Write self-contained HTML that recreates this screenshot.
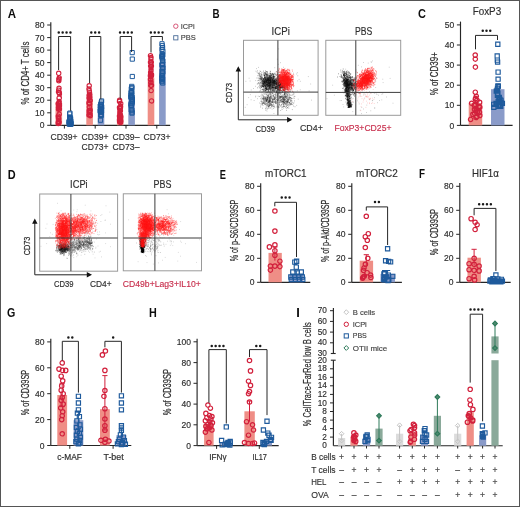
<!DOCTYPE html><html><head><meta charset="utf-8"><style>html,body{margin:0;padding:0;background:#fff}div{will-change:transform}svg{display:block}</style></head><body><div><svg width="520" height="507" viewBox="0 0 520 507" font-family="Liberation Sans, sans-serif"><rect x="0.5" y="0.5" width="519" height="506" fill="#fff" stroke="#555" stroke-width="1"/><text x="7.7" y="17.6" font-size="12.8" fill="#0d0d0d" font-weight="bold" textLength="8.3" lengthAdjust="spacingAndGlyphs">A</text><path d="M50.8 22.3L50.8 125.3" stroke="#262626" stroke-width="1.15"/><path d="M47.2 125.3L50.8 125.3" stroke="#262626" stroke-width="1"/><text x="44.6" y="128.4" font-size="9.0" fill="#2e2e2e" text-anchor="end" stroke="#2e2e2e" stroke-width="0.16" textLength="4.75" lengthAdjust="spacingAndGlyphs">0</text><path d="M47.2 112.8L50.8 112.8" stroke="#262626" stroke-width="1"/><text x="44.6" y="115.9" font-size="9.0" fill="#2e2e2e" text-anchor="end" stroke="#2e2e2e" stroke-width="0.16" textLength="9.5" lengthAdjust="spacingAndGlyphs">10</text><path d="M47.2 100.2L50.8 100.2" stroke="#262626" stroke-width="1"/><text x="44.6" y="103.3" font-size="9.0" fill="#2e2e2e" text-anchor="end" stroke="#2e2e2e" stroke-width="0.16" textLength="9.5" lengthAdjust="spacingAndGlyphs">20</text><path d="M47.2 87.7L50.8 87.7" stroke="#262626" stroke-width="1"/><text x="44.6" y="90.8" font-size="9.0" fill="#2e2e2e" text-anchor="end" stroke="#2e2e2e" stroke-width="0.16" textLength="9.5" lengthAdjust="spacingAndGlyphs">30</text><path d="M47.2 75.2L50.8 75.2" stroke="#262626" stroke-width="1"/><text x="44.6" y="78.3" font-size="9.0" fill="#2e2e2e" text-anchor="end" stroke="#2e2e2e" stroke-width="0.16" textLength="9.5" lengthAdjust="spacingAndGlyphs">40</text><path d="M47.2 62.6L50.8 62.6" stroke="#262626" stroke-width="1"/><text x="44.6" y="65.7" font-size="9.0" fill="#2e2e2e" text-anchor="end" stroke="#2e2e2e" stroke-width="0.16" textLength="9.5" lengthAdjust="spacingAndGlyphs">50</text><path d="M47.2 50.1L50.8 50.1" stroke="#262626" stroke-width="1"/><text x="44.6" y="53.2" font-size="9.0" fill="#2e2e2e" text-anchor="end" stroke="#2e2e2e" stroke-width="0.16" textLength="9.5" lengthAdjust="spacingAndGlyphs">60</text><path d="M47.2 37.6L50.8 37.6" stroke="#262626" stroke-width="1"/><text x="44.6" y="40.7" font-size="9.0" fill="#2e2e2e" text-anchor="end" stroke="#2e2e2e" stroke-width="0.16" textLength="9.5" lengthAdjust="spacingAndGlyphs">70</text><path d="M47.2 25.0L50.8 25.0" stroke="#262626" stroke-width="1"/><text x="44.6" y="28.1" font-size="9.0" fill="#2e2e2e" text-anchor="end" stroke="#2e2e2e" stroke-width="0.16" textLength="9.5" lengthAdjust="spacingAndGlyphs">80</text><path d="M50.8 125.3L170.2 125.3" stroke="#262626" stroke-width="1.15"/><path d="M64.4 125.3L64.4 128.6" stroke="#262626" stroke-width="1"/><path d="M95.2 125.3L95.2 128.6" stroke="#262626" stroke-width="1"/><path d="M126.0 125.3L126.0 128.6" stroke="#262626" stroke-width="1"/><path d="M156.8 125.3L156.8 128.6" stroke="#262626" stroke-width="1"/><text x="28.7" y="73.0" font-size="10" fill="#2e2e2e" text-anchor="middle" stroke="#2e2e2e" stroke-width="0.22" textLength="63" lengthAdjust="spacingAndGlyphs" transform="rotate(-90 28.7 73.0)">% of CD4+ T cells</text><rect x="55.5" y="102.7" width="6.6" height="22.6" fill="#ef8e86"/><rect x="66.7" y="119.7" width="6.6" height="5.6" fill="#8a9bc9"/><rect x="86.3" y="100.2" width="6.6" height="25.1" fill="#ef8e86"/><rect x="97.7" y="111.5" width="6.6" height="13.8" fill="#8a9bc9"/><rect x="116.9" y="115.3" width="6.6" height="10.0" fill="#ef8e86"/><rect x="128.3" y="100.2" width="6.6" height="25.1" fill="#8a9bc9"/><rect x="147.7" y="77.7" width="6.6" height="47.6" fill="#ef8e86"/><rect x="159.1" y="62.6" width="6.6" height="62.7" fill="#8a9bc9"/><path d="M56.5 73.3a2.2 2.2 0 1 0 4.4 0a2.2 2.2 0 1 0 -4.4 0M57.0 77.7a2.2 2.2 0 1 0 4.4 0a2.2 2.2 0 1 0 -4.4 0M56.6 78.9a2.2 2.2 0 1 0 4.4 0a2.2 2.2 0 1 0 -4.4 0M56.8 79.5a2.2 2.2 0 1 0 4.4 0a2.2 2.2 0 1 0 -4.4 0M56.6 80.8a2.2 2.2 0 1 0 4.4 0a2.2 2.2 0 1 0 -4.4 0M56.8 88.3a2.2 2.2 0 1 0 4.4 0a2.2 2.2 0 1 0 -4.4 0M56.5 90.2a2.2 2.2 0 1 0 4.4 0a2.2 2.2 0 1 0 -4.4 0M56.3 109.3a2.2 2.2 0 1 0 4.4 0a2.2 2.2 0 1 0 -4.4 0M57.2 105.8a2.2 2.2 0 1 0 4.4 0a2.2 2.2 0 1 0 -4.4 0M57.2 93.9a2.2 2.2 0 1 0 4.4 0a2.2 2.2 0 1 0 -4.4 0M57.0 108.9a2.2 2.2 0 1 0 4.4 0a2.2 2.2 0 1 0 -4.4 0M56.8 107.5a2.2 2.2 0 1 0 4.4 0a2.2 2.2 0 1 0 -4.4 0M56.4 104.9a2.2 2.2 0 1 0 4.4 0a2.2 2.2 0 1 0 -4.4 0M56.3 118.0a2.2 2.2 0 1 0 4.4 0a2.2 2.2 0 1 0 -4.4 0M56.3 107.4a2.2 2.2 0 1 0 4.4 0a2.2 2.2 0 1 0 -4.4 0M56.1 103.5a2.2 2.2 0 1 0 4.4 0a2.2 2.2 0 1 0 -4.4 0M56.9 98.2a2.2 2.2 0 1 0 4.4 0a2.2 2.2 0 1 0 -4.4 0M56.5 121.0a2.2 2.2 0 1 0 4.4 0a2.2 2.2 0 1 0 -4.4 0M57.0 114.2a2.2 2.2 0 1 0 4.4 0a2.2 2.2 0 1 0 -4.4 0M56.5 121.1a2.2 2.2 0 1 0 4.4 0a2.2 2.2 0 1 0 -4.4 0M57.1 97.7a2.2 2.2 0 1 0 4.4 0a2.2 2.2 0 1 0 -4.4 0M57.0 101.4a2.2 2.2 0 1 0 4.4 0a2.2 2.2 0 1 0 -4.4 0M56.0 122.7a2.2 2.2 0 1 0 4.4 0a2.2 2.2 0 1 0 -4.4 0M56.3 92.0a2.2 2.2 0 1 0 4.4 0a2.2 2.2 0 1 0 -4.4 0M57.1 92.6a2.2 2.2 0 1 0 4.4 0a2.2 2.2 0 1 0 -4.4 0M56.6 102.7a2.2 2.2 0 1 0 4.4 0a2.2 2.2 0 1 0 -4.4 0M57.2 104.0a2.2 2.2 0 1 0 4.4 0a2.2 2.2 0 1 0 -4.4 0M56.5 118.9a2.2 2.2 0 1 0 4.4 0a2.2 2.2 0 1 0 -4.4 0M56.1 123.6a2.2 2.2 0 1 0 4.4 0a2.2 2.2 0 1 0 -4.4 0M56.8 106.8a2.2 2.2 0 1 0 4.4 0a2.2 2.2 0 1 0 -4.4 0M56.9 122.1a2.2 2.2 0 1 0 4.4 0a2.2 2.2 0 1 0 -4.4 0M56.3 117.8a2.2 2.2 0 1 0 4.4 0a2.2 2.2 0 1 0 -4.4 0M56.1 116.2a2.2 2.2 0 1 0 4.4 0a2.2 2.2 0 1 0 -4.4 0M56.4 123.1a2.2 2.2 0 1 0 4.4 0a2.2 2.2 0 1 0 -4.4 0M57.2 108.9a2.2 2.2 0 1 0 4.4 0a2.2 2.2 0 1 0 -4.4 0" fill="none" stroke="#d2203c" stroke-width="1.05"/><path d="M67.8 111.0h4.2v4.2h-4.2zM67.6 111.9h4.2v4.2h-4.2zM67.7 115.4h4.2v4.2h-4.2zM68.4 121.5h4.2v4.2h-4.2zM68.2 120.3h4.2v4.2h-4.2zM67.7 121.6h4.2v4.2h-4.2zM68.3 122.0h4.2v4.2h-4.2zM67.6 115.1h4.2v4.2h-4.2zM67.8 120.9h4.2v4.2h-4.2zM68.3 117.3h4.2v4.2h-4.2zM68.0 118.4h4.2v4.2h-4.2zM67.5 120.8h4.2v4.2h-4.2zM68.4 115.7h4.2v4.2h-4.2zM67.6 121.3h4.2v4.2h-4.2zM67.7 116.5h4.2v4.2h-4.2zM68.2 121.5h4.2v4.2h-4.2z" fill="none" stroke="#1e5a9c" stroke-width="1.0"/><path d="M67.9 120.7h4.2v4.2h-4.2zM68.1 120.9h4.2v4.2h-4.2zM68.9 122.2h4.2v4.2h-4.2zM67.1 122.1h4.2v4.2h-4.2zM67.0 119.3h4.2v4.2h-4.2zM69.0 121.2h4.2v4.2h-4.2zM68.7 119.2h4.2v4.2h-4.2zM67.2 120.5h4.2v4.2h-4.2zM67.1 120.0h4.2v4.2h-4.2zM68.5 117.2h4.2v4.2h-4.2z" fill="none" stroke="#1e5a9c" stroke-width="1.0"/><path d="M87.0 85.8a2.2 2.2 0 1 0 4.4 0a2.2 2.2 0 1 0 -4.4 0M86.8 88.9a2.2 2.2 0 1 0 4.4 0a2.2 2.2 0 1 0 -4.4 0M87.1 90.8a2.2 2.2 0 1 0 4.4 0a2.2 2.2 0 1 0 -4.4 0M87.3 92.7a2.2 2.2 0 1 0 4.4 0a2.2 2.2 0 1 0 -4.4 0M86.9 95.3a2.2 2.2 0 1 0 4.4 0a2.2 2.2 0 1 0 -4.4 0M87.0 112.1a2.2 2.2 0 1 0 4.4 0a2.2 2.2 0 1 0 -4.4 0M87.2 95.1a2.2 2.2 0 1 0 4.4 0a2.2 2.2 0 1 0 -4.4 0M87.5 96.6a2.2 2.2 0 1 0 4.4 0a2.2 2.2 0 1 0 -4.4 0M87.0 102.9a2.2 2.2 0 1 0 4.4 0a2.2 2.2 0 1 0 -4.4 0M87.2 107.0a2.2 2.2 0 1 0 4.4 0a2.2 2.2 0 1 0 -4.4 0M87.9 114.2a2.2 2.2 0 1 0 4.4 0a2.2 2.2 0 1 0 -4.4 0M88.0 115.7a2.2 2.2 0 1 0 4.4 0a2.2 2.2 0 1 0 -4.4 0M87.6 94.8a2.2 2.2 0 1 0 4.4 0a2.2 2.2 0 1 0 -4.4 0M87.6 111.1a2.2 2.2 0 1 0 4.4 0a2.2 2.2 0 1 0 -4.4 0M87.5 100.6a2.2 2.2 0 1 0 4.4 0a2.2 2.2 0 1 0 -4.4 0M87.0 110.7a2.2 2.2 0 1 0 4.4 0a2.2 2.2 0 1 0 -4.4 0M86.8 97.9a2.2 2.2 0 1 0 4.4 0a2.2 2.2 0 1 0 -4.4 0M86.8 103.1a2.2 2.2 0 1 0 4.4 0a2.2 2.2 0 1 0 -4.4 0M87.9 109.9a2.2 2.2 0 1 0 4.4 0a2.2 2.2 0 1 0 -4.4 0M87.6 112.6a2.2 2.2 0 1 0 4.4 0a2.2 2.2 0 1 0 -4.4 0M88.0 100.3a2.2 2.2 0 1 0 4.4 0a2.2 2.2 0 1 0 -4.4 0M86.8 115.0a2.2 2.2 0 1 0 4.4 0a2.2 2.2 0 1 0 -4.4 0M87.6 111.4a2.2 2.2 0 1 0 4.4 0a2.2 2.2 0 1 0 -4.4 0M87.4 103.9a2.2 2.2 0 1 0 4.4 0a2.2 2.2 0 1 0 -4.4 0M87.7 97.3a2.2 2.2 0 1 0 4.4 0a2.2 2.2 0 1 0 -4.4 0M87.2 102.7a2.2 2.2 0 1 0 4.4 0a2.2 2.2 0 1 0 -4.4 0M88.0 110.2a2.2 2.2 0 1 0 4.4 0a2.2 2.2 0 1 0 -4.4 0M86.9 95.8a2.2 2.2 0 1 0 4.4 0a2.2 2.2 0 1 0 -4.4 0" fill="none" stroke="#d2203c" stroke-width="1.05"/><path d="M99.5 98.9h4.2v4.2h-4.2zM99.3 100.0h4.2v4.2h-4.2zM98.7 101.9h4.2v4.2h-4.2zM99.3 110.2h4.2v4.2h-4.2zM99.0 107.0h4.2v4.2h-4.2zM98.8 104.2h4.2v4.2h-4.2zM99.4 107.0h4.2v4.2h-4.2zM98.2 107.5h4.2v4.2h-4.2zM99.3 106.0h4.2v4.2h-4.2zM98.1 104.0h4.2v4.2h-4.2zM99.1 113.5h4.2v4.2h-4.2zM98.9 107.8h4.2v4.2h-4.2zM98.5 104.2h4.2v4.2h-4.2zM99.2 104.7h4.2v4.2h-4.2zM98.9 112.4h4.2v4.2h-4.2zM99.1 106.1h4.2v4.2h-4.2zM99.6 104.8h4.2v4.2h-4.2zM98.5 109.7h4.2v4.2h-4.2zM98.1 108.9h4.2v4.2h-4.2zM98.6 113.0h4.2v4.2h-4.2zM99.2 109.6h4.2v4.2h-4.2zM98.4 109.1h4.2v4.2h-4.2zM98.4 118.1h4.2v4.2h-4.2zM99.5 108.6h4.2v4.2h-4.2zM99.2 102.6h4.2v4.2h-4.2z" fill="none" stroke="#1e5a9c" stroke-width="1.0"/><path d="M117.4 100.2a2.2 2.2 0 1 0 4.4 0a2.2 2.2 0 1 0 -4.4 0M117.3 101.5a2.2 2.2 0 1 0 4.4 0a2.2 2.2 0 1 0 -4.4 0M118.5 103.4a2.2 2.2 0 1 0 4.4 0a2.2 2.2 0 1 0 -4.4 0M117.4 115.7a2.2 2.2 0 1 0 4.4 0a2.2 2.2 0 1 0 -4.4 0M118.3 107.3a2.2 2.2 0 1 0 4.4 0a2.2 2.2 0 1 0 -4.4 0M118.1 117.9a2.2 2.2 0 1 0 4.4 0a2.2 2.2 0 1 0 -4.4 0M117.7 111.5a2.2 2.2 0 1 0 4.4 0a2.2 2.2 0 1 0 -4.4 0M118.4 120.3a2.2 2.2 0 1 0 4.4 0a2.2 2.2 0 1 0 -4.4 0M117.3 115.9a2.2 2.2 0 1 0 4.4 0a2.2 2.2 0 1 0 -4.4 0M117.5 108.9a2.2 2.2 0 1 0 4.4 0a2.2 2.2 0 1 0 -4.4 0M117.9 106.9a2.2 2.2 0 1 0 4.4 0a2.2 2.2 0 1 0 -4.4 0M117.3 107.5a2.2 2.2 0 1 0 4.4 0a2.2 2.2 0 1 0 -4.4 0M118.5 116.8a2.2 2.2 0 1 0 4.4 0a2.2 2.2 0 1 0 -4.4 0M117.6 113.1a2.2 2.2 0 1 0 4.4 0a2.2 2.2 0 1 0 -4.4 0M117.5 118.1a2.2 2.2 0 1 0 4.4 0a2.2 2.2 0 1 0 -4.4 0M117.4 121.5a2.2 2.2 0 1 0 4.4 0a2.2 2.2 0 1 0 -4.4 0M118.2 114.7a2.2 2.2 0 1 0 4.4 0a2.2 2.2 0 1 0 -4.4 0M117.9 108.3a2.2 2.2 0 1 0 4.4 0a2.2 2.2 0 1 0 -4.4 0M118.2 108.1a2.2 2.2 0 1 0 4.4 0a2.2 2.2 0 1 0 -4.4 0M118.2 110.7a2.2 2.2 0 1 0 4.4 0a2.2 2.2 0 1 0 -4.4 0M118.4 106.2a2.2 2.2 0 1 0 4.4 0a2.2 2.2 0 1 0 -4.4 0M118.6 121.3a2.2 2.2 0 1 0 4.4 0a2.2 2.2 0 1 0 -4.4 0M118.3 122.4a2.2 2.2 0 1 0 4.4 0a2.2 2.2 0 1 0 -4.4 0M117.6 119.5a2.2 2.2 0 1 0 4.4 0a2.2 2.2 0 1 0 -4.4 0M118.0 121.3a2.2 2.2 0 1 0 4.4 0a2.2 2.2 0 1 0 -4.4 0M117.6 121.9a2.2 2.2 0 1 0 4.4 0a2.2 2.2 0 1 0 -4.4 0M117.3 119.9a2.2 2.2 0 1 0 4.4 0a2.2 2.2 0 1 0 -4.4 0M118.0 117.8a2.2 2.2 0 1 0 4.4 0a2.2 2.2 0 1 0 -4.4 0M118.3 119.1a2.2 2.2 0 1 0 4.4 0a2.2 2.2 0 1 0 -4.4 0M117.6 120.9a2.2 2.2 0 1 0 4.4 0a2.2 2.2 0 1 0 -4.4 0M117.7 115.6a2.2 2.2 0 1 0 4.4 0a2.2 2.2 0 1 0 -4.4 0M117.8 114.2a2.2 2.2 0 1 0 4.4 0a2.2 2.2 0 1 0 -4.4 0M118.3 119.5a2.2 2.2 0 1 0 4.4 0a2.2 2.2 0 1 0 -4.4 0" fill="none" stroke="#d2203c" stroke-width="1.05"/><path d="M130.1 50.5h4.2v4.2h-4.2zM130.2 57.0h4.2v4.2h-4.2zM130.2 74.4h4.2v4.2h-4.2zM129.6 84.3h4.2v4.2h-4.2zM129.9 85.6h4.2v4.2h-4.2zM129.2 86.8h4.2v4.2h-4.2zM130.1 100.1h4.2v4.2h-4.2zM130.0 97.8h4.2v4.2h-4.2zM129.3 94.2h4.2v4.2h-4.2zM128.9 103.3h4.2v4.2h-4.2zM129.4 93.3h4.2v4.2h-4.2zM129.6 90.5h4.2v4.2h-4.2zM129.9 111.0h4.2v4.2h-4.2zM129.5 89.8h4.2v4.2h-4.2zM128.8 95.1h4.2v4.2h-4.2zM129.9 109.9h4.2v4.2h-4.2zM128.9 101.8h4.2v4.2h-4.2zM129.9 97.5h4.2v4.2h-4.2zM129.0 90.4h4.2v4.2h-4.2zM129.3 103.7h4.2v4.2h-4.2zM129.9 98.9h4.2v4.2h-4.2zM129.0 91.1h4.2v4.2h-4.2zM129.0 93.2h4.2v4.2h-4.2zM129.5 89.5h4.2v4.2h-4.2zM129.8 101.5h4.2v4.2h-4.2zM130.0 96.8h4.2v4.2h-4.2zM129.8 108.0h4.2v4.2h-4.2zM130.1 95.1h4.2v4.2h-4.2zM129.5 92.7h4.2v4.2h-4.2zM130.1 97.1h4.2v4.2h-4.2zM128.9 95.2h4.2v4.2h-4.2zM129.1 107.8h4.2v4.2h-4.2z" fill="none" stroke="#1e5a9c" stroke-width="1.0"/><path d="M148.3 55.7a2.2 2.2 0 1 0 4.4 0a2.2 2.2 0 1 0 -4.4 0M148.8 57.6a2.2 2.2 0 1 0 4.4 0a2.2 2.2 0 1 0 -4.4 0M148.7 58.9a2.2 2.2 0 1 0 4.4 0a2.2 2.2 0 1 0 -4.4 0M149.3 100.9a2.2 2.2 0 1 0 4.4 0a2.2 2.2 0 1 0 -4.4 0M149.3 75.6a2.2 2.2 0 1 0 4.4 0a2.2 2.2 0 1 0 -4.4 0M148.5 82.7a2.2 2.2 0 1 0 4.4 0a2.2 2.2 0 1 0 -4.4 0M148.8 69.5a2.2 2.2 0 1 0 4.4 0a2.2 2.2 0 1 0 -4.4 0M148.4 72.2a2.2 2.2 0 1 0 4.4 0a2.2 2.2 0 1 0 -4.4 0M148.7 75.7a2.2 2.2 0 1 0 4.4 0a2.2 2.2 0 1 0 -4.4 0M149.2 66.1a2.2 2.2 0 1 0 4.4 0a2.2 2.2 0 1 0 -4.4 0M149.3 74.6a2.2 2.2 0 1 0 4.4 0a2.2 2.2 0 1 0 -4.4 0M148.8 82.1a2.2 2.2 0 1 0 4.4 0a2.2 2.2 0 1 0 -4.4 0M148.6 80.0a2.2 2.2 0 1 0 4.4 0a2.2 2.2 0 1 0 -4.4 0M148.4 66.0a2.2 2.2 0 1 0 4.4 0a2.2 2.2 0 1 0 -4.4 0M148.9 64.4a2.2 2.2 0 1 0 4.4 0a2.2 2.2 0 1 0 -4.4 0M149.3 85.2a2.2 2.2 0 1 0 4.4 0a2.2 2.2 0 1 0 -4.4 0M148.4 65.9a2.2 2.2 0 1 0 4.4 0a2.2 2.2 0 1 0 -4.4 0M149.1 62.3a2.2 2.2 0 1 0 4.4 0a2.2 2.2 0 1 0 -4.4 0M148.2 75.7a2.2 2.2 0 1 0 4.4 0a2.2 2.2 0 1 0 -4.4 0M148.4 74.2a2.2 2.2 0 1 0 4.4 0a2.2 2.2 0 1 0 -4.4 0M148.5 85.4a2.2 2.2 0 1 0 4.4 0a2.2 2.2 0 1 0 -4.4 0M149.0 75.3a2.2 2.2 0 1 0 4.4 0a2.2 2.2 0 1 0 -4.4 0M148.6 76.3a2.2 2.2 0 1 0 4.4 0a2.2 2.2 0 1 0 -4.4 0M148.6 73.2a2.2 2.2 0 1 0 4.4 0a2.2 2.2 0 1 0 -4.4 0M148.9 90.6a2.2 2.2 0 1 0 4.4 0a2.2 2.2 0 1 0 -4.4 0M148.3 62.3a2.2 2.2 0 1 0 4.4 0a2.2 2.2 0 1 0 -4.4 0M149.1 75.9a2.2 2.2 0 1 0 4.4 0a2.2 2.2 0 1 0 -4.4 0M148.3 79.4a2.2 2.2 0 1 0 4.4 0a2.2 2.2 0 1 0 -4.4 0M148.8 67.4a2.2 2.2 0 1 0 4.4 0a2.2 2.2 0 1 0 -4.4 0M148.5 74.5a2.2 2.2 0 1 0 4.4 0a2.2 2.2 0 1 0 -4.4 0M148.4 76.7a2.2 2.2 0 1 0 4.4 0a2.2 2.2 0 1 0 -4.4 0M148.8 70.7a2.2 2.2 0 1 0 4.4 0a2.2 2.2 0 1 0 -4.4 0" fill="none" stroke="#d2203c" stroke-width="1.05"/><path d="M159.9 41.7h4.2v4.2h-4.2zM160.2 43.6h4.2v4.2h-4.2zM160.5 45.5h4.2v4.2h-4.2zM159.8 47.4h4.2v4.2h-4.2zM160.0 69.0h4.2v4.2h-4.2zM160.5 71.2h4.2v4.2h-4.2zM160.7 69.8h4.2v4.2h-4.2zM160.8 65.8h4.2v4.2h-4.2zM159.9 78.7h4.2v4.2h-4.2zM160.3 77.2h4.2v4.2h-4.2zM160.6 62.2h4.2v4.2h-4.2zM160.3 61.9h4.2v4.2h-4.2zM160.5 65.8h4.2v4.2h-4.2zM160.0 54.5h4.2v4.2h-4.2zM159.9 62.9h4.2v4.2h-4.2zM159.9 54.3h4.2v4.2h-4.2zM159.8 76.2h4.2v4.2h-4.2zM160.4 58.3h4.2v4.2h-4.2zM160.3 55.9h4.2v4.2h-4.2zM160.4 52.7h4.2v4.2h-4.2zM159.9 73.3h4.2v4.2h-4.2zM160.0 73.3h4.2v4.2h-4.2zM160.0 52.0h4.2v4.2h-4.2zM160.6 76.7h4.2v4.2h-4.2zM160.8 49.3h4.2v4.2h-4.2zM160.7 53.2h4.2v4.2h-4.2zM159.9 79.6h4.2v4.2h-4.2zM159.9 75.9h4.2v4.2h-4.2zM160.8 58.8h4.2v4.2h-4.2zM160.3 75.2h4.2v4.2h-4.2zM160.6 80.9h4.2v4.2h-4.2zM160.1 55.1h4.2v4.2h-4.2zM160.3 69.5h4.2v4.2h-4.2zM160.3 56.6h4.2v4.2h-4.2z" fill="none" stroke="#1e5a9c" stroke-width="1.0"/><path d="M58.6 70.0V36.5H70.6V110.8" fill="none" stroke="#262626" stroke-width="1.0"/><path d="M57.50 32.4a1.25 1.25 0 1 0 2.5 0a1.25 1.25 0 1 0 -2.5 0M61.40 32.4a1.25 1.25 0 1 0 2.5 0a1.25 1.25 0 1 0 -2.5 0M65.30 32.4a1.25 1.25 0 1 0 2.5 0a1.25 1.25 0 1 0 -2.5 0M69.20 32.4a1.25 1.25 0 1 0 2.5 0a1.25 1.25 0 1 0 -2.5 0" fill="#1a1a1a"/><path d="M89.6 83.0V36.5H100.8V99.2" fill="none" stroke="#262626" stroke-width="1.0"/><path d="M90.05 32.4a1.25 1.25 0 1 0 2.5 0a1.25 1.25 0 1 0 -2.5 0M93.95 32.4a1.25 1.25 0 1 0 2.5 0a1.25 1.25 0 1 0 -2.5 0M97.85 32.4a1.25 1.25 0 1 0 2.5 0a1.25 1.25 0 1 0 -2.5 0" fill="#1a1a1a"/><path d="M120.2 99.0V36.5H131.6V52.0" fill="none" stroke="#262626" stroke-width="1.0"/><path d="M118.80 32.4a1.25 1.25 0 1 0 2.5 0a1.25 1.25 0 1 0 -2.5 0M122.70 32.4a1.25 1.25 0 1 0 2.5 0a1.25 1.25 0 1 0 -2.5 0M126.60 32.4a1.25 1.25 0 1 0 2.5 0a1.25 1.25 0 1 0 -2.5 0M130.50 32.4a1.25 1.25 0 1 0 2.5 0a1.25 1.25 0 1 0 -2.5 0" fill="#1a1a1a"/><path d="M151.0 52.5V36.5H162.4V40.7" fill="none" stroke="#262626" stroke-width="1.0"/><path d="M149.60 32.4a1.25 1.25 0 1 0 2.5 0a1.25 1.25 0 1 0 -2.5 0M153.50 32.4a1.25 1.25 0 1 0 2.5 0a1.25 1.25 0 1 0 -2.5 0M157.40 32.4a1.25 1.25 0 1 0 2.5 0a1.25 1.25 0 1 0 -2.5 0M161.30 32.4a1.25 1.25 0 1 0 2.5 0a1.25 1.25 0 1 0 -2.5 0" fill="#1a1a1a"/><circle cx="175.8" cy="26.2" r="2.2" fill="none" stroke="#d2456a" stroke-width="0.9"/><text x="180.8" y="28.7" font-size="7.6" fill="#444" stroke="#444" stroke-width="0.16" textLength="13.8" lengthAdjust="spacingAndGlyphs">ICPi</text><rect x="173.7" y="35.7" width="4.2" height="4.2" fill="none" stroke="#4a6c98" stroke-width="0.9"/><text x="180.8" y="40.4" font-size="7.6" fill="#444" stroke="#444" stroke-width="0.16" textLength="15" lengthAdjust="spacingAndGlyphs">PBS</text><text x="64.0" y="139.5" font-size="9.6" fill="#2e2e2e" text-anchor="middle" stroke="#2e2e2e" stroke-width="0.16" textLength="27" lengthAdjust="spacingAndGlyphs">CD39+</text><text x="95.0" y="139.5" font-size="9.6" fill="#2e2e2e" text-anchor="middle" stroke="#2e2e2e" stroke-width="0.16" textLength="27" lengthAdjust="spacingAndGlyphs">CD39+</text><text x="95.0" y="149.7" font-size="9.6" fill="#2e2e2e" text-anchor="middle" stroke="#2e2e2e" stroke-width="0.16" textLength="27" lengthAdjust="spacingAndGlyphs">CD73+</text><text x="126.0" y="139.5" font-size="9.6" fill="#2e2e2e" text-anchor="middle" stroke="#2e2e2e" stroke-width="0.16" textLength="27" lengthAdjust="spacingAndGlyphs">CD39–</text><text x="126.0" y="149.7" font-size="9.6" fill="#2e2e2e" text-anchor="middle" stroke="#2e2e2e" stroke-width="0.16" textLength="27" lengthAdjust="spacingAndGlyphs">CD73–</text><text x="157.0" y="139.5" font-size="9.6" fill="#2e2e2e" text-anchor="middle" stroke="#2e2e2e" stroke-width="0.16" textLength="27" lengthAdjust="spacingAndGlyphs">CD73+</text><text x="212.6" y="17.6" font-size="12.8" fill="#0d0d0d" font-weight="bold" textLength="7.1" lengthAdjust="spacingAndGlyphs">B</text><text x="280.7" y="34.8" font-size="10.3" fill="#2e2e2e" text-anchor="middle" stroke="#2e2e2e" stroke-width="0.16" textLength="18.2" lengthAdjust="spacingAndGlyphs">ICPi</text><text x="363.6" y="34.8" font-size="10.3" fill="#2e2e2e" text-anchor="middle" stroke="#2e2e2e" stroke-width="0.16" textLength="17.3" lengthAdjust="spacingAndGlyphs">PBS</text><rect x="243.5" y="40.3" width="74.6" height="75.0" fill="none" stroke="#9a9a9a" stroke-width="1"/><rect x="325.8" y="40.3" width="74.9" height="75.0" fill="none" stroke="#9a9a9a" stroke-width="1"/><path d="M255.4 96.1h0.8M299.8 89.8h0.8M280.6 80.7h0.8M249.9 94.6h0.8M266.3 93.2h0.8M284.8 102.5h0.8M308.7 90.9h0.8M283.0 67.3h0.8M289.4 72.9h0.8M257.1 98.7h0.8M279.2 77.8h0.8M297.4 75.8h0.8M280.1 62.7h0.8M246.7 104.7h0.8M293.0 73.2h0.8M277.9 64.3h0.8M253.7 100.5h0.8M288.2 93.5h0.8M272.7 88.4h0.8M260.9 103.7h0.8M266.7 80.8h0.8M297.3 80.9h0.8M262.7 105.5h0.8M257.1 80.7h0.8M259.4 71.0h0.8M278.3 48.9h0.8M296.9 90.8h0.8M274.1 77.2h0.8M270.8 90.6h0.8M280.2 100.8h0.8M284.9 94.2h0.8M291.8 78.1h0.8M256.1 68.6h0.8M294.2 96.7h0.8M275.3 83.8h0.8M283.6 84.5h0.8M265.4 89.5h0.8M253.0 88.5h0.8M311.0 100.1h0.8M257.8 96.2h0.8M262.5 80.3h0.8M269.8 107.9h0.8M262.9 83.7h0.8M272.2 76.5h0.8M286.9 88.9h0.8M284.0 90.2h0.8M275.5 74.1h0.8M296.3 74.0h0.8M280.9 86.1h0.8M289.1 79.7h0.8M275.8 105.0h0.8M298.7 79.4h0.8M283.9 70.6h0.8M291.8 101.0h0.8M264.6 90.6h0.8M293.6 93.5h0.8M287.3 98.7h0.8M266.3 74.6h0.8M273.4 106.4h0.8M250.7 99.8h0.8M299.9 81.3h0.8M275.6 94.9h0.8M296.9 72.7h0.8M264.3 78.7h0.8M271.7 109.1h0.8M255.3 80.6h0.8M257.1 70.6h0.8M279.5 97.8h0.8M310.3 84.0h0.8M278.3 85.3h0.8M286.8 92.1h0.8M255.1 96.9h0.8M291.0 98.5h0.8M281.1 90.6h0.8M266.0 72.2h0.8M264.5 78.1h0.8M264.1 89.3h0.8M260.3 107.2h0.8M278.3 83.3h0.8M296.3 105.4h0.8M255.5 71.2h0.8M278.9 102.3h0.8M273.5 113.5h0.8M259.2 103.0h0.8M289.2 87.2h0.8M249.7 81.0h0.8M289.9 80.9h0.8M270.1 92.6h0.8M279.6 84.0h0.8M292.9 97.0h0.8M250.8 90.0h0.8M266.6 111.1h0.8M284.8 92.5h0.8M271.5 83.1h0.8M266.5 109.2h0.8M270.5 77.3h0.8M284.4 98.3h0.8M272.7 74.8h0.8M293.6 102.8h0.8M307.9 76.6h0.8M248.3 97.6h0.8M270.3 99.5h0.8M244.8 107.3h0.8M284.5 81.5h0.8M265.1 98.2h0.8M264.5 98.6h0.8M267.0 94.0h0.8M248.7 78.2h0.8M245.5 81.3h0.8M265.8 84.6h0.8M276.9 59.2h0.8M274.3 90.9h0.8M255.0 86.3h0.8M258.2 67.4h0.8M293.5 94.9h0.8M276.6 82.3h0.8M297.8 99.2h0.8M280.4 84.5h0.8M269.1 82.2h0.8M274.4 67.7h0.8" stroke="#000" stroke-width="0.8" stroke-opacity="0.3" fill="none"/><path d="M269.1 85.4h0.8M269.6 76.3h0.8M269.5 77.3h0.8M261.6 92.0h0.8M266.0 76.8h0.8M260.6 79.5h0.8M265.9 71.5h0.8M260.4 86.0h0.8M263.7 73.4h0.8M272.5 73.8h0.8M279.4 75.2h0.8M264.8 77.1h0.8M266.6 73.5h0.8M264.0 83.9h0.8M274.4 88.7h0.8M274.2 82.2h0.8M270.8 85.0h0.8M265.0 83.4h0.8M270.9 81.8h0.8M268.0 84.1h0.8M263.4 74.9h0.8M269.8 83.6h0.8M262.1 83.0h0.8M270.2 81.4h0.8M271.7 84.2h0.8M269.8 85.5h0.8M267.5 75.6h0.8M269.6 85.1h0.8M268.4 84.8h0.8M269.2 77.9h0.8M259.5 78.5h0.8M264.8 82.1h0.8M278.1 75.9h0.8M265.3 86.7h0.8M275.0 81.1h0.8M269.3 83.5h0.8M278.2 80.0h0.8M264.0 85.4h0.8M264.7 81.2h0.8M276.9 82.3h0.8M269.1 82.7h0.8M263.9 82.3h0.8M271.5 75.0h0.8M266.5 80.1h0.8M271.6 85.7h0.8M268.4 91.6h0.8M261.4 80.6h0.8M273.2 82.2h0.8M266.0 81.1h0.8M269.0 81.8h0.8M273.5 74.1h0.8M270.0 80.3h0.8M267.9 89.4h0.8M274.1 85.6h0.8M259.9 76.3h0.8M265.9 89.7h0.8M258.6 86.4h0.8M277.5 87.6h0.8M270.7 87.9h0.8M265.9 81.3h0.8M271.3 78.6h0.8M268.2 83.7h0.8M266.9 86.8h0.8M267.9 77.5h0.8M268.0 79.8h0.8M264.3 84.9h0.8M278.9 81.0h0.8M268.5 81.3h0.8M262.9 86.7h0.8M269.5 88.2h0.8M268.2 82.1h0.8M278.7 82.4h0.8M271.0 88.5h0.8M267.7 86.4h0.8M264.6 80.6h0.8M266.2 85.8h0.8M266.9 78.6h0.8M271.7 89.6h0.8M262.8 91.5h0.8M261.0 78.3h0.8M264.0 89.4h0.8M271.5 83.7h0.8M275.7 86.6h0.8M268.1 79.0h0.8M260.6 86.5h0.8M267.0 80.7h0.8M269.5 84.8h0.8M272.9 85.8h0.8M279.9 87.7h0.8M263.2 84.0h0.8M263.5 75.0h0.8M271.3 78.0h0.8M266.3 86.1h0.8M274.4 83.0h0.8M271.0 75.4h0.8M268.2 81.3h0.8M266.6 85.6h0.8M267.5 80.0h0.8M264.4 85.6h0.8M271.4 73.6h0.8M266.6 80.0h0.8M270.2 71.8h0.8M264.2 80.2h0.8M266.0 81.7h0.8M260.5 80.5h0.8M270.8 79.4h0.8M276.1 80.4h0.8M269.7 83.9h0.8M269.2 88.3h0.8M267.4 77.8h0.8M273.6 80.5h0.8M266.3 82.3h0.8M271.9 81.8h0.8M274.6 79.1h0.8M262.6 79.1h0.8M267.9 92.3h0.8M278.9 82.4h0.8M266.8 80.3h0.8M271.0 78.7h0.8M272.2 80.1h0.8M259.9 77.2h0.8M271.7 87.8h0.8M270.2 82.7h0.8M276.3 80.1h0.8M266.1 88.4h0.8M268.6 77.3h0.8M260.8 76.6h0.8M272.6 82.6h0.8M266.1 82.3h0.8M263.7 85.6h0.8M272.0 87.4h0.8M268.4 88.1h0.8M265.2 87.6h0.8M276.8 84.4h0.8M277.4 92.3h0.8M264.1 78.4h0.8M262.6 85.0h0.8M265.6 74.2h0.8M269.1 76.5h0.8M279.3 82.6h0.8M272.4 78.4h0.8M262.6 83.9h0.8M274.5 79.2h0.8M263.3 80.7h0.8M272.9 80.0h0.8M277.2 85.3h0.8M276.1 78.1h0.8M261.6 76.8h0.8M266.6 87.8h0.8M271.5 83.3h0.8M263.0 83.3h0.8M267.6 82.8h0.8M266.8 76.3h0.8M269.3 86.1h0.8M265.9 83.9h0.8M279.8 87.3h0.8M276.8 81.2h0.8M272.8 78.6h0.8M270.3 78.9h0.8M268.9 75.8h0.8M271.0 80.9h0.8M269.7 79.7h0.8M273.0 82.4h0.8M267.5 85.9h0.8M279.6 86.8h0.8M271.2 77.8h0.8M264.6 86.6h0.8M270.3 82.5h0.8M272.7 79.9h0.8M275.0 81.8h0.8M270.2 86.0h0.8M279.2 78.2h0.8M272.5 90.9h0.8M265.3 86.0h0.8M274.2 91.1h0.8M272.6 82.2h0.8M266.6 79.5h0.8M270.3 81.1h0.8M275.8 87.4h0.8M264.5 91.1h0.8M274.8 77.0h0.8M274.5 88.0h0.8M274.4 80.5h0.8M272.4 83.9h0.8M266.0 88.8h0.8M270.1 84.9h0.8M269.7 89.1h0.8M270.3 77.7h0.8M263.1 73.0h0.8M265.7 79.9h0.8M265.1 92.0h0.8M266.8 78.5h0.8M267.5 80.3h0.8M274.8 82.0h0.8M262.5 80.4h0.8M276.0 84.4h0.8M268.1 85.5h0.8M269.8 80.1h0.8M267.0 89.6h0.8M269.1 85.9h0.8M265.7 80.8h0.8M274.9 83.6h0.8M269.0 77.3h0.8M274.7 80.1h0.8M271.9 87.8h0.8M265.9 78.2h0.8M263.9 74.5h0.8M262.6 80.8h0.8M273.6 76.4h0.8M273.3 89.8h0.8M272.8 88.0h0.8M269.5 87.2h0.8M270.4 73.8h0.8M270.0 78.7h0.8M265.2 81.9h0.8M263.4 78.8h0.8M276.1 84.0h0.8M267.5 75.8h0.8M271.4 80.1h0.8M269.6 82.8h0.8M263.2 81.6h0.8M265.1 83.0h0.8M269.6 80.3h0.8M274.9 79.1h0.8M259.8 78.9h0.8M269.2 84.7h0.8M268.4 83.2h0.8M266.0 87.9h0.8M264.8 81.0h0.8M267.0 80.7h0.8M270.4 79.5h0.8M268.9 84.8h0.8M265.3 73.3h0.8M269.4 80.4h0.8M264.6 84.0h0.8M275.0 84.0h0.8M272.7 86.5h0.8M269.0 80.6h0.8M269.7 92.1h0.8M272.4 86.0h0.8M267.3 86.6h0.8M270.3 82.7h0.8M278.2 82.6h0.8M268.6 78.5h0.8M268.9 88.0h0.8M269.3 87.3h0.8M273.7 80.5h0.8M267.8 81.0h0.8M262.6 85.4h0.8M273.6 84.0h0.8M265.3 72.7h0.8M259.5 75.8h0.8M263.8 82.6h0.8M271.9 78.4h0.8M269.7 78.8h0.8M267.0 84.3h0.8M265.9 80.9h0.8M270.1 85.3h0.8M264.5 82.4h0.8M264.4 73.0h0.8M270.5 86.6h0.8M276.4 85.9h0.8M266.2 84.7h0.8M272.4 82.7h0.8M268.6 86.7h0.8M276.6 79.2h0.8M268.4 86.4h0.8M276.2 91.9h0.8M263.1 87.8h0.8M267.0 71.6h0.8M273.7 83.0h0.8M267.3 83.2h0.8M272.5 79.5h0.8M269.8 76.3h0.8M274.1 84.1h0.8M269.1 83.4h0.8M273.2 87.6h0.8M273.6 83.2h0.8M263.0 84.2h0.8M274.6 88.1h0.8M268.4 89.6h0.8M267.5 79.5h0.8M270.2 85.8h0.8M267.7 77.2h0.8M260.8 87.5h0.8M269.7 86.0h0.8M266.9 84.6h0.8M270.2 82.4h0.8M264.2 77.1h0.8M266.6 88.6h0.8M272.3 80.7h0.8M266.0 75.2h0.8M279.4 80.3h0.8M269.7 88.8h0.8M273.8 85.1h0.8M267.5 82.9h0.8M265.4 84.5h0.8M264.6 81.7h0.8M272.0 86.3h0.8M265.8 82.2h0.8M267.0 78.8h0.8M273.1 84.8h0.8M266.3 83.0h0.8M261.7 77.7h0.8M261.1 78.9h0.8M274.3 83.2h0.8M267.7 83.2h0.8M267.5 82.8h0.8M261.8 81.5h0.8M264.3 82.4h0.8M269.0 83.0h0.8M262.5 89.7h0.8M265.1 80.2h0.8M267.3 79.2h0.8M261.7 82.6h0.8M273.9 81.2h0.8M257.5 75.7h0.8M270.0 75.4h0.8M265.0 78.3h0.8M265.3 83.6h0.8M274.3 73.8h0.8M260.3 88.3h0.8M271.8 82.9h0.8M264.4 81.4h0.8M259.5 91.2h0.8M271.1 84.7h0.8M270.1 89.2h0.8M269.0 82.2h0.8M263.8 80.2h0.8M269.4 87.6h0.8M265.0 76.8h0.8M264.1 77.2h0.8M275.9 71.6h0.8M266.5 85.6h0.8M272.5 79.6h0.8M267.2 74.6h0.8M270.4 79.6h0.8M264.5 77.8h0.8M264.2 79.8h0.8M267.0 89.6h0.8M265.1 80.9h0.8M269.0 86.2h0.8M271.8 87.4h0.8M270.4 83.4h0.8M271.3 83.1h0.8M268.3 79.7h0.8M260.1 83.7h0.8M265.8 82.1h0.8M276.3 75.5h0.8M272.9 83.6h0.8M259.4 80.7h0.8M262.3 86.2h0.8M268.9 89.6h0.8M266.7 85.6h0.8M269.6 72.9h0.8M272.3 76.8h0.8M261.6 84.9h0.8M261.7 75.1h0.8M269.9 79.7h0.8M263.2 86.5h0.8M269.4 85.1h0.8M276.1 83.2h0.8M274.5 87.9h0.8M262.3 84.7h0.8M259.0 87.8h0.8M270.7 82.0h0.8M268.4 79.6h0.8M273.3 83.4h0.8M272.5 85.2h0.8M275.7 83.6h0.8M263.8 82.0h0.8M265.5 89.7h0.8M271.3 78.9h0.8M263.2 85.7h0.8M262.6 86.1h0.8M259.7 78.7h0.8M271.0 84.5h0.8M278.8 89.8h0.8M268.9 87.5h0.8M272.5 85.2h0.8M275.9 83.4h0.8M273.7 87.7h0.8M268.4 85.3h0.8M263.9 82.1h0.8M268.9 83.5h0.8M279.5 86.9h0.8M268.2 83.7h0.8M271.6 87.2h0.8M272.6 82.3h0.8M273.2 78.3h0.8M260.6 85.7h0.8M267.5 82.9h0.8M261.5 79.2h0.8M265.9 79.0h0.8M279.0 79.3h0.8M274.8 82.3h0.8M273.4 75.8h0.8M269.6 83.0h0.8M270.3 84.2h0.8M273.5 84.4h0.8M269.1 77.9h0.8M268.2 81.9h0.8M275.6 83.0h0.8M272.5 74.4h0.8M268.5 77.2h0.8M272.3 73.8h0.8M279.7 89.9h0.8M262.1 85.7h0.8M269.0 92.5h0.8M276.0 83.5h0.8M269.8 86.8h0.8M263.6 86.6h0.8M270.9 77.9h0.8M265.7 78.3h0.8M266.9 92.0h0.8M268.0 83.8h0.8M264.5 88.4h0.8M271.1 89.8h0.8M261.2 79.2h0.8M270.1 84.1h0.8M272.1 85.7h0.8M268.3 82.2h0.8M263.5 81.4h0.8M266.1 87.1h0.8M272.5 81.4h0.8M272.5 79.4h0.8M269.1 79.7h0.8M274.7 82.1h0.8M272.7 81.5h0.8M261.9 85.4h0.8M270.9 85.6h0.8M263.2 71.1h0.8M267.5 84.6h0.8M273.6 87.8h0.8M263.4 86.3h0.8M270.8 88.6h0.8M277.1 76.6h0.8M264.6 77.5h0.8M266.6 80.8h0.8M273.3 76.2h0.8M261.4 83.4h0.8M264.3 83.9h0.8M269.9 88.5h0.8M263.2 78.9h0.8M276.4 84.0h0.8M262.2 83.5h0.8M258.6 74.9h0.8M272.5 86.7h0.8M277.8 82.4h0.8M265.6 88.9h0.8M274.5 82.2h0.8M270.9 80.3h0.8M275.3 82.2h0.8M270.0 91.2h0.8M261.5 72.3h0.8M273.6 74.9h0.8M279.0 86.7h0.8M268.0 78.4h0.8M271.1 77.3h0.8M258.5 78.9h0.8M270.5 85.8h0.8M267.7 80.4h0.8M260.1 78.4h0.8M265.0 81.8h0.8M272.3 73.4h0.8M269.9 76.1h0.8M277.0 77.9h0.8M272.0 86.0h0.8M270.2 82.9h0.8M262.9 89.3h0.8M270.4 80.1h0.8M271.2 86.5h0.8M273.4 77.0h0.8M270.7 81.1h0.8M272.7 82.1h0.8M261.4 74.2h0.8M268.5 78.8h0.8M266.2 77.3h0.8M273.9 82.9h0.8M266.0 87.9h0.8M267.7 88.3h0.8M267.8 79.1h0.8M274.8 87.8h0.8M266.2 82.3h0.8M278.6 90.4h0.8M265.1 78.8h0.8M265.8 74.4h0.8M266.0 84.9h0.8M266.5 83.2h0.8M265.1 78.0h0.8M271.4 77.8h0.8M262.8 83.0h0.8M273.6 80.8h0.8M267.9 78.6h0.8M265.1 79.8h0.8M272.1 79.5h0.8M274.0 76.8h0.8M256.9 84.0h0.8M262.2 86.5h0.8M264.3 78.5h0.8M274.2 84.4h0.8M267.9 86.9h0.8M273.3 81.3h0.8M266.3 75.0h0.8M269.2 86.9h0.8M276.7 90.2h0.8M268.9 87.0h0.8M263.6 88.9h0.8M273.3 77.2h0.8M266.6 81.2h0.8M270.8 80.9h0.8M265.6 85.2h0.8M267.6 74.9h0.8M262.6 89.9h0.8M270.1 81.8h0.8M264.9 77.7h0.8M265.1 85.7h0.8M265.8 88.2h0.8M257.7 73.2h0.8M261.0 86.8h0.8M264.1 75.6h0.8M271.0 82.2h0.8M263.7 82.7h0.8M266.9 79.0h0.8M272.7 82.1h0.8M266.9 83.8h0.8M262.0 86.2h0.8M271.8 83.7h0.8M264.5 76.2h0.8M268.8 78.3h0.8M272.3 75.1h0.8M269.4 79.7h0.8M268.1 82.1h0.8M277.3 73.9h0.8M269.9 81.4h0.8M265.0 86.4h0.8M266.4 81.3h0.8M270.1 78.2h0.8M266.2 81.6h0.8M266.4 80.7h0.8M274.5 85.5h0.8M266.4 89.7h0.8M269.1 86.9h0.8M272.6 83.4h0.8M262.4 83.2h0.8M258.8 83.4h0.8M277.3 88.4h0.8M277.1 93.2h0.8M263.6 80.8h0.8M260.8 75.1h0.8M274.4 81.4h0.8M272.1 82.5h0.8M272.7 75.3h0.8M268.3 79.2h0.8M267.7 81.7h0.8M272.5 84.9h0.8M276.6 81.2h0.8M270.0 80.9h0.8M267.1 82.8h0.8M268.8 84.3h0.8M273.2 80.3h0.8M261.2 81.8h0.8M278.9 75.3h0.8M263.2 79.2h0.8M273.5 79.7h0.8M266.3 89.2h0.8M268.7 86.5h0.8M263.5 83.8h0.8M265.4 85.6h0.8M267.4 82.3h0.8M270.0 80.6h0.8M262.3 80.4h0.8M265.9 83.7h0.8M273.2 85.1h0.8M266.6 86.8h0.8M270.1 90.0h0.8M268.3 82.0h0.8M257.3 87.8h0.8M276.2 82.9h0.8M274.0 81.3h0.8M264.8 79.0h0.8M266.7 88.0h0.8M265.0 79.4h0.8M262.5 81.5h0.8M269.0 80.4h0.8M272.4 84.3h0.8M267.8 90.3h0.8M259.4 85.4h0.8M265.4 83.9h0.8M268.0 80.1h0.8M279.1 82.0h0.8M266.8 85.5h0.8M273.0 74.7h0.8M267.8 80.6h0.8M269.1 80.5h0.8M264.2 77.3h0.8M275.9 79.6h0.8M269.1 75.7h0.8M277.8 83.1h0.8M261.9 84.9h0.8M281.0 82.0h0.8M277.4 86.5h0.8M260.6 84.2h0.8M264.8 85.2h0.8M266.5 82.7h0.8M265.3 88.7h0.8M271.4 83.2h0.8M273.0 76.2h0.8M266.5 81.1h0.8M272.4 85.1h0.8M275.6 80.8h0.8M272.3 80.7h0.8M263.2 84.5h0.8M270.5 80.1h0.8M273.3 78.5h0.8M274.6 83.5h0.8M263.2 86.5h0.8M274.7 80.1h0.8M267.0 77.4h0.8M269.5 79.8h0.8M268.8 79.1h0.8M265.9 80.1h0.8M267.2 84.2h0.8M264.8 86.8h0.8M263.7 80.9h0.8M259.7 77.0h0.8M264.5 86.5h0.8M265.1 88.2h0.8M269.4 85.7h0.8M268.1 75.7h0.8M268.9 83.7h0.8M271.4 78.1h0.8M267.8 76.9h0.8M263.9 77.4h0.8M280.7 81.5h0.8M263.0 83.0h0.8M270.1 90.0h0.8M272.7 84.8h0.8M269.8 81.0h0.8M266.8 75.9h0.8M264.4 80.2h0.8M276.7 92.2h0.8M269.9 73.5h0.8M276.7 87.5h0.8M269.7 85.2h0.8M261.8 79.9h0.8M275.7 88.2h0.8M258.9 76.0h0.8M276.3 79.3h0.8M260.3 90.1h0.8M268.1 78.0h0.8M274.4 76.5h0.8M268.6 85.6h0.8M275.6 83.3h0.8M268.9 86.0h0.8M268.9 84.5h0.8M264.7 82.0h0.8M268.0 85.7h0.8M258.0 80.5h0.8M274.7 90.5h0.8M273.5 77.2h0.8M260.5 79.1h0.8M261.3 79.8h0.8M277.2 78.7h0.8M268.9 83.6h0.8M273.7 80.7h0.8M269.9 78.7h0.8M264.0 82.9h0.8M262.0 81.2h0.8M266.7 84.6h0.8M271.5 81.5h0.8M276.4 80.1h0.8M279.5 87.4h0.8M274.6 86.2h0.8M280.8 92.8h0.8M265.0 90.7h0.8M276.4 85.3h0.8M270.2 82.6h0.8M264.8 73.0h0.8M270.4 76.5h0.8M274.8 85.2h0.8M271.6 87.6h0.8M265.1 86.1h0.8M271.7 89.3h0.8M263.6 84.3h0.8M274.5 85.1h0.8M266.3 80.8h0.8M267.5 86.0h0.8M265.2 70.9h0.8M278.5 78.6h0.8M270.0 81.7h0.8M261.8 81.8h0.8M266.1 75.7h0.8M259.5 73.9h0.8M274.6 85.5h0.8M270.3 81.8h0.8M277.3 89.0h0.8M270.1 81.8h0.8M279.0 84.7h0.8M266.5 76.4h0.8M261.0 77.4h0.8M269.1 81.8h0.8M277.7 86.3h0.8M279.1 81.5h0.8M264.9 84.0h0.8M268.5 82.6h0.8M269.5 78.4h0.8M263.3 78.5h0.8M264.9 87.8h0.8M265.2 82.6h0.8M271.5 80.2h0.8M271.4 85.2h0.8M259.6 82.3h0.8M267.0 84.9h0.8M266.6 78.7h0.8M264.9 81.1h0.8M271.5 80.1h0.8M269.5 86.1h0.8M264.8 88.4h0.8M264.6 74.1h0.8M266.9 81.3h0.8M269.3 78.5h0.8M270.1 86.9h0.8M274.2 82.2h0.8M261.6 89.6h0.8M274.3 82.2h0.8M275.3 88.9h0.8M270.0 77.8h0.8M270.3 77.6h0.8M267.3 88.1h0.8M268.7 76.6h0.8M269.4 81.3h0.8M263.7 81.6h0.8M280.0 87.2h0.8M271.3 84.7h0.8M278.9 74.5h0.8M273.5 80.6h0.8M271.7 81.1h0.8M270.0 84.5h0.8M264.1 72.7h0.8M264.0 82.9h0.8M272.1 84.9h0.8M270.9 81.5h0.8M271.0 86.2h0.8M273.4 83.6h0.8M270.1 84.3h0.8M262.4 80.4h0.8M260.7 77.9h0.8M272.3 84.0h0.8M273.1 84.3h0.8M269.8 71.2h0.8M265.8 81.6h0.8M265.6 87.1h0.8M266.4 89.9h0.8M274.9 81.6h0.8M260.7 75.7h0.8M265.6 82.4h0.8M278.1 84.0h0.8M267.6 82.8h0.8M270.7 84.7h0.8M268.7 78.7h0.8M272.8 82.7h0.8M270.9 76.8h0.8M265.5 77.3h0.8M269.4 82.8h0.8M268.5 83.3h0.8M268.5 88.6h0.8M264.8 85.6h0.8M265.6 78.8h0.8M262.0 89.2h0.8M264.1 79.1h0.8M263.2 80.2h0.8M263.1 90.7h0.8M275.7 74.7h0.8M272.4 87.2h0.8M273.4 82.0h0.8M273.1 89.1h0.8M269.7 88.4h0.8M276.2 92.3h0.8M268.5 84.1h0.8M267.1 77.8h0.8M263.1 79.4h0.8M274.7 79.8h0.8M268.8 82.2h0.8M264.7 81.7h0.8M262.2 78.4h0.8M266.7 82.3h0.8M262.8 81.5h0.8M260.0 71.4h0.8M267.9 87.0h0.8M277.3 87.1h0.8M270.0 91.0h0.8M270.2 78.6h0.8M274.2 79.2h0.8M262.9 84.2h0.8M274.9 80.7h0.8M264.6 82.0h0.8M272.5 77.6h0.8M267.0 84.5h0.8M271.2 91.0h0.8M276.1 79.0h0.8M271.5 75.0h0.8M272.6 74.3h0.8M273.4 90.2h0.8M267.7 85.3h0.8M270.0 81.6h0.8M264.1 81.2h0.8M270.9 75.8h0.8M279.6 77.1h0.8M267.8 80.5h0.8M267.7 79.9h0.8M279.9 81.9h0.8M267.7 84.7h0.8M265.9 74.2h0.8M276.5 82.0h0.8M275.1 88.0h0.8M279.1 86.4h0.8M270.1 73.8h0.8M273.9 78.0h0.8M276.2 80.3h0.8M263.7 81.8h0.8M268.3 82.8h0.8M274.1 89.7h0.8M270.0 89.0h0.8M270.3 74.9h0.8M264.3 81.2h0.8M268.5 85.0h0.8M264.1 75.7h0.8M273.5 80.9h0.8M279.7 78.3h0.8M258.9 72.8h0.8M269.7 77.8h0.8M267.8 87.6h0.8M267.6 82.0h0.8M273.3 77.9h0.8M260.2 82.5h0.8M269.0 85.2h0.8M265.5 80.0h0.8M268.0 83.5h0.8M273.8 83.9h0.8M265.4 77.9h0.8M265.7 83.6h0.8M273.1 85.9h0.8M265.4 74.2h0.8M261.7 79.0h0.8M279.8 79.1h0.8M269.0 88.0h0.8M275.6 82.5h0.8M272.4 89.9h0.8M271.9 83.2h0.8M264.9 80.4h0.8M267.4 74.3h0.8M265.1 89.0h0.8M263.9 75.6h0.8M263.5 82.9h0.8M273.8 85.8h0.8M279.9 80.2h0.8M270.9 82.8h0.8M268.0 89.2h0.8M266.4 82.7h0.8M262.7 84.2h0.8M268.8 77.1h0.8M264.2 75.7h0.8M267.8 80.9h0.8M268.3 79.5h0.8M274.8 84.3h0.8M271.1 82.4h0.8M264.3 85.0h0.8M279.5 90.2h0.8M272.7 77.9h0.8M265.0 79.5h0.8M271.7 82.0h0.8M267.7 85.1h0.8M273.3 78.1h0.8M264.4 84.2h0.8M272.2 79.9h0.8M271.2 74.9h0.8M264.1 83.0h0.8M263.5 83.5h0.8M266.0 87.9h0.8M265.1 83.8h0.8M269.8 76.9h0.8M258.0 82.7h0.8M264.0 82.9h0.8M280.8 75.2h0.8M270.2 77.4h0.8M264.8 74.7h0.8M266.5 89.1h0.8M276.5 80.5h0.8M266.2 77.3h0.8M266.8 79.0h0.8M269.9 76.2h0.8M273.9 81.9h0.8M268.8 81.1h0.8M261.0 85.4h0.8M268.6 88.5h0.8M270.0 86.8h0.8M272.6 82.2h0.8M270.6 81.3h0.8M260.3 76.8h0.8M271.8 78.2h0.8M261.8 77.3h0.8M269.7 74.2h0.8M265.4 79.9h0.8M267.1 75.9h0.8M275.2 88.8h0.8M265.1 88.5h0.8M273.1 81.2h0.8M263.0 79.1h0.8M265.7 81.8h0.8M260.9 74.1h0.8M266.7 78.4h0.8M270.9 77.5h0.8M273.5 87.6h0.8M262.6 82.9h0.8M276.0 82.3h0.8M273.8 81.1h0.8M269.1 80.1h0.8M266.4 88.7h0.8M265.3 73.3h0.8M265.8 84.3h0.8M264.8 86.2h0.8M274.2 83.2h0.8M267.3 79.6h0.8M264.9 90.6h0.8M272.7 80.9h0.8M270.2 84.3h0.8M277.2 87.1h0.8M268.7 78.2h0.8M260.7 81.8h0.8M278.8 84.4h0.8M271.4 79.7h0.8M266.6 74.7h0.8M263.2 89.9h0.8M270.2 87.4h0.8M266.7 86.5h0.8M271.7 76.5h0.8M256.7 72.0h0.8M269.6 85.4h0.8M266.7 79.9h0.8M273.8 81.5h0.8M263.7 83.4h0.8M274.6 73.1h0.8M267.5 79.2h0.8M263.8 87.4h0.8M271.4 91.9h0.8M271.7 79.8h0.8M266.4 84.4h0.8M268.7 80.5h0.8M268.4 80.3h0.8M272.7 77.3h0.8M266.9 80.7h0.8M273.8 83.7h0.8M276.3 82.0h0.8M270.3 80.8h0.8M269.9 82.7h0.8M267.9 79.1h0.8M267.9 88.9h0.8M267.4 77.9h0.8M264.6 82.4h0.8M264.3 79.9h0.8M266.4 84.6h0.8M267.9 85.5h0.8M273.6 82.8h0.8M265.4 79.6h0.8M276.9 88.7h0.8M262.7 82.5h0.8M264.7 90.9h0.8M269.2 75.4h0.8M264.5 75.4h0.8M263.4 81.5h0.8M264.1 85.2h0.8M262.5 82.6h0.8M259.7 79.4h0.8M272.0 80.1h0.8M273.5 83.0h0.8M278.4 84.5h0.8M265.8 79.0h0.8M272.9 91.3h0.8M273.2 76.2h0.8M265.8 74.3h0.8M263.8 82.9h0.8M258.5 77.9h0.8M281.0 82.5h0.8M270.1 80.5h0.8M262.7 79.9h0.8M265.1 90.5h0.8M272.0 82.5h0.8M263.1 85.8h0.8M274.3 86.4h0.8M274.4 80.6h0.8M269.6 75.7h0.8M266.1 80.3h0.8M257.7 83.3h0.8M267.3 78.9h0.8M262.6 83.4h0.8M265.3 87.0h0.8M268.3 81.3h0.8M270.5 89.0h0.8M269.5 83.9h0.8M269.4 77.7h0.8M275.7 81.0h0.8M275.2 86.6h0.8M268.2 90.7h0.8M267.5 73.9h0.8M270.3 82.6h0.8M269.9 79.6h0.8M269.4 83.2h0.8M272.2 86.9h0.8M273.6 81.3h0.8M268.4 90.9h0.8M272.1 88.5h0.8M259.5 73.8h0.8M275.7 84.3h0.8M261.5 87.3h0.8M268.9 89.6h0.8M271.5 87.4h0.8M272.9 81.6h0.8M266.8 92.3h0.8M268.1 80.4h0.8M270.5 85.4h0.8M266.4 90.7h0.8M265.3 75.8h0.8M262.6 86.5h0.8M267.1 81.9h0.8M263.7 81.8h0.8M267.3 81.6h0.8M265.7 84.8h0.8M273.3 87.5h0.8M271.9 80.7h0.8M262.6 81.4h0.8M269.7 75.9h0.8M269.2 85.1h0.8M268.7 80.1h0.8M269.9 81.1h0.8M271.3 87.2h0.8M273.2 76.9h0.8M268.8 73.9h0.8M268.7 80.4h0.8M270.4 79.7h0.8M269.8 83.2h0.8M279.9 84.7h0.8M267.3 83.2h0.8M279.0 85.6h0.8M259.3 74.8h0.8M271.6 82.8h0.8M268.2 85.0h0.8M271.8 84.3h0.8M266.9 79.6h0.8M272.3 87.4h0.8M266.8 83.7h0.8M263.1 79.1h0.8M264.3 85.1h0.8M276.2 84.3h0.8M270.7 86.2h0.8M280.3 83.6h0.8M264.4 79.1h0.8M256.6 78.0h0.8M272.6 85.8h0.8M267.6 77.4h0.8M265.8 71.7h0.8M273.3 83.4h0.8M266.6 89.5h0.8M270.8 74.9h0.8M272.1 80.9h0.8M260.7 87.1h0.8M269.3 79.7h0.8M277.8 81.8h0.8M272.4 78.9h0.8M258.3 73.6h0.8M274.7 78.8h0.8M273.2 76.5h0.8M271.9 81.6h0.8M263.3 85.0h0.8M275.4 88.7h0.8M276.0 85.2h0.8M268.1 86.1h0.8M266.2 79.8h0.8M258.9 84.2h0.8M273.2 82.1h0.8M263.5 87.0h0.8M272.9 91.0h0.8M271.2 88.0h0.8M268.9 82.2h0.8M269.3 82.0h0.8M267.0 85.2h0.8M276.7 82.3h0.8M276.9 85.7h0.8M269.7 87.5h0.8M267.2 72.6h0.8M274.2 80.5h0.8M266.8 86.2h0.8M265.6 89.0h0.8M261.0 83.0h0.8M274.5 89.3h0.8M272.6 81.6h0.8M266.6 79.9h0.8M274.4 83.6h0.8M272.6 89.4h0.8M261.7 78.2h0.8M280.7 85.7h0.8M280.3 86.6h0.8M273.2 87.9h0.8M277.7 81.4h0.8M281.6 83.0h0.8M283.3 89.7h0.8M282.0 86.5h0.8M281.5 86.4h0.8M283.5 87.9h0.8M282.8 89.9h0.8M280.9 82.7h0.8M283.3 90.1h0.8M278.5 77.8h0.8M275.1 84.2h0.8M282.9 81.4h0.8M282.3 85.5h0.8M280.3 80.4h0.8M279.0 86.1h0.8M276.8 86.5h0.8M276.1 83.2h0.8M278.3 85.9h0.8M282.7 90.0h0.8M275.1 74.9h0.8M280.3 82.8h0.8M275.5 87.3h0.8M280.7 82.2h0.8M283.0 83.8h0.8M276.3 88.7h0.8M282.9 87.2h0.8M284.1 88.9h0.8M280.7 87.8h0.8M275.3 88.5h0.8M279.8 81.7h0.8M278.6 89.7h0.8M281.4 84.2h0.8M286.8 86.6h0.8M277.6 86.2h0.8M284.3 92.3h0.8M279.5 84.5h0.8M278.4 83.5h0.8M275.0 87.8h0.8M287.3 88.9h0.8M278.5 87.9h0.8M279.8 84.1h0.8M284.4 87.3h0.8M272.1 87.6h0.8M280.1 83.4h0.8M284.1 87.5h0.8M276.6 86.6h0.8M281.6 84.6h0.8M278.6 84.8h0.8M287.1 81.5h0.8M277.2 83.6h0.8M278.3 77.5h0.8M279.8 84.9h0.8M277.6 85.9h0.8M271.3 83.2h0.8M281.2 83.7h0.8M276.6 84.9h0.8M282.3 91.8h0.8M279.7 82.4h0.8M274.8 89.0h0.8M279.0 81.6h0.8M280.7 87.2h0.8M282.7 92.5h0.8M274.5 86.1h0.8M277.3 88.9h0.8M283.8 95.7h0.8M278.1 84.7h0.8M278.1 80.8h0.8M275.0 81.5h0.8M273.9 80.9h0.8M283.0 85.2h0.8M277.5 82.9h0.8M276.7 88.0h0.8M277.5 83.0h0.8M275.4 92.2h0.8M281.1 80.3h0.8M281.4 82.7h0.8M277.8 83.6h0.8M278.9 87.7h0.8M281.9 77.4h0.8M278.4 89.7h0.8M280.9 87.5h0.8M274.7 79.6h0.8M281.8 87.5h0.8M279.6 83.1h0.8M281.8 83.4h0.8M277.2 86.4h0.8M278.6 90.1h0.8M278.5 92.4h0.8M284.4 87.1h0.8M280.5 82.6h0.8M280.1 87.9h0.8M285.0 89.3h0.8M279.0 85.6h0.8M275.0 87.6h0.8M279.1 87.0h0.8M276.6 87.8h0.8M282.8 85.3h0.8M285.7 82.2h0.8M277.9 85.1h0.8M280.0 84.4h0.8M278.0 85.4h0.8M282.5 88.3h0.8M285.5 96.3h0.8M272.9 82.0h0.8M285.2 84.2h0.8M277.1 82.4h0.8M280.4 80.1h0.8M281.9 90.1h0.8M275.9 88.5h0.8M278.3 80.0h0.8M273.9 83.0h0.8M280.2 84.4h0.8M280.2 87.0h0.8M284.2 94.6h0.8M278.1 90.0h0.8M275.1 87.1h0.8M278.4 92.8h0.8M276.2 92.7h0.8M279.6 85.8h0.8M278.0 85.5h0.8M280.5 85.0h0.8M278.9 92.8h0.8M275.1 82.8h0.8M275.9 88.5h0.8M280.6 90.3h0.8M279.3 92.0h0.8M281.0 87.4h0.8M280.9 90.7h0.8M279.3 85.8h0.8M286.1 85.4h0.8M278.0 87.6h0.8M283.9 76.2h0.8M282.1 92.0h0.8M282.9 77.4h0.8M280.0 88.0h0.8M280.8 88.5h0.8M285.7 80.8h0.8M277.7 86.3h0.8M277.9 88.4h0.8M276.2 80.9h0.8M280.1 81.8h0.8M275.7 87.2h0.8M276.9 89.2h0.8M277.3 80.2h0.8M277.4 90.6h0.8M280.2 87.0h0.8M277.0 88.5h0.8M280.9 86.3h0.8M272.0 90.3h0.8M280.0 85.2h0.8M278.1 89.5h0.8M278.8 88.0h0.8M273.9 81.9h0.8M277.9 87.7h0.8M280.0 86.4h0.8M279.7 83.1h0.8M278.5 79.0h0.8M281.5 87.3h0.8M277.1 92.3h0.8M279.3 82.6h0.8M276.4 87.1h0.8M273.4 87.3h0.8M279.0 93.3h0.8M283.7 83.4h0.8M287.5 83.6h0.8M284.6 96.9h0.8M281.4 92.9h0.8M281.7 88.3h0.8M273.2 88.7h0.8M278.5 83.6h0.8M285.1 81.2h0.8M278.4 85.9h0.8M278.9 89.2h0.8M272.2 90.7h0.8M274.1 81.8h0.8M281.9 87.3h0.8M279.1 82.4h0.8M279.7 87.4h0.8M282.9 87.3h0.8M276.1 84.8h0.8M276.8 84.7h0.8M284.7 86.6h0.8M277.4 90.0h0.8M277.5 88.2h0.8M282.3 87.1h0.8M279.0 87.9h0.8M283.4 86.8h0.8M286.6 87.0h0.8M277.1 89.3h0.8M278.7 85.9h0.8M284.4 90.2h0.8M275.7 84.4h0.8M276.3 91.5h0.8M273.3 85.9h0.8M283.3 78.7h0.8M278.7 80.1h0.8M275.3 87.2h0.8M275.7 83.7h0.8M282.4 78.8h0.8M285.0 88.1h0.8M276.0 82.4h0.8M280.4 85.3h0.8M276.1 86.6h0.8M281.5 85.2h0.8M277.7 85.1h0.8M279.6 81.4h0.8M279.2 82.6h0.8M279.8 85.7h0.8M280.4 92.4h0.8M283.9 81.2h0.8M279.3 87.6h0.8M278.1 79.7h0.8M287.1 89.5h0.8M278.6 85.8h0.8M276.3 86.5h0.8M285.3 91.1h0.8M281.2 85.2h0.8M276.9 87.1h0.8M278.7 84.3h0.8M277.7 89.6h0.8M275.8 86.7h0.8M272.7 80.6h0.8M286.4 82.4h0.8M280.7 83.5h0.8M279.6 90.4h0.8M276.5 81.7h0.8M273.1 96.0h0.8M279.2 86.7h0.8M281.5 87.5h0.8M278.7 78.4h0.8M282.0 86.8h0.8M279.8 93.0h0.8M281.7 84.1h0.8M286.8 92.3h0.8M285.0 84.9h0.8M273.8 87.1h0.8M280.0 81.3h0.8M278.9 90.8h0.8M277.9 83.0h0.8M278.2 84.3h0.8M281.9 85.5h0.8M280.8 96.0h0.8M287.1 83.2h0.8M283.2 79.5h0.8M281.5 81.3h0.8M284.6 88.9h0.8M282.9 79.5h0.8M280.7 86.4h0.8M279.0 81.4h0.8M287.9 78.4h0.8M274.5 88.0h0.8M276.8 80.7h0.8M276.1 90.2h0.8M286.3 89.5h0.8M278.5 78.9h0.8M277.2 86.6h0.8M274.5 87.8h0.8M277.9 85.4h0.8M283.0 86.1h0.8M279.6 88.9h0.8M280.1 90.1h0.8M276.9 77.7h0.8M279.2 85.3h0.8M282.7 81.9h0.8M278.9 80.5h0.8M277.6 88.9h0.8M284.2 88.6h0.8M284.5 88.0h0.8M283.9 82.9h0.8M274.5 81.5h0.8M285.7 84.2h0.8M283.4 85.7h0.8M284.3 86.5h0.8M275.0 79.9h0.8M277.0 83.5h0.8M286.1 86.2h0.8M272.3 77.8h0.8M273.8 81.7h0.8M272.2 88.0h0.8M279.1 86.4h0.8M278.0 89.3h0.8M283.0 85.8h0.8M278.7 92.1h0.8M281.9 88.0h0.8M278.1 87.3h0.8M276.5 83.6h0.8M280.5 82.6h0.8M281.8 85.6h0.8M277.0 85.4h0.8M282.5 86.3h0.8M281.8 84.0h0.8M275.2 86.4h0.8M279.1 90.9h0.8M282.5 87.5h0.8M278.1 93.2h0.8M280.2 79.8h0.8M273.7 81.5h0.8M279.4 84.7h0.8M283.5 90.9h0.8M285.1 75.8h0.8M279.8 83.7h0.8M275.0 83.7h0.8M278.0 84.7h0.8M283.6 85.1h0.8M278.3 97.2h0.8M278.5 87.0h0.8M278.2 83.3h0.8M280.1 89.3h0.8M277.1 83.8h0.8M275.6 78.5h0.8M286.8 85.5h0.8M281.9 84.6h0.8M280.2 84.4h0.8M278.3 85.2h0.8M286.4 91.7h0.8M283.4 90.5h0.8M279.3 86.0h0.8M279.8 84.6h0.8M284.4 81.2h0.8M275.7 86.1h0.8M284.8 87.1h0.8M283.6 87.2h0.8M284.2 83.3h0.8M283.7 90.3h0.8M278.6 82.6h0.8M280.1 80.8h0.8M275.8 88.5h0.8M279.0 89.2h0.8M282.0 83.6h0.8M279.9 82.2h0.8M279.6 86.2h0.8M285.2 84.5h0.8M284.1 85.4h0.8M281.4 86.9h0.8M284.1 87.7h0.8M273.2 79.1h0.8M278.8 88.8h0.8M279.9 88.2h0.8M283.5 86.8h0.8M276.6 87.8h0.8M282.4 85.0h0.8M281.5 81.6h0.8M280.2 86.6h0.8M274.0 80.8h0.8M284.7 87.9h0.8M280.1 92.1h0.8M282.3 80.4h0.8M279.6 88.3h0.8M287.1 84.2h0.8M283.4 83.7h0.8M282.7 87.2h0.8M280.6 85.2h0.8M279.2 87.1h0.8M281.9 83.4h0.8M282.4 87.9h0.8M280.6 90.1h0.8M275.7 82.1h0.8M283.1 88.8h0.8M283.0 87.5h0.8M280.5 83.1h0.8M280.7 83.3h0.8M274.6 90.4h0.8M283.9 86.1h0.8M274.1 84.6h0.8M284.6 84.0h0.8M279.9 88.6h0.8M276.7 86.4h0.8M278.1 85.4h0.8M278.2 82.1h0.8M281.2 86.6h0.8M285.8 82.9h0.8M282.1 83.3h0.8M281.6 85.8h0.8M278.2 76.6h0.8M279.6 86.4h0.8M280.5 87.2h0.8M281.1 80.8h0.8" stroke="#111" stroke-width="0.8" stroke-opacity="0.55" fill="none"/><path d="M266.5 100.8h0.8M267.1 98.6h0.8M272.3 104.9h0.8M263.8 94.3h0.8M269.6 98.4h0.8M267.7 102.8h0.8M267.5 100.6h0.8M272.8 95.6h0.8M270.2 95.7h0.8M275.3 96.1h0.8M272.1 93.5h0.8M269.3 104.5h0.8M275.2 103.1h0.8M267.4 105.0h0.8M275.9 91.9h0.8M268.9 91.4h0.8M271.5 98.9h0.8M267.4 99.4h0.8M263.9 90.8h0.8M266.1 100.4h0.8M267.1 99.8h0.8M266.8 100.9h0.8M261.8 104.5h0.8M268.0 91.9h0.8M264.1 101.8h0.8M275.5 103.1h0.8M264.6 98.6h0.8M271.3 104.4h0.8M270.5 101.4h0.8M272.4 102.7h0.8M273.6 106.8h0.8M262.0 94.9h0.8M266.2 99.6h0.8M267.2 108.8h0.8M263.3 97.3h0.8M267.6 99.5h0.8M269.9 104.9h0.8M274.1 91.7h0.8M265.8 98.7h0.8M273.6 102.1h0.8M260.3 106.0h0.8M269.3 103.4h0.8M269.5 100.6h0.8M271.5 92.2h0.8M268.9 101.1h0.8M265.7 99.0h0.8M261.5 94.1h0.8M268.4 96.9h0.8M265.8 98.2h0.8M268.7 97.1h0.8M272.8 95.7h0.8M271.5 98.0h0.8M273.8 98.8h0.8M268.2 106.8h0.8M267.7 102.5h0.8M274.1 102.0h0.8M268.6 102.5h0.8M268.9 98.1h0.8M268.6 97.0h0.8M262.1 108.2h0.8M272.3 93.2h0.8M274.2 99.8h0.8M273.9 98.1h0.8M265.3 98.6h0.8M264.5 104.4h0.8M268.6 106.8h0.8M272.9 95.2h0.8M268.7 101.5h0.8M265.5 104.0h0.8M271.5 95.9h0.8M262.8 99.8h0.8M262.5 98.3h0.8M263.5 98.5h0.8M268.7 102.8h0.8M260.4 103.9h0.8M271.8 99.3h0.8M264.0 98.1h0.8M266.0 101.3h0.8M268.9 98.7h0.8M269.0 104.0h0.8M269.3 103.3h0.8M273.0 103.1h0.8M271.3 106.1h0.8M263.7 96.9h0.8M262.8 101.2h0.8M267.2 105.2h0.8M267.4 97.7h0.8M267.9 94.7h0.8M274.2 99.5h0.8M261.7 98.2h0.8M267.5 104.6h0.8M262.3 103.5h0.8M268.0 97.7h0.8M265.5 97.5h0.8M269.2 100.9h0.8M262.9 96.7h0.8M263.0 95.4h0.8M262.1 103.3h0.8M263.8 96.7h0.8M262.6 98.5h0.8M266.8 99.8h0.8M265.5 94.4h0.8M266.0 100.8h0.8M264.6 100.2h0.8M273.0 108.4h0.8M271.4 106.7h0.8M270.9 105.2h0.8M270.3 100.5h0.8M268.8 100.1h0.8M277.6 99.1h0.8M262.8 102.5h0.8M266.1 101.2h0.8M265.7 104.2h0.8M269.9 98.9h0.8M263.9 99.3h0.8M261.5 98.0h0.8M265.5 98.2h0.8M273.9 98.8h0.8M267.8 106.0h0.8M269.4 99.5h0.8M265.6 96.4h0.8M267.9 103.0h0.8M269.0 105.2h0.8M263.5 103.3h0.8M267.8 106.6h0.8M261.1 101.8h0.8M269.5 97.5h0.8M273.7 99.7h0.8M266.9 103.4h0.8M267.5 95.9h0.8M267.2 97.4h0.8M270.6 97.8h0.8M271.6 97.1h0.8M264.0 103.9h0.8M263.3 99.7h0.8M259.0 96.5h0.8M268.4 98.6h0.8M269.2 100.4h0.8M275.8 103.1h0.8M268.3 101.6h0.8M270.7 105.1h0.8M269.0 99.8h0.8M268.8 101.1h0.8M271.9 101.8h0.8M263.6 93.6h0.8M260.7 95.3h0.8M267.1 97.6h0.8M265.2 104.1h0.8M275.9 106.9h0.8M265.7 100.8h0.8M260.9 100.9h0.8M267.7 106.3h0.8M271.1 102.3h0.8M270.4 105.3h0.8M267.3 97.6h0.8M266.4 95.1h0.8M263.7 102.0h0.8M269.3 102.2h0.8M267.3 98.9h0.8M270.2 100.9h0.8M265.8 99.7h0.8M267.9 108.0h0.8M266.3 101.3h0.8M265.2 97.2h0.8M262.1 98.9h0.8M272.4 93.9h0.8M268.6 108.2h0.8M270.3 101.9h0.8M265.8 100.4h0.8M265.3 99.1h0.8M272.7 98.9h0.8M272.6 90.8h0.8M261.6 102.7h0.8M264.3 100.7h0.8M272.9 105.0h0.8M274.1 97.3h0.8M266.4 105.4h0.8M265.9 103.9h0.8M268.6 100.0h0.8M263.5 101.1h0.8M272.6 106.2h0.8M268.4 105.0h0.8M268.6 106.4h0.8M262.7 103.3h0.8M261.9 104.0h0.8M266.6 99.8h0.8M265.3 100.7h0.8M261.7 101.4h0.8M271.8 105.7h0.8M270.7 102.6h0.8M269.2 101.2h0.8M277.6 94.3h0.8M268.0 101.0h0.8M267.9 94.0h0.8M275.4 102.6h0.8M271.3 101.8h0.8M269.8 93.1h0.8M269.0 105.7h0.8M270.3 94.8h0.8M265.8 100.1h0.8M271.0 101.7h0.8M262.9 99.6h0.8M262.7 102.0h0.8M262.9 98.0h0.8M261.7 105.0h0.8M260.0 98.7h0.8M276.3 99.8h0.8M269.4 93.8h0.8M265.5 99.4h0.8M273.4 104.4h0.8M268.6 106.6h0.8M263.0 98.7h0.8M265.7 101.9h0.8M266.4 106.9h0.8M271.3 98.0h0.8M266.7 104.9h0.8M263.1 103.2h0.8M268.8 93.0h0.8M270.9 93.9h0.8M273.0 99.7h0.8M262.7 102.6h0.8M265.4 108.1h0.8M263.8 103.3h0.8M264.5 100.0h0.8M271.9 100.7h0.8M274.4 107.7h0.8M275.8 99.2h0.8M268.3 101.4h0.8M269.7 99.4h0.8M265.5 110.4h0.8M264.9 93.2h0.8M269.8 98.1h0.8M266.6 100.4h0.8M264.9 104.1h0.8M269.9 97.2h0.8M267.3 98.4h0.8M268.4 102.0h0.8M263.6 97.7h0.8M267.5 96.0h0.8M274.7 97.8h0.8M260.7 96.8h0.8M270.0 103.8h0.8M263.1 98.6h0.8M274.6 98.7h0.8M265.7 101.1h0.8M269.0 94.3h0.8M271.7 96.1h0.8M268.3 105.5h0.8M264.7 101.4h0.8M266.4 99.3h0.8M268.5 102.7h0.8M273.6 101.4h0.8M268.2 96.0h0.8M273.2 97.0h0.8M266.6 97.5h0.8M271.6 98.1h0.8M270.3 97.8h0.8M274.6 98.5h0.8M271.5 106.9h0.8M270.8 104.1h0.8M265.8 103.2h0.8M266.9 102.5h0.8M267.0 101.6h0.8M269.6 96.6h0.8M267.5 96.0h0.8M277.0 99.1h0.8M266.3 92.4h0.8M276.8 95.3h0.8M263.7 103.6h0.8M272.1 102.3h0.8M265.7 105.9h0.8M275.5 100.8h0.8M272.4 102.6h0.8M260.5 101.3h0.8M266.9 98.7h0.8M267.0 97.7h0.8M265.3 97.4h0.8M272.9 99.2h0.8M268.0 104.3h0.8M272.3 99.4h0.8M268.7 105.9h0.8M263.7 91.3h0.8M271.8 102.4h0.8M267.7 95.4h0.8M266.2 94.4h0.8M269.6 101.3h0.8M270.1 103.9h0.8M269.9 103.8h0.8M269.2 101.2h0.8M261.5 99.4h0.8M269.5 102.1h0.8M268.3 98.7h0.8M271.6 104.4h0.8M266.4 107.9h0.8M263.4 100.3h0.8M267.8 101.2h0.8M270.3 96.6h0.8M269.4 98.7h0.8M263.7 102.8h0.8M269.4 101.9h0.8M294.5 96.4h0.8M290.5 100.5h0.8M284.4 94.6h0.8M282.3 100.9h0.8M282.0 96.8h0.8M284.4 99.3h0.8M284.4 102.6h0.8M285.4 95.5h0.8M283.3 108.0h0.8M281.4 100.0h0.8M284.8 100.7h0.8M286.1 100.9h0.8M293.8 98.4h0.8M274.9 97.6h0.8M278.5 98.9h0.8M288.7 103.4h0.8M281.5 97.6h0.8M282.7 97.2h0.8M283.3 98.0h0.8M280.4 100.8h0.8M283.5 100.3h0.8M285.3 107.5h0.8M287.5 104.8h0.8M291.0 100.3h0.8M284.2 93.0h0.8M289.3 99.6h0.8M279.2 105.0h0.8M289.9 101.3h0.8M284.2 106.1h0.8M284.0 91.8h0.8M278.3 100.2h0.8M290.7 103.6h0.8M290.5 97.9h0.8M279.7 100.8h0.8M282.7 102.0h0.8M287.5 107.9h0.8M283.8 100.4h0.8M278.8 95.0h0.8M283.4 98.2h0.8M287.7 99.7h0.8M280.1 100.2h0.8M286.7 103.5h0.8M286.0 103.0h0.8M291.1 102.1h0.8M283.3 97.6h0.8M289.4 99.1h0.8M275.3 103.2h0.8M282.1 96.5h0.8M284.9 93.3h0.8M284.4 102.1h0.8M284.2 93.2h0.8M283.2 99.2h0.8M284.9 97.8h0.8M286.8 94.6h0.8M283.9 99.2h0.8M280.3 105.9h0.8M285.9 101.3h0.8M277.6 105.0h0.8M282.8 98.2h0.8M292.3 104.6h0.8M288.8 94.8h0.8M287.0 107.6h0.8M287.7 100.7h0.8M280.3 110.5h0.8M287.5 101.1h0.8M284.3 93.1h0.8M284.8 102.2h0.8M292.1 91.2h0.8M289.8 97.4h0.8M291.2 104.2h0.8M280.1 93.8h0.8M285.3 95.3h0.8M289.8 99.8h0.8M279.1 102.6h0.8M286.4 94.8h0.8M288.3 99.2h0.8M292.2 95.0h0.8M284.4 101.4h0.8M280.1 96.9h0.8M290.4 99.1h0.8M283.8 93.2h0.8M288.2 106.2h0.8M282.2 101.7h0.8M284.4 104.6h0.8M284.5 94.9h0.8M284.4 101.8h0.8M286.7 93.3h0.8M289.0 93.9h0.8M288.3 101.9h0.8M281.4 101.4h0.8M286.3 97.8h0.8M289.8 100.9h0.8M286.0 100.8h0.8M280.3 96.8h0.8M283.4 100.1h0.8M280.0 98.5h0.8M284.0 103.4h0.8M287.8 104.7h0.8M281.1 104.8h0.8M283.4 97.4h0.8M282.3 98.4h0.8M284.9 97.5h0.8M279.0 96.5h0.8M286.7 95.3h0.8M286.1 96.5h0.8M284.4 106.6h0.8M286.9 102.5h0.8M290.3 104.1h0.8M277.5 107.0h0.8M286.9 95.4h0.8M282.9 103.8h0.8M287.0 101.2h0.8M287.6 97.8h0.8M279.5 105.7h0.8M289.4 102.9h0.8M284.4 99.7h0.8M288.5 98.5h0.8M284.2 98.9h0.8M286.6 101.4h0.8M289.7 97.8h0.8M291.4 104.6h0.8M277.3 100.2h0.8M281.2 96.3h0.8M286.2 102.6h0.8M289.1 102.8h0.8M292.1 102.7h0.8M286.5 101.9h0.8M287.7 99.1h0.8M280.2 97.2h0.8M281.7 102.9h0.8M289.3 105.7h0.8M280.9 104.8h0.8M285.7 98.9h0.8M281.4 102.4h0.8M290.6 98.0h0.8M286.6 105.1h0.8M290.3 101.0h0.8M287.2 101.5h0.8M279.5 100.2h0.8M286.3 106.2h0.8M282.4 106.8h0.8M293.0 103.2h0.8M282.4 101.4h0.8M283.4 106.5h0.8M293.0 106.0h0.8M285.8 105.0h0.8M289.4 102.6h0.8M287.7 99.8h0.8M287.4 105.5h0.8M283.4 98.6h0.8M286.2 106.4h0.8M285.1 101.5h0.8M282.0 92.2h0.8M288.0 92.4h0.8M285.9 104.2h0.8M280.1 96.9h0.8M281.1 96.5h0.8M285.3 103.7h0.8M286.3 101.3h0.8M283.4 99.6h0.8M292.9 92.7h0.8M291.9 109.6h0.8M284.7 100.2h0.8M281.9 103.3h0.8M284.4 102.0h0.8M285.0 101.3h0.8M280.2 102.1h0.8M286.1 110.4h0.8M288.9 97.1h0.8M286.3 96.6h0.8M285.1 92.9h0.8M280.7 106.3h0.8M283.4 102.7h0.8M283.1 101.6h0.8M284.3 97.2h0.8M277.0 100.6h0.8M277.2 94.9h0.8M284.0 93.8h0.8M284.6 93.8h0.8M290.2 97.6h0.8M282.0 95.8h0.8M284.1 103.2h0.8M281.2 100.5h0.8M283.6 94.4h0.8M288.0 100.5h0.8M281.8 97.5h0.8M282.9 96.0h0.8M290.1 104.8h0.8M286.9 100.2h0.8M280.5 96.5h0.8M281.0 97.1h0.8M288.3 97.1h0.8M287.5 94.5h0.8M287.7 101.8h0.8M285.9 108.6h0.8M287.8 99.1h0.8M275.8 101.3h0.8M284.0 94.7h0.8M292.8 94.3h0.8M294.6 106.7h0.8M283.4 106.4h0.8M285.1 96.8h0.8M281.7 109.5h0.8M290.1 103.9h0.8M284.5 97.0h0.8M287.2 102.1h0.8M284.7 106.2h0.8M283.9 102.7h0.8M290.7 104.0h0.8M285.9 98.4h0.8M281.5 104.7h0.8M285.4 99.6h0.8M290.3 95.1h0.8M284.7 96.5h0.8M286.7 101.2h0.8M278.1 92.1h0.8M286.7 102.8h0.8M277.5 102.4h0.8M279.1 98.0h0.8M287.8 101.4h0.8M278.9 96.9h0.8M286.6 101.5h0.8M283.2 104.7h0.8M283.7 102.8h0.8M290.7 103.3h0.8M291.0 98.7h0.8M287.0 99.4h0.8M281.9 97.7h0.8M288.4 95.6h0.8M277.6 94.1h0.8M287.3 99.8h0.8M283.3 101.2h0.8M282.1 99.3h0.8M283.7 96.6h0.8M294.2 100.9h0.8M287.4 103.0h0.8M283.5 100.3h0.8M286.0 93.6h0.8M289.5 104.6h0.8M288.7 104.4h0.8M288.0 102.5h0.8M279.7 102.2h0.8M279.3 92.2h0.8M282.9 104.0h0.8M286.8 107.5h0.8M283.0 102.7h0.8M286.6 104.8h0.8M287.4 96.5h0.8M286.9 95.9h0.8M282.1 98.8h0.8M279.1 104.3h0.8M289.2 102.9h0.8M284.9 104.1h0.8M283.5 103.0h0.8M283.9 99.9h0.8M285.3 103.9h0.8M288.5 108.1h0.8M281.4 92.0h0.8M286.9 102.6h0.8M283.0 105.3h0.8M283.7 91.6h0.8M277.8 98.4h0.8M283.2 99.7h0.8M276.3 99.2h0.8M274.8 100.9h0.8M280.4 96.8h0.8M275.2 101.5h0.8M279.0 97.2h0.8M272.4 100.2h0.8M274.5 91.8h0.8M265.2 108.8h0.8M286.7 97.6h0.8M277.3 100.4h0.8M269.2 97.6h0.8M279.1 95.9h0.8M286.6 98.4h0.8M281.6 99.7h0.8M289.1 96.9h0.8M276.4 92.4h0.8M273.4 106.4h0.8M269.1 97.7h0.8M280.6 95.1h0.8M279.6 96.8h0.8M273.4 102.2h0.8M283.8 100.3h0.8M280.3 94.3h0.8M282.1 100.3h0.8M277.8 95.3h0.8M283.1 101.7h0.8M273.8 97.9h0.8M270.6 103.0h0.8M276.8 94.4h0.8M282.4 98.8h0.8M277.0 97.2h0.8M284.6 96.1h0.8M283.0 106.3h0.8M279.7 97.4h0.8M290.1 91.3h0.8M269.4 105.3h0.8M275.3 93.3h0.8M272.4 101.5h0.8M281.9 91.8h0.8M279.5 98.4h0.8M267.1 96.0h0.8M277.3 99.9h0.8M286.6 94.1h0.8M275.5 95.1h0.8M265.1 102.1h0.8M286.3 103.0h0.8M274.9 94.2h0.8M286.5 97.1h0.8M280.4 97.0h0.8M272.1 101.0h0.8M265.3 99.1h0.8M292.4 98.5h0.8M288.5 89.2h0.8M275.8 91.7h0.8M283.0 101.5h0.8M273.7 99.1h0.8M282.5 96.5h0.8M277.1 100.9h0.8M270.8 98.1h0.8M286.4 97.0h0.8M273.3 100.1h0.8M287.2 101.1h0.8M270.8 95.6h0.8M269.8 98.8h0.8M279.0 98.2h0.8M278.5 106.9h0.8M274.5 102.7h0.8M271.7 100.6h0.8M277.2 97.0h0.8M266.6 96.6h0.8M270.7 105.1h0.8M271.0 104.0h0.8M281.9 101.4h0.8M268.1 96.7h0.8M275.1 99.3h0.8M263.4 96.8h0.8M276.3 102.0h0.8M273.3 96.7h0.8M279.2 100.1h0.8M266.8 92.4h0.8M278.3 93.0h0.8M286.6 92.8h0.8M276.2 103.4h0.8M270.7 94.1h0.8M275.3 100.6h0.8M274.6 101.9h0.8M270.1 94.2h0.8M266.4 91.8h0.8M281.8 99.0h0.8M282.4 101.5h0.8M283.7 96.4h0.8M278.4 96.3h0.8M269.4 105.4h0.8M274.0 106.0h0.8M268.7 95.2h0.8M283.5 99.8h0.8M283.8 98.6h0.8M267.9 95.3h0.8M267.3 99.6h0.8M272.7 101.3h0.8M275.7 102.1h0.8M276.0 97.2h0.8M283.2 102.6h0.8M289.2 98.5h0.8M271.4 92.5h0.8M279.3 104.2h0.8M285.4 99.6h0.8M280.4 99.4h0.8M281.7 101.9h0.8M272.1 99.5h0.8M280.1 100.1h0.8M280.2 97.7h0.8M281.3 107.8h0.8M281.0 99.2h0.8M266.3 89.6h0.8M289.0 95.1h0.8M272.3 105.7h0.8M290.8 95.3h0.8M288.7 97.6h0.8M279.5 92.2h0.8M268.9 101.7h0.8M285.2 96.5h0.8M284.5 99.8h0.8M284.6 93.9h0.8M277.2 95.8h0.8M272.8 90.3h0.8M264.6 102.6h0.8M283.1 99.3h0.8M275.4 102.0h0.8M270.2 92.3h0.8M268.0 91.0h0.8M281.3 101.4h0.8M266.9 103.6h0.8M283.0 95.0h0.8M276.1 90.7h0.8M266.5 98.1h0.8M285.0 92.2h0.8M277.9 99.9h0.8M273.6 91.0h0.8M282.1 107.2h0.8M277.2 96.3h0.8M282.8 104.4h0.8M274.0 97.1h0.8M281.1 97.3h0.8M285.5 89.6h0.8M284.9 103.8h0.8M262.2 95.9h0.8M270.2 100.6h0.8M278.4 107.7h0.8M270.4 108.0h0.8M291.3 101.0h0.8M288.1 99.9h0.8M282.9 97.8h0.8M270.9 96.5h0.8M289.3 102.4h0.8M264.4 99.3h0.8M281.1 99.6h0.8M278.6 107.2h0.8M278.5 99.1h0.8M272.0 102.1h0.8M284.9 91.7h0.8M277.7 106.4h0.8M269.5 105.0h0.8M275.6 97.6h0.8M269.8 99.9h0.8M268.4 100.4h0.8M274.4 94.7h0.8M264.0 98.0h0.8M275.1 96.3h0.8M280.6 101.7h0.8M283.6 97.7h0.8M290.1 91.0h0.8M274.9 94.9h0.8M276.7 93.7h0.8M284.9 97.4h0.8M270.0 93.8h0.8M274.0 96.9h0.8M270.3 97.0h0.8M271.9 92.0h0.8M278.8 103.2h0.8M269.4 99.3h0.8M288.9 97.3h0.8M282.2 94.9h0.8M281.7 102.1h0.8M283.1 101.3h0.8M269.4 100.6h0.8M285.6 98.2h0.8M279.2 101.4h0.8M273.4 94.1h0.8M270.1 101.8h0.8M268.1 102.6h0.8M275.2 98.2h0.8M271.7 99.1h0.8M270.2 96.5h0.8M276.5 92.8h0.8M273.6 98.9h0.8M276.4 96.0h0.8" stroke="#111" stroke-width="0.8" stroke-opacity="0.42" fill="none"/><path d="M281.3 84.0h0.8M284.3 89.8h0.8M289.2 81.3h0.8M282.8 85.6h0.8M282.0 74.3h0.8M288.8 78.5h0.8M280.7 85.5h0.8M282.2 78.3h0.8M287.4 78.6h0.8M289.2 83.4h0.8M291.3 75.6h0.8M287.1 74.0h0.8M281.9 79.3h0.8M287.1 84.9h0.8M287.4 74.8h0.8M291.8 79.9h0.8M280.1 77.6h0.8M277.8 84.4h0.8M286.2 77.4h0.8M289.7 76.3h0.8M281.0 85.8h0.8M279.9 82.9h0.8M279.6 79.1h0.8M292.0 75.9h0.8M281.3 80.1h0.8M283.8 72.6h0.8M288.7 83.8h0.8M284.0 86.9h0.8M286.6 83.8h0.8M285.0 84.0h0.8M278.1 75.1h0.8M281.5 74.0h0.8M285.3 75.1h0.8M280.0 82.5h0.8M286.7 88.2h0.8M291.9 76.0h0.8M292.8 85.4h0.8M285.3 82.6h0.8M282.4 76.6h0.8M287.2 86.4h0.8M280.4 78.0h0.8M279.8 78.8h0.8M286.0 72.3h0.8M283.1 70.8h0.8M279.7 80.6h0.8M286.2 81.5h0.8M279.5 81.5h0.8M283.9 85.5h0.8M286.6 83.3h0.8M282.6 76.2h0.8M283.9 82.1h0.8M288.6 77.8h0.8M282.5 77.9h0.8M286.7 79.3h0.8M284.5 78.2h0.8M281.7 78.7h0.8M288.9 78.9h0.8M285.5 79.0h0.8M284.3 80.9h0.8M284.8 84.7h0.8M281.3 78.7h0.8M283.5 85.1h0.8M282.6 80.3h0.8M280.0 78.6h0.8M279.4 75.6h0.8M282.5 80.7h0.8M286.8 79.4h0.8M283.7 84.7h0.8M282.8 81.5h0.8M287.1 77.0h0.8M280.0 77.4h0.8M287.8 84.2h0.8M288.2 85.0h0.8M284.1 70.2h0.8M286.7 79.3h0.8M279.6 81.2h0.8M278.6 87.7h0.8M277.3 79.3h0.8M288.4 82.5h0.8M282.6 70.7h0.8M277.5 79.3h0.8M285.2 74.9h0.8M283.8 74.1h0.8M291.2 87.7h0.8M289.5 71.9h0.8M285.6 88.7h0.8M289.3 82.0h0.8M283.5 85.4h0.8M281.4 83.7h0.8M279.1 82.6h0.8M283.3 76.4h0.8M285.9 83.6h0.8M283.2 84.4h0.8M278.5 78.9h0.8M287.9 80.0h0.8M283.7 85.6h0.8M290.4 81.0h0.8M290.0 82.2h0.8M281.8 77.0h0.8M288.3 80.2h0.8M286.8 80.5h0.8M285.4 88.2h0.8M284.8 75.3h0.8M286.7 78.2h0.8M285.7 86.5h0.8M278.4 77.3h0.8M282.0 89.6h0.8M281.1 73.9h0.8M282.7 78.1h0.8M276.6 74.3h0.8M288.4 80.9h0.8M284.0 83.4h0.8M285.7 73.0h0.8M288.9 86.3h0.8M286.0 78.9h0.8M290.1 81.5h0.8M288.5 76.2h0.8M281.1 79.3h0.8M277.3 74.5h0.8M279.9 74.6h0.8M277.3 81.2h0.8M285.5 74.2h0.8M284.0 83.9h0.8M290.4 79.8h0.8M289.2 83.2h0.8M280.4 82.4h0.8M283.3 90.3h0.8M277.9 80.1h0.8M284.5 90.3h0.8M280.4 77.6h0.8M276.7 83.7h0.8M280.7 77.1h0.8M282.3 83.8h0.8M284.5 85.3h0.8M284.9 82.0h0.8M284.4 80.8h0.8M284.1 78.0h0.8M287.7 77.9h0.8M284.4 86.1h0.8M283.4 87.5h0.8M282.1 90.2h0.8M286.3 80.6h0.8M289.3 75.5h0.8M284.5 87.1h0.8M282.1 84.2h0.8M284.3 86.0h0.8M280.6 71.7h0.8M284.8 86.4h0.8M277.9 74.9h0.8M277.5 80.2h0.8M288.5 78.1h0.8M276.7 86.2h0.8M280.9 76.5h0.8M285.9 73.4h0.8M279.5 78.4h0.8M284.7 84.8h0.8M291.1 81.2h0.8M287.8 73.1h0.8M291.3 79.3h0.8M287.6 83.1h0.8M286.6 79.1h0.8M289.9 74.5h0.8M286.6 82.9h0.8M284.4 72.7h0.8M289.6 81.7h0.8M287.8 89.5h0.8M284.4 79.7h0.8M284.6 80.4h0.8M291.6 75.1h0.8M284.9 79.7h0.8M287.8 78.9h0.8M281.2 72.6h0.8M283.2 78.9h0.8M285.2 88.1h0.8M287.6 83.7h0.8M288.5 78.4h0.8M288.2 86.3h0.8M281.1 86.6h0.8M280.3 86.4h0.8M286.1 77.4h0.8M281.0 77.9h0.8M291.0 88.5h0.8M282.1 85.4h0.8M293.7 85.7h0.8M290.7 79.8h0.8M288.8 85.9h0.8M280.8 80.5h0.8M285.4 82.9h0.8M287.9 74.8h0.8M284.9 71.8h0.8M281.1 83.1h0.8M283.2 86.6h0.8M279.0 82.9h0.8M284.0 84.6h0.8M285.9 80.8h0.8M285.2 80.9h0.8M281.7 81.8h0.8M285.8 79.1h0.8M286.7 80.0h0.8M286.7 76.1h0.8M285.1 86.8h0.8M284.6 80.7h0.8M288.9 86.0h0.8M284.9 88.5h0.8M282.5 84.7h0.8M284.3 85.0h0.8M287.5 78.4h0.8M277.6 84.0h0.8M278.4 81.8h0.8M281.6 78.6h0.8M284.0 72.8h0.8M291.2 86.1h0.8M283.9 72.2h0.8M278.8 80.5h0.8M290.4 82.7h0.8M287.6 76.5h0.8M284.7 72.3h0.8M278.5 79.0h0.8M283.1 80.0h0.8M278.7 78.0h0.8M287.2 85.0h0.8M285.3 79.3h0.8M287.3 76.8h0.8M281.2 85.3h0.8M282.2 77.8h0.8M287.2 84.6h0.8M283.8 72.3h0.8M281.8 69.4h0.8M286.1 82.5h0.8M285.4 79.2h0.8M281.2 78.8h0.8M289.6 77.2h0.8M285.2 81.8h0.8M280.3 80.5h0.8M280.1 80.7h0.8M288.3 82.2h0.8M286.5 76.6h0.8M285.9 83.0h0.8M292.1 77.2h0.8M282.2 82.1h0.8M279.7 86.9h0.8M292.9 74.4h0.8M288.6 74.6h0.8M291.7 88.8h0.8M288.1 87.5h0.8M284.4 81.0h0.8M283.4 76.6h0.8M286.8 78.2h0.8M283.0 75.1h0.8M288.0 81.6h0.8M282.6 87.7h0.8M286.3 83.1h0.8M282.7 82.8h0.8M286.7 88.2h0.8M289.7 80.8h0.8M287.2 83.5h0.8M283.9 85.2h0.8M290.8 77.7h0.8M284.9 83.2h0.8M280.7 73.0h0.8M284.3 74.1h0.8M284.4 75.5h0.8M290.9 78.2h0.8M286.5 74.3h0.8M288.7 77.7h0.8M288.9 78.9h0.8M288.2 79.1h0.8M280.2 78.7h0.8M278.0 76.1h0.8M286.4 77.6h0.8M283.7 74.0h0.8M283.4 81.2h0.8M284.2 73.5h0.8M287.9 82.6h0.8M284.2 81.8h0.8M282.4 83.0h0.8M283.8 80.8h0.8M291.3 89.9h0.8M282.4 78.4h0.8M281.6 81.0h0.8M282.6 80.0h0.8M278.3 70.0h0.8M286.9 74.6h0.8M279.2 78.2h0.8M284.0 81.3h0.8M278.3 81.8h0.8M284.5 78.7h0.8M285.5 78.7h0.8M282.6 79.3h0.8M284.1 83.3h0.8M280.5 74.2h0.8M288.4 76.5h0.8M286.0 80.6h0.8M286.7 81.6h0.8M286.4 83.9h0.8M289.3 88.4h0.8M282.2 84.0h0.8M285.5 77.0h0.8M283.9 79.8h0.8M276.3 79.9h0.8M282.1 77.9h0.8M282.0 75.2h0.8M279.6 79.4h0.8M283.1 69.6h0.8M287.1 73.3h0.8M285.8 77.0h0.8M287.4 89.4h0.8M284.3 80.3h0.8M284.9 77.3h0.8M283.8 90.9h0.8M287.6 89.0h0.8M284.3 88.7h0.8M281.4 83.9h0.8M282.6 72.4h0.8M286.5 87.4h0.8M286.4 83.4h0.8M285.4 77.2h0.8M283.4 81.0h0.8M282.9 78.2h0.8M278.2 89.7h0.8M280.8 81.4h0.8M287.9 81.2h0.8M289.2 84.8h0.8M286.3 82.7h0.8M288.9 86.9h0.8M283.2 76.4h0.8M283.8 83.5h0.8M280.3 77.5h0.8M286.5 82.3h0.8M282.8 76.8h0.8M283.8 77.2h0.8M286.2 81.3h0.8M287.9 75.6h0.8M288.5 81.0h0.8M283.2 77.2h0.8M285.2 79.6h0.8M280.1 78.3h0.8M283.1 79.0h0.8M285.0 78.8h0.8M282.0 71.0h0.8M284.5 79.1h0.8M291.6 84.5h0.8M286.7 77.0h0.8M291.3 76.9h0.8M291.2 87.3h0.8M288.4 80.8h0.8M285.7 83.4h0.8M283.8 79.8h0.8M287.6 79.6h0.8M283.5 75.6h0.8M289.2 77.4h0.8M278.6 79.4h0.8M281.2 77.4h0.8M288.2 88.3h0.8M282.1 75.6h0.8M289.2 80.2h0.8M284.9 77.0h0.8M281.6 85.0h0.8M290.5 80.3h0.8M284.4 76.0h0.8M286.0 70.4h0.8M280.3 81.0h0.8M283.4 76.7h0.8M287.3 81.2h0.8M279.7 78.2h0.8M286.9 77.2h0.8M287.0 84.8h0.8M286.5 83.5h0.8M279.2 79.8h0.8M286.9 82.1h0.8M280.5 80.5h0.8M287.5 86.9h0.8M290.1 78.7h0.8M288.9 83.7h0.8M284.6 83.9h0.8M290.2 84.2h0.8M283.3 76.5h0.8M279.4 76.8h0.8M284.1 74.1h0.8M288.1 83.9h0.8M287.6 80.9h0.8M285.4 77.7h0.8M286.0 84.5h0.8M287.2 79.7h0.8M280.9 82.5h0.8M289.7 82.4h0.8M288.0 82.3h0.8M282.0 81.2h0.8M283.5 83.5h0.8M286.7 83.9h0.8M283.7 75.5h0.8M285.1 81.4h0.8M285.7 76.0h0.8M284.0 89.5h0.8M289.7 79.4h0.8M291.6 84.9h0.8M285.1 79.1h0.8M283.3 89.0h0.8M282.7 80.2h0.8M287.6 80.0h0.8M287.5 87.3h0.8M290.9 80.1h0.8M285.8 80.2h0.8M286.2 87.3h0.8M286.8 79.6h0.8M282.2 73.1h0.8M293.1 83.0h0.8M283.6 84.3h0.8M286.3 74.2h0.8M284.1 78.7h0.8M283.4 77.8h0.8M287.9 72.7h0.8M281.8 73.8h0.8M292.1 79.5h0.8M284.2 75.3h0.8M286.0 80.7h0.8M282.5 80.8h0.8M287.2 80.6h0.8M282.7 83.2h0.8M284.1 90.0h0.8M287.0 87.5h0.8M287.2 85.0h0.8M281.7 79.6h0.8M285.6 76.7h0.8M287.1 72.3h0.8M284.0 78.4h0.8M290.0 86.9h0.8M287.7 79.4h0.8M281.8 72.3h0.8M286.4 78.2h0.8M285.4 81.8h0.8M283.7 75.4h0.8M284.3 77.1h0.8M283.0 76.7h0.8M280.3 81.9h0.8M287.4 79.3h0.8M285.3 78.5h0.8M287.6 87.2h0.8M291.3 85.6h0.8M287.0 78.0h0.8M283.5 72.9h0.8M289.4 79.8h0.8M279.7 86.8h0.8M284.1 90.8h0.8M282.5 83.5h0.8M288.3 73.2h0.8M287.2 87.0h0.8M288.8 80.1h0.8M279.8 76.7h0.8M284.3 75.0h0.8M283.3 81.9h0.8M282.6 76.5h0.8M285.3 78.6h0.8M285.1 77.1h0.8M289.8 73.8h0.8M283.9 81.6h0.8M285.6 83.4h0.8M291.8 79.7h0.8M285.5 80.2h0.8M281.1 77.5h0.8M278.1 76.0h0.8M286.1 77.9h0.8M289.1 79.5h0.8M282.9 80.3h0.8M285.2 83.2h0.8M284.1 86.0h0.8M284.9 83.9h0.8M286.1 81.4h0.8M288.5 77.6h0.8M283.1 80.5h0.8M285.6 80.0h0.8M285.2 78.6h0.8M284.0 85.4h0.8M279.3 81.4h0.8M279.7 76.0h0.8M287.9 82.1h0.8M284.3 85.5h0.8M283.4 81.0h0.8M285.9 81.4h0.8M290.2 83.1h0.8M290.0 79.1h0.8M286.7 86.7h0.8M281.9 79.7h0.8M286.0 76.5h0.8M284.6 81.4h0.8M285.4 91.3h0.8M278.9 80.2h0.8M282.0 79.9h0.8M282.2 84.3h0.8M283.4 85.4h0.8M288.7 81.3h0.8M288.2 84.2h0.8M276.8 76.8h0.8M290.6 73.2h0.8M282.0 81.0h0.8M286.1 78.1h0.8M284.0 81.1h0.8M287.4 72.7h0.8M287.2 78.9h0.8M288.0 73.8h0.8M281.0 78.0h0.8M286.5 74.9h0.8M293.2 77.3h0.8M281.8 84.2h0.8M277.6 83.6h0.8M287.3 76.3h0.8M282.8 82.9h0.8M282.1 73.3h0.8M281.7 75.4h0.8M284.8 79.5h0.8M279.2 80.3h0.8M284.1 70.8h0.8M286.3 91.4h0.8M290.2 79.3h0.8M286.1 77.2h0.8M286.0 83.4h0.8M277.1 76.8h0.8M279.8 88.7h0.8M285.6 78.8h0.8M278.4 79.1h0.8M287.1 77.0h0.8M292.6 82.0h0.8M288.5 78.4h0.8M284.7 79.3h0.8M289.9 78.1h0.8M290.7 79.7h0.8M283.5 82.2h0.8M277.4 78.1h0.8M280.4 78.1h0.8M285.4 82.8h0.8M285.2 84.3h0.8M284.6 83.5h0.8M285.3 84.2h0.8M283.8 80.7h0.8M289.0 84.0h0.8M285.1 83.6h0.8M286.5 74.8h0.8M279.9 76.5h0.8M284.6 68.7h0.8M286.8 79.8h0.8M284.9 78.9h0.8M287.1 82.9h0.8M286.5 82.3h0.8M285.7 89.1h0.8M286.0 74.4h0.8M279.0 76.7h0.8M283.7 78.8h0.8M282.5 80.5h0.8M286.1 84.3h0.8M280.1 75.8h0.8M283.7 84.5h0.8M292.6 84.2h0.8M277.1 75.1h0.8M280.7 84.0h0.8M287.7 80.9h0.8M283.0 76.2h0.8M279.8 76.6h0.8M282.3 78.2h0.8M288.7 80.1h0.8M289.0 81.3h0.8M282.8 81.4h0.8M283.7 80.7h0.8M289.3 78.4h0.8M283.9 86.0h0.8M281.8 76.9h0.8M286.5 75.1h0.8M290.7 76.8h0.8M284.2 77.1h0.8M285.4 78.7h0.8M285.0 80.3h0.8M281.0 70.5h0.8M282.8 72.9h0.8M279.1 77.1h0.8M278.5 76.6h0.8M287.4 85.0h0.8M284.0 78.5h0.8M277.2 74.8h0.8M290.3 84.9h0.8M283.4 69.5h0.8M290.3 79.2h0.8M281.5 76.3h0.8M280.2 81.9h0.8M281.4 87.1h0.8M281.1 78.0h0.8M279.1 78.5h0.8M288.6 72.6h0.8M284.3 76.3h0.8M286.9 80.3h0.8M288.9 83.5h0.8M288.8 83.1h0.8M285.2 74.7h0.8M287.5 77.0h0.8M282.0 80.0h0.8M288.4 85.2h0.8M286.5 82.2h0.8M283.5 87.6h0.8M287.6 79.9h0.8M279.1 74.9h0.8M290.6 80.7h0.8M285.2 79.8h0.8M290.4 79.3h0.8M285.5 85.7h0.8M282.9 87.9h0.8M283.7 81.1h0.8M287.6 77.5h0.8M287.7 87.2h0.8M288.5 85.4h0.8M283.2 80.6h0.8M290.6 78.6h0.8M292.7 84.7h0.8M280.7 72.1h0.8M285.3 77.0h0.8M284.1 82.7h0.8M288.5 69.3h0.8M280.0 76.1h0.8M289.6 79.7h0.8M282.1 81.1h0.8M286.9 80.0h0.8M287.7 89.4h0.8M287.5 80.9h0.8M282.3 79.0h0.8M284.4 80.7h0.8M284.3 78.2h0.8M284.6 82.2h0.8M284.1 76.6h0.8M284.1 79.4h0.8M281.8 77.7h0.8M287.1 78.5h0.8M282.8 89.3h0.8M289.1 82.7h0.8M281.9 80.0h0.8M287.2 85.4h0.8M285.5 80.2h0.8M284.2 84.6h0.8M284.7 87.8h0.8M280.5 82.9h0.8M279.9 75.1h0.8M289.4 77.9h0.8M283.3 73.8h0.8M291.4 85.2h0.8M283.9 79.6h0.8M284.8 74.1h0.8M288.7 78.8h0.8M277.1 80.9h0.8M290.9 77.1h0.8M281.2 81.3h0.8M284.3 69.3h0.8M279.3 81.3h0.8M280.5 77.0h0.8M285.7 84.0h0.8M287.6 80.9h0.8M287.0 89.0h0.8M283.5 76.0h0.8M289.5 85.2h0.8M284.9 72.9h0.8M283.9 73.3h0.8M291.6 82.5h0.8M286.6 78.0h0.8M276.9 88.5h0.8M291.9 79.6h0.8M286.2 77.7h0.8M290.0 74.1h0.8M287.6 90.8h0.8M288.3 70.2h0.8M286.3 78.9h0.8M288.3 88.3h0.8M286.6 84.3h0.8M286.7 71.1h0.8M281.8 82.6h0.8M282.6 76.4h0.8M285.2 83.2h0.8M280.4 74.3h0.8M286.1 88.2h0.8M281.1 75.5h0.8M281.1 78.7h0.8M289.7 81.2h0.8M280.8 70.6h0.8M290.4 79.5h0.8M289.0 88.9h0.8M276.6 85.5h0.8M286.6 79.5h0.8M286.1 80.7h0.8M283.0 74.6h0.8M282.6 76.6h0.8M283.6 78.6h0.8M286.7 88.0h0.8M285.2 82.5h0.8M292.2 76.9h0.8M284.9 79.4h0.8M287.8 85.8h0.8M277.9 77.2h0.8M290.2 82.0h0.8M290.7 84.4h0.8M288.7 83.6h0.8M286.9 71.9h0.8M283.4 86.6h0.8M280.7 77.9h0.8M281.6 76.5h0.8M280.3 85.2h0.8M278.8 68.4h0.8M291.1 76.8h0.8M288.5 84.2h0.8M278.3 79.3h0.8M287.1 78.5h0.8M292.7 81.7h0.8M288.4 79.8h0.8M282.0 76.7h0.8M281.0 84.2h0.8M282.1 69.6h0.8M282.1 84.0h0.8M276.6 77.7h0.8M285.9 79.9h0.8M285.3 77.6h0.8M279.6 79.4h0.8M289.4 83.7h0.8M283.7 75.5h0.8M281.3 78.3h0.8M286.7 83.3h0.8M290.0 78.1h0.8M278.4 76.8h0.8M288.3 73.3h0.8M281.2 83.1h0.8M284.4 81.6h0.8M286.4 79.3h0.8M279.8 86.3h0.8M281.9 89.8h0.8M287.1 80.7h0.8M279.9 81.6h0.8M287.2 70.1h0.8M286.0 77.2h0.8M286.2 80.1h0.8M281.6 80.5h0.8M287.5 80.8h0.8M284.9 78.7h0.8M282.9 77.7h0.8M283.9 87.6h0.8M285.9 84.6h0.8M288.3 80.6h0.8M284.4 82.2h0.8M288.2 83.3h0.8M292.8 86.8h0.8M284.8 84.7h0.8M291.4 84.4h0.8M285.6 81.9h0.8M279.2 87.2h0.8M288.7 77.7h0.8M283.7 78.9h0.8M290.2 75.9h0.8M285.2 89.5h0.8M287.3 85.1h0.8M283.9 86.1h0.8M285.0 86.2h0.8M285.0 80.9h0.8M290.1 86.4h0.8M280.7 81.4h0.8M283.4 76.6h0.8M286.5 84.9h0.8M285.1 71.9h0.8M280.0 81.0h0.8M280.6 72.5h0.8M281.6 84.3h0.8M283.8 73.9h0.8M285.2 76.1h0.8M285.7 75.8h0.8M282.9 79.5h0.8M278.5 85.0h0.8M287.4 80.9h0.8M279.6 77.4h0.8M282.8 72.7h0.8M284.0 73.2h0.8M287.7 85.5h0.8M284.9 80.5h0.8M278.7 80.9h0.8M284.3 78.9h0.8M283.2 76.3h0.8M289.7 76.5h0.8M291.7 76.9h0.8M281.3 76.7h0.8M281.7 78.7h0.8M286.2 78.1h0.8M288.5 80.2h0.8M280.2 81.9h0.8M283.1 86.1h0.8M292.2 84.3h0.8M291.1 87.0h0.8M289.2 73.8h0.8M285.0 76.8h0.8M283.8 79.1h0.8M284.8 71.2h0.8M286.0 85.3h0.8M289.7 84.6h0.8M284.6 78.3h0.8M279.1 72.6h0.8M288.6 90.3h0.8M284.9 80.9h0.8M290.5 84.9h0.8M287.7 89.6h0.8M283.5 80.6h0.8M286.4 76.1h0.8M285.2 80.4h0.8M283.6 85.1h0.8M280.0 79.5h0.8M285.2 80.2h0.8M288.0 77.0h0.8M283.7 69.4h0.8M279.8 74.8h0.8M285.5 83.4h0.8M287.7 79.7h0.8M282.9 76.7h0.8M283.0 82.9h0.8M288.7 80.4h0.8M283.4 80.3h0.8M285.9 78.4h0.8M286.3 76.9h0.8M285.1 81.5h0.8M279.2 89.1h0.8M282.8 83.1h0.8M284.9 76.4h0.8M285.7 79.0h0.8M286.3 71.6h0.8M286.4 73.9h0.8M289.5 85.2h0.8M281.2 76.7h0.8M285.3 76.9h0.8M281.2 84.4h0.8M287.2 77.8h0.8M280.9 82.3h0.8M283.5 80.3h0.8M279.1 87.8h0.8M279.4 86.5h0.8M288.5 76.7h0.8M290.1 81.1h0.8M288.1 79.2h0.8M283.6 82.0h0.8M288.6 76.1h0.8M280.7 75.8h0.8M288.7 76.9h0.8M281.1 77.8h0.8M279.9 90.6h0.8M282.3 75.0h0.8M289.6 84.4h0.8M289.1 82.1h0.8M285.9 84.9h0.8M285.5 83.6h0.8M283.2 80.7h0.8M284.9 87.9h0.8M290.9 86.5h0.8M282.8 81.5h0.8M285.5 75.3h0.8M284.9 80.1h0.8M288.9 91.1h0.8M280.9 79.7h0.8M283.6 78.7h0.8M289.4 88.6h0.8M282.7 76.5h0.8M287.0 77.1h0.8M278.7 82.1h0.8M286.8 77.0h0.8M287.6 80.0h0.8M284.5 85.9h0.8M280.6 77.1h0.8M278.5 80.9h0.8M285.0 85.3h0.8M281.4 70.2h0.8M284.9 84.6h0.8M282.1 80.3h0.8M285.7 89.4h0.8M288.4 76.7h0.8M283.9 81.9h0.8M278.0 76.2h0.8M282.9 82.3h0.8M286.1 77.6h0.8M279.0 75.9h0.8M281.8 79.3h0.8M282.2 77.0h0.8M281.7 71.8h0.8M287.1 72.2h0.8M287.1 83.1h0.8M282.3 73.5h0.8M288.2 77.1h0.8M286.4 80.9h0.8M289.5 82.5h0.8M284.5 81.2h0.8M286.2 79.2h0.8M281.2 86.5h0.8M283.9 76.7h0.8M289.0 79.3h0.8M286.8 75.6h0.8M279.3 69.3h0.8M289.6 82.9h0.8M276.6 71.9h0.8M282.6 77.4h0.8M288.1 85.2h0.8M286.8 84.2h0.8M287.3 79.5h0.8M286.6 87.3h0.8M276.7 78.7h0.8M282.0 87.0h0.8M287.2 78.7h0.8M282.0 83.7h0.8M280.0 80.6h0.8M284.2 77.3h0.8M280.8 72.0h0.8M282.4 81.8h0.8M284.9 86.8h0.8M286.9 82.6h0.8M283.2 87.0h0.8M284.8 73.7h0.8M287.1 84.0h0.8M278.0 81.4h0.8M285.1 84.0h0.8M287.3 84.2h0.8M283.1 74.0h0.8M284.1 82.2h0.8M284.1 88.3h0.8M286.2 77.6h0.8M292.1 81.1h0.8M290.4 82.7h0.8M281.1 79.4h0.8M284.4 79.5h0.8M285.0 70.5h0.8M288.0 81.3h0.8M286.3 77.4h0.8M289.2 87.6h0.8M285.7 82.6h0.8M286.9 80.4h0.8M280.4 90.5h0.8M285.1 76.9h0.8M281.2 83.3h0.8M285.7 81.5h0.8M286.2 84.1h0.8M289.2 79.6h0.8M280.6 82.0h0.8M287.0 75.8h0.8M293.4 75.1h0.8M284.2 86.3h0.8M288.1 79.3h0.8M289.5 80.3h0.8M284.2 77.9h0.8M280.6 83.9h0.8M281.1 83.4h0.8M285.6 75.8h0.8M283.2 72.0h0.8M285.5 75.8h0.8M282.3 85.2h0.8M280.9 81.3h0.8M279.1 75.8h0.8M286.6 82.9h0.8M288.2 84.7h0.8M287.4 91.4h0.8M286.1 85.4h0.8M285.3 76.0h0.8M287.4 82.1h0.8M284.0 75.4h0.8M287.1 79.3h0.8M283.5 85.3h0.8M283.4 83.4h0.8M288.6 84.0h0.8M285.0 75.2h0.8M290.3 80.0h0.8M282.6 83.3h0.8M284.7 82.2h0.8M280.4 80.5h0.8M285.4 78.1h0.8M293.1 83.1h0.8M281.1 85.6h0.8M287.2 77.5h0.8M287.9 88.2h0.8M283.5 85.4h0.8M290.0 80.7h0.8M282.6 80.9h0.8M288.1 91.0h0.8M287.6 77.8h0.8M283.6 83.9h0.8M282.9 83.8h0.8M285.7 79.9h0.8M281.9 84.3h0.8M282.4 76.8h0.8M284.3 74.7h0.8M289.9 89.5h0.8M286.6 87.7h0.8M287.1 79.0h0.8M285.3 71.4h0.8M280.2 88.5h0.8M288.0 85.0h0.8M289.6 79.8h0.8M287.7 76.8h0.8M282.4 75.1h0.8M283.5 71.9h0.8M283.7 71.6h0.8M286.3 87.2h0.8M286.7 72.3h0.8M287.1 85.9h0.8M283.3 76.8h0.8M282.4 77.1h0.8M278.7 76.1h0.8M291.8 69.9h0.8M282.4 74.5h0.8M282.8 79.4h0.8M292.8 83.2h0.8M292.1 79.4h0.8M287.0 86.7h0.8M286.1 84.3h0.8M287.2 69.2h0.8M291.6 81.5h0.8M283.6 72.3h0.8M287.1 84.0h0.8M284.9 76.6h0.8M287.1 85.3h0.8M286.4 83.6h0.8M286.5 83.1h0.8M288.1 83.5h0.8M283.9 82.2h0.8M286.7 84.8h0.8M287.9 82.2h0.8M291.0 83.0h0.8M288.1 84.3h0.8M288.8 86.2h0.8M290.9 79.5h0.8M287.2 82.0h0.8M289.0 89.4h0.8M290.6 85.0h0.8M285.9 70.8h0.8M281.5 81.9h0.8M281.7 85.4h0.8M279.1 80.0h0.8M278.2 82.8h0.8M282.5 77.4h0.8M282.6 81.4h0.8M286.0 79.4h0.8M281.7 82.6h0.8M283.6 78.4h0.8M284.0 77.5h0.8M284.4 84.2h0.8M292.6 85.0h0.8M281.6 69.0h0.8M281.0 76.0h0.8M280.5 81.5h0.8M283.9 82.6h0.8M279.2 74.7h0.8M293.2 79.5h0.8M283.0 77.7h0.8M282.9 78.7h0.8M289.1 74.1h0.8M282.6 82.8h0.8M288.1 77.0h0.8M290.0 84.1h0.8M283.3 81.0h0.8M286.6 77.5h0.8M286.7 85.9h0.8M285.0 84.5h0.8M276.7 82.4h0.8M281.6 76.7h0.8M289.3 70.6h0.8M285.7 79.5h0.8M287.2 72.2h0.8M283.6 72.0h0.8M283.6 77.0h0.8M291.1 77.1h0.8M285.3 86.2h0.8M286.1 83.5h0.8M283.5 77.9h0.8M290.3 81.1h0.8M278.8 72.0h0.8M288.2 81.2h0.8M291.1 88.4h0.8M285.7 77.4h0.8M279.3 80.6h0.8M281.8 75.7h0.8M282.5 78.8h0.8M287.1 81.4h0.8M282.9 79.6h0.8M287.4 77.6h0.8M290.5 81.3h0.8M281.8 72.5h0.8M277.0 82.6h0.8M281.0 69.1h0.8M285.8 76.3h0.8M282.7 81.1h0.8M282.5 76.0h0.8M281.5 80.7h0.8M287.3 86.2h0.8M284.5 75.4h0.8M288.6 85.5h0.8M281.6 75.2h0.8M289.3 70.1h0.8M285.4 73.4h0.8M289.5 78.2h0.8M282.4 79.3h0.8M283.4 84.0h0.8M284.7 83.9h0.8M285.7 82.2h0.8M281.2 77.7h0.8M287.0 72.7h0.8M292.5 76.3h0.8M289.3 85.2h0.8M286.4 79.3h0.8M285.5 80.8h0.8M289.0 91.4h0.8M286.5 78.3h0.8M286.8 80.3h0.8M287.2 77.0h0.8M281.8 77.6h0.8M280.3 82.8h0.8M286.3 79.5h0.8M279.7 83.1h0.8M286.2 73.4h0.8M284.8 81.1h0.8M285.6 86.4h0.8M289.0 76.5h0.8M281.9 76.8h0.8M279.6 80.4h0.8M282.1 78.9h0.8M286.2 79.1h0.8M277.4 84.4h0.8M281.6 77.4h0.8M285.9 84.8h0.8M284.9 72.5h0.8M278.2 70.7h0.8M282.9 82.7h0.8M278.7 71.2h0.8M283.0 70.3h0.8M285.4 79.1h0.8M283.2 76.9h0.8M282.2 71.7h0.8M285.8 77.1h0.8M283.5 81.9h0.8M287.8 73.5h0.8M280.5 77.1h0.8M284.6 74.5h0.8M289.0 91.7h0.8M285.7 74.3h0.8M282.6 78.4h0.8M285.1 81.7h0.8M281.4 71.7h0.8M284.8 83.2h0.8M282.2 81.3h0.8M285.1 76.3h0.8M284.8 85.0h0.8M288.8 74.4h0.8M286.6 82.0h0.8M290.4 83.1h0.8M283.7 77.4h0.8M283.5 89.3h0.8M290.9 83.2h0.8M287.6 74.0h0.8M282.4 87.1h0.8M289.3 77.6h0.8M281.3 74.8h0.8M282.7 74.8h0.8M288.1 84.5h0.8M279.9 82.8h0.8M282.2 80.0h0.8M287.0 88.1h0.8M279.1 75.6h0.8M286.4 85.3h0.8M286.7 82.3h0.8M283.2 83.0h0.8M286.7 79.5h0.8M283.3 79.6h0.8M286.3 78.6h0.8M287.1 76.9h0.8M283.9 81.6h0.8M284.0 78.5h0.8M282.7 74.4h0.8M284.1 87.0h0.8M284.6 78.2h0.8M291.6 75.6h0.8M287.6 69.6h0.8M283.9 82.0h0.8M277.3 83.6h0.8M284.2 77.7h0.8M285.0 71.0h0.8M279.7 81.1h0.8M287.8 76.6h0.8M286.2 73.9h0.8M286.6 70.8h0.8M286.5 82.8h0.8M282.0 77.2h0.8M285.0 80.1h0.8M282.8 81.6h0.8M281.4 84.4h0.8M287.3 80.8h0.8M281.4 78.8h0.8M284.3 77.4h0.8M292.7 85.2h0.8M285.0 72.9h0.8M283.0 77.8h0.8M287.4 84.7h0.8M283.3 74.7h0.8M283.5 79.8h0.8M287.7 79.2h0.8M279.7 85.1h0.8M288.4 78.9h0.8M278.1 82.0h0.8M283.1 79.9h0.8M285.7 84.5h0.8M286.4 80.2h0.8M290.7 74.9h0.8M286.5 76.5h0.8M279.8 88.9h0.8M288.8 82.2h0.8M280.9 85.7h0.8M290.1 79.2h0.8M289.5 77.3h0.8M286.2 85.9h0.8M284.0 90.7h0.8M285.6 77.9h0.8M281.8 73.8h0.8M285.3 77.3h0.8M283.4 78.6h0.8M281.8 81.7h0.8M282.6 83.7h0.8M283.2 79.5h0.8M283.5 79.5h0.8M284.7 78.7h0.8M284.7 80.0h0.8M284.9 74.5h0.8M278.8 81.1h0.8M288.2 82.6h0.8M282.7 80.1h0.8M281.6 80.8h0.8M288.2 85.5h0.8M283.2 80.8h0.8M282.3 78.9h0.8M282.0 77.8h0.8M284.0 73.3h0.8M288.4 80.5h0.8M285.2 75.5h0.8M286.0 70.3h0.8M290.7 77.0h0.8M281.1 82.0h0.8M287.7 82.5h0.8M284.5 88.8h0.8M286.2 73.3h0.8M285.3 74.8h0.8M282.7 76.1h0.8M289.6 81.1h0.8M288.2 76.4h0.8M288.1 77.6h0.8M284.9 82.9h0.8M282.0 81.4h0.8M287.5 83.1h0.8M291.3 78.3h0.8M282.6 81.4h0.8M281.6 79.6h0.8M282.7 77.0h0.8M280.3 73.5h0.8M284.5 83.4h0.8M280.5 76.7h0.8M290.1 74.5h0.8M280.7 80.8h0.8M286.2 73.8h0.8M287.7 83.7h0.8M289.2 85.5h0.8M286.0 73.2h0.8M288.6 82.2h0.8M290.7 81.6h0.8M285.0 76.7h0.8M284.7 78.4h0.8M290.3 89.7h0.8M286.2 87.2h0.8M290.9 77.4h0.8M281.1 80.9h0.8M283.2 81.4h0.8M286.0 74.2h0.8M285.4 74.4h0.8M285.3 83.9h0.8M289.5 86.0h0.8M281.3 79.5h0.8M288.6 79.8h0.8M283.3 82.6h0.8M284.5 83.6h0.8M281.0 79.1h0.8M277.9 80.9h0.8M281.9 85.1h0.8M277.8 72.5h0.8M283.4 82.3h0.8M286.8 89.1h0.8M287.4 83.0h0.8M285.8 78.6h0.8M283.9 75.1h0.8M286.7 77.6h0.8M288.3 85.1h0.8M293.2 86.4h0.8M283.4 83.6h0.8M289.1 82.5h0.8M283.2 78.8h0.8M283.6 74.1h0.8M288.7 70.4h0.8M287.8 76.5h0.8M281.9 85.4h0.8M281.5 82.6h0.8M285.0 82.8h0.8M289.3 84.8h0.8M284.7 83.3h0.8M286.5 81.4h0.8M286.5 76.1h0.8M283.3 82.2h0.8M284.2 76.8h0.8M285.8 79.8h0.8M288.5 78.2h0.8M280.8 81.5h0.8M285.6 91.1h0.8M280.3 78.6h0.8M288.9 75.2h0.8M286.0 78.0h0.8M284.2 83.2h0.8M282.0 79.3h0.8M287.1 78.2h0.8M282.0 82.9h0.8M282.5 86.8h0.8M278.2 79.5h0.8M280.7 87.0h0.8M286.9 75.9h0.8M293.0 76.7h0.8M285.8 86.3h0.8M286.9 77.7h0.8M287.2 77.2h0.8M286.6 75.8h0.8M292.3 77.5h0.8M284.6 80.5h0.8M281.4 75.2h0.8M282.6 90.3h0.8M280.9 82.5h0.8M286.0 88.1h0.8M282.9 79.1h0.8M287.8 78.9h0.8M289.0 86.6h0.8M279.0 83.5h0.8M280.7 82.3h0.8M283.5 69.9h0.8M286.0 82.2h0.8M282.8 80.1h0.8M286.0 75.8h0.8M284.0 81.5h0.8M284.5 84.6h0.8M284.7 83.4h0.8M283.8 87.7h0.8M288.2 84.5h0.8M284.5 79.1h0.8M287.7 72.8h0.8M285.0 81.7h0.8M291.9 85.4h0.8M290.0 82.4h0.8M280.2 75.6h0.8M281.1 81.2h0.8M278.8 81.1h0.8M287.4 82.6h0.8M281.1 79.7h0.8M282.1 76.4h0.8M287.6 79.6h0.8M285.6 79.6h0.8M285.7 78.0h0.8M284.0 85.0h0.8M286.7 78.8h0.8M278.3 78.6h0.8M278.9 79.8h0.8M291.8 80.9h0.8M285.0 84.4h0.8M279.0 76.7h0.8M292.3 79.8h0.8M286.0 73.4h0.8M283.2 70.0h0.8M285.7 77.2h0.8M285.6 85.1h0.8M288.2 79.5h0.8M286.2 76.3h0.8M283.0 70.0h0.8M289.9 80.2h0.8M283.1 78.0h0.8M286.5 77.4h0.8M290.3 87.7h0.8M280.8 78.7h0.8M288.1 90.9h0.8M282.1 70.4h0.8M281.6 83.2h0.8M283.3 79.6h0.8M290.1 81.5h0.8M280.4 86.8h0.8M285.5 72.7h0.8M282.5 78.0h0.8M280.1 75.7h0.8M284.8 85.5h0.8M290.1 83.8h0.8M282.6 81.1h0.8M283.3 71.2h0.8M285.1 80.6h0.8M276.9 72.8h0.8M290.8 85.4h0.8M280.3 74.6h0.8M288.8 80.9h0.8M291.0 80.2h0.8M279.6 74.5h0.8M292.5 91.5h0.8M282.0 83.0h0.8M286.6 80.4h0.8M287.2 78.8h0.8M278.9 79.0h0.8M284.5 74.6h0.8M282.4 70.9h0.8M286.1 84.8h0.8M279.8 75.8h0.8M284.1 79.4h0.8M285.1 84.7h0.8M288.5 75.3h0.8M284.3 86.3h0.8M282.3 70.0h0.8M283.4 81.5h0.8M285.6 77.0h0.8M288.9 73.7h0.8M288.3 75.5h0.8M284.4 79.0h0.8M284.6 82.4h0.8M289.3 82.9h0.8M289.1 82.8h0.8M286.4 82.9h0.8M281.5 74.5h0.8M286.7 84.9h0.8M286.1 78.9h0.8M283.0 82.3h0.8M285.4 82.8h0.8M284.6 75.5h0.8M288.3 80.0h0.8M284.1 75.3h0.8M285.2 78.3h0.8M287.9 80.0h0.8M284.8 75.6h0.8M289.7 81.3h0.8M289.7 86.8h0.8M285.3 81.6h0.8M280.1 77.8h0.8M281.2 73.4h0.8M292.8 84.4h0.8M287.2 72.6h0.8M288.1 80.6h0.8M287.2 90.2h0.8M284.5 84.9h0.8M286.6 88.0h0.8M288.1 84.2h0.8M285.1 75.3h0.8M285.7 86.0h0.8M287.3 87.8h0.8M286.1 76.8h0.8M288.5 82.0h0.8M292.4 81.7h0.8M289.9 78.7h0.8M280.0 78.4h0.8M281.9 84.3h0.8M279.5 72.9h0.8M284.4 82.6h0.8M283.9 80.4h0.8M283.3 85.3h0.8M288.1 75.2h0.8M291.6 80.2h0.8M292.8 80.1h0.8M283.9 82.6h0.8M283.0 72.0h0.8M279.1 84.3h0.8M280.7 72.2h0.8M292.3 81.1h0.8M287.0 77.8h0.8M286.6 76.9h0.8M289.2 72.9h0.8M285.8 78.2h0.8M286.6 86.1h0.8M285.3 84.9h0.8M293.1 78.3h0.8M286.2 82.7h0.8M285.9 73.8h0.8M285.7 82.0h0.8M290.3 74.5h0.8M289.0 84.4h0.8M291.1 75.6h0.8M288.5 78.5h0.8M283.2 70.3h0.8M287.2 74.2h0.8M288.4 73.4h0.8M292.3 75.9h0.8M286.7 77.9h0.8M282.6 84.6h0.8M288.1 80.5h0.8M292.2 71.2h0.8M280.4 79.7h0.8M288.6 84.5h0.8M288.0 78.6h0.8M281.1 71.9h0.8M281.1 81.0h0.8M284.5 76.9h0.8M283.5 82.9h0.8M287.6 81.8h0.8M288.1 73.2h0.8M283.5 81.2h0.8M281.9 79.3h0.8M279.9 72.2h0.8M282.8 83.1h0.8M288.5 71.8h0.8M283.8 75.6h0.8M286.2 79.4h0.8M291.1 80.2h0.8" stroke="#ff1a1a" stroke-width="0.8" stroke-opacity="0.58" fill="none"/><path d="M370.5 93.0h0.8M372.0 60.9h0.8M379.0 100.5h0.8M375.9 75.0h0.8M389.7 78.4h0.8M364.8 94.9h0.8M370.8 83.9h0.8M388.8 67.2h0.8M342.6 104.5h0.8M366.4 105.1h0.8M377.1 102.7h0.8M371.9 100.7h0.8M351.8 82.2h0.8M366.1 112.5h0.8M342.6 91.0h0.8M375.8 93.2h0.8M333.9 95.2h0.8M363.4 94.0h0.8M351.8 87.8h0.8M369.0 91.5h0.8M346.3 91.7h0.8M359.8 110.2h0.8M373.9 93.4h0.8M350.8 90.3h0.8M375.3 87.5h0.8M326.6 98.7h0.8M351.1 88.8h0.8M368.3 80.2h0.8M392.6 103.2h0.8M360.1 95.1h0.8M339.7 100.6h0.8M343.3 106.9h0.8M382.7 82.6h0.8M376.7 78.3h0.8M381.4 99.9h0.8M361.1 113.6h0.8M375.4 81.2h0.8M360.7 86.1h0.8M342.4 81.3h0.8M367.0 87.6h0.8M370.4 110.8h0.8M349.5 80.8h0.8M367.7 89.1h0.8M367.0 85.4h0.8M363.1 109.0h0.8M386.2 97.0h0.8M352.4 111.6h0.8M352.7 84.1h0.8M370.6 61.9h0.8M363.7 84.4h0.8M356.8 91.7h0.8M350.4 93.3h0.8M332.3 85.2h0.8M361.2 66.9h0.8M378.2 95.2h0.8M341.2 100.5h0.8M363.4 89.0h0.8M370.7 81.1h0.8M382.4 93.7h0.8M367.5 76.2h0.8M367.8 63.1h0.8M348.9 88.8h0.8M345.3 69.2h0.8M357.1 72.5h0.8M374.5 108.0h0.8M342.5 77.8h0.8M358.0 90.9h0.8M361.4 107.4h0.8M369.4 99.6h0.8M355.0 93.9h0.8M358.8 103.9h0.8M382.4 79.2h0.8M374.0 97.7h0.8M362.0 90.0h0.8M355.8 70.0h0.8M362.0 92.1h0.8M357.1 100.8h0.8M358.9 85.6h0.8M374.0 108.0h0.8M381.5 94.3h0.8M352.6 98.5h0.8M350.5 96.4h0.8M371.1 62.2h0.8M341.4 81.6h0.8M366.0 84.8h0.8M358.6 90.6h0.8M363.1 62.5h0.8M372.3 100.3h0.8M348.6 78.9h0.8M376.5 94.5h0.8M351.2 105.0h0.8M366.7 86.7h0.8M345.8 86.4h0.8M354.6 95.6h0.8M354.8 92.0h0.8M356.3 80.3h0.8M369.8 83.0h0.8M364.3 98.1h0.8M357.9 65.3h0.8M374.3 78.5h0.8" stroke="#000" stroke-width="0.8" stroke-opacity="0.28" fill="none"/><path d="M346.2 78.5h0.8M346.6 81.7h0.8M350.1 80.4h0.8M346.7 82.6h0.8M346.1 81.7h0.8M349.1 83.4h0.8M347.3 84.2h0.8M349.0 89.1h0.8M351.7 87.9h0.8M344.0 75.9h0.8M345.8 87.7h0.8M345.7 88.2h0.8M349.8 83.7h0.8M345.8 73.8h0.8M348.0 84.6h0.8M344.5 80.7h0.8M344.2 75.6h0.8M345.4 89.4h0.8M347.5 79.1h0.8M348.4 88.6h0.8M351.7 77.1h0.8M344.5 79.9h0.8M343.2 80.7h0.8M352.5 86.5h0.8M344.3 80.4h0.8M348.8 81.6h0.8M348.1 89.9h0.8M347.2 90.9h0.8M347.0 80.4h0.8M349.7 87.4h0.8M343.1 83.4h0.8M351.4 82.6h0.8M350.7 87.4h0.8M349.1 82.9h0.8M345.9 83.3h0.8M346.8 79.6h0.8M349.8 84.8h0.8M345.0 80.6h0.8M349.1 80.7h0.8M344.1 71.7h0.8M351.3 85.7h0.8M348.7 88.1h0.8M347.7 91.2h0.8M348.7 87.3h0.8M347.0 80.5h0.8M349.2 87.6h0.8M345.2 73.6h0.8M346.0 79.7h0.8M347.0 84.3h0.8M351.1 86.0h0.8M354.5 82.8h0.8M347.3 79.2h0.8M346.6 84.6h0.8M343.4 83.7h0.8M351.5 86.0h0.8M348.9 90.2h0.8M349.2 75.5h0.8M344.4 89.8h0.8M350.4 84.7h0.8M350.6 90.4h0.8M344.1 81.6h0.8M349.3 84.5h0.8M348.0 75.8h0.8M350.7 81.9h0.8M345.5 78.6h0.8M349.7 81.0h0.8M342.9 80.7h0.8M345.8 85.6h0.8M354.0 93.6h0.8M344.7 81.2h0.8M349.5 88.2h0.8M346.9 85.0h0.8M346.2 85.6h0.8M347.3 81.1h0.8M353.6 85.6h0.8M351.2 85.1h0.8M347.9 81.5h0.8M353.9 77.9h0.8M350.3 86.1h0.8M350.3 83.4h0.8M347.6 73.9h0.8M351.3 84.9h0.8M345.4 89.7h0.8M351.8 88.6h0.8M351.9 86.1h0.8M341.4 81.2h0.8M353.4 85.1h0.8M347.1 77.9h0.8M345.4 78.8h0.8M347.1 80.2h0.8M344.6 79.2h0.8M350.0 81.5h0.8M344.4 85.7h0.8M345.3 78.0h0.8M346.3 80.0h0.8M350.6 87.3h0.8M343.4 79.0h0.8M345.9 84.6h0.8M354.1 83.5h0.8M349.4 93.2h0.8M347.5 84.1h0.8M349.0 77.7h0.8M350.8 82.3h0.8M350.8 85.8h0.8M347.3 79.2h0.8M346.9 79.4h0.8M347.8 82.2h0.8M347.5 79.5h0.8M342.2 88.4h0.8M348.9 84.7h0.8M353.2 84.1h0.8M344.8 78.8h0.8M344.0 82.6h0.8M348.6 80.9h0.8M345.9 86.4h0.8M348.8 85.4h0.8M342.8 69.0h0.8M349.0 79.6h0.8M349.7 77.9h0.8M349.3 85.0h0.8M348.0 78.2h0.8M347.1 80.0h0.8M346.6 76.8h0.8M349.2 85.3h0.8M348.0 88.0h0.8M348.7 86.4h0.8M346.0 81.2h0.8M351.4 85.0h0.8M344.4 84.9h0.8M346.9 82.3h0.8M346.8 83.2h0.8M353.1 90.2h0.8M354.1 79.4h0.8M347.6 76.0h0.8M344.5 81.0h0.8M345.5 90.8h0.8M341.8 82.1h0.8M346.6 85.1h0.8M345.1 75.5h0.8M346.0 82.2h0.8M351.5 88.4h0.8M351.7 92.2h0.8M343.5 82.6h0.8M347.2 93.3h0.8M352.4 88.5h0.8M345.9 93.1h0.8M344.3 76.1h0.8M343.3 78.0h0.8M347.4 87.4h0.8M347.5 81.2h0.8M347.5 85.9h0.8M349.0 86.9h0.8M351.7 86.0h0.8M343.8 84.6h0.8M351.8 83.4h0.8M344.6 72.4h0.8M351.1 83.4h0.8M350.0 80.1h0.8M345.8 82.8h0.8M347.9 79.2h0.8M346.7 87.2h0.8M353.3 86.8h0.8M349.6 83.9h0.8M352.0 80.0h0.8M350.0 84.6h0.8M347.5 83.2h0.8M348.3 87.7h0.8M348.9 83.3h0.8M347.4 79.4h0.8M347.7 82.3h0.8M348.1 71.8h0.8M349.6 80.6h0.8M347.7 82.9h0.8M348.4 84.8h0.8M346.8 85.5h0.8M348.9 84.3h0.8M348.4 84.8h0.8M351.6 92.1h0.8M346.9 83.4h0.8M349.2 81.4h0.8M348.1 84.5h0.8M349.6 79.3h0.8M345.0 78.5h0.8M351.8 76.5h0.8M349.1 77.8h0.8M347.3 79.4h0.8M350.3 79.7h0.8M350.6 85.1h0.8M350.3 82.9h0.8M354.2 96.2h0.8M344.6 84.0h0.8M346.5 85.2h0.8M345.0 91.8h0.8M343.4 81.1h0.8M346.4 79.7h0.8M353.4 79.7h0.8M348.6 84.5h0.8M347.7 80.1h0.8M350.2 80.0h0.8M345.7 81.4h0.8M345.6 80.3h0.8M351.6 85.5h0.8M351.0 79.3h0.8M342.5 82.1h0.8M349.9 85.1h0.8M347.6 83.6h0.8M352.4 90.1h0.8M343.8 82.1h0.8M350.6 94.3h0.8M350.3 82.1h0.8M348.8 87.8h0.8M347.4 87.4h0.8M346.0 74.2h0.8M351.2 80.7h0.8M349.8 77.5h0.8M349.6 85.3h0.8M348.1 85.4h0.8M347.7 90.2h0.8M347.9 77.5h0.8M344.0 78.8h0.8M346.8 77.5h0.8M345.7 86.3h0.8M346.6 81.0h0.8M344.7 82.7h0.8M348.2 79.0h0.8M352.5 83.4h0.8M345.5 77.6h0.8M349.3 87.7h0.8M346.8 87.6h0.8M348.5 83.7h0.8M348.4 83.2h0.8M347.1 87.3h0.8M350.6 84.1h0.8M347.2 88.1h0.8M343.9 73.5h0.8M347.6 80.9h0.8M353.2 79.5h0.8M352.3 90.9h0.8M352.8 80.7h0.8M350.3 82.4h0.8M344.7 74.7h0.8M349.9 78.2h0.8M351.2 79.9h0.8M342.8 88.3h0.8M346.8 83.6h0.8M350.4 81.8h0.8M349.7 73.9h0.8M348.9 76.0h0.8M346.4 87.4h0.8M343.9 86.3h0.8M346.8 87.3h0.8M348.2 80.7h0.8M348.9 77.3h0.8M346.1 75.2h0.8M348.2 93.5h0.8M346.0 78.7h0.8M349.5 85.9h0.8M350.3 85.2h0.8M348.5 84.2h0.8M349.3 84.4h0.8M348.3 85.3h0.8M347.5 84.9h0.8M350.1 89.6h0.8M344.9 86.6h0.8M348.5 90.4h0.8M347.4 87.8h0.8M348.0 85.2h0.8M350.2 84.2h0.8M352.0 85.3h0.8M349.3 84.5h0.8M348.3 86.5h0.8M346.2 85.2h0.8M346.2 90.1h0.8M343.4 87.8h0.8M346.2 72.2h0.8M345.6 83.6h0.8M351.9 88.7h0.8M349.7 78.3h0.8M344.9 91.3h0.8M346.6 82.6h0.8M345.6 80.9h0.8M345.8 91.5h0.8M351.1 80.9h0.8M345.6 75.6h0.8M343.3 83.1h0.8M350.0 74.3h0.8M351.2 86.0h0.8M349.4 87.2h0.8M353.2 90.2h0.8M344.4 82.8h0.8M350.3 76.7h0.8M348.5 82.3h0.8M350.6 87.8h0.8M347.1 84.7h0.8M348.0 85.6h0.8M347.9 76.7h0.8M348.0 91.3h0.8M346.6 84.4h0.8M352.5 89.2h0.8M350.2 77.3h0.8M349.6 83.9h0.8M344.5 81.0h0.8M346.8 85.1h0.8M345.0 81.6h0.8M347.7 74.8h0.8M349.6 75.6h0.8M347.2 86.1h0.8M343.2 80.3h0.8M347.3 93.4h0.8M349.5 86.3h0.8M346.6 84.3h0.8M349.7 87.1h0.8M351.9 85.5h0.8M346.5 81.3h0.8M347.8 77.8h0.8M342.2 76.9h0.8M346.6 82.2h0.8M347.2 85.0h0.8M349.6 81.5h0.8M350.9 86.9h0.8M345.4 89.1h0.8M350.0 84.6h0.8M347.4 84.9h0.8M341.9 78.8h0.8M351.4 81.8h0.8M352.1 85.7h0.8M350.1 89.1h0.8M342.9 72.0h0.8M346.0 80.3h0.8M352.2 89.5h0.8M346.5 85.6h0.8M343.8 78.8h0.8M347.6 82.3h0.8M350.2 78.0h0.8M350.9 79.2h0.8M346.7 79.0h0.8M344.1 90.4h0.8M345.5 91.7h0.8M347.8 88.4h0.8M352.0 83.6h0.8M347.6 82.7h0.8M346.8 84.0h0.8M347.6 94.2h0.8M349.6 82.5h0.8M351.4 79.7h0.8M348.8 85.8h0.8M343.6 74.0h0.8M346.4 90.2h0.8M347.0 80.5h0.8M347.3 78.7h0.8M349.6 88.6h0.8M353.8 88.3h0.8M354.1 85.4h0.8M350.7 85.8h0.8M346.3 82.6h0.8M345.9 73.4h0.8M347.1 83.1h0.8M345.2 90.1h0.8M350.8 84.1h0.8M353.8 87.0h0.8M347.8 81.5h0.8M345.2 81.5h0.8M351.8 84.6h0.8M350.7 82.3h0.8M346.0 86.9h0.8M350.5 87.0h0.8M347.3 85.5h0.8M350.0 78.5h0.8M347.2 76.0h0.8M348.4 87.2h0.8M349.6 90.3h0.8M347.5 85.2h0.8M348.7 81.0h0.8M350.6 83.7h0.8M348.2 93.3h0.8M346.2 87.4h0.8M344.5 82.9h0.8M346.0 74.2h0.8M344.8 86.5h0.8M350.5 80.1h0.8M344.8 82.3h0.8M349.6 90.1h0.8M347.8 87.7h0.8M350.2 82.4h0.8M345.9 88.2h0.8M343.5 74.7h0.8M349.6 86.6h0.8M348.7 85.8h0.8M344.1 86.1h0.8M348.9 80.6h0.8M347.5 79.6h0.8M346.6 83.0h0.8M348.4 92.3h0.8M347.3 77.0h0.8M349.1 82.0h0.8M346.8 89.5h0.8M350.2 88.1h0.8M346.4 83.5h0.8M347.6 86.6h0.8M345.5 80.4h0.8M345.6 79.9h0.8M346.9 72.4h0.8M343.9 74.5h0.8M346.8 82.8h0.8M349.5 81.8h0.8M352.3 89.0h0.8M350.9 87.9h0.8M347.2 83.3h0.8M346.6 83.0h0.8M346.3 73.0h0.8M344.8 84.4h0.8M344.9 85.5h0.8M350.1 83.4h0.8M347.6 82.3h0.8M348.9 82.6h0.8M345.5 83.7h0.8M345.9 80.8h0.8M349.5 89.3h0.8M346.1 83.9h0.8M347.4 84.9h0.8M348.8 104.3h0.8M349.7 105.1h0.8M349.0 93.9h0.8M349.4 100.8h0.8M347.3 85.9h0.8M346.7 98.0h0.8M348.2 100.3h0.8M347.4 99.1h0.8M343.6 92.8h0.8M349.7 106.4h0.8M348.1 107.2h0.8M347.3 80.7h0.8M348.3 102.3h0.8M346.5 82.8h0.8M349.0 105.0h0.8M346.4 90.3h0.8M347.1 90.0h0.8M346.4 93.2h0.8M347.6 103.6h0.8M349.0 106.0h0.8M347.3 102.8h0.8M345.7 85.6h0.8M343.4 84.7h0.8M351.1 107.1h0.8M343.5 79.9h0.8M346.7 90.8h0.8M344.0 83.1h0.8M350.0 107.0h0.8M346.1 80.6h0.8M349.3 106.8h0.8M348.3 105.0h0.8M348.8 106.9h0.8M349.2 96.6h0.8M346.2 93.6h0.8M347.7 103.7h0.8M348.4 105.3h0.8M345.9 80.1h0.8M346.6 97.1h0.8M349.3 103.1h0.8M349.4 106.3h0.8M345.7 85.3h0.8M346.4 82.6h0.8M350.0 98.4h0.8M343.4 81.6h0.8M344.0 83.0h0.8M345.0 84.9h0.8M348.6 84.1h0.8M348.1 102.2h0.8M347.6 91.4h0.8M347.5 99.6h0.8M347.1 90.7h0.8M346.9 86.3h0.8M344.8 96.0h0.8M348.8 103.4h0.8M346.0 92.7h0.8M345.9 90.1h0.8M347.5 90.1h0.8M345.0 81.4h0.8M344.7 81.9h0.8M346.3 92.1h0.8M344.5 84.2h0.8M346.3 96.3h0.8M346.9 87.9h0.8M348.0 85.6h0.8M349.5 103.9h0.8M347.7 94.2h0.8M346.6 80.6h0.8M344.1 91.7h0.8M346.0 94.5h0.8M348.7 104.2h0.8M352.1 104.7h0.8M348.7 107.0h0.8M345.1 83.0h0.8M348.7 97.0h0.8M347.2 93.7h0.8M348.8 107.2h0.8M350.7 103.9h0.8M347.1 99.8h0.8M345.7 91.0h0.8M349.3 89.4h0.8M349.6 105.3h0.8M348.5 104.8h0.8M348.4 102.3h0.8M343.9 84.7h0.8M345.6 102.0h0.8M346.9 105.4h0.8M345.4 90.7h0.8M348.6 97.1h0.8M349.0 105.1h0.8M346.6 89.0h0.8M347.7 95.3h0.8M346.5 81.4h0.8M343.8 79.3h0.8M349.3 106.1h0.8M347.1 92.0h0.8M346.3 92.8h0.8M345.9 87.1h0.8M345.5 92.3h0.8M349.7 106.8h0.8M345.1 81.3h0.8M349.9 99.8h0.8M349.6 106.4h0.8M345.8 88.7h0.8M348.4 106.5h0.8M350.7 104.5h0.8M347.5 88.7h0.8M346.8 93.2h0.8M347.1 102.1h0.8M347.1 96.0h0.8M349.3 101.9h0.8M347.3 100.0h0.8M348.0 88.6h0.8M347.1 91.0h0.8M350.2 106.7h0.8M347.0 99.9h0.8M347.5 94.6h0.8M348.0 101.7h0.8M349.1 104.4h0.8M349.9 105.7h0.8M344.4 82.9h0.8M349.2 98.8h0.8M345.4 85.8h0.8M346.4 103.8h0.8M344.8 83.9h0.8M347.2 92.6h0.8M344.8 81.7h0.8M344.4 83.2h0.8M346.5 89.0h0.8M346.3 96.0h0.8M349.7 103.8h0.8M346.5 91.9h0.8M347.8 90.8h0.8M347.5 86.3h0.8M348.6 107.2h0.8M349.3 101.0h0.8M347.9 100.6h0.8M345.2 98.4h0.8M346.1 81.6h0.8M348.3 104.9h0.8M345.8 88.9h0.8M347.0 86.6h0.8M346.7 93.8h0.8M350.7 87.2h0.8M346.1 80.9h0.8M344.9 82.8h0.8M348.8 106.6h0.8M352.7 102.1h0.8M344.3 80.9h0.8M343.9 80.8h0.8M346.9 103.0h0.8M345.5 90.0h0.8M348.6 96.8h0.8M348.5 101.7h0.8M348.6 89.4h0.8M349.5 84.1h0.8M348.2 107.5h0.8M349.0 104.3h0.8M347.6 93.9h0.8M350.9 106.9h0.8M348.0 97.2h0.8M348.5 95.8h0.8M348.4 91.8h0.8M350.3 106.1h0.8M348.3 106.4h0.8M346.3 88.5h0.8M345.4 82.9h0.8M346.5 86.5h0.8M349.1 105.0h0.8M349.8 95.8h0.8M349.5 88.1h0.8M344.1 92.5h0.8M349.2 102.0h0.8M346.2 88.2h0.8M345.8 83.0h0.8M347.0 95.6h0.8M349.3 106.9h0.8M344.8 90.3h0.8M343.5 85.3h0.8M349.5 103.4h0.8M348.2 103.0h0.8M345.6 86.8h0.8M345.5 81.2h0.8M344.6 84.2h0.8M346.6 86.8h0.8M344.9 90.8h0.8M346.7 92.0h0.8M348.1 103.6h0.8M349.1 97.0h0.8M350.8 105.9h0.8M345.2 95.6h0.8M344.1 82.0h0.8M348.0 107.5h0.8M343.3 80.2h0.8M347.4 103.7h0.8M347.5 83.9h0.8M346.6 96.6h0.8M350.0 91.3h0.8M350.3 104.6h0.8M345.2 88.6h0.8M346.8 89.3h0.8M346.9 92.6h0.8M349.4 105.3h0.8M349.9 102.0h0.8M348.4 101.1h0.8M348.9 102.2h0.8M347.5 92.9h0.8M349.7 88.4h0.8M345.2 85.2h0.8M350.6 106.2h0.8M347.0 99.3h0.8M348.5 101.5h0.8M349.0 98.3h0.8M346.1 90.6h0.8M345.7 82.2h0.8M344.9 83.7h0.8M346.9 91.9h0.8M348.3 96.9h0.8M345.5 83.5h0.8M346.3 80.1h0.8M348.3 95.4h0.8M345.6 90.0h0.8M347.5 86.2h0.8M350.2 101.9h0.8M349.1 105.5h0.8M346.3 81.6h0.8M345.3 88.7h0.8M347.1 80.3h0.8M348.2 107.2h0.8M348.4 103.9h0.8M346.2 81.1h0.8M347.5 96.8h0.8M347.3 93.0h0.8M346.3 90.7h0.8M350.5 101.0h0.8M346.9 102.4h0.8M348.7 103.7h0.8M343.8 89.6h0.8M348.6 104.9h0.8M346.5 79.5h0.8M348.7 99.9h0.8M345.8 94.2h0.8M348.4 85.2h0.8M347.5 97.2h0.8M347.7 99.5h0.8M344.5 92.3h0.8M350.3 102.5h0.8M346.5 93.7h0.8M343.9 79.6h0.8M347.4 94.6h0.8M349.6 106.3h0.8M343.5 79.4h0.8M346.6 87.5h0.8M350.4 105.4h0.8M349.0 105.7h0.8M348.0 107.2h0.8M345.1 82.4h0.8M349.5 95.9h0.8M347.2 100.4h0.8M347.4 98.5h0.8M348.0 88.7h0.8M347.8 81.1h0.8M343.8 80.5h0.8M345.0 88.3h0.8M349.4 106.5h0.8M348.0 100.1h0.8M347.9 102.5h0.8M348.6 99.6h0.8M346.8 99.9h0.8M347.5 98.9h0.8M350.2 105.6h0.8M350.9 97.4h0.8M349.3 96.5h0.8M347.1 94.9h0.8M348.9 104.7h0.8M348.1 94.6h0.8M345.2 84.7h0.8M349.0 90.9h0.8M345.4 83.9h0.8M346.6 86.2h0.8M347.4 96.6h0.8M347.6 103.6h0.8M347.5 86.2h0.8M350.8 105.0h0.8M347.5 84.7h0.8M345.1 81.3h0.8M347.3 95.3h0.8M346.1 94.9h0.8M348.8 94.1h0.8M343.5 79.9h0.8M346.3 80.3h0.8M347.5 97.2h0.8M348.4 98.9h0.8M346.7 96.3h0.8M345.7 83.1h0.8M348.4 93.3h0.8M348.1 99.6h0.8M347.8 103.5h0.8M346.0 86.8h0.8M349.0 94.7h0.8M345.3 91.6h0.8M345.7 84.5h0.8M348.1 91.2h0.8M349.0 101.7h0.8M346.5 92.1h0.8M345.9 83.1h0.8M346.0 84.9h0.8M349.8 102.6h0.8M349.6 104.7h0.8M345.8 83.2h0.8M347.6 101.2h0.8M345.6 91.3h0.8M345.0 81.2h0.8M348.6 82.7h0.8M344.9 90.0h0.8M349.3 96.7h0.8M348.7 103.1h0.8M345.2 85.3h0.8M346.0 90.3h0.8M346.3 88.3h0.8M347.0 97.2h0.8M347.4 90.3h0.8M347.4 89.7h0.8M345.4 85.7h0.8M347.6 88.5h0.8M346.9 83.2h0.8M348.6 99.1h0.8M348.4 91.1h0.8M349.9 105.4h0.8M345.7 87.2h0.8M348.3 95.6h0.8M347.2 99.4h0.8M346.8 91.8h0.8M345.8 84.3h0.8M347.8 92.0h0.8M346.7 85.3h0.8M350.3 101.8h0.8M349.8 94.6h0.8M348.9 91.6h0.8M349.6 106.1h0.8M348.0 104.7h0.8M348.1 81.9h0.8M347.1 96.8h0.8M347.5 79.7h0.8M345.3 92.9h0.8M346.6 89.4h0.8M342.4 81.2h0.8M348.8 101.2h0.8M347.6 103.3h0.8M348.6 102.4h0.8M346.8 83.7h0.8M349.8 104.1h0.8M347.4 91.5h0.8M345.6 91.3h0.8M349.1 92.2h0.8M348.2 101.0h0.8M347.2 85.3h0.8M345.5 95.1h0.8M345.9 90.1h0.8M346.3 92.0h0.8M346.5 83.1h0.8M346.6 104.8h0.8M347.5 96.4h0.8M345.1 81.0h0.8M347.9 90.0h0.8M348.3 105.3h0.8M348.7 105.7h0.8M347.7 93.8h0.8M349.6 107.3h0.8M347.6 98.0h0.8M346.4 83.9h0.8M346.3 87.7h0.8M349.6 105.7h0.8M349.7 104.5h0.8M347.0 97.7h0.8M347.1 96.4h0.8M344.1 83.2h0.8M348.9 107.3h0.8M344.9 95.1h0.8M349.3 93.6h0.8M345.1 92.6h0.8M346.4 84.1h0.8M346.2 88.9h0.8M344.7 87.7h0.8M348.8 101.1h0.8M346.4 79.7h0.8M345.9 97.8h0.8M351.0 106.3h0.8M343.9 85.0h0.8M349.0 95.2h0.8M349.3 105.3h0.8M351.3 105.8h0.8M348.5 88.2h0.8M345.4 90.1h0.8M349.6 107.1h0.8M346.0 81.4h0.8M347.5 104.5h0.8M345.0 79.8h0.8M345.6 85.2h0.8M347.4 94.8h0.8M347.5 99.1h0.8M342.6 84.4h0.8M349.5 104.7h0.8M347.3 105.8h0.8M348.0 87.5h0.8M344.9 79.4h0.8M346.7 90.2h0.8M347.5 92.3h0.8M347.2 81.9h0.8M347.8 91.5h0.8M347.3 79.7h0.8M347.2 92.0h0.8M347.7 90.1h0.8M348.1 102.1h0.8M346.6 81.6h0.8M345.9 86.7h0.8M348.5 83.5h0.8M348.2 89.4h0.8M345.9 90.1h0.8M346.9 80.4h0.8M348.3 105.5h0.8M344.4 79.2h0.8M347.6 85.6h0.8M347.9 102.4h0.8M347.2 93.0h0.8M346.6 89.0h0.8M347.8 94.7h0.8M344.4 82.8h0.8M345.4 82.7h0.8M349.6 82.7h0.8M347.0 107.4h0.8M346.2 87.3h0.8M344.4 85.7h0.8M350.1 100.6h0.8M346.8 92.4h0.8M345.5 86.3h0.8M346.3 91.3h0.8M345.9 94.0h0.8M345.9 86.7h0.8M347.0 99.6h0.8M346.1 81.3h0.8M348.9 96.1h0.8M348.4 95.9h0.8M348.7 103.2h0.8M347.4 101.1h0.8M345.8 81.4h0.8M347.3 88.0h0.8M348.5 102.5h0.8M349.6 100.6h0.8M347.6 84.7h0.8M350.0 105.6h0.8M349.7 103.8h0.8M346.1 84.9h0.8M348.6 106.3h0.8M347.1 96.1h0.8M342.9 81.3h0.8M349.6 103.7h0.8M347.3 93.0h0.8M348.9 103.0h0.8M350.5 103.5h0.8M346.1 86.3h0.8M348.6 88.1h0.8M348.3 106.7h0.8M343.7 85.5h0.8M346.6 83.8h0.8M348.7 102.0h0.8M346.6 91.7h0.8M344.7 82.9h0.8M346.9 86.9h0.8M347.5 81.5h0.8M346.0 86.6h0.8M347.7 100.1h0.8M346.7 87.5h0.8M347.5 85.4h0.8M346.0 90.2h0.8M346.2 96.0h0.8M346.9 83.1h0.8M349.0 94.1h0.8M346.7 87.3h0.8M347.8 90.8h0.8M348.3 107.4h0.8M347.5 92.7h0.8M345.3 83.9h0.8M348.4 86.8h0.8M347.6 91.0h0.8M347.7 103.1h0.8M349.0 103.5h0.8M347.4 94.8h0.8M346.6 94.0h0.8M349.5 98.8h0.8M347.2 100.4h0.8M347.0 80.4h0.8M347.5 102.6h0.8M346.6 83.3h0.8M350.0 106.2h0.8M345.3 95.8h0.8M348.0 95.2h0.8M346.7 89.2h0.8M344.3 82.9h0.8M348.8 107.4h0.8M347.9 83.5h0.8M350.7 105.9h0.8M346.4 86.2h0.8M348.1 105.4h0.8M346.8 92.3h0.8M350.5 106.0h0.8M347.8 92.3h0.8M345.7 99.1h0.8M348.8 105.2h0.8M348.8 93.0h0.8M347.2 96.3h0.8M348.5 102.4h0.8M347.6 85.9h0.8M348.3 106.0h0.8M345.7 95.4h0.8M346.3 87.3h0.8M347.1 96.7h0.8M346.2 95.7h0.8M344.5 83.4h0.8M348.8 106.3h0.8M348.8 98.3h0.8M345.8 92.5h0.8M348.2 106.5h0.8M346.7 100.1h0.8M349.1 101.6h0.8M344.8 83.4h0.8M348.2 101.3h0.8M348.6 104.9h0.8M347.9 104.1h0.8M350.6 98.8h0.8M347.0 101.9h0.8M347.1 80.8h0.8M348.6 96.6h0.8M347.0 95.9h0.8M348.4 82.2h0.8M350.9 104.7h0.8M345.8 86.2h0.8M351.3 89.9h0.8M347.9 106.3h0.8M348.8 100.0h0.8M344.6 86.5h0.8M350.0 102.3h0.8M348.7 91.4h0.8M346.0 79.7h0.8M346.0 91.2h0.8M348.3 88.9h0.8M342.4 81.0h0.8M347.9 89.5h0.8M348.5 98.5h0.8M349.6 100.7h0.8M344.7 88.9h0.8M346.9 92.4h0.8M348.2 95.4h0.8M347.3 94.3h0.8M349.0 98.4h0.8M345.8 95.8h0.8M350.4 102.4h0.8M348.1 95.3h0.8M344.4 92.2h0.8M348.2 88.9h0.8M342.8 84.3h0.8M349.8 103.8h0.8M349.9 97.7h0.8M347.6 103.7h0.8M348.0 100.0h0.8M345.8 88.5h0.8M347.5 92.2h0.8M347.6 84.3h0.8M348.2 84.2h0.8M351.1 104.1h0.8M347.0 96.0h0.8M348.9 100.6h0.8M345.6 91.4h0.8M349.2 105.5h0.8M346.2 99.7h0.8M348.4 105.9h0.8M347.0 79.7h0.8M348.3 106.6h0.8M348.2 89.5h0.8M348.4 79.8h0.8M348.3 85.4h0.8M346.6 83.7h0.8M346.7 104.0h0.8M349.9 106.0h0.8M349.2 95.8h0.8M350.2 94.7h0.8M345.2 83.7h0.8M350.7 102.6h0.8M348.7 104.5h0.8M343.2 86.0h0.8M343.9 79.8h0.8M346.9 96.4h0.8M347.1 98.9h0.8M348.9 103.9h0.8M350.0 103.8h0.8M347.4 98.1h0.8M347.4 79.5h0.8M350.3 103.8h0.8M348.5 101.2h0.8M350.5 106.2h0.8M347.2 96.0h0.8M343.2 75.9h0.8M344.9 73.6h0.8M344.6 75.4h0.8M343.9 72.2h0.8M343.0 71.8h0.8M342.1 70.8h0.8M346.0 75.0h0.8M343.8 77.5h0.8M349.0 77.0h0.8M342.6 78.2h0.8M346.9 76.7h0.8M343.6 74.4h0.8M346.2 76.5h0.8M344.0 73.6h0.8M343.5 75.0h0.8M338.0 73.8h0.8M345.6 77.6h0.8M343.0 75.4h0.8M346.6 77.4h0.8M341.6 77.3h0.8M343.9 77.3h0.8M345.8 78.7h0.8M348.7 72.2h0.8M343.6 76.2h0.8M350.4 73.9h0.8M340.7 77.4h0.8M340.4 70.1h0.8M343.6 74.2h0.8M343.6 75.2h0.8M346.2 71.4h0.8M346.1 76.8h0.8M344.6 72.8h0.8M343.3 74.8h0.8M343.4 74.9h0.8M348.8 72.9h0.8M337.1 77.0h0.8M342.5 72.8h0.8M348.8 73.3h0.8M344.0 73.0h0.8M348.4 77.4h0.8M340.7 74.5h0.8M341.6 77.6h0.8M343.8 79.3h0.8M340.6 72.0h0.8M340.9 76.8h0.8M343.8 75.6h0.8M343.6 77.5h0.8M344.9 77.7h0.8M343.3 75.3h0.8M346.8 75.3h0.8M343.1 74.3h0.8M344.7 77.1h0.8M342.9 75.2h0.8M345.5 74.0h0.8M344.4 71.2h0.8M345.7 72.1h0.8M341.0 75.9h0.8M345.8 79.8h0.8M346.7 76.6h0.8M339.6 76.5h0.8M341.0 76.1h0.8M343.3 73.2h0.8M348.6 74.9h0.8M345.4 78.4h0.8M344.2 76.6h0.8M348.4 72.8h0.8M344.3 76.8h0.8M347.3 74.4h0.8M340.7 75.8h0.8M345.0 78.1h0.8M346.1 74.5h0.8M343.1 78.4h0.8M342.5 71.4h0.8M341.8 73.1h0.8M346.9 71.0h0.8M344.9 76.1h0.8M346.1 80.8h0.8M343.1 79.9h0.8M344.0 76.8h0.8M343.7 75.6h0.8M352.8 80.5h0.8M352.2 90.1h0.8M348.3 79.5h0.8M350.0 82.1h0.8M354.6 89.5h0.8M354.8 79.5h0.8M351.7 87.7h0.8M353.6 94.8h0.8M349.7 76.8h0.8M351.0 83.4h0.8M348.5 83.8h0.8M346.4 83.8h0.8M352.1 90.0h0.8M353.7 83.3h0.8M348.4 89.0h0.8M351.6 92.7h0.8M348.0 80.8h0.8M351.1 83.4h0.8M354.8 84.4h0.8M354.3 86.8h0.8M352.9 84.6h0.8M355.0 87.5h0.8M350.5 80.4h0.8M355.1 89.7h0.8M354.0 84.5h0.8M353.5 85.1h0.8M350.8 89.3h0.8M352.9 80.8h0.8M354.1 93.6h0.8M356.7 87.0h0.8M347.9 84.5h0.8M346.5 86.0h0.8M353.2 85.8h0.8M353.2 81.0h0.8M354.0 86.9h0.8M352.9 87.3h0.8M352.1 87.5h0.8M351.4 90.0h0.8M348.5 88.1h0.8M346.6 84.7h0.8M354.4 88.1h0.8M353.9 85.6h0.8M354.6 88.7h0.8M349.4 83.5h0.8M354.0 93.8h0.8M349.9 81.5h0.8M354.7 91.5h0.8M351.3 77.9h0.8M351.5 87.8h0.8M353.4 80.5h0.8M352.5 91.8h0.8M351.5 88.4h0.8M354.7 82.8h0.8M351.4 83.8h0.8M356.4 87.3h0.8M347.1 81.0h0.8M350.0 95.0h0.8M353.0 89.8h0.8M352.1 79.9h0.8M353.3 90.6h0.8M351.2 84.3h0.8M352.4 77.6h0.8M351.3 88.1h0.8M355.3 87.1h0.8M352.6 92.9h0.8M349.2 90.5h0.8M348.6 86.6h0.8M351.6 88.2h0.8M352.9 90.3h0.8M352.5 93.7h0.8M356.0 84.7h0.8M351.6 84.8h0.8M351.0 85.2h0.8M353.4 89.3h0.8M354.3 82.2h0.8M354.7 87.6h0.8M350.5 81.0h0.8M358.4 81.0h0.8M353.0 85.3h0.8M356.7 84.7h0.8M352.3 85.8h0.8M351.9 82.7h0.8M353.1 84.8h0.8M348.9 85.6h0.8M345.2 87.9h0.8M353.1 90.3h0.8M354.5 81.0h0.8M356.5 88.3h0.8M354.4 92.9h0.8M354.1 83.7h0.8M351.1 87.9h0.8M354.3 78.9h0.8M350.4 76.9h0.8M351.2 87.3h0.8M352.3 81.0h0.8M349.5 91.6h0.8M348.9 85.4h0.8M351.7 83.6h0.8M351.8 84.6h0.8M353.6 88.3h0.8M350.2 82.8h0.8M351.3 84.0h0.8M352.8 80.5h0.8M349.9 84.7h0.8M348.9 96.6h0.8M358.5 93.3h0.8M351.0 88.7h0.8M352.3 82.0h0.8M353.9 88.7h0.8M351.0 89.4h0.8M350.1 89.8h0.8M352.7 86.2h0.8M357.6 82.8h0.8M350.2 87.9h0.8M351.6 87.4h0.8M349.0 91.8h0.8M353.7 85.0h0.8M350.5 86.4h0.8M349.8 83.8h0.8M348.5 88.0h0.8M352.2 84.6h0.8M354.9 77.9h0.8M352.2 79.5h0.8M353.4 95.1h0.8M349.4 82.7h0.8M352.7 91.6h0.8M351.0 94.7h0.8M354.9 82.5h0.8M351.2 77.6h0.8M351.1 84.0h0.8M351.8 83.2h0.8M353.0 83.1h0.8M356.6 84.2h0.8M352.2 77.1h0.8M352.7 94.3h0.8M354.9 79.8h0.8M353.3 79.1h0.8M352.9 81.7h0.8M354.4 85.0h0.8M352.4 79.1h0.8M352.6 88.2h0.8M355.0 82.6h0.8M351.0 92.5h0.8M348.2 86.2h0.8M346.8 88.1h0.8M352.6 84.4h0.8M352.6 81.1h0.8M354.1 87.2h0.8M353.2 82.1h0.8M353.4 90.1h0.8" stroke="#111" stroke-width="0.8" stroke-opacity="0.58" fill="none"/><path d="M367.6 79.8h0.8M366.0 79.4h0.8M358.5 83.6h0.8M366.3 71.9h0.8M363.4 84.9h0.8M364.4 77.0h0.8M364.0 75.6h0.8M367.3 82.3h0.8M370.3 76.9h0.8M361.8 74.8h0.8M365.5 81.7h0.8M366.6 78.6h0.8M358.9 87.7h0.8M359.4 80.6h0.8M360.3 80.0h0.8M370.8 83.3h0.8M365.4 86.2h0.8M367.8 78.1h0.8M366.4 77.6h0.8M370.1 82.2h0.8M368.3 72.4h0.8M368.7 86.0h0.8M366.5 83.6h0.8M370.2 76.5h0.8M366.3 82.5h0.8M367.3 87.7h0.8M365.6 80.3h0.8M373.0 78.2h0.8M361.7 77.5h0.8M367.8 85.2h0.8M365.8 85.9h0.8M362.4 83.8h0.8M365.7 81.2h0.8M367.1 75.6h0.8M369.0 78.1h0.8M365.7 81.2h0.8M363.3 77.9h0.8M361.4 83.9h0.8M368.3 77.0h0.8M363.9 83.2h0.8M360.3 79.6h0.8M372.6 78.8h0.8M373.8 82.9h0.8M362.0 81.3h0.8M361.6 83.0h0.8M360.7 80.9h0.8M364.4 84.8h0.8M365.6 74.1h0.8M366.9 71.2h0.8M361.2 83.7h0.8M366.5 74.9h0.8M367.0 69.8h0.8M364.7 80.1h0.8M365.2 85.5h0.8M370.7 73.1h0.8M363.8 74.2h0.8M359.9 85.3h0.8M371.2 67.7h0.8M369.9 73.2h0.8M362.7 77.6h0.8M363.3 73.7h0.8M370.4 76.8h0.8M362.3 83.9h0.8M364.2 79.5h0.8M364.5 75.2h0.8M361.4 75.1h0.8M375.0 81.0h0.8M373.3 70.8h0.8M364.8 85.8h0.8M365.9 77.3h0.8M373.0 83.6h0.8M371.1 68.4h0.8M362.3 76.9h0.8M357.4 75.8h0.8M364.7 81.6h0.8M366.6 78.2h0.8M364.9 75.6h0.8M370.0 70.3h0.8M369.3 81.2h0.8M364.8 78.9h0.8M368.5 73.9h0.8M363.1 82.9h0.8M370.9 84.9h0.8M373.9 73.9h0.8M372.5 82.4h0.8M369.2 80.4h0.8M366.4 72.5h0.8M367.2 80.2h0.8M357.7 77.5h0.8M362.4 79.1h0.8M366.0 85.5h0.8M360.6 78.7h0.8M360.5 80.3h0.8M365.5 75.2h0.8M361.8 83.7h0.8M359.8 82.6h0.8M361.7 83.3h0.8M368.1 82.2h0.8M368.0 70.9h0.8M371.4 77.6h0.8M365.7 78.2h0.8M367.3 75.5h0.8M373.2 68.5h0.8M360.0 79.9h0.8M360.9 76.1h0.8M367.3 87.0h0.8M358.7 85.7h0.8M365.3 74.8h0.8M369.3 74.3h0.8M365.1 79.9h0.8M367.0 80.2h0.8M360.1 76.7h0.8M364.3 78.4h0.8M361.7 80.8h0.8M363.8 90.1h0.8M373.9 76.0h0.8M371.5 74.0h0.8M366.9 79.7h0.8M370.2 82.0h0.8M368.6 71.6h0.8M366.7 83.4h0.8M369.2 78.8h0.8M364.4 77.9h0.8M369.2 80.3h0.8M365.8 78.2h0.8M362.3 80.9h0.8M367.8 79.6h0.8M364.0 76.1h0.8M359.5 84.1h0.8M366.6 82.6h0.8M368.2 73.9h0.8M370.6 82.5h0.8M359.5 74.7h0.8M364.9 74.5h0.8M369.4 79.2h0.8M365.9 85.3h0.8M367.5 68.6h0.8M370.3 78.7h0.8M360.1 76.3h0.8M366.0 76.2h0.8M371.6 84.0h0.8M361.2 83.7h0.8M374.1 78.0h0.8M362.2 85.8h0.8M372.1 80.3h0.8M365.3 82.0h0.8M356.5 90.3h0.8M365.6 78.8h0.8M373.2 79.5h0.8M361.7 80.8h0.8M375.3 70.5h0.8M367.3 78.4h0.8M360.5 88.1h0.8M366.2 75.7h0.8M372.9 69.7h0.8M373.1 74.6h0.8M367.5 79.0h0.8M369.5 75.2h0.8M361.9 86.1h0.8M362.8 77.8h0.8M362.6 82.8h0.8M368.3 77.7h0.8M361.4 81.8h0.8M370.4 72.8h0.8M367.2 74.0h0.8M365.1 82.5h0.8M368.3 77.8h0.8M366.6 77.5h0.8M366.2 82.2h0.8M372.5 75.3h0.8M371.6 81.8h0.8M361.3 78.1h0.8M365.3 83.6h0.8M366.9 79.5h0.8M361.5 72.5h0.8M368.8 82.1h0.8M361.2 75.0h0.8M366.9 82.9h0.8M370.1 84.7h0.8M366.6 75.4h0.8M362.6 77.4h0.8M369.4 80.0h0.8M371.4 80.5h0.8M366.4 77.2h0.8M358.9 86.6h0.8M358.6 75.9h0.8M371.6 78.8h0.8M368.8 77.3h0.8M366.4 75.2h0.8M366.7 74.3h0.8M359.3 80.4h0.8M357.0 80.8h0.8M363.5 80.7h0.8M361.4 84.5h0.8M361.7 84.6h0.8M367.4 78.7h0.8M368.4 74.0h0.8M368.1 83.8h0.8M367.7 78.8h0.8M362.5 81.5h0.8M365.6 80.9h0.8M362.4 80.8h0.8M364.4 69.8h0.8M366.3 76.8h0.8M363.6 80.0h0.8M363.3 85.4h0.8M368.0 79.1h0.8M369.9 77.7h0.8M366.7 78.6h0.8M366.0 81.5h0.8M365.9 76.1h0.8M373.0 83.1h0.8M366.1 74.2h0.8M361.9 69.9h0.8M364.2 70.8h0.8M369.2 84.3h0.8M375.2 76.5h0.8M372.4 75.9h0.8M364.2 77.0h0.8M370.8 73.4h0.8M367.9 82.6h0.8M373.1 77.0h0.8M370.6 79.2h0.8M371.0 80.4h0.8M366.5 81.1h0.8M364.5 81.3h0.8M364.6 76.7h0.8M366.8 77.4h0.8M368.6 81.9h0.8M376.0 71.9h0.8M370.2 80.9h0.8M365.2 74.0h0.8M357.7 88.0h0.8M371.8 78.9h0.8M375.8 77.5h0.8M373.5 72.9h0.8M362.7 81.5h0.8M360.9 80.6h0.8M362.7 82.4h0.8M367.1 76.1h0.8M365.3 82.6h0.8M361.8 82.3h0.8M362.8 76.9h0.8M371.7 75.6h0.8M358.6 76.2h0.8M365.9 82.8h0.8M360.5 83.1h0.8M362.8 89.3h0.8M367.6 83.6h0.8M362.3 70.7h0.8M367.5 74.2h0.8M367.3 72.5h0.8M366.0 79.6h0.8M369.5 75.0h0.8M362.7 79.0h0.8M374.9 74.9h0.8M369.8 81.6h0.8M369.1 80.8h0.8M358.6 86.2h0.8M369.3 77.5h0.8M368.0 81.0h0.8M365.3 79.7h0.8M362.9 82.4h0.8M360.0 80.7h0.8M363.5 83.3h0.8M371.4 78.8h0.8M367.4 81.3h0.8M359.9 81.8h0.8M360.8 81.4h0.8M363.7 77.9h0.8M369.2 83.9h0.8M362.3 78.0h0.8M365.5 76.8h0.8M365.5 79.5h0.8M361.7 85.4h0.8M358.5 81.5h0.8M371.5 78.7h0.8M361.7 78.5h0.8M363.8 77.4h0.8M359.8 76.4h0.8M367.5 78.8h0.8M365.2 84.4h0.8M370.7 73.7h0.8M368.4 74.8h0.8M366.7 76.4h0.8M363.8 81.9h0.8M369.9 72.2h0.8M369.2 82.9h0.8M365.1 72.1h0.8M371.1 70.8h0.8M369.8 73.7h0.8M363.2 74.5h0.8M367.5 81.7h0.8M367.1 74.8h0.8M365.1 83.2h0.8M367.8 74.7h0.8M371.7 78.7h0.8M362.8 73.5h0.8M364.8 78.2h0.8M369.8 81.0h0.8M374.7 75.7h0.8M363.3 78.5h0.8M366.3 72.5h0.8M367.1 78.7h0.8M364.9 69.9h0.8M366.3 75.3h0.8M367.7 80.4h0.8M356.1 85.6h0.8M362.1 85.0h0.8M367.8 79.9h0.8M361.7 81.5h0.8M363.9 85.9h0.8M366.8 81.9h0.8M361.3 85.2h0.8M364.3 81.3h0.8M371.6 76.9h0.8M363.6 83.1h0.8M371.8 77.2h0.8M373.1 79.5h0.8M364.1 76.3h0.8M365.5 75.5h0.8M359.7 81.9h0.8M368.1 82.6h0.8M359.3 78.1h0.8M369.7 77.5h0.8M365.5 77.3h0.8M361.5 81.7h0.8M362.8 84.2h0.8M365.2 81.7h0.8M362.7 77.1h0.8M372.1 69.1h0.8M368.2 75.9h0.8M363.8 82.2h0.8M364.5 82.3h0.8M366.1 80.6h0.8M372.8 76.5h0.8M366.0 87.0h0.8M360.7 82.4h0.8M361.9 73.5h0.8M372.1 81.5h0.8M365.1 80.0h0.8M359.7 83.8h0.8M362.3 85.8h0.8M371.8 80.9h0.8M365.4 78.5h0.8M366.7 80.5h0.8M369.4 73.3h0.8M365.4 77.3h0.8M371.2 85.1h0.8M368.7 78.5h0.8M362.1 76.9h0.8M360.1 79.3h0.8M367.3 74.5h0.8M363.9 78.7h0.8M372.9 71.3h0.8M369.1 79.3h0.8M370.3 80.7h0.8M370.3 81.4h0.8M364.6 80.9h0.8M368.8 78.2h0.8M364.2 78.4h0.8M363.4 83.0h0.8M370.9 74.0h0.8M367.9 78.2h0.8M360.9 74.6h0.8M361.6 70.8h0.8M366.2 81.5h0.8M364.9 77.0h0.8M362.7 78.2h0.8M367.6 80.9h0.8M367.9 76.7h0.8M369.6 80.3h0.8M367.0 83.9h0.8M365.2 69.1h0.8M364.3 76.2h0.8M365.6 83.8h0.8M364.6 84.9h0.8M357.9 84.8h0.8M367.0 72.7h0.8M374.8 73.6h0.8M364.7 88.0h0.8M372.1 72.8h0.8M367.2 77.9h0.8M371.8 74.7h0.8M368.8 84.8h0.8M370.4 73.8h0.8M372.2 74.9h0.8M359.0 76.9h0.8M373.9 74.8h0.8M359.7 79.0h0.8M366.0 81.8h0.8M369.2 80.7h0.8M367.2 72.3h0.8M367.2 75.2h0.8M362.5 88.4h0.8M372.6 83.3h0.8M367.7 75.0h0.8M370.5 68.1h0.8M359.5 77.5h0.8M372.9 85.0h0.8M371.9 78.7h0.8M366.2 71.9h0.8M366.2 84.9h0.8M366.9 82.0h0.8M366.2 70.8h0.8M367.7 86.1h0.8M361.7 78.1h0.8M361.7 84.8h0.8M364.0 78.4h0.8M373.6 72.7h0.8M362.7 75.5h0.8M369.3 73.1h0.8M364.4 75.4h0.8M372.0 85.3h0.8M372.5 74.5h0.8M365.7 77.2h0.8M367.1 70.7h0.8M364.3 83.1h0.8M370.8 79.1h0.8M373.2 73.0h0.8M356.1 83.4h0.8M363.8 78.3h0.8M359.7 86.1h0.8M364.0 77.9h0.8M367.7 84.9h0.8M362.9 79.4h0.8M366.5 81.0h0.8M371.0 71.6h0.8M368.5 71.6h0.8M367.6 79.2h0.8M364.6 73.4h0.8M369.5 71.2h0.8M360.6 83.5h0.8M367.2 78.2h0.8M362.2 76.5h0.8M359.7 81.0h0.8M364.0 81.0h0.8M365.2 68.8h0.8M357.5 82.7h0.8M369.0 73.3h0.8M368.7 75.2h0.8M362.5 83.8h0.8M363.7 80.3h0.8M370.8 81.0h0.8M367.3 83.8h0.8M363.6 83.6h0.8M359.9 88.6h0.8M368.1 78.8h0.8M368.4 78.4h0.8M362.6 77.2h0.8M368.5 76.9h0.8M359.6 89.2h0.8M361.9 80.5h0.8M356.4 77.3h0.8M368.1 74.3h0.8M372.0 66.9h0.8M363.9 83.0h0.8M369.6 75.2h0.8M369.3 79.6h0.8M365.5 76.2h0.8M364.1 78.8h0.8M360.2 83.4h0.8M371.0 80.0h0.8M366.4 83.5h0.8M365.7 78.5h0.8M360.9 82.5h0.8M371.2 76.8h0.8M372.5 70.7h0.8M369.6 74.0h0.8M368.1 81.2h0.8M367.4 79.5h0.8M359.7 83.6h0.8M364.0 72.4h0.8M366.7 81.0h0.8M371.0 78.4h0.8M364.1 86.6h0.8M366.2 75.0h0.8M365.7 84.3h0.8M371.8 70.1h0.8M365.4 72.3h0.8M365.5 78.3h0.8M365.8 78.4h0.8M369.1 78.4h0.8M363.8 86.8h0.8M365.1 76.4h0.8M366.9 78.6h0.8M358.1 80.1h0.8M370.6 81.6h0.8M365.1 84.8h0.8M373.0 77.9h0.8M362.1 77.9h0.8M367.2 80.5h0.8M363.0 82.9h0.8M364.1 82.3h0.8M362.4 81.1h0.8M364.0 75.8h0.8M368.4 78.6h0.8M370.4 77.8h0.8M362.4 81.0h0.8M359.5 78.5h0.8M360.5 82.2h0.8M366.3 78.7h0.8M365.9 81.1h0.8M358.4 78.7h0.8M360.1 76.4h0.8M357.7 87.7h0.8M362.8 72.2h0.8M367.8 80.8h0.8M365.2 76.3h0.8M364.9 73.9h0.8M370.8 76.7h0.8M362.1 79.6h0.8M368.1 76.4h0.8M374.5 82.6h0.8M369.7 76.9h0.8M368.2 82.1h0.8M366.6 83.6h0.8M363.2 76.2h0.8M362.2 78.6h0.8M364.7 75.2h0.8M365.2 83.8h0.8M359.7 80.7h0.8M370.1 77.7h0.8M363.5 78.9h0.8M367.1 71.1h0.8M362.8 80.2h0.8M369.1 81.2h0.8M366.6 87.5h0.8M357.3 86.1h0.8M368.8 73.5h0.8M371.8 81.1h0.8M361.8 75.4h0.8M364.5 80.0h0.8M369.3 81.1h0.8M366.0 79.2h0.8M368.5 74.2h0.8M365.2 74.9h0.8M364.1 82.8h0.8M364.7 80.7h0.8M369.1 80.2h0.8M361.8 87.0h0.8M370.7 84.6h0.8M366.2 79.7h0.8M363.0 78.4h0.8M367.0 84.5h0.8M366.3 81.6h0.8M367.2 70.8h0.8M368.3 75.8h0.8M362.3 83.3h0.8M365.3 82.8h0.8M363.9 79.7h0.8M361.7 79.9h0.8M370.2 77.3h0.8M371.6 78.0h0.8M359.5 74.6h0.8M364.1 77.2h0.8M364.6 82.7h0.8M365.0 73.9h0.8M359.2 84.9h0.8M366.1 74.5h0.8M367.4 81.0h0.8M363.3 82.7h0.8M366.3 80.1h0.8M361.7 78.3h0.8M355.7 78.7h0.8M370.0 76.2h0.8M362.1 85.9h0.8M365.0 82.3h0.8M363.6 77.9h0.8M358.9 80.5h0.8M366.0 79.3h0.8M364.3 80.6h0.8M365.3 77.8h0.8M371.8 81.0h0.8M371.9 75.1h0.8M369.4 79.5h0.8M363.7 86.0h0.8M361.2 87.5h0.8M364.6 78.8h0.8M364.2 81.5h0.8M366.4 77.3h0.8M364.9 76.2h0.8M367.7 77.0h0.8M372.1 79.0h0.8M367.2 80.6h0.8M369.8 70.1h0.8M368.8 70.4h0.8M365.8 74.8h0.8M368.4 76.2h0.8M372.0 70.3h0.8M369.6 75.8h0.8M371.1 75.5h0.8M364.2 81.7h0.8M359.1 76.7h0.8M364.7 77.6h0.8M365.2 77.2h0.8M367.6 71.3h0.8M368.4 78.7h0.8M371.3 73.8h0.8M368.8 76.1h0.8M369.4 84.0h0.8M365.1 75.1h0.8M362.6 82.6h0.8M361.1 71.5h0.8M371.8 78.6h0.8M369.2 77.6h0.8M368.2 79.8h0.8M367.1 70.7h0.8M368.9 78.2h0.8M364.5 76.3h0.8M362.1 73.4h0.8M368.9 78.0h0.8M367.7 75.7h0.8M363.2 78.5h0.8M369.3 80.8h0.8M371.8 78.3h0.8M367.3 74.7h0.8M365.4 77.9h0.8M357.8 83.4h0.8M362.5 78.2h0.8M365.0 85.7h0.8M368.8 74.7h0.8M370.0 76.7h0.8M369.0 78.1h0.8M363.9 74.2h0.8M365.6 75.6h0.8M371.1 74.1h0.8M370.3 71.9h0.8M366.6 79.7h0.8M362.7 79.9h0.8M363.8 74.2h0.8M373.8 73.1h0.8M368.4 72.7h0.8M366.4 79.8h0.8M367.5 76.1h0.8M362.1 81.4h0.8M361.2 74.8h0.8M371.7 75.0h0.8M365.5 77.3h0.8M365.6 80.8h0.8M364.5 73.5h0.8M370.8 75.9h0.8M361.6 84.2h0.8M372.6 73.6h0.8M363.0 79.6h0.8M370.6 77.7h0.8M370.8 67.2h0.8M364.4 80.6h0.8M373.3 78.6h0.8M368.4 71.5h0.8M362.4 85.8h0.8M364.2 72.9h0.8M357.8 76.0h0.8M366.5 74.4h0.8M355.9 79.0h0.8M369.5 80.6h0.8M367.3 78.9h0.8M366.3 86.2h0.8M367.9 79.6h0.8M367.8 73.8h0.8M358.8 90.3h0.8M364.3 82.4h0.8M368.8 70.9h0.8M359.6 80.7h0.8M363.0 83.1h0.8M374.3 78.7h0.8M371.0 80.2h0.8M367.7 84.9h0.8M366.3 69.8h0.8M369.3 85.9h0.8M363.7 78.9h0.8M366.4 85.0h0.8M368.5 79.7h0.8M361.1 72.6h0.8M367.7 75.9h0.8M362.5 78.6h0.8M370.9 87.2h0.8M358.8 84.5h0.8M369.4 77.0h0.8M371.8 79.4h0.8M361.6 79.8h0.8M369.0 78.6h0.8M371.2 77.4h0.8M368.0 78.3h0.8M366.6 81.1h0.8M366.8 78.1h0.8M373.2 76.7h0.8M362.7 79.6h0.8M364.7 79.2h0.8M368.2 74.7h0.8M360.2 83.1h0.8M367.7 68.0h0.8M368.6 68.6h0.8M366.4 71.1h0.8M363.5 80.0h0.8M367.9 71.0h0.8M371.8 79.5h0.8M369.2 68.2h0.8M363.2 76.6h0.8M362.6 78.2h0.8M370.2 79.7h0.8M361.0 80.3h0.8M366.5 75.4h0.8M367.7 83.2h0.8M364.8 79.9h0.8M371.9 77.1h0.8M375.6 71.4h0.8M362.5 79.5h0.8M369.0 79.3h0.8M366.2 83.4h0.8M357.0 79.8h0.8M368.3 72.7h0.8M357.0 82.0h0.8M372.2 74.3h0.8M363.9 77.7h0.8M366.6 88.0h0.8M364.4 75.8h0.8M365.9 76.7h0.8M371.0 79.0h0.8M369.9 74.4h0.8M368.6 77.8h0.8M367.5 81.6h0.8M356.1 89.2h0.8M363.3 79.5h0.8M367.2 69.3h0.8M368.5 77.6h0.8M365.3 70.5h0.8M365.6 78.7h0.8M371.2 77.9h0.8M363.3 79.2h0.8M365.7 79.9h0.8M357.9 81.6h0.8M366.4 82.4h0.8M370.3 77.7h0.8M366.5 75.0h0.8M366.2 78.6h0.8M365.4 78.1h0.8M371.3 82.5h0.8M370.6 72.1h0.8M367.5 82.8h0.8M361.5 79.6h0.8M365.9 77.4h0.8M357.2 76.0h0.8M370.3 76.1h0.8M361.3 81.1h0.8M362.8 81.0h0.8M365.9 79.7h0.8M369.2 83.2h0.8M364.8 80.3h0.8M366.6 85.2h0.8M369.9 77.8h0.8M362.2 80.8h0.8M365.3 79.6h0.8M365.6 75.3h0.8M371.4 80.4h0.8M366.4 77.8h0.8M363.9 77.0h0.8M359.3 77.3h0.8M361.8 74.7h0.8M373.4 82.5h0.8M362.7 79.5h0.8M363.7 84.8h0.8M366.4 80.4h0.8M355.8 84.2h0.8M368.8 82.3h0.8M357.3 81.2h0.8M367.4 75.4h0.8M366.8 79.9h0.8M368.6 78.9h0.8M365.6 73.2h0.8M363.7 88.5h0.8M362.5 79.2h0.8M374.2 73.2h0.8M366.0 75.9h0.8M365.5 81.0h0.8M364.6 73.7h0.8M365.4 79.6h0.8M362.5 82.8h0.8M361.1 86.9h0.8M362.4 83.1h0.8M366.5 80.0h0.8M364.1 86.1h0.8M370.9 73.4h0.8M363.3 73.2h0.8M359.1 84.5h0.8M364.3 77.0h0.8M360.9 75.9h0.8M363.4 81.6h0.8M370.1 72.4h0.8M360.7 78.9h0.8M364.1 71.1h0.8M367.1 74.8h0.8M362.7 74.2h0.8M363.8 77.1h0.8M361.7 81.5h0.8M367.9 76.5h0.8M374.5 84.6h0.8M367.7 83.4h0.8M367.6 76.0h0.8M371.7 74.1h0.8M357.8 79.6h0.8M362.4 74.7h0.8M365.2 85.0h0.8M365.5 86.3h0.8M365.4 74.8h0.8M360.5 85.3h0.8M362.6 82.3h0.8M360.7 86.1h0.8M367.9 77.5h0.8M362.6 78.0h0.8M367.0 81.6h0.8M372.6 74.7h0.8M367.9 78.3h0.8M371.1 77.9h0.8M367.4 78.3h0.8M367.2 85.2h0.8M367.9 81.9h0.8M366.0 79.4h0.8M361.4 83.2h0.8M365.9 84.3h0.8M360.1 86.3h0.8M366.6 78.0h0.8M371.0 75.5h0.8M365.5 84.3h0.8M362.1 79.6h0.8M365.9 77.2h0.8M362.1 85.4h0.8M363.0 82.5h0.8M365.0 74.4h0.8M361.7 77.8h0.8M368.2 79.6h0.8M365.2 80.0h0.8M364.4 85.6h0.8M361.7 80.0h0.8M366.4 80.1h0.8M365.7 79.8h0.8M363.0 85.3h0.8M364.7 79.2h0.8M360.2 74.5h0.8M367.7 79.1h0.8M369.6 81.5h0.8M370.1 82.4h0.8M363.8 86.9h0.8M357.2 86.4h0.8M364.0 88.2h0.8M363.1 77.4h0.8M366.8 78.0h0.8M365.4 77.9h0.8M365.7 77.1h0.8M367.1 80.3h0.8M368.3 73.8h0.8M360.7 80.5h0.8M366.5 75.2h0.8M365.7 89.5h0.8M363.9 82.2h0.8M358.7 80.9h0.8M368.3 80.9h0.8M364.7 77.0h0.8M369.2 78.6h0.8M368.4 80.6h0.8M364.9 79.2h0.8M363.7 76.0h0.8M366.8 77.6h0.8M370.6 78.4h0.8M372.5 73.3h0.8M369.0 77.9h0.8M367.2 78.4h0.8M365.4 72.4h0.8M366.7 80.2h0.8M368.0 72.1h0.8M359.8 73.5h0.8M366.1 80.7h0.8M368.5 76.7h0.8M368.6 85.8h0.8M363.8 81.3h0.8M360.5 78.7h0.8M370.3 87.1h0.8M367.5 79.7h0.8M365.6 77.9h0.8M362.7 80.6h0.8M364.4 77.9h0.8M366.5 88.9h0.8M365.0 74.0h0.8M365.2 76.5h0.8M359.7 82.8h0.8M370.3 80.7h0.8M368.1 81.3h0.8M356.4 72.0h0.8M373.6 74.8h0.8M373.7 78.6h0.8M366.0 86.1h0.8M368.9 84.5h0.8M369.7 85.5h0.8M365.3 78.8h0.8M362.7 74.9h0.8M367.8 72.1h0.8M366.2 75.6h0.8M368.7 75.9h0.8M367.6 87.6h0.8M367.2 78.9h0.8M368.7 73.9h0.8M361.0 79.1h0.8M363.0 79.3h0.8M359.3 77.1h0.8M366.4 81.6h0.8M370.0 81.2h0.8M366.8 81.4h0.8M374.3 75.3h0.8M362.5 88.9h0.8M360.8 81.6h0.8M366.7 82.6h0.8M367.1 78.7h0.8M373.5 79.9h0.8M362.0 77.5h0.8M366.3 83.5h0.8M365.4 83.0h0.8M363.4 77.8h0.8M366.1 84.7h0.8M368.4 74.4h0.8M364.1 85.2h0.8M360.7 81.7h0.8M360.8 78.0h0.8M367.7 76.7h0.8M365.3 81.1h0.8M367.1 77.5h0.8M363.0 74.5h0.8M363.7 80.4h0.8M362.3 78.4h0.8M363.8 77.8h0.8M371.2 81.3h0.8M370.7 74.9h0.8M357.4 75.6h0.8M364.5 88.4h0.8M366.2 77.9h0.8M366.6 72.8h0.8M367.6 87.2h0.8M362.2 76.8h0.8M367.1 82.0h0.8M362.6 80.4h0.8M368.2 78.3h0.8M371.8 75.2h0.8M362.2 77.7h0.8M356.7 78.2h0.8M368.0 85.1h0.8M366.2 81.9h0.8M361.5 83.8h0.8M365.4 77.9h0.8M364.4 85.1h0.8M371.4 78.8h0.8M371.9 76.6h0.8M370.7 80.3h0.8M363.9 86.6h0.8M362.0 80.3h0.8M369.3 77.9h0.8M368.7 79.0h0.8M369.5 75.4h0.8M369.1 77.9h0.8M366.6 82.9h0.8M370.5 80.3h0.8M367.0 79.2h0.8M369.2 75.4h0.8M364.0 73.0h0.8M361.8 81.9h0.8M365.1 76.1h0.8M367.6 84.3h0.8M368.5 75.6h0.8M367.6 81.8h0.8M360.3 76.7h0.8M364.0 80.9h0.8M365.3 81.0h0.8M369.2 81.4h0.8M363.1 73.6h0.8M363.7 72.9h0.8M370.2 77.8h0.8M362.4 85.4h0.8M364.8 79.2h0.8M364.2 78.2h0.8M365.2 76.3h0.8M362.6 76.0h0.8M371.8 69.6h0.8M370.8 75.0h0.8M369.1 72.6h0.8M363.5 85.9h0.8M369.9 86.5h0.8M376.0 78.6h0.8M367.0 83.0h0.8M370.2 81.0h0.8M357.4 83.8h0.8M369.4 88.1h0.8M363.8 82.5h0.8M367.0 78.9h0.8M371.0 77.8h0.8M369.9 69.2h0.8M372.0 76.7h0.8M364.9 87.3h0.8M361.2 84.5h0.8M369.7 81.3h0.8M365.6 78.4h0.8M359.9 78.7h0.8M372.6 78.0h0.8M365.7 75.8h0.8M367.4 84.5h0.8M369.1 77.4h0.8M366.1 77.7h0.8M363.6 76.6h0.8M371.7 72.7h0.8M365.2 83.3h0.8M366.0 75.6h0.8M363.3 83.6h0.8M362.0 80.6h0.8M361.8 78.9h0.8M368.9 73.4h0.8M363.5 83.1h0.8M368.6 73.9h0.8M371.7 77.3h0.8M363.7 86.0h0.8M370.1 78.0h0.8M367.7 79.2h0.8M364.3 79.3h0.8M370.2 78.2h0.8M360.5 80.1h0.8M359.8 75.3h0.8M370.4 75.6h0.8M368.6 79.2h0.8M363.4 81.7h0.8M372.0 76.7h0.8M362.7 83.2h0.8M365.0 80.4h0.8M363.5 77.3h0.8M366.6 81.4h0.8M365.0 74.4h0.8M365.9 77.8h0.8M361.6 80.3h0.8M362.6 77.2h0.8M373.0 86.0h0.8M369.6 76.2h0.8M366.1 83.5h0.8M363.8 83.8h0.8M362.3 82.2h0.8M367.0 78.6h0.8M365.0 79.7h0.8M369.4 71.4h0.8M365.2 87.3h0.8M370.0 83.2h0.8M368.5 77.9h0.8M370.4 84.6h0.8M360.4 76.2h0.8M367.2 68.9h0.8M362.2 85.0h0.8M361.9 79.2h0.8M360.2 83.0h0.8M362.3 72.6h0.8M369.0 74.0h0.8M369.5 79.1h0.8M364.1 83.9h0.8M368.5 80.6h0.8M366.4 76.0h0.8M359.7 75.4h0.8M363.7 82.9h0.8M372.6 78.8h0.8M365.7 71.6h0.8M372.7 82.8h0.8M372.0 82.2h0.8M360.8 81.5h0.8M357.5 83.6h0.8M362.1 85.3h0.8M361.3 80.1h0.8M372.5 75.5h0.8M366.4 77.4h0.8M367.2 79.4h0.8M367.2 77.6h0.8M365.1 79.6h0.8M366.5 77.5h0.8M365.1 85.9h0.8M365.3 77.6h0.8M358.9 74.3h0.8M368.3 74.0h0.8M371.1 76.4h0.8M371.5 75.3h0.8M361.3 77.4h0.8M370.0 74.6h0.8M364.2 75.0h0.8M364.8 83.3h0.8M367.2 78.5h0.8M365.6 76.3h0.8M364.5 74.6h0.8M358.8 85.8h0.8M368.0 78.2h0.8M366.5 82.7h0.8M366.9 87.3h0.8M370.2 86.9h0.8M367.0 80.0h0.8M362.5 81.2h0.8M369.2 75.4h0.8M368.5 80.7h0.8M360.0 80.2h0.8M358.9 84.4h0.8M365.7 75.6h0.8M367.4 87.6h0.8M370.9 74.7h0.8M366.0 76.4h0.8M363.0 82.2h0.8M362.5 77.5h0.8M365.4 82.7h0.8M366.7 76.8h0.8M368.6 71.9h0.8M366.1 72.7h0.8M367.9 84.2h0.8M362.7 82.5h0.8M366.8 80.8h0.8M365.3 70.7h0.8M368.9 77.5h0.8M368.0 77.9h0.8M357.1 72.9h0.8M361.7 85.2h0.8M369.5 82.3h0.8M368.5 81.0h0.8M366.4 76.4h0.8M364.9 79.3h0.8M368.6 68.9h0.8M363.4 79.4h0.8M364.4 83.7h0.8M361.1 74.8h0.8M366.7 79.3h0.8M364.0 76.9h0.8M362.2 85.7h0.8M364.9 77.2h0.8M363.5 76.1h0.8M367.4 81.3h0.8M367.0 79.1h0.8M363.7 80.2h0.8M362.1 79.9h0.8M369.8 81.6h0.8M375.0 79.7h0.8M365.0 83.8h0.8M371.0 81.8h0.8M365.9 77.0h0.8M361.3 75.7h0.8M362.4 78.8h0.8M370.1 73.6h0.8M357.5 84.1h0.8M371.9 76.5h0.8M362.0 74.7h0.8M372.1 72.7h0.8M361.7 78.4h0.8M362.8 76.7h0.8M362.7 81.9h0.8M368.2 74.0h0.8M362.0 79.8h0.8M368.1 73.4h0.8M369.7 70.5h0.8M372.0 80.2h0.8M369.4 80.6h0.8M366.6 79.9h0.8M372.1 70.9h0.8M366.0 84.0h0.8M364.6 82.9h0.8M367.4 75.6h0.8M366.0 75.5h0.8M362.1 79.0h0.8M370.5 75.8h0.8M360.5 79.2h0.8M374.8 76.7h0.8M358.3 80.4h0.8M365.4 74.7h0.8M366.4 69.4h0.8M367.2 68.5h0.8M366.3 80.1h0.8M372.0 67.9h0.8M367.1 77.5h0.8M368.8 74.8h0.8M367.3 75.9h0.8M361.5 83.7h0.8M364.0 83.2h0.8M371.6 72.7h0.8M367.2 78.1h0.8M375.5 74.7h0.8M367.6 83.0h0.8M369.9 77.6h0.8M361.1 86.0h0.8M369.0 76.5h0.8M364.3 81.0h0.8M363.2 73.8h0.8M358.7 78.1h0.8M364.9 78.0h0.8M364.9 80.7h0.8M364.4 80.2h0.8M369.7 83.2h0.8M367.1 74.4h0.8M369.3 75.1h0.8M364.7 84.6h0.8M367.2 76.8h0.8M367.6 78.4h0.8M365.2 82.0h0.8M370.6 75.7h0.8M359.1 81.3h0.8M369.1 77.8h0.8M359.6 81.5h0.8M364.3 73.1h0.8M369.2 80.5h0.8M367.6 79.1h0.8M356.5 85.0h0.8M376.1 73.1h0.8M374.6 80.0h0.8M369.3 77.7h0.8M361.5 82.5h0.8M366.0 81.9h0.8M370.1 84.2h0.8M358.3 82.7h0.8M371.8 75.8h0.8M362.3 79.3h0.8M367.6 78.9h0.8M369.3 77.9h0.8M367.4 79.2h0.8M366.1 71.7h0.8M368.9 74.2h0.8M365.1 79.1h0.8M370.5 76.9h0.8M362.4 78.4h0.8M367.0 72.6h0.8M368.5 80.3h0.8M365.3 75.0h0.8M367.2 77.3h0.8M368.1 75.8h0.8M360.0 82.8h0.8M362.1 88.1h0.8M371.3 70.1h0.8M367.8 83.0h0.8M369.5 79.0h0.8M363.2 74.1h0.8M361.5 78.2h0.8M365.4 78.7h0.8M373.4 77.8h0.8M363.3 80.6h0.8M361.5 83.2h0.8M362.9 73.3h0.8M371.7 78.6h0.8M362.9 82.5h0.8M370.2 73.5h0.8M365.6 74.2h0.8M364.9 75.0h0.8M363.1 79.4h0.8M366.4 79.2h0.8M365.1 83.9h0.8M373.8 81.2h0.8M363.2 78.0h0.8M366.8 75.9h0.8M361.3 74.0h0.8M368.9 71.9h0.8M356.3 76.3h0.8M367.5 78.9h0.8M364.8 82.8h0.8M360.4 78.2h0.8M367.4 77.6h0.8M357.8 83.8h0.8M363.8 80.0h0.8M363.9 80.8h0.8M369.6 78.0h0.8M368.7 81.4h0.8M370.3 73.2h0.8M361.7 78.1h0.8M365.8 74.7h0.8M366.6 84.0h0.8M362.5 79.4h0.8M367.4 74.6h0.8M365.4 77.7h0.8M362.4 81.4h0.8M367.3 82.4h0.8M363.1 76.8h0.8M371.7 74.6h0.8M367.0 81.7h0.8M367.3 75.5h0.8M368.9 76.1h0.8M370.1 80.7h0.8M360.7 76.1h0.8M369.3 82.4h0.8M364.7 77.0h0.8M362.4 88.2h0.8M367.7 78.2h0.8M368.6 76.1h0.8M360.5 75.5h0.8M365.7 70.8h0.8M364.0 71.5h0.8M363.9 75.7h0.8M370.2 73.0h0.8M365.9 79.5h0.8M366.1 71.7h0.8M373.7 69.1h0.8M359.0 74.7h0.8M361.2 79.7h0.8M371.0 71.0h0.8M370.0 76.8h0.8M366.3 76.1h0.8M367.1 86.6h0.8M363.5 79.4h0.8M367.9 77.0h0.8M370.1 78.6h0.8M362.7 88.8h0.8M363.2 85.2h0.8M367.3 77.9h0.8M369.4 84.1h0.8M369.5 75.7h0.8M371.5 74.8h0.8M364.4 77.7h0.8M366.4 74.2h0.8M367.3 80.5h0.8M366.6 83.8h0.8M368.2 80.1h0.8M367.3 71.0h0.8M368.8 72.7h0.8M364.0 77.8h0.8M367.9 70.6h0.8M361.5 77.5h0.8M367.1 79.1h0.8M360.2 88.7h0.8M360.8 88.7h0.8M369.1 76.7h0.8M357.8 83.5h0.8M362.5 75.6h0.8M365.9 81.3h0.8M361.1 78.6h0.8M365.4 76.2h0.8M363.4 80.5h0.8M363.2 74.1h0.8M365.4 81.8h0.8M366.3 79.0h0.8M372.7 74.9h0.8M358.4 84.2h0.8M373.9 84.8h0.8M367.9 84.3h0.8M361.3 78.4h0.8M367.7 83.7h0.8M373.0 76.2h0.8M359.1 74.3h0.8M366.2 80.4h0.8M366.6 82.4h0.8M359.6 75.7h0.8M363.9 72.9h0.8M362.6 76.0h0.8M367.9 83.7h0.8M367.3 81.0h0.8M363.5 79.2h0.8M360.3 81.7h0.8M366.0 88.8h0.8M364.8 79.5h0.8M367.9 80.3h0.8M359.7 76.8h0.8M368.1 81.4h0.8M371.5 70.9h0.8M365.1 72.9h0.8M373.2 76.0h0.8M367.6 83.3h0.8M369.2 77.3h0.8M370.4 71.7h0.8M364.9 77.5h0.8M372.1 77.2h0.8M367.6 73.5h0.8M368.7 87.1h0.8M363.4 78.4h0.8M367.2 72.5h0.8M364.2 75.6h0.8M364.8 83.4h0.8M363.0 74.6h0.8M364.1 81.6h0.8M362.7 84.5h0.8M368.1 80.1h0.8M368.7 75.2h0.8M364.4 80.5h0.8M363.5 79.4h0.8M371.0 78.9h0.8M360.3 81.6h0.8M363.5 81.8h0.8M371.8 71.0h0.8M372.6 83.2h0.8M363.9 70.8h0.8M363.0 79.4h0.8M370.8 72.4h0.8M366.5 82.5h0.8M368.0 82.2h0.8M370.6 77.2h0.8M357.6 81.2h0.8M362.9 81.8h0.8M362.1 80.7h0.8M365.0 85.3h0.8M368.7 78.2h0.8M369.3 79.3h0.8M363.2 80.3h0.8M371.8 77.4h0.8M368.1 78.1h0.8M363.4 81.3h0.8M361.1 79.0h0.8M367.1 76.5h0.8M364.1 80.2h0.8M363.2 78.0h0.8M362.3 75.8h0.8M368.1 68.8h0.8M365.7 75.8h0.8M362.0 83.6h0.8M366.3 73.4h0.8M370.9 75.5h0.8M365.6 85.4h0.8M354.5 79.0h0.8M360.0 81.7h0.8M357.8 85.3h0.8M354.0 86.5h0.8M357.0 86.6h0.8M361.4 84.5h0.8M360.7 85.7h0.8M357.2 81.3h0.8M362.5 82.2h0.8M360.1 84.8h0.8M362.0 89.3h0.8M356.4 89.2h0.8M361.6 86.2h0.8M360.7 86.9h0.8M360.5 87.2h0.8M353.0 79.9h0.8M361.7 79.5h0.8M362.1 85.3h0.8M354.5 83.9h0.8M360.7 84.7h0.8M357.2 82.4h0.8M358.2 82.3h0.8M361.5 86.1h0.8M361.4 84.6h0.8M366.8 82.6h0.8M357.8 85.2h0.8M361.9 83.4h0.8M359.8 86.5h0.8M355.6 89.0h0.8M360.6 83.9h0.8M358.8 82.7h0.8M359.9 82.8h0.8M360.9 83.9h0.8M359.8 86.4h0.8M355.9 91.0h0.8M357.8 81.1h0.8M353.6 89.0h0.8M354.1 87.8h0.8M361.7 88.3h0.8M355.9 88.3h0.8M360.2 85.9h0.8M359.2 84.1h0.8M359.0 90.0h0.8M360.9 80.2h0.8M360.0 93.6h0.8M358.6 90.1h0.8M359.5 83.9h0.8M358.5 88.6h0.8M362.5 83.9h0.8M357.1 92.5h0.8M360.8 84.8h0.8M362.5 81.4h0.8M356.3 84.5h0.8M358.5 87.2h0.8M359.6 85.5h0.8M361.7 85.9h0.8M361.8 87.6h0.8M361.2 87.7h0.8M359.0 86.6h0.8M354.7 86.0h0.8M359.2 87.8h0.8M358.6 88.0h0.8M360.2 86.8h0.8M357.7 87.0h0.8M359.7 82.0h0.8M360.4 83.2h0.8M357.4 83.1h0.8M362.1 88.0h0.8M358.1 88.1h0.8M359.2 82.5h0.8M353.9 81.3h0.8M360.3 84.4h0.8M357.5 81.1h0.8M362.5 80.7h0.8M365.9 87.8h0.8M353.4 83.4h0.8M361.3 84.0h0.8M360.6 85.6h0.8M361.2 82.8h0.8M359.5 86.6h0.8M360.7 89.0h0.8M360.3 89.1h0.8M359.2 83.2h0.8M359.2 87.7h0.8M355.8 86.2h0.8M355.3 83.4h0.8M356.2 85.3h0.8M356.0 85.4h0.8M364.1 86.8h0.8M356.2 92.2h0.8M358.0 84.2h0.8M366.7 84.5h0.8M359.4 85.0h0.8M365.6 85.0h0.8M356.1 86.3h0.8M360.0 84.5h0.8M360.4 85.9h0.8M359.5 83.1h0.8M361.8 84.1h0.8M359.2 92.8h0.8M357.6 85.6h0.8M357.7 82.2h0.8M358.5 83.4h0.8M357.7 85.3h0.8M360.4 86.7h0.8M360.7 83.0h0.8M361.7 86.3h0.8M355.9 87.9h0.8M358.9 81.2h0.8M355.8 84.2h0.8M357.5 85.6h0.8M362.1 85.5h0.8M359.1 84.2h0.8M354.5 92.8h0.8M357.7 86.0h0.8M358.7 84.7h0.8M361.5 88.1h0.8M358.0 82.6h0.8M358.0 86.0h0.8M362.4 86.6h0.8M359.4 83.0h0.8M358.8 79.4h0.8M361.0 84.4h0.8M360.5 84.9h0.8M354.9 84.0h0.8M357.3 85.7h0.8M358.8 84.2h0.8M361.5 90.0h0.8M357.6 87.8h0.8M361.5 82.1h0.8M352.6 85.9h0.8M356.1 84.3h0.8M356.2 86.9h0.8M366.0 92.2h0.8M361.2 85.7h0.8M362.0 81.3h0.8M364.2 84.8h0.8M360.9 82.5h0.8M360.1 81.6h0.8M362.0 85.1h0.8M353.8 87.2h0.8M367.9 80.3h0.8M355.5 85.4h0.8M360.7 83.5h0.8M362.1 86.2h0.8M357.3 83.6h0.8M362.0 87.5h0.8M353.3 83.8h0.8M366.7 82.4h0.8M360.9 85.5h0.8M358.7 85.5h0.8M356.7 86.1h0.8M365.7 81.4h0.8M362.1 83.9h0.8M360.4 88.3h0.8M359.0 84.4h0.8M361.7 85.9h0.8M357.6 86.4h0.8M356.5 81.6h0.8M359.5 86.5h0.8M355.7 83.6h0.8M360.3 82.8h0.8M357.7 89.0h0.8M361.6 86.0h0.8M356.8 82.5h0.8M361.3 82.5h0.8M358.4 85.9h0.8M364.5 80.9h0.8M367.0 87.8h0.8M356.8 84.1h0.8M358.3 86.1h0.8M356.1 83.5h0.8M358.4 82.3h0.8M364.1 87.5h0.8M355.4 85.1h0.8M359.9 82.2h0.8M364.2 83.0h0.8M361.4 82.2h0.8M358.2 86.3h0.8M362.0 79.5h0.8M354.8 81.9h0.8M351.6 85.8h0.8M365.6 88.6h0.8M359.6 83.7h0.8M358.7 80.8h0.8M360.1 83.3h0.8M361.4 87.6h0.8M357.0 83.4h0.8M362.4 83.8h0.8M357.6 86.9h0.8M356.7 89.9h0.8M359.8 84.0h0.8M361.3 87.2h0.8M357.9 85.8h0.8M356.1 85.0h0.8M361.5 82.2h0.8M360.4 85.3h0.8M363.8 79.6h0.8M356.9 81.2h0.8M358.8 88.9h0.8M366.2 86.3h0.8M354.0 80.3h0.8M355.6 78.2h0.8M361.8 82.9h0.8M361.6 89.5h0.8M360.3 86.1h0.8M353.5 84.3h0.8M360.6 79.3h0.8M364.8 81.7h0.8M361.6 87.2h0.8M358.4 88.8h0.8M357.1 86.4h0.8M359.1 84.7h0.8M354.0 84.2h0.8M360.5 86.0h0.8M358.1 80.8h0.8M353.8 88.0h0.8M360.0 83.3h0.8M357.5 82.4h0.8M358.8 83.4h0.8M354.0 80.5h0.8M359.9 83.6h0.8M359.2 85.9h0.8M357.9 79.5h0.8M358.7 84.6h0.8M362.9 89.4h0.8M356.6 83.7h0.8M360.6 87.4h0.8M352.8 80.4h0.8M358.8 85.7h0.8M359.4 83.6h0.8M357.6 92.1h0.8M360.5 84.2h0.8M357.6 82.9h0.8M354.8 86.8h0.8M361.0 87.3h0.8M363.7 86.5h0.8M359.2 86.1h0.8M363.7 85.6h0.8M356.3 87.3h0.8M358.4 85.5h0.8M356.2 83.9h0.8M359.2 87.5h0.8M363.9 88.1h0.8M360.4 81.8h0.8M357.1 84.8h0.8M356.8 88.7h0.8M360.4 84.0h0.8M361.9 84.9h0.8M358.7 80.6h0.8M357.5 90.2h0.8M363.3 83.1h0.8M360.2 78.5h0.8M360.5 83.9h0.8M361.1 85.4h0.8M360.1 85.8h0.8M356.5 84.3h0.8M360.9 86.0h0.8M359.1 93.7h0.8M356.2 81.6h0.8M366.3 80.7h0.8M360.4 91.1h0.8M355.7 81.9h0.8M361.3 88.9h0.8M356.1 81.6h0.8M360.2 86.1h0.8M352.6 86.8h0.8M356.4 92.8h0.8M360.2 89.0h0.8M358.7 82.9h0.8M359.8 87.7h0.8M364.2 83.0h0.8M361.6 90.5h0.8M363.8 88.0h0.8M359.1 83.7h0.8M361.4 84.5h0.8M359.7 82.3h0.8M353.6 85.2h0.8M360.5 87.3h0.8M361.5 84.5h0.8M357.5 90.0h0.8M363.0 81.1h0.8M360.8 85.2h0.8M361.3 82.0h0.8M356.2 85.9h0.8M361.7 84.0h0.8M353.4 83.3h0.8M356.1 77.7h0.8M360.8 86.5h0.8M361.8 85.0h0.8M357.4 84.0h0.8M363.1 84.3h0.8M363.0 81.8h0.8M360.4 88.9h0.8M364.6 84.2h0.8M355.6 92.3h0.8M364.4 82.6h0.8M356.9 85.9h0.8M361.6 82.2h0.8" stroke="#ff1a1a" stroke-width="0.8" stroke-opacity="0.58" fill="none"/><path d="M363.6 99.1h0.8M366.1 101.2h0.8M363.0 95.2h0.8M363.0 100.2h0.8M355.0 89.9h0.8M372.8 89.5h0.8M365.6 96.3h0.8M362.7 102.1h0.8M368.5 98.9h0.8M357.8 97.0h0.8M368.2 92.6h0.8M369.7 98.4h0.8M358.0 90.3h0.8M373.5 99.5h0.8M358.5 102.2h0.8M361.0 103.9h0.8M372.1 98.2h0.8M369.2 99.6h0.8M360.0 96.5h0.8M357.4 99.0h0.8M361.6 98.7h0.8M360.7 106.6h0.8M351.6 99.4h0.8M366.6 97.3h0.8M369.8 98.4h0.8M351.9 101.6h0.8M366.7 95.3h0.8M365.7 96.7h0.8M366.7 92.7h0.8M372.1 102.8h0.8M367.8 96.9h0.8M366.5 96.5h0.8M355.9 94.7h0.8M355.0 101.0h0.8M370.5 93.6h0.8M367.5 96.8h0.8M364.4 93.8h0.8M373.8 103.5h0.8M369.5 99.0h0.8M369.2 102.8h0.8M368.9 95.1h0.8M367.0 94.0h0.8M361.4 96.4h0.8M369.1 103.6h0.8M365.5 107.4h0.8M367.1 103.0h0.8M359.2 96.0h0.8M371.2 103.5h0.8M360.4 110.7h0.8M365.6 96.6h0.8" stroke="#ff3030" stroke-width="0.8" stroke-opacity="0.3" fill="none"/><path d="M277.9 40.3L277.9 115.3" stroke="#3c3c3c" stroke-width="1"/><path d="M243.5 92.1L318.1 92.1" stroke="#3c3c3c" stroke-width="1"/><path d="M355.8 40.3L355.8 115.3" stroke="#3c3c3c" stroke-width="1"/><path d="M325.8 92.4L400.7 92.4" stroke="#3c3c3c" stroke-width="1"/><path d="M238.3 70.2V119.8H288.3" fill="none" stroke="#222" stroke-width="1"/><path d="M238.3 66.2l-2.7 5.2h5.4z M292.3 119.8l-5.2 -2.7v5.4z" fill="#111"/><text x="231.8" y="92.9" font-size="9.2" fill="#2e2e2e" text-anchor="middle" stroke="#2e2e2e" stroke-width="0.22" textLength="20" lengthAdjust="spacingAndGlyphs" transform="rotate(-90 231.8 92.9)">CD73</text><text x="255.4" y="131.7" font-size="9.7" fill="#2e2e2e" stroke="#2e2e2e" stroke-width="0.16" textLength="19.6" lengthAdjust="spacingAndGlyphs">CD39</text><text x="300.0" y="131.0" font-size="9.8" fill="#2e2e2e" stroke="#2e2e2e" stroke-width="0.16" textLength="22.8" lengthAdjust="spacingAndGlyphs">CD4+</text><text x="334.4" y="131.0" font-size="9.8" fill="#c8304e" stroke="#c8304e" stroke-width="0.16" textLength="57.1" lengthAdjust="spacingAndGlyphs">FoxP3+CD25+</text><text x="418.1" y="17.6" font-size="12.8" fill="#0d0d0d" font-weight="bold" textLength="7.9" lengthAdjust="spacingAndGlyphs">C</text><text x="472.7" y="15.4" font-size="10.2" fill="#2e2e2e" stroke="#2e2e2e" stroke-width="0.16" textLength="28.5" lengthAdjust="spacingAndGlyphs">FoxP3</text><path d="M460.5 21.6L460.5 125.4" stroke="#262626" stroke-width="1.15"/><path d="M456.9 125.4L460.5 125.4" stroke="#262626" stroke-width="1"/><text x="454.3" y="128.5" font-size="9.0" fill="#2e2e2e" text-anchor="end" stroke="#2e2e2e" stroke-width="0.16" textLength="4.75" lengthAdjust="spacingAndGlyphs">0</text><path d="M456.9 105.3L460.5 105.3" stroke="#262626" stroke-width="1"/><text x="454.3" y="108.4" font-size="9.0" fill="#2e2e2e" text-anchor="end" stroke="#2e2e2e" stroke-width="0.16" textLength="9.5" lengthAdjust="spacingAndGlyphs">10</text><path d="M456.9 85.2L460.5 85.2" stroke="#262626" stroke-width="1"/><text x="454.3" y="88.3" font-size="9.0" fill="#2e2e2e" text-anchor="end" stroke="#2e2e2e" stroke-width="0.16" textLength="9.5" lengthAdjust="spacingAndGlyphs">20</text><path d="M456.9 65.1L460.5 65.1" stroke="#262626" stroke-width="1"/><text x="454.3" y="68.2" font-size="9.0" fill="#2e2e2e" text-anchor="end" stroke="#2e2e2e" stroke-width="0.16" textLength="9.5" lengthAdjust="spacingAndGlyphs">30</text><path d="M456.9 45.0L460.5 45.0" stroke="#262626" stroke-width="1"/><text x="454.3" y="48.1" font-size="9.0" fill="#2e2e2e" text-anchor="end" stroke="#2e2e2e" stroke-width="0.16" textLength="9.5" lengthAdjust="spacingAndGlyphs">40</text><path d="M456.9 24.9L460.5 24.9" stroke="#262626" stroke-width="1"/><text x="454.3" y="28.0" font-size="9.0" fill="#2e2e2e" text-anchor="end" stroke="#2e2e2e" stroke-width="0.16" textLength="9.5" lengthAdjust="spacingAndGlyphs">50</text><path d="M460.5 125.4L512.6 125.4" stroke="#262626" stroke-width="1.15"/><text x="438.3" y="73.7" font-size="10" fill="#2e2e2e" text-anchor="middle" stroke="#2e2e2e" stroke-width="0.22" textLength="43.2" lengthAdjust="spacingAndGlyphs" transform="rotate(-90 438.3 73.7)">% of CD39+</text><rect x="468.7" y="103.3" width="13.5" height="22.1" fill="#ef8e86"/><rect x="491.0" y="89.2" width="13.5" height="36.2" fill="#8a9bc9"/><path d="M473.0 55.1a2.2 2.2 0 1 0 4.4 0a2.2 2.2 0 1 0 -4.4 0M473.1 59.1a2.2 2.2 0 1 0 4.4 0a2.2 2.2 0 1 0 -4.4 0M473.2 67.1a2.2 2.2 0 1 0 4.4 0a2.2 2.2 0 1 0 -4.4 0" fill="none" stroke="#d2203c" stroke-width="1.2"/><path d="M473.1 92.2a2.2 2.2 0 1 0 4.4 0a2.2 2.2 0 1 0 -4.4 0M474.1 96.3a2.2 2.2 0 1 0 4.4 0a2.2 2.2 0 1 0 -4.4 0M473.4 98.3a2.2 2.2 0 1 0 4.4 0a2.2 2.2 0 1 0 -4.4 0M473.1 99.3a2.2 2.2 0 1 0 4.4 0a2.2 2.2 0 1 0 -4.4 0M474.8 100.3a2.2 2.2 0 1 0 4.4 0a2.2 2.2 0 1 0 -4.4 0" fill="none" stroke="#d2203c" stroke-width="1.2"/><path d="M477.4 102.3a2.2 2.2 0 1 0 4.4 0a2.2 2.2 0 1 0 -4.4 0M469.4 103.3a2.2 2.2 0 1 0 4.4 0a2.2 2.2 0 1 0 -4.4 0M472.8 104.3a2.2 2.2 0 1 0 4.4 0a2.2 2.2 0 1 0 -4.4 0M472.0 105.3a2.2 2.2 0 1 0 4.4 0a2.2 2.2 0 1 0 -4.4 0M476.9 106.3a2.2 2.2 0 1 0 4.4 0a2.2 2.2 0 1 0 -4.4 0M477.6 107.3a2.2 2.2 0 1 0 4.4 0a2.2 2.2 0 1 0 -4.4 0M473.8 108.3a2.2 2.2 0 1 0 4.4 0a2.2 2.2 0 1 0 -4.4 0M472.3 109.3a2.2 2.2 0 1 0 4.4 0a2.2 2.2 0 1 0 -4.4 0M474.1 110.3a2.2 2.2 0 1 0 4.4 0a2.2 2.2 0 1 0 -4.4 0M475.3 111.3a2.2 2.2 0 1 0 4.4 0a2.2 2.2 0 1 0 -4.4 0M477.3 112.3a2.2 2.2 0 1 0 4.4 0a2.2 2.2 0 1 0 -4.4 0M472.4 113.3a2.2 2.2 0 1 0 4.4 0a2.2 2.2 0 1 0 -4.4 0M470.7 114.3a2.2 2.2 0 1 0 4.4 0a2.2 2.2 0 1 0 -4.4 0M477.6 115.4a2.2 2.2 0 1 0 4.4 0a2.2 2.2 0 1 0 -4.4 0M474.8 116.4a2.2 2.2 0 1 0 4.4 0a2.2 2.2 0 1 0 -4.4 0M473.8 117.4a2.2 2.2 0 1 0 4.4 0a2.2 2.2 0 1 0 -4.4 0M468.4 119.4a2.2 2.2 0 1 0 4.4 0a2.2 2.2 0 1 0 -4.4 0" fill="none" stroke="#d2203c" stroke-width="1.2"/><path d="M495.7 42.1h4.2v4.2h-4.2zM495.1 53.8h4.2v4.2h-4.2zM495.2 58.0h4.2v4.2h-4.2zM495.5 60.0h4.2v4.2h-4.2zM496.0 70.0h4.2v4.2h-4.2zM496.0 77.1h4.2v4.2h-4.2zM496.0 84.1h4.2v4.2h-4.2z" fill="none" stroke="#1e5a9c" stroke-width="1.15"/><path d="M497.7 93.2V84.2M495.1 84.2h5.2" stroke="#1e5a9c" stroke-width="1.0" fill="none"/><path d="M496.2 84.1h4.2v4.2h-4.2zM495.4 86.1h4.2v4.2h-4.2zM495.0 88.1h4.2v4.2h-4.2zM494.2 89.1h4.2v4.2h-4.2zM495.8 91.1h4.2v4.2h-4.2zM495.4 92.1h4.2v4.2h-4.2zM495.3 93.2h4.2v4.2h-4.2zM497.2 95.2h4.2v4.2h-4.2zM496.8 96.2h4.2v4.2h-4.2zM497.8 97.2h4.2v4.2h-4.2z" fill="none" stroke="#1e5a9c" stroke-width="1.15"/><path d="M498.9 98.2h4.2v4.2h-4.2zM496.1 99.2h4.2v4.2h-4.2zM499.1 100.2h4.2v4.2h-4.2zM500.3 101.2h4.2v4.2h-4.2zM493.9 101.2h4.2v4.2h-4.2zM491.6 102.2h4.2v4.2h-4.2zM494.6 102.2h4.2v4.2h-4.2zM497.9 103.2h4.2v4.2h-4.2zM497.5 103.2h4.2v4.2h-4.2zM498.6 104.2h4.2v4.2h-4.2zM496.2 104.2h4.2v4.2h-4.2zM491.7 105.2h4.2v4.2h-4.2z" fill="none" stroke="#1e5a9c" stroke-width="1.15"/><path d="M475.5 49.3V35.4H497.5V40.0" fill="none" stroke="#262626" stroke-width="1.0"/><path d="M481.50 30.8a1.25 1.25 0 1 0 2.5 0a1.25 1.25 0 1 0 -2.5 0M485.25 30.8a1.25 1.25 0 1 0 2.5 0a1.25 1.25 0 1 0 -2.5 0M489.00 30.8a1.25 1.25 0 1 0 2.5 0a1.25 1.25 0 1 0 -2.5 0" fill="#1a1a1a"/><text x="7.8" y="178.6" font-size="12.8" fill="#0d0d0d" font-weight="bold" textLength="7.9" lengthAdjust="spacingAndGlyphs">D</text><text x="78.9" y="187.9" font-size="10.3" fill="#2e2e2e" text-anchor="middle" stroke="#2e2e2e" stroke-width="0.16" textLength="17.6" lengthAdjust="spacingAndGlyphs">ICPi</text><text x="162.5" y="187.9" font-size="10.3" fill="#2e2e2e" text-anchor="middle" stroke="#2e2e2e" stroke-width="0.16" textLength="17.9" lengthAdjust="spacingAndGlyphs">PBS</text><rect x="39.7" y="194.0" width="77.9" height="77.2" fill="none" stroke="#9a9a9a" stroke-width="1"/><rect x="123.3" y="193.8" width="78.2" height="77.0" fill="none" stroke="#9a9a9a" stroke-width="1"/><path d="M74.8 242.1h0.8M100.1 251.3h0.8M81.6 251.8h0.8M90.0 229.8h0.8M92.0 216.4h0.8M72.1 247.2h0.8M68.2 242.3h0.8M105.0 232.9h0.8M93.2 223.6h0.8M104.5 220.3h0.8M74.3 241.2h0.8M77.1 248.3h0.8M76.5 211.8h0.8M95.4 248.3h0.8M86.9 229.6h0.8M91.6 243.3h0.8M79.7 250.8h0.8M94.6 257.9h0.8M78.7 235.6h0.8M94.9 228.8h0.8M59.2 212.4h0.8M110.0 224.2h0.8M57.1 241.8h0.8M94.2 242.1h0.8M76.8 209.8h0.8M97.2 234.4h0.8M52.7 224.4h0.8M74.2 233.3h0.8M40.6 246.3h0.8M68.2 236.5h0.8M57.2 203.3h0.8M86.9 240.9h0.8M70.0 255.7h0.8M83.1 244.2h0.8M67.7 245.9h0.8M71.8 255.9h0.8M105.6 205.8h0.8M63.5 234.6h0.8M64.9 235.5h0.8M86.4 232.3h0.8M68.1 233.2h0.8M86.4 249.3h0.8M67.1 240.1h0.8M74.8 228.1h0.8M70.6 223.6h0.8M65.3 213.3h0.8M56.4 249.6h0.8M105.3 243.6h0.8M79.1 224.4h0.8M92.1 231.1h0.8M81.5 237.0h0.8M74.6 240.7h0.8M73.3 226.9h0.8M78.6 214.9h0.8M97.3 223.3h0.8M68.0 239.3h0.8M100.4 215.5h0.8M68.0 229.1h0.8M77.9 232.1h0.8M73.4 210.1h0.8M61.4 249.2h0.8M99.3 234.6h0.8M77.0 226.4h0.8M92.1 226.5h0.8M101.5 214.6h0.8M82.5 221.5h0.8M96.2 239.0h0.8M91.4 228.8h0.8M61.6 234.6h0.8M92.7 254.2h0.8M63.4 224.5h0.8M75.1 224.5h0.8M51.9 234.3h0.8M76.7 245.4h0.8M96.5 229.6h0.8M90.5 210.9h0.8M81.5 220.9h0.8M98.8 252.0h0.8M68.6 248.0h0.8M98.1 234.9h0.8M99.2 231.9h0.8M73.4 257.6h0.8M60.2 237.6h0.8M82.7 224.7h0.8M76.8 237.4h0.8M68.8 225.5h0.8M49.4 236.6h0.8M80.3 230.1h0.8M100.5 221.5h0.8M95.5 247.2h0.8M45.5 228.3h0.8M76.4 256.7h0.8M76.1 225.8h0.8M71.6 231.1h0.8M74.4 231.5h0.8M75.7 240.4h0.8M50.2 232.8h0.8M70.6 228.5h0.8M81.6 233.1h0.8M95.3 222.0h0.8M67.0 227.3h0.8M109.4 212.1h0.8M71.0 243.3h0.8M68.3 228.4h0.8M92.4 241.6h0.8M83.4 236.9h0.8M105.0 220.1h0.8M89.0 252.3h0.8M60.7 210.8h0.8M46.6 224.0h0.8M86.0 236.7h0.8M70.0 228.5h0.8M80.7 255.2h0.8M77.0 222.2h0.8M76.3 231.8h0.8M46.3 243.6h0.8M81.1 229.0h0.8M69.1 228.9h0.8M101.2 256.9h0.8M81.8 228.8h0.8M59.6 221.1h0.8M97.2 232.1h0.8M73.2 237.3h0.8M66.1 236.2h0.8M62.2 224.8h0.8M110.2 246.7h0.8M73.1 223.3h0.8M74.6 237.4h0.8M76.1 218.6h0.8M89.1 223.8h0.8M63.2 232.5h0.8M89.6 240.0h0.8M89.6 227.6h0.8M81.1 225.2h0.8M59.7 240.0h0.8M78.6 227.9h0.8M68.9 238.5h0.8M84.8 205.2h0.8M97.6 246.0h0.8M74.7 239.7h0.8" stroke="#000" stroke-width="0.8" stroke-opacity="0.22" fill="none"/><path d="M64.3 247.3h0.8M68.6 246.6h0.8M61.8 251.8h0.8M80.7 244.3h0.8M70.6 245.8h0.8M86.4 241.6h0.8M67.2 246.3h0.8M83.3 249.7h0.8M80.4 242.3h0.8M68.1 246.6h0.8M66.2 249.8h0.8M71.8 248.1h0.8M85.8 241.2h0.8M67.8 246.1h0.8M63.8 248.4h0.8M87.2 238.2h0.8M81.0 240.6h0.8M64.9 247.7h0.8M59.6 246.4h0.8M77.9 242.9h0.8M69.4 248.6h0.8M64.2 250.8h0.8M77.7 236.9h0.8M73.8 243.5h0.8M73.2 242.0h0.8M90.2 243.6h0.8M81.5 244.1h0.8M79.3 248.5h0.8M72.0 249.8h0.8M87.3 241.9h0.8M82.1 246.1h0.8M78.2 246.5h0.8M81.3 242.3h0.8M75.6 247.6h0.8M63.7 243.7h0.8M63.4 254.8h0.8M73.1 244.8h0.8M76.0 246.2h0.8M80.4 236.2h0.8M67.2 244.6h0.8M86.2 246.9h0.8M61.1 252.4h0.8M87.5 246.0h0.8M60.8 247.7h0.8M63.9 239.6h0.8M89.2 242.1h0.8M88.0 245.2h0.8M71.7 252.0h0.8M61.6 246.8h0.8M91.0 239.0h0.8M72.5 244.5h0.8M64.8 251.2h0.8M76.1 253.8h0.8M85.5 242.5h0.8M65.0 246.6h0.8M62.4 251.6h0.8M67.4 250.9h0.8M72.6 244.0h0.8M64.7 246.9h0.8M63.9 237.7h0.8M72.0 244.6h0.8M59.7 242.7h0.8M80.0 245.5h0.8M85.6 244.5h0.8M67.2 246.2h0.8M79.0 246.7h0.8M67.6 249.6h0.8M83.9 243.4h0.8M66.1 252.1h0.8M79.3 242.6h0.8M88.3 243.2h0.8M65.1 247.3h0.8M62.5 251.3h0.8M83.3 249.7h0.8M63.3 244.7h0.8M77.1 249.7h0.8M92.4 248.2h0.8M73.9 240.4h0.8M68.4 250.1h0.8M73.1 249.6h0.8M65.3 249.4h0.8M87.0 242.4h0.8M64.2 248.0h0.8M89.4 243.2h0.8M72.0 246.5h0.8M73.6 246.8h0.8M64.0 247.0h0.8M69.4 249.0h0.8M62.4 246.9h0.8M80.3 243.8h0.8M90.1 248.4h0.8M71.4 252.2h0.8M67.4 238.9h0.8M83.3 245.6h0.8M75.6 248.5h0.8M73.6 249.9h0.8M62.7 248.7h0.8M80.5 239.8h0.8M88.3 239.7h0.8M80.2 242.9h0.8M75.9 245.9h0.8M82.8 244.5h0.8M60.4 247.6h0.8M91.1 239.4h0.8M84.8 244.9h0.8M77.9 248.6h0.8M79.7 247.6h0.8M64.1 247.0h0.8M74.2 246.2h0.8M92.7 246.4h0.8M77.9 249.2h0.8M84.2 247.6h0.8M77.1 246.3h0.8M81.0 247.1h0.8M84.3 245.4h0.8M63.2 251.1h0.8M59.9 247.1h0.8M87.5 241.6h0.8M89.3 239.2h0.8M60.7 252.0h0.8M66.6 246.4h0.8M90.8 243.5h0.8M60.6 245.8h0.8M91.1 240.8h0.8M93.9 252.1h0.8M65.3 247.1h0.8M65.0 245.1h0.8M87.5 244.1h0.8M77.1 243.3h0.8M89.2 239.2h0.8M72.1 249.7h0.8M79.1 247.4h0.8M66.8 241.3h0.8M86.6 248.0h0.8M68.1 248.7h0.8M86.6 245.0h0.8M77.4 248.0h0.8M62.1 249.0h0.8M78.2 239.0h0.8M74.6 244.4h0.8M79.7 244.1h0.8M88.4 244.1h0.8M89.7 244.6h0.8M84.5 248.7h0.8M61.5 249.7h0.8M64.7 244.3h0.8M78.5 247.6h0.8M89.5 239.3h0.8M66.3 248.2h0.8M89.3 240.5h0.8M89.1 242.1h0.8M68.0 253.2h0.8M62.7 254.0h0.8M61.3 249.9h0.8M77.0 243.3h0.8M77.9 245.4h0.8M69.3 248.4h0.8M76.0 243.4h0.8M88.7 243.6h0.8M81.9 241.7h0.8M66.4 249.5h0.8M62.0 247.7h0.8M74.3 241.9h0.8M72.8 246.5h0.8M60.6 248.7h0.8M68.3 242.0h0.8M86.8 242.4h0.8M64.3 249.9h0.8M61.0 248.4h0.8M63.2 247.5h0.8M84.3 243.2h0.8M71.2 245.0h0.8M91.8 245.1h0.8M80.5 241.7h0.8M88.4 238.4h0.8M83.7 244.8h0.8M72.1 251.0h0.8M76.1 244.7h0.8M79.0 242.5h0.8M67.0 258.4h0.8M87.4 245.2h0.8M88.9 246.4h0.8M82.0 241.7h0.8M72.3 245.2h0.8M65.9 242.7h0.8M61.6 250.2h0.8M68.4 255.0h0.8M67.7 244.7h0.8M83.0 246.7h0.8M73.9 239.8h0.8M61.5 245.9h0.8M73.1 243.2h0.8M82.9 242.4h0.8M89.9 246.0h0.8M83.4 244.8h0.8M73.1 243.6h0.8M74.8 249.1h0.8M67.2 245.2h0.8M88.8 243.0h0.8M67.3 249.5h0.8M70.9 244.1h0.8M84.7 245.1h0.8M83.0 247.3h0.8M90.2 248.4h0.8M62.0 250.4h0.8M70.5 242.6h0.8M89.3 244.3h0.8M87.6 242.6h0.8M60.1 247.0h0.8M62.2 249.1h0.8M80.2 246.2h0.8M74.8 246.9h0.8M73.5 245.8h0.8M80.7 243.3h0.8M88.6 245.5h0.8M66.7 243.9h0.8M89.6 243.7h0.8M71.9 242.4h0.8M65.9 249.9h0.8M60.2 242.5h0.8M60.5 247.2h0.8M86.0 246.1h0.8M65.3 248.1h0.8M70.4 240.1h0.8M81.0 248.2h0.8M89.1 248.2h0.8M84.3 248.9h0.8M81.1 247.6h0.8M89.6 242.9h0.8M59.5 241.6h0.8M71.3 244.9h0.8M71.9 250.5h0.8M65.7 240.1h0.8M78.6 242.5h0.8M88.0 241.8h0.8M78.4 246.4h0.8M82.6 245.0h0.8M75.4 241.9h0.8M88.3 243.0h0.8M66.6 249.6h0.8M76.2 246.7h0.8M64.7 240.8h0.8M70.9 247.6h0.8M89.1 247.6h0.8M62.4 244.5h0.8M64.2 243.3h0.8M81.0 245.0h0.8M79.1 243.3h0.8M62.5 248.4h0.8M65.4 245.1h0.8M63.4 255.7h0.8M83.7 245.2h0.8M61.4 245.4h0.8M70.9 246.9h0.8M79.7 241.0h0.8M89.4 244.8h0.8M86.4 238.5h0.8M69.1 251.7h0.8M88.6 243.0h0.8M88.9 238.8h0.8M81.7 247.9h0.8M61.5 252.6h0.8M84.3 242.6h0.8M72.6 240.9h0.8M74.6 250.2h0.8M77.8 240.0h0.8M59.6 246.6h0.8M71.6 237.9h0.8M75.2 247.8h0.8M87.0 244.5h0.8M77.9 238.9h0.8M87.8 239.2h0.8M88.5 242.2h0.8M86.5 240.1h0.8M82.4 242.5h0.8M59.8 243.5h0.8M62.4 247.4h0.8M82.2 242.9h0.8M68.3 255.3h0.8M61.8 252.6h0.8M67.7 242.5h0.8M63.6 251.4h0.8M64.6 249.1h0.8M91.2 246.9h0.8M90.1 244.2h0.8M79.6 244.7h0.8M60.6 246.3h0.8M66.9 249.6h0.8M88.1 236.4h0.8M68.6 247.2h0.8M91.8 242.6h0.8M80.7 244.0h0.8M81.8 238.3h0.8M64.5 243.4h0.8M84.9 233.9h0.8M71.1 245.9h0.8M65.9 240.7h0.8M65.2 244.0h0.8M76.1 243.3h0.8M68.1 239.7h0.8M70.3 245.2h0.8M60.5 246.7h0.8M62.1 243.2h0.8M87.9 247.2h0.8M73.1 251.0h0.8M63.6 252.4h0.8M91.9 242.4h0.8M64.3 245.3h0.8M64.9 249.9h0.8M78.9 242.7h0.8M85.1 244.5h0.8M69.4 250.0h0.8M74.0 247.2h0.8M86.4 241.4h0.8M64.4 244.9h0.8M67.6 246.3h0.8M65.8 246.6h0.8M63.5 239.1h0.8M66.4 246.1h0.8M80.3 244.2h0.8M87.2 246.6h0.8M88.9 243.7h0.8M70.0 250.5h0.8M77.6 245.9h0.8M83.0 242.8h0.8M80.4 244.8h0.8M78.6 241.0h0.8M63.8 248.0h0.8M74.3 251.0h0.8M85.2 248.8h0.8M68.5 245.9h0.8M79.9 241.7h0.8M71.3 246.2h0.8M68.5 242.0h0.8M86.9 231.9h0.8M76.3 252.7h0.8M61.6 247.3h0.8M88.7 241.5h0.8M68.4 244.6h0.8M76.7 245.3h0.8M65.1 249.8h0.8M84.7 245.1h0.8M82.8 245.7h0.8M73.3 250.5h0.8M67.2 249.9h0.8M62.5 252.5h0.8M69.5 249.9h0.8M89.3 239.3h0.8M68.4 243.9h0.8M74.2 240.1h0.8M74.2 239.2h0.8M76.1 243.8h0.8M66.2 243.2h0.8M75.2 246.4h0.8M71.2 249.3h0.8M60.9 244.7h0.8M63.9 252.4h0.8M85.8 232.8h0.8M71.8 249.0h0.8M86.5 243.1h0.8M63.5 249.7h0.8M76.7 253.6h0.8M67.0 248.9h0.8M71.1 253.0h0.8M65.2 243.4h0.8M83.1 246.4h0.8M83.2 243.5h0.8M79.7 246.6h0.8M74.0 244.9h0.8M85.7 241.2h0.8M74.0 248.3h0.8M89.1 240.3h0.8M91.2 245.6h0.8M85.8 240.4h0.8M61.6 247.4h0.8M65.4 244.2h0.8M72.7 242.2h0.8M87.9 237.4h0.8M86.6 239.4h0.8M67.6 248.5h0.8M82.7 244.4h0.8M63.3 254.0h0.8M63.4 243.3h0.8M74.4 248.0h0.8M89.9 249.5h0.8M61.8 250.6h0.8M72.4 242.7h0.8M73.7 246.8h0.8M84.9 240.5h0.8M70.4 245.6h0.8M87.8 242.9h0.8M74.7 247.8h0.8M61.5 246.5h0.8M69.5 243.7h0.8M79.5 243.0h0.8M61.2 248.8h0.8M88.2 246.3h0.8M65.2 247.3h0.8M75.3 244.6h0.8M87.4 247.4h0.8M92.1 249.6h0.8M65.6 251.0h0.8M91.7 245.4h0.8M89.2 243.5h0.8M78.8 239.0h0.8M87.4 242.3h0.8M72.3 250.2h0.8M68.3 242.6h0.8M87.1 241.7h0.8M78.4 248.4h0.8M79.8 249.5h0.8M81.6 238.2h0.8M81.5 244.4h0.8M78.5 239.4h0.8M67.8 243.2h0.8M91.3 242.6h0.8M70.3 244.2h0.8M91.9 248.6h0.8M79.9 244.9h0.8M78.8 243.0h0.8M62.1 248.0h0.8M74.0 239.2h0.8M81.7 241.9h0.8M72.8 247.6h0.8M85.2 244.3h0.8M69.2 244.5h0.8M66.4 246.0h0.8M60.5 249.2h0.8M72.8 248.3h0.8M91.3 238.9h0.8M62.8 249.9h0.8M91.8 251.8h0.8M62.3 246.1h0.8M78.8 249.3h0.8M79.8 248.5h0.8M76.4 240.3h0.8M74.1 249.4h0.8M87.3 246.7h0.8M69.4 252.0h0.8M62.9 251.6h0.8M86.1 241.2h0.8M70.6 248.4h0.8M88.5 242.2h0.8M71.4 239.8h0.8M69.6 246.6h0.8M79.1 247.8h0.8M67.2 249.7h0.8M85.1 242.4h0.8M72.0 247.5h0.8M68.6 252.0h0.8M89.5 238.1h0.8M83.2 239.2h0.8M84.2 241.4h0.8M76.8 245.8h0.8M69.6 242.0h0.8M85.5 246.4h0.8M85.2 247.2h0.8M84.9 241.6h0.8M87.0 238.3h0.8M64.0 251.8h0.8M76.0 242.3h0.8M91.5 243.4h0.8M88.0 245.1h0.8M70.1 245.4h0.8M65.1 244.4h0.8M92.0 245.7h0.8M73.3 245.4h0.8M64.1 242.5h0.8M67.6 246.9h0.8M79.1 242.7h0.8M66.4 258.2h0.8M72.6 247.3h0.8M83.4 243.3h0.8M88.6 236.7h0.8M90.4 241.1h0.8M91.4 243.1h0.8M81.6 250.0h0.8M80.6 242.9h0.8M66.7 245.0h0.8M90.6 241.0h0.8M85.6 244.8h0.8M83.0 244.8h0.8M62.2 250.0h0.8M77.2 245.0h0.8M87.9 235.6h0.8M81.2 248.4h0.8M65.4 252.2h0.8M79.4 241.0h0.8M79.5 246.7h0.8M69.6 247.6h0.8M68.4 253.0h0.8M84.2 239.3h0.8M67.3 246.8h0.8M81.3 245.3h0.8M90.6 246.0h0.8M87.6 241.6h0.8M77.1 248.5h0.8M90.1 242.4h0.8M75.5 241.8h0.8M67.4 243.1h0.8M64.1 244.6h0.8M86.6 245.0h0.8M78.3 243.5h0.8M63.5 248.8h0.8M67.8 245.9h0.8M64.4 247.2h0.8M74.7 245.9h0.8M88.5 247.5h0.8M70.8 249.9h0.8M64.8 248.5h0.8M78.2 248.7h0.8M61.1 251.9h0.8M84.3 239.6h0.8M78.7 240.9h0.8M91.1 240.5h0.8M68.1 245.6h0.8M74.6 247.7h0.8M87.5 248.1h0.8M68.2 249.7h0.8M77.0 248.3h0.8M76.5 247.0h0.8M61.0 246.9h0.8M86.5 246.5h0.8M83.5 243.2h0.8M85.7 241.8h0.8M78.4 247.5h0.8M62.5 241.1h0.8M83.2 241.3h0.8M59.7 246.7h0.8M64.1 246.9h0.8M76.9 247.7h0.8M73.7 250.4h0.8M78.4 246.7h0.8M66.3 247.3h0.8M67.1 244.3h0.8M69.3 254.2h0.8M80.6 241.3h0.8M83.3 244.0h0.8M81.1 248.1h0.8M90.0 236.2h0.8M68.1 249.1h0.8M67.5 244.5h0.8M63.1 245.6h0.8M85.6 243.9h0.8M69.4 247.4h0.8M83.9 246.1h0.8M79.0 242.7h0.8M84.8 241.3h0.8M76.5 248.1h0.8M84.8 239.7h0.8M79.1 244.4h0.8M69.1 248.6h0.8M87.0 242.0h0.8M66.8 241.4h0.8M79.5 241.9h0.8M66.7 248.3h0.8M68.2 247.2h0.8M76.7 249.4h0.8M72.8 242.1h0.8M77.3 244.2h0.8M82.3 241.3h0.8M69.0 253.5h0.8M88.9 242.6h0.8M65.5 249.1h0.8M75.6 242.9h0.8M89.8 241.1h0.8M78.6 245.0h0.8M76.5 240.1h0.8M79.2 242.9h0.8M87.6 242.7h0.8M86.0 243.0h0.8M70.1 244.6h0.8M59.3 245.6h0.8M72.0 243.9h0.8M90.8 239.4h0.8M80.1 250.1h0.8M77.9 240.1h0.8M73.2 249.1h0.8M58.8 239.9h0.8M86.4 243.1h0.8M65.0 249.4h0.8M62.4 247.7h0.8M79.6 240.3h0.8M85.3 241.5h0.8M72.0 247.2h0.8M74.6 248.1h0.8M64.0 246.7h0.8M76.6 247.5h0.8M91.3 241.8h0.8M87.2 240.9h0.8M88.3 243.8h0.8M76.2 241.5h0.8M79.6 238.2h0.8M61.2 247.7h0.8M90.7 243.5h0.8M76.2 239.8h0.8M88.6 238.4h0.8M78.2 246.1h0.8M81.4 252.5h0.8M62.2 244.6h0.8M73.1 255.0h0.8M77.3 240.2h0.8M67.4 249.1h0.8M61.2 248.3h0.8M79.1 241.1h0.8M61.0 249.9h0.8M83.4 243.4h0.8M74.1 249.7h0.8M69.4 251.8h0.8M67.7 248.4h0.8M75.5 251.7h0.8M91.3 243.7h0.8M89.1 237.6h0.8M67.8 248.2h0.8M71.3 254.6h0.8M67.4 249.8h0.8M69.9 241.4h0.8M68.3 246.8h0.8M78.0 247.7h0.8M86.7 244.5h0.8M66.5 243.8h0.8M68.3 246.6h0.8M64.6 251.0h0.8M84.5 243.0h0.8M78.0 249.3h0.8M79.6 237.6h0.8M63.4 246.1h0.8M67.9 250.5h0.8M87.8 243.1h0.8M90.0 237.7h0.8M80.0 246.6h0.8M63.6 254.0h0.8M85.5 241.1h0.8M85.9 245.5h0.8M83.8 241.2h0.8M89.9 243.0h0.8M72.3 245.8h0.8M87.1 233.4h0.8M90.9 243.3h0.8M73.6 252.3h0.8M82.6 241.0h0.8M76.3 244.3h0.8M78.9 245.5h0.8M60.7 250.4h0.8M70.4 242.3h0.8M79.5 243.9h0.8M89.3 241.3h0.8M77.0 247.8h0.8M67.2 249.6h0.8M71.2 245.7h0.8M70.5 247.7h0.8M76.8 247.9h0.8M73.5 247.7h0.8M64.6 245.4h0.8M72.2 242.9h0.8M67.8 249.5h0.8M78.3 238.8h0.8M64.7 247.1h0.8M79.3 245.5h0.8M69.3 247.2h0.8M84.8 245.9h0.8M87.5 245.9h0.8M72.1 252.0h0.8M87.4 244.7h0.8M78.0 249.8h0.8M90.1 245.7h0.8M78.5 236.9h0.8M84.5 242.4h0.8M71.7 245.1h0.8M83.0 238.5h0.8M65.5 244.4h0.8M71.8 247.7h0.8M79.3 243.3h0.8M68.6 246.1h0.8M85.9 244.3h0.8M82.0 245.5h0.8M62.0 241.6h0.8M60.8 248.8h0.8M81.8 246.0h0.8M86.3 245.3h0.8M79.3 247.1h0.8M65.8 247.4h0.8M66.2 248.7h0.8M80.0 242.9h0.8M83.5 251.6h0.8M88.8 247.3h0.8M90.7 240.7h0.8M72.0 245.9h0.8M69.1 243.1h0.8M86.4 240.3h0.8M79.8 241.4h0.8M60.6 247.9h0.8M67.2 247.1h0.8M68.5 245.6h0.8M64.2 254.9h0.8M83.5 238.4h0.8M83.7 250.1h0.8M66.5 240.1h0.8M68.4 248.7h0.8M80.9 244.6h0.8M60.1 243.4h0.8M70.0 247.3h0.8M84.0 244.6h0.8M68.7 249.1h0.8M68.6 246.2h0.8M81.6 241.4h0.8M63.6 249.3h0.8M87.2 245.7h0.8M69.7 248.1h0.8M79.0 245.7h0.8M64.7 247.3h0.8M70.3 245.0h0.8M85.6 242.5h0.8M79.6 243.9h0.8M85.3 239.6h0.8M69.4 250.3h0.8M74.9 243.8h0.8M68.9 245.9h0.8M86.5 241.1h0.8M71.6 248.5h0.8M86.9 242.9h0.8M88.7 243.9h0.8M83.0 244.5h0.8M92.8 246.4h0.8M64.8 245.3h0.8M88.4 248.3h0.8M83.3 244.8h0.8M65.9 249.0h0.8M74.6 247.7h0.8M81.1 239.8h0.8M77.4 243.3h0.8M84.9 237.6h0.8M79.8 240.1h0.8M63.8 249.3h0.8M66.8 247.9h0.8M61.4 243.0h0.8M77.1 249.3h0.8M81.8 242.1h0.8M73.3 249.9h0.8M65.9 244.3h0.8M79.4 235.8h0.8M68.4 249.2h0.8M70.0 245.6h0.8M79.4 245.3h0.8M84.4 254.3h0.8M80.6 246.6h0.8M67.0 250.1h0.8M81.6 244.6h0.8M73.5 245.2h0.8M89.1 249.2h0.8M84.0 247.7h0.8M78.2 238.6h0.8M82.0 244.8h0.8M76.7 247.7h0.8M85.9 243.4h0.8M76.0 248.0h0.8M71.5 250.4h0.8M80.0 247.0h0.8M63.5 255.3h0.8M72.2 241.7h0.8M65.4 251.8h0.8M64.2 249.8h0.8M64.0 244.6h0.8M79.8 247.4h0.8M84.3 241.3h0.8M79.0 245.6h0.8M87.6 239.5h0.8M80.7 244.3h0.8M87.8 247.2h0.8M82.6 245.8h0.8M65.3 250.7h0.8M78.0 244.3h0.8M79.8 245.8h0.8M61.5 251.1h0.8M79.3 251.2h0.8M69.5 243.7h0.8M83.9 242.9h0.8M75.1 250.3h0.8M90.1 243.9h0.8M90.6 250.1h0.8M84.5 240.6h0.8M61.0 244.4h0.8M90.9 242.8h0.8M87.5 247.7h0.8M90.0 246.0h0.8M59.8 244.6h0.8M73.8 244.9h0.8M66.8 245.0h0.8M75.2 246.7h0.8M91.2 240.8h0.8M80.8 242.9h0.8M78.2 239.6h0.8M73.7 242.2h0.8M71.2 252.0h0.8M88.9 243.5h0.8M86.8 248.7h0.8M79.8 245.7h0.8M69.7 242.7h0.8M90.2 247.5h0.8M85.4 251.2h0.8M65.7 247.2h0.8M63.2 247.7h0.8M84.0 244.4h0.8M78.2 246.1h0.8M90.5 236.5h0.8M64.9 250.2h0.8M65.2 249.0h0.8M62.5 248.5h0.8M64.3 250.2h0.8M60.3 247.8h0.8M59.0 242.8h0.8M78.8 246.1h0.8M83.1 244.2h0.8M74.8 251.3h0.8M66.2 251.9h0.8M89.9 242.2h0.8M89.4 244.3h0.8M64.0 247.0h0.8M85.5 244.8h0.8M88.6 242.4h0.8M66.7 241.1h0.8M77.3 242.9h0.8M74.3 252.2h0.8M78.7 246.0h0.8M69.1 251.0h0.8M63.5 248.7h0.8M91.3 243.3h0.8M83.0 244.3h0.8M89.8 240.8h0.8M69.6 248.0h0.8M83.0 243.3h0.8M90.0 245.1h0.8M67.7 245.1h0.8M66.5 248.1h0.8M62.8 242.2h0.8M60.2 246.6h0.8M84.0 235.9h0.8M88.3 238.7h0.8M67.6 249.8h0.8M79.6 247.5h0.8M90.1 243.8h0.8M86.7 238.3h0.8M64.0 249.4h0.8M73.8 242.5h0.8M90.6 242.3h0.8M68.0 247.3h0.8M63.0 244.5h0.8M75.3 244.4h0.8M69.8 249.3h0.8M60.0 241.8h0.8M80.0 246.8h0.8M78.3 245.4h0.8M71.3 242.3h0.8M89.9 243.3h0.8M87.9 241.7h0.8M70.0 247.1h0.8M63.1 252.5h0.8M85.7 248.5h0.8M71.1 247.6h0.8M59.8 245.6h0.8M84.4 237.5h0.8M68.5 241.9h0.8M61.7 251.0h0.8M79.4 241.7h0.8M85.0 246.2h0.8M65.6 247.0h0.8M75.9 242.4h0.8M88.2 248.7h0.8M76.1 246.9h0.8M86.5 239.7h0.8M70.5 255.8h0.8M72.6 245.5h0.8M87.1 249.5h0.8M85.6 249.5h0.8M83.5 240.9h0.8M91.4 243.3h0.8M67.4 249.0h0.8M86.4 238.4h0.8M75.3 248.0h0.8M68.4 250.7h0.8M91.2 243.0h0.8M72.5 243.3h0.8M66.4 251.7h0.8M78.5 246.3h0.8M63.6 247.3h0.8M83.5 247.1h0.8M64.7 250.8h0.8M73.8 239.6h0.8M74.0 245.6h0.8M69.5 249.5h0.8M87.3 242.6h0.8M83.7 237.2h0.8M80.7 243.0h0.8M82.6 245.4h0.8M84.4 246.8h0.8M83.1 247.5h0.8M60.3 249.6h0.8M62.4 244.7h0.8M64.1 253.7h0.8M89.7 242.4h0.8M90.4 243.6h0.8M76.5 244.2h0.8M89.1 243.0h0.8M65.7 241.9h0.8M61.5 248.6h0.8M78.0 244.4h0.8M76.5 240.5h0.8M89.1 240.8h0.8M77.4 250.4h0.8M77.9 241.7h0.8M75.8 249.6h0.8M62.6 253.3h0.8M61.0 249.6h0.8M67.8 245.9h0.8M87.6 242.9h0.8M77.9 241.2h0.8M76.6 248.7h0.8M60.4 244.8h0.8M80.5 243.7h0.8M71.9 244.6h0.8M67.4 246.5h0.8M67.9 250.1h0.8M82.6 244.2h0.8M65.5 245.2h0.8M65.7 249.9h0.8M92.4 248.8h0.8M78.7 242.0h0.8M80.0 238.8h0.8M90.4 243.5h0.8M74.2 247.2h0.8M84.5 239.8h0.8M69.0 244.8h0.8M73.2 245.1h0.8M89.1 238.1h0.8M72.1 239.8h0.8M88.0 251.0h0.8M88.6 236.5h0.8M75.1 247.2h0.8M63.2 246.9h0.8M78.8 245.9h0.8M87.0 240.5h0.8M77.9 242.1h0.8M78.6 241.0h0.8M63.7 253.0h0.8M67.6 238.3h0.8M75.9 244.2h0.8M76.8 245.2h0.8M72.7 243.6h0.8M73.6 252.2h0.8M77.3 249.1h0.8M73.1 241.4h0.8M77.8 247.8h0.8M82.1 239.7h0.8M73.4 246.4h0.8M76.2 253.4h0.8M86.6 238.6h0.8M79.0 245.6h0.8M84.0 238.1h0.8M84.9 249.5h0.8M77.5 255.1h0.8M78.8 241.1h0.8M77.6 241.8h0.8M75.3 242.8h0.8M68.8 254.2h0.8M65.6 249.4h0.8M77.6 239.9h0.8M72.2 252.0h0.8M82.2 241.4h0.8M79.4 245.8h0.8M78.7 247.3h0.8M81.8 245.4h0.8M80.8 248.8h0.8M80.8 246.3h0.8M87.6 246.6h0.8M74.6 244.1h0.8M91.1 245.3h0.8M78.4 249.7h0.8M83.0 242.3h0.8M62.3 242.3h0.8M83.0 237.8h0.8M63.6 246.8h0.8M65.0 247.3h0.8M82.4 240.9h0.8M84.7 241.4h0.8M85.8 242.5h0.8M81.6 250.3h0.8M59.0 243.9h0.8M88.4 245.1h0.8M83.0 246.0h0.8M71.1 243.4h0.8M89.5 244.8h0.8M77.3 241.7h0.8M84.0 237.8h0.8M82.4 242.3h0.8M71.8 253.4h0.8M65.5 245.6h0.8M81.3 246.0h0.8M88.0 240.2h0.8M67.9 243.3h0.8M67.4 250.0h0.8" stroke="#333" stroke-width="0.8" stroke-opacity="0.4" fill="none"/><path d="M64.0 248.2h0.8M58.8 249.1h0.8M60.0 249.0h0.8M56.4 250.1h0.8M64.7 246.5h0.8M61.2 245.9h0.8M62.7 250.7h0.8M63.2 252.8h0.8M62.3 248.3h0.8M65.9 246.0h0.8M60.8 249.1h0.8M61.0 248.6h0.8M63.6 249.3h0.8M63.6 249.4h0.8M61.1 247.7h0.8M64.9 246.7h0.8M63.6 247.9h0.8M60.4 245.3h0.8M58.9 246.8h0.8M61.5 248.6h0.8M61.4 246.8h0.8M59.0 250.2h0.8M62.3 251.9h0.8M60.1 253.0h0.8M65.7 249.5h0.8M67.0 250.0h0.8M61.5 244.0h0.8M61.2 248.5h0.8M56.2 246.8h0.8M66.7 247.6h0.8M60.5 249.0h0.8M60.4 249.9h0.8M61.6 249.4h0.8M59.1 249.5h0.8M63.6 252.9h0.8M59.4 245.2h0.8M66.1 250.3h0.8M63.3 243.4h0.8M60.7 247.6h0.8M67.6 248.8h0.8M62.9 248.2h0.8M62.1 253.4h0.8M59.6 251.1h0.8M60.7 251.1h0.8M62.2 248.1h0.8M62.6 251.4h0.8M61.5 245.2h0.8M64.6 249.7h0.8M63.6 251.9h0.8M62.3 250.3h0.8M64.0 247.8h0.8M64.0 247.9h0.8M65.0 249.2h0.8M62.7 251.3h0.8M55.1 250.4h0.8M64.7 247.2h0.8M64.8 244.0h0.8M62.3 246.0h0.8M62.8 247.3h0.8M59.0 248.9h0.8M57.7 251.3h0.8M63.7 247.6h0.8M63.3 247.7h0.8M63.5 250.4h0.8M68.3 246.4h0.8M62.5 247.8h0.8M62.6 249.6h0.8M64.6 248.0h0.8M63.8 251.2h0.8M65.7 249.6h0.8M66.3 246.1h0.8M61.0 251.6h0.8M57.8 245.9h0.8M60.9 253.9h0.8M66.5 248.5h0.8M61.9 249.8h0.8M59.3 249.6h0.8M66.5 249.9h0.8M61.7 243.0h0.8M62.2 246.7h0.8M63.0 247.3h0.8M56.5 250.5h0.8M63.6 249.7h0.8M61.9 250.9h0.8M58.0 247.6h0.8M63.0 247.8h0.8M65.5 249.4h0.8M59.3 249.7h0.8M59.0 249.3h0.8M61.7 248.9h0.8M67.7 248.0h0.8M64.7 245.3h0.8M57.9 248.6h0.8M62.9 246.1h0.8M63.7 246.3h0.8M59.6 249.7h0.8M61.7 249.8h0.8M59.7 250.3h0.8M60.6 247.3h0.8M64.8 246.6h0.8M60.1 251.2h0.8M57.1 250.9h0.8M56.7 245.4h0.8M60.8 248.6h0.8M56.3 248.4h0.8M64.2 244.1h0.8M64.0 251.7h0.8M57.1 246.9h0.8M63.9 249.1h0.8M59.3 248.6h0.8M66.4 246.1h0.8M62.7 246.1h0.8M58.9 245.6h0.8M60.9 250.7h0.8M59.4 252.6h0.8M59.3 245.7h0.8M61.6 250.7h0.8M61.5 246.6h0.8M65.2 250.7h0.8M62.5 250.1h0.8M65.1 249.0h0.8M65.4 252.6h0.8M65.2 244.3h0.8M65.0 248.1h0.8M61.3 246.1h0.8M59.4 250.4h0.8M58.1 250.7h0.8M60.5 248.9h0.8M60.9 249.3h0.8M59.3 250.9h0.8M67.2 248.6h0.8M63.9 247.9h0.8M61.4 248.3h0.8M63.9 250.2h0.8M62.3 248.5h0.8M60.2 250.7h0.8M60.2 244.8h0.8M59.0 250.2h0.8M60.5 249.3h0.8M60.8 250.8h0.8M62.9 245.7h0.8M62.6 248.3h0.8M64.0 249.8h0.8M59.6 252.7h0.8M65.3 248.3h0.8M63.7 246.6h0.8M63.4 245.8h0.8M58.0 249.3h0.8M64.9 251.1h0.8M64.6 245.5h0.8M61.2 250.9h0.8M62.9 248.9h0.8M60.9 244.3h0.8M64.3 249.7h0.8M63.2 244.4h0.8M59.3 245.4h0.8M60.4 249.8h0.8M55.8 251.3h0.8M62.5 251.1h0.8M61.4 251.9h0.8M57.9 242.8h0.8M59.7 246.2h0.8M66.0 249.9h0.8M66.5 245.0h0.8M62.8 248.2h0.8M65.0 252.2h0.8M64.7 245.3h0.8M62.2 253.0h0.8M59.7 254.2h0.8M60.9 246.0h0.8M62.3 247.0h0.8M62.0 248.5h0.8M62.9 249.4h0.8M65.2 247.3h0.8M61.2 248.8h0.8M63.8 250.1h0.8M56.5 248.2h0.8M64.7 248.6h0.8M64.7 251.7h0.8M60.2 247.7h0.8M63.4 245.4h0.8M65.1 249.0h0.8M66.0 252.3h0.8M57.9 246.2h0.8M63.2 249.7h0.8M65.8 249.7h0.8M59.7 245.1h0.8M58.7 248.0h0.8M67.9 251.1h0.8M58.3 245.7h0.8M61.6 252.1h0.8M66.1 248.0h0.8M62.2 245.4h0.8M63.0 248.6h0.8M57.6 251.0h0.8M61.8 247.1h0.8M62.3 247.3h0.8M63.3 245.0h0.8M60.6 249.6h0.8M62.1 253.5h0.8M67.3 250.5h0.8M57.8 245.7h0.8M57.7 250.1h0.8M65.3 250.5h0.8M62.5 249.0h0.8M66.4 248.1h0.8M61.5 248.8h0.8M60.5 247.9h0.8M56.9 252.4h0.8M62.0 244.9h0.8M60.5 244.6h0.8M66.6 248.5h0.8M61.2 245.7h0.8M60.4 250.0h0.8M63.7 250.6h0.8M62.1 251.4h0.8M60.5 249.7h0.8M60.9 243.6h0.8M60.3 249.4h0.8M57.4 246.9h0.8M63.0 250.3h0.8M60.5 247.4h0.8M60.2 252.9h0.8M67.4 250.3h0.8M64.4 248.4h0.8M59.9 246.2h0.8M58.8 247.5h0.8M67.8 248.2h0.8M60.7 253.9h0.8M58.1 246.2h0.8M61.0 253.2h0.8M61.7 249.2h0.8M56.6 249.6h0.8M62.5 246.7h0.8M57.7 248.3h0.8M64.0 249.0h0.8M62.1 245.5h0.8M64.5 250.6h0.8M64.3 244.9h0.8M65.4 248.4h0.8M58.9 247.7h0.8M59.3 246.7h0.8M61.4 247.8h0.8M65.4 249.0h0.8M66.1 248.1h0.8M57.8 247.7h0.8M61.1 248.0h0.8M59.4 250.7h0.8M62.6 248.0h0.8M59.9 251.4h0.8M58.2 249.2h0.8M60.3 249.6h0.8M58.8 246.5h0.8M65.5 249.6h0.8M58.9 243.6h0.8M65.9 245.9h0.8M62.2 245.4h0.8M58.8 245.3h0.8M63.5 243.2h0.8M68.8 250.3h0.8M64.7 251.2h0.8M64.0 250.9h0.8M67.0 251.2h0.8M65.7 247.6h0.8M59.9 248.6h0.8M62.9 244.4h0.8M63.5 247.1h0.8M64.2 247.3h0.8M56.0 247.7h0.8M56.8 244.3h0.8M67.4 247.3h0.8M63.8 250.7h0.8M64.1 251.6h0.8M66.5 248.7h0.8M62.9 251.8h0.8M61.9 251.3h0.8M62.2 246.5h0.8M69.0 249.7h0.8M67.4 246.9h0.8M65.1 252.0h0.8M62.5 248.0h0.8M62.9 246.5h0.8M60.2 249.8h0.8M60.3 253.8h0.8M66.7 247.3h0.8M60.8 248.5h0.8M63.8 249.2h0.8M58.6 246.2h0.8M61.3 249.6h0.8M60.4 245.8h0.8M59.6 250.6h0.8M59.7 248.4h0.8M60.8 252.1h0.8M63.1 250.8h0.8M68.6 247.8h0.8M60.9 244.8h0.8M62.6 251.3h0.8M57.2 245.9h0.8M60.9 247.8h0.8M64.8 246.8h0.8" stroke="#111" stroke-width="0.8" stroke-opacity="0.5" fill="none"/><path d="M67.4 236.8h0.8M62.0 238.3h0.8M61.0 220.5h0.8M65.9 234.6h0.8M68.7 247.8h0.8M66.9 229.4h0.8M69.4 228.1h0.8M69.0 222.1h0.8M65.7 231.1h0.8M58.7 229.8h0.8M58.3 235.2h0.8M59.0 245.1h0.8M62.6 238.9h0.8M66.1 229.0h0.8M65.9 239.0h0.8M61.2 214.9h0.8M62.1 237.5h0.8M65.2 222.0h0.8M66.0 228.2h0.8M56.4 228.6h0.8M65.4 232.7h0.8M66.7 239.0h0.8M64.4 232.2h0.8M69.4 238.2h0.8M71.1 223.6h0.8M60.3 226.8h0.8M66.8 218.6h0.8M62.4 238.1h0.8M66.6 238.2h0.8M63.6 223.6h0.8M62.1 237.9h0.8M63.1 226.3h0.8M66.6 236.7h0.8M62.4 234.6h0.8M63.9 238.7h0.8M59.6 222.6h0.8M59.2 224.5h0.8M62.5 226.8h0.8M63.6 230.9h0.8M64.8 231.1h0.8M59.3 243.1h0.8M62.8 235.1h0.8M71.2 229.8h0.8M59.1 225.6h0.8M65.4 223.2h0.8M65.5 228.5h0.8M62.5 228.3h0.8M66.8 226.6h0.8M64.8 227.3h0.8M58.9 230.5h0.8M58.6 225.9h0.8M60.7 216.6h0.8M62.2 223.7h0.8M64.6 239.1h0.8M69.3 233.9h0.8M68.5 231.0h0.8M65.1 241.9h0.8M61.1 231.2h0.8M60.7 224.8h0.8M57.5 244.8h0.8M59.6 233.9h0.8M65.3 223.0h0.8M57.4 228.9h0.8M67.0 231.3h0.8M60.8 228.0h0.8M65.0 222.6h0.8M55.8 235.7h0.8M60.7 221.4h0.8M65.5 229.7h0.8M60.0 223.0h0.8M57.0 231.4h0.8M67.1 229.9h0.8M64.8 232.8h0.8M59.4 219.9h0.8M60.0 226.7h0.8M64.5 246.0h0.8M65.9 236.1h0.8M62.1 229.1h0.8M66.0 239.0h0.8M69.0 232.5h0.8M60.6 219.9h0.8M65.0 226.7h0.8M66.8 239.8h0.8M65.3 234.1h0.8M61.8 237.8h0.8M67.3 227.9h0.8M60.2 216.1h0.8M66.5 242.8h0.8M69.0 246.5h0.8M65.7 227.3h0.8M65.2 246.3h0.8M63.4 232.0h0.8M63.9 234.0h0.8M57.0 236.8h0.8M66.2 240.4h0.8M66.3 227.2h0.8M64.7 235.9h0.8M65.2 224.2h0.8M58.4 225.8h0.8M64.2 246.0h0.8M62.6 237.8h0.8M61.2 240.7h0.8M65.5 234.7h0.8M58.7 234.6h0.8M64.5 247.8h0.8M62.4 241.1h0.8M63.6 234.6h0.8M62.5 224.7h0.8M60.8 226.8h0.8M63.3 244.1h0.8M56.5 237.6h0.8M60.8 216.7h0.8M59.8 232.7h0.8M60.3 224.2h0.8M63.0 232.0h0.8M64.0 239.2h0.8M60.1 242.8h0.8M61.8 229.1h0.8M63.6 232.0h0.8M61.1 244.7h0.8M60.9 218.7h0.8M60.7 231.5h0.8M69.3 220.8h0.8M60.7 240.2h0.8M66.4 235.6h0.8M64.8 231.8h0.8M67.1 236.9h0.8M59.9 224.7h0.8M64.6 229.6h0.8M69.4 220.3h0.8M57.7 246.1h0.8M63.9 233.0h0.8M66.3 240.4h0.8M57.1 240.6h0.8M60.5 233.4h0.8M60.0 233.3h0.8M56.9 237.9h0.8M69.0 218.0h0.8M67.6 221.8h0.8M65.4 233.0h0.8M63.4 246.9h0.8M60.7 240.8h0.8M65.9 227.9h0.8M63.5 220.2h0.8M62.2 238.6h0.8M65.8 225.3h0.8M62.4 230.2h0.8M61.0 240.2h0.8M66.3 242.5h0.8M65.1 236.1h0.8M70.2 230.4h0.8M63.9 228.9h0.8M64.0 230.7h0.8M63.7 229.0h0.8M68.1 231.1h0.8M63.0 215.0h0.8M67.5 229.9h0.8M59.7 232.2h0.8M63.8 227.4h0.8M64.8 233.9h0.8M62.3 215.6h0.8M60.6 234.1h0.8M61.7 230.9h0.8M63.2 235.1h0.8M66.9 227.7h0.8M65.3 229.1h0.8M59.7 237.6h0.8M65.2 230.1h0.8M70.8 229.3h0.8M65.9 227.6h0.8M56.5 222.7h0.8M62.5 218.4h0.8M60.3 233.8h0.8M61.4 221.9h0.8M68.8 243.0h0.8M66.7 235.1h0.8M61.9 226.5h0.8M65.8 224.7h0.8M61.2 225.9h0.8M63.9 232.3h0.8M60.2 230.8h0.8M67.3 217.1h0.8M67.5 235.5h0.8M65.4 232.0h0.8M59.4 228.6h0.8M63.0 237.9h0.8M61.8 238.0h0.8M68.1 217.3h0.8M70.0 235.6h0.8M68.5 213.6h0.8M65.3 226.9h0.8M67.9 236.7h0.8M63.9 245.5h0.8M60.7 232.8h0.8M63.3 235.4h0.8M61.0 233.4h0.8M56.6 231.2h0.8M61.9 234.9h0.8M65.7 223.8h0.8M62.5 225.2h0.8M61.5 233.7h0.8M59.0 245.2h0.8M66.3 230.2h0.8M62.0 225.2h0.8M61.3 234.4h0.8M61.4 224.3h0.8M60.3 228.3h0.8M62.8 224.3h0.8M61.8 237.6h0.8M61.7 223.7h0.8M64.4 227.8h0.8M69.2 226.5h0.8M66.3 223.6h0.8M69.9 220.0h0.8M69.1 220.2h0.8M59.1 239.5h0.8M63.1 220.2h0.8M67.8 238.0h0.8M67.5 229.8h0.8M64.3 238.5h0.8M60.7 240.7h0.8M59.5 234.7h0.8M63.5 217.7h0.8M65.0 233.6h0.8M67.9 225.3h0.8M69.3 242.9h0.8M65.0 220.3h0.8M59.4 231.4h0.8M59.7 224.1h0.8M70.3 226.7h0.8M61.0 234.4h0.8M59.6 241.6h0.8M60.8 227.2h0.8M58.5 234.4h0.8M61.5 232.7h0.8M62.7 239.4h0.8M67.9 223.4h0.8M63.7 221.9h0.8M64.5 233.3h0.8M62.1 222.7h0.8M59.5 229.2h0.8M65.6 219.5h0.8M69.3 225.6h0.8M66.8 214.3h0.8M57.5 239.1h0.8M61.7 233.0h0.8M63.2 230.8h0.8M65.6 231.1h0.8M69.0 236.1h0.8M58.6 237.4h0.8M60.8 227.7h0.8M59.4 233.0h0.8M61.5 233.4h0.8M62.7 221.3h0.8M66.1 230.7h0.8M64.7 226.3h0.8M58.7 235.1h0.8M61.7 226.5h0.8M62.7 230.2h0.8M63.2 220.0h0.8M61.5 221.5h0.8M60.0 226.6h0.8M61.2 226.6h0.8M69.2 236.1h0.8M64.0 220.6h0.8M59.3 227.5h0.8M55.6 235.8h0.8M63.8 231.4h0.8M67.2 233.2h0.8M58.6 234.5h0.8M63.2 233.5h0.8M62.5 240.4h0.8M64.1 243.2h0.8M61.5 220.3h0.8M63.4 226.3h0.8M64.1 223.5h0.8M68.6 227.1h0.8M58.7 223.7h0.8M64.1 229.5h0.8M56.7 235.6h0.8M55.7 236.7h0.8M58.8 225.7h0.8M65.6 227.8h0.8M60.1 226.3h0.8M70.1 215.6h0.8M67.4 218.0h0.8M56.4 230.9h0.8M63.9 240.1h0.8M65.0 230.0h0.8M63.0 234.0h0.8M63.8 221.3h0.8M69.9 231.2h0.8M61.0 242.5h0.8M57.0 221.1h0.8M61.6 226.1h0.8M63.2 238.0h0.8M62.1 237.1h0.8M61.5 235.1h0.8M60.1 231.7h0.8M66.9 231.1h0.8M62.1 231.9h0.8M57.9 234.2h0.8M61.4 221.1h0.8M58.3 234.3h0.8M55.2 232.1h0.8M67.2 232.6h0.8M57.2 238.4h0.8M61.5 229.4h0.8M70.1 226.7h0.8M59.5 228.9h0.8M66.0 225.3h0.8M65.4 225.3h0.8M58.6 234.9h0.8M61.2 242.7h0.8M55.7 226.7h0.8M62.8 223.7h0.8M65.8 240.0h0.8M64.6 235.9h0.8M60.1 237.4h0.8M58.7 228.3h0.8M59.0 225.3h0.8M65.4 229.7h0.8M62.3 245.8h0.8M61.2 232.6h0.8M61.8 229.9h0.8M69.0 232.1h0.8M57.0 236.4h0.8M64.1 234.4h0.8M61.3 225.0h0.8M64.4 225.4h0.8M65.1 228.7h0.8M65.5 222.1h0.8M65.1 220.1h0.8M65.8 218.9h0.8M63.3 243.4h0.8M66.3 220.3h0.8M61.5 235.2h0.8M63.8 224.8h0.8M61.6 237.0h0.8M67.7 231.2h0.8M56.5 241.3h0.8M56.7 238.2h0.8M66.7 245.0h0.8M62.9 237.7h0.8M65.3 227.6h0.8M64.7 229.4h0.8M70.5 237.4h0.8M66.2 221.6h0.8M57.0 215.9h0.8M68.9 225.7h0.8M63.0 233.2h0.8M66.8 237.4h0.8M61.9 242.8h0.8M55.1 228.2h0.8M67.7 230.2h0.8M66.6 231.2h0.8M63.3 240.6h0.8M66.4 223.9h0.8M59.3 230.4h0.8M66.8 236.1h0.8M64.5 218.2h0.8M68.0 234.9h0.8M62.9 233.9h0.8M64.4 224.8h0.8M71.0 239.2h0.8M59.2 234.2h0.8M60.2 225.9h0.8M62.6 245.1h0.8M62.7 230.4h0.8M58.2 226.0h0.8M60.4 228.7h0.8M69.1 226.1h0.8M62.7 226.1h0.8M63.6 235.7h0.8M66.5 237.4h0.8M65.6 241.7h0.8M56.9 230.8h0.8M61.8 238.7h0.8M62.0 219.7h0.8M64.5 229.1h0.8M60.1 228.8h0.8M55.8 235.9h0.8M66.1 223.0h0.8M68.4 235.0h0.8M62.2 216.6h0.8M65.6 220.8h0.8M62.3 237.2h0.8M63.1 237.4h0.8M62.8 234.7h0.8M57.8 227.3h0.8M62.3 223.8h0.8M62.2 227.5h0.8M59.6 223.8h0.8M60.0 234.4h0.8M64.3 246.5h0.8M66.2 223.2h0.8M58.2 230.4h0.8M68.4 228.8h0.8M70.2 234.9h0.8M61.9 232.1h0.8M63.3 221.6h0.8M63.7 233.3h0.8M66.4 232.5h0.8M60.2 216.0h0.8M64.4 235.6h0.8M62.3 244.1h0.8M60.9 222.5h0.8M60.9 226.6h0.8M67.0 239.7h0.8M62.1 231.4h0.8M62.6 223.8h0.8M60.7 224.4h0.8M62.9 221.4h0.8M67.8 224.8h0.8M63.4 231.8h0.8M61.6 228.6h0.8M60.7 232.1h0.8M65.9 228.1h0.8M55.3 237.2h0.8M64.1 239.6h0.8M65.9 232.4h0.8M65.9 226.2h0.8M59.5 244.9h0.8M61.9 239.9h0.8M60.0 234.5h0.8M63.2 237.1h0.8M59.1 233.5h0.8M62.5 223.7h0.8M62.2 237.3h0.8M61.6 247.6h0.8M70.5 232.0h0.8M68.8 233.6h0.8M58.3 229.2h0.8M65.4 227.8h0.8M60.9 247.9h0.8M57.4 235.1h0.8M57.8 230.1h0.8M59.8 216.5h0.8M61.9 230.9h0.8M64.5 245.8h0.8M68.0 228.2h0.8M59.7 232.1h0.8M59.2 225.1h0.8M61.5 232.3h0.8M61.4 242.6h0.8M58.9 240.7h0.8M60.3 245.6h0.8M61.4 227.1h0.8M66.5 227.1h0.8M66.6 227.5h0.8M71.2 229.6h0.8M55.9 227.7h0.8M62.1 217.9h0.8M56.7 245.1h0.8M64.2 217.9h0.8M62.9 224.0h0.8M61.8 235.9h0.8M67.4 222.7h0.8M66.4 234.6h0.8M65.6 234.4h0.8M60.4 220.9h0.8M64.4 238.4h0.8M58.9 238.1h0.8M67.4 231.0h0.8M58.7 221.4h0.8M58.9 222.6h0.8M61.3 237.1h0.8M63.6 223.4h0.8M59.9 221.3h0.8M64.7 228.9h0.8M60.9 227.3h0.8M61.4 226.6h0.8M59.8 227.3h0.8M65.4 242.4h0.8M59.4 238.6h0.8M61.9 227.1h0.8M66.2 222.3h0.8M62.3 231.4h0.8M66.6 233.8h0.8M58.1 223.5h0.8M59.9 236.6h0.8M61.4 217.0h0.8M68.2 219.2h0.8M60.9 241.3h0.8M58.6 230.1h0.8M56.3 226.2h0.8M65.7 230.8h0.8M67.9 213.9h0.8M63.7 229.4h0.8M69.8 236.5h0.8M66.6 229.4h0.8M58.7 238.3h0.8M58.1 237.6h0.8M64.8 244.8h0.8M64.4 227.5h0.8M68.7 215.4h0.8M62.6 214.1h0.8M58.3 247.9h0.8M60.5 227.9h0.8M66.2 229.7h0.8M63.1 238.9h0.8M63.9 241.9h0.8M65.4 238.4h0.8M61.6 232.2h0.8M64.3 242.0h0.8M68.3 219.7h0.8M65.4 231.3h0.8M56.6 240.4h0.8M60.0 236.9h0.8M61.6 235.1h0.8M61.7 234.3h0.8M61.7 239.8h0.8M67.8 227.7h0.8M68.5 229.2h0.8M67.3 219.3h0.8M65.1 222.9h0.8M70.9 230.5h0.8M70.0 219.6h0.8M62.2 222.0h0.8M69.9 228.4h0.8M65.1 222.1h0.8M69.8 225.4h0.8M67.0 233.0h0.8M67.6 233.0h0.8M67.7 241.9h0.8M65.7 228.2h0.8M63.4 226.3h0.8M63.5 227.4h0.8M64.0 217.8h0.8M67.7 228.4h0.8M62.5 235.6h0.8M61.6 239.9h0.8M59.9 236.8h0.8M65.7 233.9h0.8M60.0 237.4h0.8M62.7 238.6h0.8M59.8 245.5h0.8M64.5 220.5h0.8M59.7 225.0h0.8M65.1 244.6h0.8M63.7 233.6h0.8M59.2 223.9h0.8M63.9 235.6h0.8M59.4 216.3h0.8M60.2 234.3h0.8M60.5 231.0h0.8M57.7 234.4h0.8M61.2 234.7h0.8M70.7 235.0h0.8M59.5 223.6h0.8M59.9 229.1h0.8M66.5 220.8h0.8M61.1 228.4h0.8M66.8 239.8h0.8M65.3 235.9h0.8M67.6 234.4h0.8M67.5 227.4h0.8M66.0 220.9h0.8M59.4 228.2h0.8M59.1 227.9h0.8M56.2 230.1h0.8M62.0 222.4h0.8M65.0 216.5h0.8M62.0 233.5h0.8M58.8 222.2h0.8M69.1 227.8h0.8M61.2 226.6h0.8M60.6 230.8h0.8M61.3 235.5h0.8M66.1 229.1h0.8M63.6 218.1h0.8M62.1 225.0h0.8M62.6 224.8h0.8M59.9 223.7h0.8M62.5 222.8h0.8M64.8 225.2h0.8M61.0 225.1h0.8M55.9 236.5h0.8M58.6 243.6h0.8M63.8 235.6h0.8M65.3 233.6h0.8M62.8 230.5h0.8M61.6 237.7h0.8M63.1 221.4h0.8M61.5 217.2h0.8M57.8 230.6h0.8M61.9 229.3h0.8M58.8 226.6h0.8M64.8 233.4h0.8M60.9 225.3h0.8M60.7 228.8h0.8M68.9 221.5h0.8M64.6 235.3h0.8M64.4 242.0h0.8M69.7 219.2h0.8M65.3 247.6h0.8M62.0 224.5h0.8M64.7 234.3h0.8M65.7 244.1h0.8M58.2 219.2h0.8M67.0 229.9h0.8M67.4 236.1h0.8M63.2 223.8h0.8M62.9 244.2h0.8M63.6 226.6h0.8M64.0 215.3h0.8M64.1 218.8h0.8M68.9 230.6h0.8M60.2 231.1h0.8M65.3 232.0h0.8M57.3 241.6h0.8M59.0 238.3h0.8M64.0 220.5h0.8M66.1 232.1h0.8M56.5 227.8h0.8M65.6 243.9h0.8M66.2 221.6h0.8M57.0 235.5h0.8M62.1 232.3h0.8M60.0 232.7h0.8M62.7 231.3h0.8M66.7 223.4h0.8M68.0 231.1h0.8M64.4 225.6h0.8M64.1 231.9h0.8M61.1 246.1h0.8M64.7 240.4h0.8M71.1 234.7h0.8M59.5 224.8h0.8M63.4 241.3h0.8M63.9 237.3h0.8M65.2 241.4h0.8M56.6 225.1h0.8M60.9 244.7h0.8M62.0 229.5h0.8M65.4 221.3h0.8M66.3 230.4h0.8M58.8 225.0h0.8M64.0 230.1h0.8M66.4 234.2h0.8M64.8 237.8h0.8M70.0 220.5h0.8M67.1 245.0h0.8M64.9 229.8h0.8M58.1 215.6h0.8M64.8 232.5h0.8M64.7 234.1h0.8M58.1 223.5h0.8M59.8 218.5h0.8M61.2 236.8h0.8M60.9 228.1h0.8M63.1 215.7h0.8M66.2 231.2h0.8M62.3 228.9h0.8M62.7 235.4h0.8M63.1 229.8h0.8M65.7 241.9h0.8M59.7 246.2h0.8M61.4 224.6h0.8M67.4 240.5h0.8M69.9 243.1h0.8M63.2 233.5h0.8M65.1 228.1h0.8M68.0 242.5h0.8M67.2 228.8h0.8M61.3 235.1h0.8M62.5 232.2h0.8M61.0 229.1h0.8M62.7 236.8h0.8M63.3 228.8h0.8M60.6 224.0h0.8M61.9 236.7h0.8M63.4 213.5h0.8M61.9 231.4h0.8M62.4 226.6h0.8M62.2 243.0h0.8M63.4 225.4h0.8M60.8 230.2h0.8M61.0 232.6h0.8M56.1 229.1h0.8M60.1 239.8h0.8M70.0 221.2h0.8M57.8 224.5h0.8M61.2 238.3h0.8M64.5 213.5h0.8M60.9 236.8h0.8M62.2 230.3h0.8M66.0 230.9h0.8M63.3 243.2h0.8M58.9 234.1h0.8M65.5 241.7h0.8M58.3 233.2h0.8M61.7 233.8h0.8M61.7 235.3h0.8M61.6 220.7h0.8M58.5 231.1h0.8M63.6 216.5h0.8M69.1 222.3h0.8M57.2 225.6h0.8M65.3 233.5h0.8M65.0 225.4h0.8M66.5 221.5h0.8M57.3 216.7h0.8M62.2 213.7h0.8M64.4 227.0h0.8M59.7 236.8h0.8M65.8 222.0h0.8M65.7 233.4h0.8M62.4 232.8h0.8M59.9 229.5h0.8M66.5 235.6h0.8M67.2 227.7h0.8M61.6 235.4h0.8M62.4 238.6h0.8M62.1 227.9h0.8M67.0 226.3h0.8M62.6 221.5h0.8M67.9 219.9h0.8M59.8 232.8h0.8M66.9 235.9h0.8M56.9 232.4h0.8M60.6 226.4h0.8M65.6 230.9h0.8M62.5 230.8h0.8M58.5 234.7h0.8M63.4 224.9h0.8M66.3 227.2h0.8M56.8 231.2h0.8M61.8 229.2h0.8M63.4 218.5h0.8M61.0 235.0h0.8M66.8 229.6h0.8M66.7 238.7h0.8M62.5 225.2h0.8M63.1 235.2h0.8M66.6 231.0h0.8M62.8 233.7h0.8M56.8 234.5h0.8M57.6 231.5h0.8M55.3 236.2h0.8M62.2 230.4h0.8M64.7 241.2h0.8M64.3 230.7h0.8M61.9 220.4h0.8M68.9 225.6h0.8M59.2 223.5h0.8M59.5 234.0h0.8M60.5 241.4h0.8M57.7 224.6h0.8M62.2 222.5h0.8M65.0 236.9h0.8M58.4 227.5h0.8M63.7 238.8h0.8M65.0 236.7h0.8M64.7 226.4h0.8M58.1 229.0h0.8M67.5 214.4h0.8M59.0 225.9h0.8M64.9 228.0h0.8M58.8 237.7h0.8M59.8 239.0h0.8M67.4 240.8h0.8M69.9 236.7h0.8M66.3 238.5h0.8M59.1 236.9h0.8M58.7 247.9h0.8M62.4 228.0h0.8M68.5 230.7h0.8M59.2 226.6h0.8M68.1 237.7h0.8M67.4 217.8h0.8M65.3 240.0h0.8M65.6 242.5h0.8M58.8 242.1h0.8M65.2 231.8h0.8M67.2 224.0h0.8M62.4 231.5h0.8M63.4 237.7h0.8M57.4 230.8h0.8M67.3 241.4h0.8M57.6 236.7h0.8M61.4 223.5h0.8M62.0 213.2h0.8M68.0 220.5h0.8M59.9 242.6h0.8M56.9 233.4h0.8M67.9 234.5h0.8M61.9 240.6h0.8M62.9 224.6h0.8M61.4 244.0h0.8M58.8 238.1h0.8M60.1 242.0h0.8M60.0 223.0h0.8M60.9 237.0h0.8M63.4 215.7h0.8M61.7 237.6h0.8M59.8 241.8h0.8M65.0 229.6h0.8M63.5 224.9h0.8M64.0 218.4h0.8M55.2 234.4h0.8M62.9 240.8h0.8M64.9 238.0h0.8M57.6 234.6h0.8M62.2 226.7h0.8M66.3 233.7h0.8M63.4 237.1h0.8M58.8 220.3h0.8M59.7 218.2h0.8M58.2 231.1h0.8M68.9 238.6h0.8M61.3 233.9h0.8M64.8 232.4h0.8M62.0 235.8h0.8M64.6 235.2h0.8M59.0 225.7h0.8M62.2 246.0h0.8M55.2 229.7h0.8M66.5 223.0h0.8M55.3 243.0h0.8M59.7 234.1h0.8M62.7 240.3h0.8M58.1 223.8h0.8M61.8 232.7h0.8M64.4 220.9h0.8M69.1 231.6h0.8M63.3 220.8h0.8M62.3 238.7h0.8M67.3 226.4h0.8M61.8 235.4h0.8M62.1 220.2h0.8M62.7 227.4h0.8M61.9 227.9h0.8M65.2 238.8h0.8M64.1 227.9h0.8M68.3 238.1h0.8M66.1 236.6h0.8M64.1 225.3h0.8M61.4 230.2h0.8M62.3 235.9h0.8M62.0 238.3h0.8M65.7 244.2h0.8M61.7 228.0h0.8M61.9 225.9h0.8M67.8 243.0h0.8M62.0 227.0h0.8M65.7 229.4h0.8M67.4 234.8h0.8M64.7 239.0h0.8M59.7 245.9h0.8M61.9 240.0h0.8M65.9 218.8h0.8M62.5 221.8h0.8M59.0 239.2h0.8M62.1 224.3h0.8M62.4 228.6h0.8M66.1 234.6h0.8M64.8 231.5h0.8M57.6 231.8h0.8M63.1 232.6h0.8M62.2 234.1h0.8M66.3 219.9h0.8M65.9 237.1h0.8M63.0 237.2h0.8M61.8 215.1h0.8M65.7 217.5h0.8M56.3 231.5h0.8M62.5 246.8h0.8M60.6 221.5h0.8M62.7 229.9h0.8M68.9 239.0h0.8M61.9 244.5h0.8M66.9 236.2h0.8M70.4 223.4h0.8M56.5 228.5h0.8M64.5 242.0h0.8M63.2 223.3h0.8M66.9 225.2h0.8M69.4 225.6h0.8M65.6 215.6h0.8M69.7 225.5h0.8M62.3 234.8h0.8M60.3 232.4h0.8M59.6 230.3h0.8M64.7 236.3h0.8M60.9 219.8h0.8M65.9 225.4h0.8M60.6 231.7h0.8M61.8 216.0h0.8M64.6 220.9h0.8M60.9 228.3h0.8M65.7 242.4h0.8M69.7 237.6h0.8M64.4 238.1h0.8M59.1 237.9h0.8M66.9 231.8h0.8M66.3 226.6h0.8M63.0 237.2h0.8M61.1 239.1h0.8M67.7 231.6h0.8M57.6 236.5h0.8M61.9 221.7h0.8M68.4 230.4h0.8M62.9 229.3h0.8M64.3 225.4h0.8M64.7 229.3h0.8M59.5 229.9h0.8M66.7 220.8h0.8M63.8 227.3h0.8M64.9 225.1h0.8M62.1 229.5h0.8M61.8 232.0h0.8M60.2 221.1h0.8M55.2 224.5h0.8M59.9 232.2h0.8M62.7 224.3h0.8M64.0 230.0h0.8M63.5 241.7h0.8M58.9 232.9h0.8M62.6 226.8h0.8M61.8 228.0h0.8M61.2 229.8h0.8M65.1 222.9h0.8M60.4 241.2h0.8M66.0 220.9h0.8M56.9 237.6h0.8M67.7 220.7h0.8M60.1 240.6h0.8M62.9 229.5h0.8M66.6 219.8h0.8M66.1 230.5h0.8M58.9 214.7h0.8M63.5 230.1h0.8M61.9 232.8h0.8M60.8 221.8h0.8M62.2 225.2h0.8M61.4 222.1h0.8M66.8 234.1h0.8M58.2 223.4h0.8M63.7 228.6h0.8M66.8 237.0h0.8M62.7 244.9h0.8M65.6 226.5h0.8M63.9 229.9h0.8M59.1 220.5h0.8M67.0 224.6h0.8M63.5 240.3h0.8M60.3 218.6h0.8M62.9 237.8h0.8M64.9 236.7h0.8M68.3 227.4h0.8M66.1 220.1h0.8M59.6 229.9h0.8M63.0 225.4h0.8M67.7 217.2h0.8M61.9 241.4h0.8M65.4 237.1h0.8M62.4 233.2h0.8M59.8 220.6h0.8M56.7 230.3h0.8M58.8 229.6h0.8M64.9 223.1h0.8M63.4 218.3h0.8M63.8 237.8h0.8M58.1 233.8h0.8M58.8 234.6h0.8M58.7 234.2h0.8M64.4 227.3h0.8M61.0 222.6h0.8M66.2 230.3h0.8M55.3 240.7h0.8M59.7 233.2h0.8M55.8 238.1h0.8M66.0 227.7h0.8M64.7 234.2h0.8M59.6 233.8h0.8M66.2 225.5h0.8M65.5 228.7h0.8M60.7 220.9h0.8M63.1 239.5h0.8M61.1 216.2h0.8M59.3 229.6h0.8M67.7 237.4h0.8M63.1 227.6h0.8M65.6 226.7h0.8M63.5 220.8h0.8M59.4 233.1h0.8M64.8 227.9h0.8M59.5 213.9h0.8M66.6 232.8h0.8M68.4 230.8h0.8M60.6 217.0h0.8M59.4 228.5h0.8M59.4 224.8h0.8M62.0 229.4h0.8M58.4 221.3h0.8M61.0 232.8h0.8M63.0 232.1h0.8M61.0 233.3h0.8M58.4 218.3h0.8M58.9 227.0h0.8M60.0 230.4h0.8M59.5 215.3h0.8M64.3 218.1h0.8M62.0 242.9h0.8M64.9 225.7h0.8M64.2 245.1h0.8M62.0 226.9h0.8M61.4 237.7h0.8M58.3 237.5h0.8M63.3 238.1h0.8M66.1 219.7h0.8M60.9 220.7h0.8M63.4 229.3h0.8M67.9 218.4h0.8M63.7 227.6h0.8M65.1 241.8h0.8M64.2 232.5h0.8M69.8 247.6h0.8M63.6 230.1h0.8M64.1 239.2h0.8M63.1 236.5h0.8M66.4 234.5h0.8M59.1 223.8h0.8M65.8 239.7h0.8M61.8 222.3h0.8M68.1 214.2h0.8M64.1 240.4h0.8M67.9 239.6h0.8M59.4 239.1h0.8M64.5 235.6h0.8M58.9 243.8h0.8M63.1 227.6h0.8M62.9 225.5h0.8M64.1 226.3h0.8M65.2 241.3h0.8M64.7 236.1h0.8M60.5 239.2h0.8M60.9 225.8h0.8M64.7 245.1h0.8M68.8 226.2h0.8M66.5 228.0h0.8M61.6 234.2h0.8M64.3 244.3h0.8M62.8 227.5h0.8M70.9 215.8h0.8M66.1 220.5h0.8M65.0 230.7h0.8M64.6 232.5h0.8M61.9 231.0h0.8M63.6 234.2h0.8M61.0 223.5h0.8M64.6 224.9h0.8M63.5 224.9h0.8M66.6 239.5h0.8M61.7 244.0h0.8M61.7 228.2h0.8M59.9 241.0h0.8M63.2 238.0h0.8M66.6 226.3h0.8M61.5 244.8h0.8M65.9 229.1h0.8M61.9 234.5h0.8M65.7 225.5h0.8M69.9 227.0h0.8M63.0 222.2h0.8M62.6 228.3h0.8M61.6 230.5h0.8M60.1 227.4h0.8M59.1 216.9h0.8M64.2 227.8h0.8M69.6 227.0h0.8M68.3 232.6h0.8M63.7 241.0h0.8M68.8 239.8h0.8M65.7 224.5h0.8M63.9 245.7h0.8M57.0 220.5h0.8M61.6 230.7h0.8M61.4 237.8h0.8M61.8 232.3h0.8M56.1 235.7h0.8M68.8 241.4h0.8M59.3 234.1h0.8M55.3 223.1h0.8M71.0 245.8h0.8M62.8 234.3h0.8M63.5 234.9h0.8M57.8 216.7h0.8M70.6 234.5h0.8M59.6 228.7h0.8M68.3 234.2h0.8M59.9 234.4h0.8M65.7 240.4h0.8M69.8 231.6h0.8M70.2 234.4h0.8M63.5 230.0h0.8M62.5 223.1h0.8M58.5 233.9h0.8M66.7 236.0h0.8M63.1 225.9h0.8M62.0 221.3h0.8M66.8 218.9h0.8M65.1 225.6h0.8M62.4 237.5h0.8M61.0 232.7h0.8M61.6 235.6h0.8M59.6 243.1h0.8M67.4 230.3h0.8M69.6 238.8h0.8M60.0 227.8h0.8M59.4 234.4h0.8M67.2 233.2h0.8M65.5 238.0h0.8M62.2 230.6h0.8M69.4 238.7h0.8M63.0 220.9h0.8M64.6 222.0h0.8M56.1 217.5h0.8M62.1 222.6h0.8M58.3 220.3h0.8M64.1 228.8h0.8M56.6 239.3h0.8M66.1 223.0h0.8M56.1 245.0h0.8M60.4 234.0h0.8M66.4 239.4h0.8M68.4 215.9h0.8M59.7 220.2h0.8M60.0 215.6h0.8M60.5 221.1h0.8M58.9 232.5h0.8M64.7 236.0h0.8M68.5 216.3h0.8M63.1 226.3h0.8M62.4 228.8h0.8M70.7 240.1h0.8M63.2 226.9h0.8M67.9 213.9h0.8M58.3 227.2h0.8M60.6 240.4h0.8M55.1 233.2h0.8M61.2 219.8h0.8M62.6 229.9h0.8M56.5 213.1h0.8M68.7 236.1h0.8M65.5 243.2h0.8M62.2 226.9h0.8M61.9 220.3h0.8M62.5 218.1h0.8M67.8 244.0h0.8M67.0 239.4h0.8M65.4 217.4h0.8M66.1 227.9h0.8M66.7 229.3h0.8M58.2 239.1h0.8M62.5 235.7h0.8M64.4 247.1h0.8M60.8 236.9h0.8M63.4 235.5h0.8M62.2 231.6h0.8M63.6 240.2h0.8M68.4 221.6h0.8M63.3 223.3h0.8M65.8 234.1h0.8M70.4 225.1h0.8M61.9 214.9h0.8M66.0 233.8h0.8M63.8 228.3h0.8M61.0 234.3h0.8M63.8 223.4h0.8M58.0 230.9h0.8M63.1 225.7h0.8M66.8 241.6h0.8M59.4 239.7h0.8M65.6 219.0h0.8M59.1 232.6h0.8M65.1 230.0h0.8M62.0 236.6h0.8M65.9 235.4h0.8M62.7 234.5h0.8M66.7 229.6h0.8M70.2 238.7h0.8M57.2 233.2h0.8M61.5 224.0h0.8M61.6 224.6h0.8M57.9 241.9h0.8M67.4 244.1h0.8M61.3 223.6h0.8M62.5 230.6h0.8M65.2 219.4h0.8M67.2 227.4h0.8M62.3 232.5h0.8M65.5 218.6h0.8M68.0 238.3h0.8M68.1 241.7h0.8M63.4 240.9h0.8M63.5 226.4h0.8M66.2 234.3h0.8M68.1 237.3h0.8M58.7 233.3h0.8M67.8 225.8h0.8M65.1 227.4h0.8M62.1 225.2h0.8M59.5 223.3h0.8M58.8 227.8h0.8M67.4 242.9h0.8M59.2 218.8h0.8M65.5 231.7h0.8M67.9 225.5h0.8M69.5 240.7h0.8M68.4 225.7h0.8M59.5 231.4h0.8M66.3 234.2h0.8M68.4 230.3h0.8M61.0 238.5h0.8M60.7 228.9h0.8M66.6 229.6h0.8M66.7 226.6h0.8M59.8 237.7h0.8M61.7 229.5h0.8M61.6 229.3h0.8M69.7 236.1h0.8M67.3 231.3h0.8M65.5 223.2h0.8M62.3 240.6h0.8M60.7 226.1h0.8M64.1 228.6h0.8M66.9 237.6h0.8M56.2 234.8h0.8M64.3 242.5h0.8M60.6 234.6h0.8M56.5 222.3h0.8M61.7 226.4h0.8M67.3 222.5h0.8M64.3 224.0h0.8M62.8 230.3h0.8M61.2 219.6h0.8M59.1 232.9h0.8M57.6 220.3h0.8M59.8 238.5h0.8M56.5 235.2h0.8M59.6 229.9h0.8M67.7 235.0h0.8M65.4 241.9h0.8M70.9 222.7h0.8M68.2 238.1h0.8M63.7 228.9h0.8M62.8 239.2h0.8M69.7 234.5h0.8M59.2 222.4h0.8M60.7 223.7h0.8M62.8 231.9h0.8M61.3 230.3h0.8M62.4 246.2h0.8M61.3 233.7h0.8M58.8 228.2h0.8M64.0 227.1h0.8M66.2 237.7h0.8M61.3 234.5h0.8M56.2 222.7h0.8M64.3 228.5h0.8M64.1 226.5h0.8M65.5 226.9h0.8M61.0 240.2h0.8M62.7 229.9h0.8M68.4 240.9h0.8M59.1 230.9h0.8M57.0 221.6h0.8M64.0 234.3h0.8M63.0 224.1h0.8M67.4 218.8h0.8M58.1 245.7h0.8M66.2 228.0h0.8M66.0 233.8h0.8M61.0 226.3h0.8M56.7 233.7h0.8M64.9 236.1h0.8M62.2 233.6h0.8M62.4 232.2h0.8M64.4 224.6h0.8M64.5 226.4h0.8M63.2 222.9h0.8M63.1 232.1h0.8M61.4 225.2h0.8M58.8 227.7h0.8M67.2 237.9h0.8M66.4 233.4h0.8M63.8 221.7h0.8M62.5 218.6h0.8M63.7 241.2h0.8M66.9 219.1h0.8M66.2 217.7h0.8M62.7 225.9h0.8M63.1 234.3h0.8M64.7 223.1h0.8M57.0 228.5h0.8M60.6 232.0h0.8M65.1 236.8h0.8M56.0 224.1h0.8M57.6 233.7h0.8M56.3 233.7h0.8M61.7 231.4h0.8M66.0 228.6h0.8M64.1 235.8h0.8M66.5 237.0h0.8M60.4 219.2h0.8M66.4 232.5h0.8M62.6 238.3h0.8M66.2 227.1h0.8M66.4 218.9h0.8M62.1 222.3h0.8M60.3 215.4h0.8M65.9 225.6h0.8M57.1 229.9h0.8M62.6 231.1h0.8M58.0 226.5h0.8M68.3 219.7h0.8M55.6 240.8h0.8M64.1 226.0h0.8M65.6 238.5h0.8M60.6 237.8h0.8M65.1 230.5h0.8M57.0 218.5h0.8M60.0 228.5h0.8M62.3 246.6h0.8M65.7 229.3h0.8M55.0 225.0h0.8M70.3 239.9h0.8M64.4 225.7h0.8M59.9 240.0h0.8M60.1 243.3h0.8M59.4 233.5h0.8M63.3 230.4h0.8M59.6 235.6h0.8M62.5 227.4h0.8M64.9 219.0h0.8M67.7 235.5h0.8M65.0 233.1h0.8M66.2 234.1h0.8M57.4 226.7h0.8M68.6 225.4h0.8M58.6 217.6h0.8M65.6 230.6h0.8M61.3 229.1h0.8M62.0 230.1h0.8M57.8 236.8h0.8M64.5 229.4h0.8M60.0 218.6h0.8M61.9 240.2h0.8M58.1 213.5h0.8M71.1 233.8h0.8M64.9 237.8h0.8M60.3 219.4h0.8M60.4 227.0h0.8M62.2 236.5h0.8M66.0 226.2h0.8M65.1 227.9h0.8M61.2 228.6h0.8M64.3 234.0h0.8M61.1 233.1h0.8M67.3 234.7h0.8M64.8 243.5h0.8M65.6 220.9h0.8M64.8 237.9h0.8M56.6 236.9h0.8M61.5 235.5h0.8M63.1 219.1h0.8M63.3 214.4h0.8M59.0 239.9h0.8M66.2 235.1h0.8M65.9 231.6h0.8M57.1 237.7h0.8M57.3 240.5h0.8M65.4 235.5h0.8M58.6 246.1h0.8M61.9 222.2h0.8M58.8 237.8h0.8M68.6 215.6h0.8M66.3 235.4h0.8M63.9 238.8h0.8M67.1 228.2h0.8M63.8 234.3h0.8M69.9 244.1h0.8M69.0 228.8h0.8M62.4 218.8h0.8M63.4 232.1h0.8M63.2 234.8h0.8M60.8 226.0h0.8M61.8 237.3h0.8M68.4 235.6h0.8M59.8 235.2h0.8M64.4 235.3h0.8M57.8 235.9h0.8M58.8 234.7h0.8M62.7 215.3h0.8M70.7 232.6h0.8M59.9 236.3h0.8M65.9 216.9h0.8M62.9 224.7h0.8M61.8 228.4h0.8M57.3 227.8h0.8M57.9 229.8h0.8M64.3 241.1h0.8M64.3 233.4h0.8M63.3 222.3h0.8M63.4 244.8h0.8M63.0 214.6h0.8M59.0 230.9h0.8M66.4 238.9h0.8M60.7 225.6h0.8M56.5 244.4h0.8M64.6 235.9h0.8M64.1 231.8h0.8M63.1 224.3h0.8M56.9 244.2h0.8M64.6 237.5h0.8M57.7 228.2h0.8M58.1 219.4h0.8M63.9 233.5h0.8M66.2 231.1h0.8M60.8 232.3h0.8M66.1 224.9h0.8M58.4 223.9h0.8M65.2 240.3h0.8M59.3 239.7h0.8M63.4 222.0h0.8M63.2 236.6h0.8M65.0 217.2h0.8M66.5 234.4h0.8M65.7 229.0h0.8M59.4 219.2h0.8M62.7 226.3h0.8M63.1 226.8h0.8M65.6 220.9h0.8M62.3 224.0h0.8M62.8 222.7h0.8M61.8 230.3h0.8M65.5 230.5h0.8M60.4 225.7h0.8M66.9 241.1h0.8M66.3 234.3h0.8M64.3 223.9h0.8M62.3 227.8h0.8M59.5 222.1h0.8M56.7 232.0h0.8M65.5 219.9h0.8M59.6 247.9h0.8M66.3 215.5h0.8M63.1 216.8h0.8M62.5 231.5h0.8M65.0 232.2h0.8M65.3 231.4h0.8M62.2 234.8h0.8M61.5 233.5h0.8M66.7 233.6h0.8M58.0 231.4h0.8M66.3 244.7h0.8M64.8 239.5h0.8M56.6 226.3h0.8M56.1 231.7h0.8M60.4 222.3h0.8M64.8 212.9h0.8M62.1 225.4h0.8M66.6 226.7h0.8M62.0 243.4h0.8M62.1 230.5h0.8M68.4 237.9h0.8M59.3 227.6h0.8M64.6 232.8h0.8M66.8 240.1h0.8M60.7 226.6h0.8M57.3 237.1h0.8M59.7 230.7h0.8M57.1 226.7h0.8M61.7 226.2h0.8M66.2 227.1h0.8M65.5 218.6h0.8M60.5 233.3h0.8M67.2 221.5h0.8M64.6 241.5h0.8M68.3 242.4h0.8M63.9 217.8h0.8M59.8 235.7h0.8M61.1 223.7h0.8M57.4 223.8h0.8M70.4 225.3h0.8M69.4 222.1h0.8M67.1 247.5h0.8M59.6 242.8h0.8M63.2 239.9h0.8M58.3 238.7h0.8M57.4 242.3h0.8M65.3 232.1h0.8M58.7 229.1h0.8M60.0 229.9h0.8M56.3 245.9h0.8M62.6 222.6h0.8M62.7 238.4h0.8M62.4 230.7h0.8M56.0 227.7h0.8M64.7 228.0h0.8M60.0 215.6h0.8M61.9 223.8h0.8M66.0 228.2h0.8M62.3 231.4h0.8M65.4 235.2h0.8M65.0 231.0h0.8M65.8 246.3h0.8M68.3 230.4h0.8M64.0 244.3h0.8M59.1 220.9h0.8M65.2 223.4h0.8M66.9 224.4h0.8M61.1 236.5h0.8M65.3 228.4h0.8M66.5 220.2h0.8M70.6 230.8h0.8M64.4 234.5h0.8M57.7 219.7h0.8M55.8 236.1h0.8M64.5 224.1h0.8M63.9 216.2h0.8M57.5 228.5h0.8M61.4 229.0h0.8M56.5 234.2h0.8M65.8 233.1h0.8M60.6 232.3h0.8M64.2 223.1h0.8M63.0 245.1h0.8M62.5 227.0h0.8M63.2 228.4h0.8M66.8 237.2h0.8M62.9 224.4h0.8M69.9 223.7h0.8M64.1 224.5h0.8M61.3 242.9h0.8M59.6 219.9h0.8M68.8 220.0h0.8M63.1 230.8h0.8M57.2 224.0h0.8M65.6 234.4h0.8M66.2 215.9h0.8M57.0 216.8h0.8M62.1 239.2h0.8M69.5 243.4h0.8M57.8 221.4h0.8M63.0 243.6h0.8M60.8 222.1h0.8M66.3 226.9h0.8M64.3 236.6h0.8M62.5 229.9h0.8M58.4 223.3h0.8M65.8 230.3h0.8M65.8 234.9h0.8M64.1 235.8h0.8M66.2 230.7h0.8M64.8 238.7h0.8M62.1 218.5h0.8M61.2 227.6h0.8M58.0 238.0h0.8M63.7 226.7h0.8M56.5 216.9h0.8M65.3 225.5h0.8M70.6 223.5h0.8M64.0 216.6h0.8M65.3 226.6h0.8M61.4 237.9h0.8M61.4 233.3h0.8M58.1 241.3h0.8M69.0 227.9h0.8M60.5 230.8h0.8M63.4 224.7h0.8M69.9 229.2h0.8M66.8 225.7h0.8M65.4 231.1h0.8M61.3 239.9h0.8M54.9 228.4h0.8M63.8 242.9h0.8M58.6 234.1h0.8M66.8 230.0h0.8M59.1 229.4h0.8M65.0 224.2h0.8M62.3 232.0h0.8M59.7 230.7h0.8M66.1 217.9h0.8M60.7 214.7h0.8M61.6 219.9h0.8M62.8 231.8h0.8M68.4 232.6h0.8M63.9 225.6h0.8M59.7 229.6h0.8M67.5 221.5h0.8M65.4 235.9h0.8M62.8 215.1h0.8M63.0 242.8h0.8M64.0 216.1h0.8M64.0 235.5h0.8M63.2 222.3h0.8M66.5 216.0h0.8M60.2 220.5h0.8M62.6 246.2h0.8M62.3 226.4h0.8M68.0 216.6h0.8M62.4 231.7h0.8M62.4 228.3h0.8M61.8 223.7h0.8M65.0 230.5h0.8M60.8 225.8h0.8M65.2 227.5h0.8M63.9 235.4h0.8M66.5 220.4h0.8M68.0 223.9h0.8M61.5 231.7h0.8M56.5 232.3h0.8M62.4 230.1h0.8M68.7 235.1h0.8M63.7 232.9h0.8M64.2 231.9h0.8M61.7 234.6h0.8M64.6 229.3h0.8M64.7 221.0h0.8M63.0 234.4h0.8M63.7 229.2h0.8M67.7 232.7h0.8M59.4 224.7h0.8M64.8 236.1h0.8M55.5 230.6h0.8M66.2 237.3h0.8M65.4 217.0h0.8M63.4 234.7h0.8M55.9 222.1h0.8M61.2 236.8h0.8M70.4 224.6h0.8M57.0 223.7h0.8M62.7 221.1h0.8M70.6 228.2h0.8M61.9 232.6h0.8M64.1 220.9h0.8M66.7 238.0h0.8M60.8 228.3h0.8M60.6 246.0h0.8M66.3 239.2h0.8M64.0 227.5h0.8M59.5 224.3h0.8M60.1 240.5h0.8M60.9 233.6h0.8M59.6 232.7h0.8M56.6 235.8h0.8M63.6 213.0h0.8M60.6 235.9h0.8M60.1 247.2h0.8M63.3 235.6h0.8M60.5 218.5h0.8M67.4 224.3h0.8M65.8 223.1h0.8M60.0 239.2h0.8M54.9 218.3h0.8M59.4 229.4h0.8M65.6 242.9h0.8M58.4 217.6h0.8M65.2 219.0h0.8M63.0 220.4h0.8M65.4 223.4h0.8M59.1 215.9h0.8M65.5 218.5h0.8M58.2 228.1h0.8M61.2 230.2h0.8M58.0 220.5h0.8M61.2 233.0h0.8M57.8 230.1h0.8M63.2 235.3h0.8M61.2 233.6h0.8M61.5 231.0h0.8M57.0 222.5h0.8M61.3 217.0h0.8M60.4 233.7h0.8M65.5 243.9h0.8M62.0 234.2h0.8M64.5 225.7h0.8M60.4 239.3h0.8M61.8 227.2h0.8M69.5 223.3h0.8M68.8 221.4h0.8M61.0 226.1h0.8M60.4 231.3h0.8M66.5 242.3h0.8M62.1 219.8h0.8M61.1 237.7h0.8M56.2 227.2h0.8M63.5 235.2h0.8M64.4 229.2h0.8M62.2 228.6h0.8M62.1 222.1h0.8M60.9 237.8h0.8M67.6 232.6h0.8M66.6 221.7h0.8M63.7 236.6h0.8M65.5 228.4h0.8M60.9 224.2h0.8M63.6 238.0h0.8M66.7 221.2h0.8M65.7 232.5h0.8M66.3 225.9h0.8M58.8 229.3h0.8M61.0 237.0h0.8M65.2 220.1h0.8M66.8 227.7h0.8M58.2 222.0h0.8M65.5 236.2h0.8M63.7 233.7h0.8M60.7 231.5h0.8M67.4 237.7h0.8M58.2 227.1h0.8M69.0 237.7h0.8M63.1 235.7h0.8M64.9 230.9h0.8M62.0 233.3h0.8M66.8 237.5h0.8M63.1 225.9h0.8M66.6 231.0h0.8M55.4 227.7h0.8M63.8 229.5h0.8M57.2 233.0h0.8M56.6 237.6h0.8M60.2 243.3h0.8M68.4 241.4h0.8M63.8 234.6h0.8M58.7 227.2h0.8M67.7 229.2h0.8M61.1 235.5h0.8M64.9 247.2h0.8M62.3 229.8h0.8M69.0 219.7h0.8M64.3 236.8h0.8M63.8 222.3h0.8M61.5 228.1h0.8M62.3 228.8h0.8M67.9 233.8h0.8M64.3 225.7h0.8M64.5 233.4h0.8M62.6 230.3h0.8M63.6 232.3h0.8M62.8 224.8h0.8M66.7 220.2h0.8M63.0 231.2h0.8M63.0 248.1h0.8M60.5 224.6h0.8M59.4 244.0h0.8M61.6 235.9h0.8M63.9 233.7h0.8M65.0 219.4h0.8M60.6 217.6h0.8M62.4 220.9h0.8M65.1 240.2h0.8M62.2 236.8h0.8M64.3 230.0h0.8M62.4 234.2h0.8M66.8 235.4h0.8M60.1 238.9h0.8M66.6 231.4h0.8M57.1 235.6h0.8M61.8 230.2h0.8M63.3 242.0h0.8M63.1 236.9h0.8M57.9 217.9h0.8M61.6 218.3h0.8M66.4 234.4h0.8M63.5 237.0h0.8M64.1 229.4h0.8M67.0 221.5h0.8M63.5 230.3h0.8M63.9 229.9h0.8M58.2 231.3h0.8M68.2 239.1h0.8M66.9 223.5h0.8M63.6 224.8h0.8M63.2 235.8h0.8M65.3 218.1h0.8M63.6 228.4h0.8M63.9 231.1h0.8M60.4 215.0h0.8M64.5 236.7h0.8M63.5 217.1h0.8M67.8 221.7h0.8M68.6 230.5h0.8M64.3 217.4h0.8M66.5 220.6h0.8M68.5 232.5h0.8M58.6 233.8h0.8M63.6 245.8h0.8M63.9 238.1h0.8M65.9 222.3h0.8M60.7 237.7h0.8M63.6 225.3h0.8M64.0 230.7h0.8M62.4 228.3h0.8M62.9 227.9h0.8M66.2 226.2h0.8M65.7 216.7h0.8M62.2 235.9h0.8M65.4 234.8h0.8M60.1 241.4h0.8M59.3 237.2h0.8M58.8 221.7h0.8M64.9 231.3h0.8M65.4 240.2h0.8M65.9 246.0h0.8M63.7 238.2h0.8M57.1 230.0h0.8M61.2 228.7h0.8M60.9 217.5h0.8M64.1 236.9h0.8M56.5 234.5h0.8M65.5 229.9h0.8M62.7 233.0h0.8M62.3 222.0h0.8M67.3 232.2h0.8M69.8 227.5h0.8M62.9 219.6h0.8M62.9 226.7h0.8M70.8 225.3h0.8M59.3 223.7h0.8M64.3 227.3h0.8M64.9 221.6h0.8M60.2 241.3h0.8M62.6 246.9h0.8M65.9 232.2h0.8M62.5 244.3h0.8M64.4 225.7h0.8M64.6 238.7h0.8M62.3 229.2h0.8M60.2 226.1h0.8M61.4 233.4h0.8M59.7 232.5h0.8M69.3 217.4h0.8M61.0 224.3h0.8M65.4 234.5h0.8M57.6 240.2h0.8M68.4 231.9h0.8M62.8 218.1h0.8M65.6 222.9h0.8M63.5 228.0h0.8M58.6 214.4h0.8M63.9 230.2h0.8M62.2 220.2h0.8M62.3 218.0h0.8M58.7 232.9h0.8M64.3 226.7h0.8M56.2 216.1h0.8M58.4 213.1h0.8M62.8 227.7h0.8M64.6 225.6h0.8M66.6 225.3h0.8M64.2 225.6h0.8M64.0 233.9h0.8M65.2 225.2h0.8M61.8 231.1h0.8M68.5 225.7h0.8M64.3 216.5h0.8M58.7 217.4h0.8M62.5 240.8h0.8M60.9 228.5h0.8M66.5 222.1h0.8M66.7 237.9h0.8M60.4 227.0h0.8M67.9 223.3h0.8M66.0 230.2h0.8M63.6 225.1h0.8M58.9 247.4h0.8M68.4 231.0h0.8M62.8 238.2h0.8M66.7 226.4h0.8M61.6 228.0h0.8M65.8 222.9h0.8M63.5 241.3h0.8M61.4 235.9h0.8M62.4 236.2h0.8M63.6 225.9h0.8M62.2 234.5h0.8M66.7 234.9h0.8M62.3 218.3h0.8M60.6 229.3h0.8M68.7 234.2h0.8M65.0 235.8h0.8M63.5 236.5h0.8M66.4 222.9h0.8M65.1 222.9h0.8M70.4 225.9h0.8M61.6 238.9h0.8M61.3 229.8h0.8M61.6 223.1h0.8M66.2 232.6h0.8M60.2 230.5h0.8M62.4 237.0h0.8M69.2 217.8h0.8M65.9 243.8h0.8M62.0 221.5h0.8M64.6 226.2h0.8M59.4 230.8h0.8M59.5 236.2h0.8M61.1 237.8h0.8M58.0 213.2h0.8M62.8 225.7h0.8M65.9 239.2h0.8M63.5 220.5h0.8M57.1 229.0h0.8M66.1 245.1h0.8M61.3 232.4h0.8M57.7 225.6h0.8M65.6 225.1h0.8M56.4 231.8h0.8M67.9 239.3h0.8M65.8 221.0h0.8M69.0 215.5h0.8M68.7 235.7h0.8M61.8 247.1h0.8M58.6 233.8h0.8M69.0 235.0h0.8M62.5 221.9h0.8M58.5 244.3h0.8M68.9 237.2h0.8M66.5 232.0h0.8M62.7 227.2h0.8M61.6 234.9h0.8M62.1 241.3h0.8M64.6 231.7h0.8M58.4 230.8h0.8M61.1 242.7h0.8M58.7 223.5h0.8M65.1 220.8h0.8M58.9 216.1h0.8M62.5 220.3h0.8M61.8 233.5h0.8M65.0 237.5h0.8M65.9 227.7h0.8M58.0 233.9h0.8M60.6 232.0h0.8M60.0 234.5h0.8M66.0 235.3h0.8M64.1 233.5h0.8M58.7 242.1h0.8M59.8 233.1h0.8M57.7 240.7h0.8M62.2 227.4h0.8M58.8 233.4h0.8M58.1 225.7h0.8M68.0 229.4h0.8M62.7 239.4h0.8M66.1 231.7h0.8M63.2 239.2h0.8M65.3 230.6h0.8M63.5 235.8h0.8M65.7 235.0h0.8M56.5 233.7h0.8M59.1 236.5h0.8M68.8 221.0h0.8M68.2 233.7h0.8M58.8 228.2h0.8M60.8 221.8h0.8M62.5 229.8h0.8M57.7 225.0h0.8M68.9 236.7h0.8M59.9 232.0h0.8M66.2 238.8h0.8M63.2 234.7h0.8M64.9 219.1h0.8M64.7 226.5h0.8M62.9 231.1h0.8M62.4 235.8h0.8M60.9 233.1h0.8M59.8 225.1h0.8M68.2 218.4h0.8M64.1 239.2h0.8M63.8 223.5h0.8M66.5 233.7h0.8M56.4 245.5h0.8M63.7 234.6h0.8M69.0 216.8h0.8M68.0 224.7h0.8M62.5 236.0h0.8M55.1 225.5h0.8M61.1 225.9h0.8M62.7 231.6h0.8M57.7 236.0h0.8M57.1 231.0h0.8M60.8 230.3h0.8M60.7 228.8h0.8M58.5 225.4h0.8M66.7 233.3h0.8M62.9 238.8h0.8M62.6 227.2h0.8M71.0 243.3h0.8M63.0 230.4h0.8M61.7 224.5h0.8M61.7 239.8h0.8M63.4 234.4h0.8M66.8 224.9h0.8M59.1 231.6h0.8M60.2 223.5h0.8M57.3 238.8h0.8M66.6 230.5h0.8M61.8 226.6h0.8M60.9 233.4h0.8M68.9 231.3h0.8M60.8 226.8h0.8M60.3 234.3h0.8M65.8 218.4h0.8M62.4 218.1h0.8M64.0 229.3h0.8M67.9 217.7h0.8M65.0 243.5h0.8M57.5 236.7h0.8M68.0 244.0h0.8M62.7 223.3h0.8M64.2 231.8h0.8M65.0 218.5h0.8M66.4 224.0h0.8M56.6 235.3h0.8M66.5 239.1h0.8M60.4 228.9h0.8M55.1 241.4h0.8M68.0 225.1h0.8M64.6 246.9h0.8M59.6 226.2h0.8M68.1 241.2h0.8M64.4 233.4h0.8M55.0 229.9h0.8M60.7 235.9h0.8M56.3 229.5h0.8M61.5 219.9h0.8M66.7 216.5h0.8M56.9 229.9h0.8M58.2 234.7h0.8M68.6 231.8h0.8M61.0 243.0h0.8M63.4 230.1h0.8M65.7 227.3h0.8M59.8 236.1h0.8M59.5 241.0h0.8M69.3 241.5h0.8M68.0 245.6h0.8M67.3 224.5h0.8M64.9 225.4h0.8M67.5 238.6h0.8M66.9 240.0h0.8M67.2 233.5h0.8M66.1 228.4h0.8M59.9 227.5h0.8M59.0 231.5h0.8M70.5 227.6h0.8M60.5 233.9h0.8M67.4 235.5h0.8M61.1 228.3h0.8M55.6 241.2h0.8M66.5 233.2h0.8M58.2 220.2h0.8M65.4 230.8h0.8M65.9 227.1h0.8M64.3 235.9h0.8M66.7 231.9h0.8M66.1 215.3h0.8M63.4 220.7h0.8M57.0 225.9h0.8M69.0 231.7h0.8M57.2 230.2h0.8M58.5 221.5h0.8M62.1 239.6h0.8M61.8 230.5h0.8M64.2 243.2h0.8M61.5 237.6h0.8M67.8 237.2h0.8M59.6 231.5h0.8M67.7 233.3h0.8M57.4 226.7h0.8M67.6 221.5h0.8M57.2 229.8h0.8M61.7 230.5h0.8M64.1 245.4h0.8M55.6 222.7h0.8M56.0 219.9h0.8M59.8 235.0h0.8M65.7 229.2h0.8M58.2 216.2h0.8M58.1 233.9h0.8M64.7 229.1h0.8M56.7 217.6h0.8M59.6 221.7h0.8M66.1 235.3h0.8M66.9 241.1h0.8M65.8 231.5h0.8M63.1 235.5h0.8M69.3 243.7h0.8M60.9 223.3h0.8M63.0 230.6h0.8M64.7 229.6h0.8M64.0 228.7h0.8M60.0 216.5h0.8M63.6 225.7h0.8M55.0 228.4h0.8M62.9 225.6h0.8M59.7 242.7h0.8M65.7 236.9h0.8M58.8 226.7h0.8M65.0 221.3h0.8M64.9 237.4h0.8M57.3 225.8h0.8M56.3 237.2h0.8M61.6 234.0h0.8M65.5 221.6h0.8M62.5 223.0h0.8M64.7 230.4h0.8M61.5 241.1h0.8M65.7 226.1h0.8M67.4 228.3h0.8M58.2 232.3h0.8M58.6 234.2h0.8M61.6 228.7h0.8M60.8 233.1h0.8M66.0 236.2h0.8M66.0 225.3h0.8M68.8 221.0h0.8M57.9 235.0h0.8M65.3 232.9h0.8M59.1 226.2h0.8M65.7 232.8h0.8M68.1 247.7h0.8M64.3 230.7h0.8M62.1 235.4h0.8M63.9 221.4h0.8M63.8 230.4h0.8M59.7 237.1h0.8M66.0 231.3h0.8M63.8 236.9h0.8M62.3 237.9h0.8M61.1 234.3h0.8M67.8 235.4h0.8M58.8 232.5h0.8M61.6 234.1h0.8M65.5 225.2h0.8M70.9 229.4h0.8M59.3 225.9h0.8M67.4 236.4h0.8M58.0 223.2h0.8M71.1 237.5h0.8M65.3 214.0h0.8M58.9 227.6h0.8M67.1 227.0h0.8M62.9 232.6h0.8M67.2 219.2h0.8M63.4 228.1h0.8M67.0 241.7h0.8M61.1 226.9h0.8M63.8 227.6h0.8M65.1 222.8h0.8M59.2 239.7h0.8M63.7 222.9h0.8M66.1 240.1h0.8M62.5 234.3h0.8M62.0 235.7h0.8M58.9 229.6h0.8M63.1 236.8h0.8M62.8 217.8h0.8M65.0 234.6h0.8M56.5 232.1h0.8M59.7 234.4h0.8M65.2 234.7h0.8M61.9 215.7h0.8M68.6 221.0h0.8M65.6 232.3h0.8M58.9 232.4h0.8M65.0 234.2h0.8M69.5 235.7h0.8M60.6 233.8h0.8M70.4 226.7h0.8M64.8 220.1h0.8M61.1 235.9h0.8M63.7 234.8h0.8M60.9 227.3h0.8M60.1 230.1h0.8M62.3 229.5h0.8M59.7 231.6h0.8M66.5 239.2h0.8M65.1 217.2h0.8M56.7 225.1h0.8M66.2 227.9h0.8M59.3 227.9h0.8M63.4 219.7h0.8M65.4 223.1h0.8M59.1 236.9h0.8M65.6 223.6h0.8M59.4 224.3h0.8M63.1 227.3h0.8M59.5 246.4h0.8M67.2 246.7h0.8M67.7 213.3h0.8M63.3 240.8h0.8M68.2 232.6h0.8M57.2 243.8h0.8M62.6 231.6h0.8M59.7 228.6h0.8M66.8 219.6h0.8M63.0 229.6h0.8M58.8 230.0h0.8M65.1 223.2h0.8M63.0 247.4h0.8M64.4 225.4h0.8M68.1 234.5h0.8M57.9 223.9h0.8M64.7 230.5h0.8M58.0 223.5h0.8M68.8 232.3h0.8M64.5 228.8h0.8M56.0 232.5h0.8M56.0 221.2h0.8M60.8 238.9h0.8M60.9 220.5h0.8M61.7 230.8h0.8M63.7 234.5h0.8M63.3 220.8h0.8M64.0 234.5h0.8M58.7 232.8h0.8M65.4 214.8h0.8M66.1 232.9h0.8M56.0 235.8h0.8M61.7 235.0h0.8M62.8 234.0h0.8M66.4 234.7h0.8M63.4 233.6h0.8M60.6 233.4h0.8M65.8 222.7h0.8M66.3 228.0h0.8M62.2 230.5h0.8M66.3 239.7h0.8M69.4 225.0h0.8M66.9 245.3h0.8M65.0 228.2h0.8M59.7 243.6h0.8M57.1 229.5h0.8M62.4 228.2h0.8M63.3 231.3h0.8M61.7 231.4h0.8M57.9 242.3h0.8M60.3 247.9h0.8M57.8 247.7h0.8M63.0 233.9h0.8M60.7 236.8h0.8M60.4 236.0h0.8M58.6 234.3h0.8M63.9 234.2h0.8M61.7 233.4h0.8M60.0 232.2h0.8M65.0 217.5h0.8M64.6 235.8h0.8M63.2 230.1h0.8M56.5 228.2h0.8M69.5 240.5h0.8M61.1 238.3h0.8M65.7 242.3h0.8M65.8 219.7h0.8M61.6 238.2h0.8M62.6 224.9h0.8M63.9 221.5h0.8M63.6 242.7h0.8M65.3 223.0h0.8M61.6 229.5h0.8M65.2 224.2h0.8M65.3 230.9h0.8M61.9 235.3h0.8M64.0 234.7h0.8M62.8 233.7h0.8M61.4 226.8h0.8M64.0 214.9h0.8M64.5 230.0h0.8M66.6 233.7h0.8M62.9 232.1h0.8M61.9 226.3h0.8M61.1 233.2h0.8M66.4 223.7h0.8M64.6 242.1h0.8M61.9 245.3h0.8M62.2 216.5h0.8M59.7 223.6h0.8M61.1 236.5h0.8M64.5 244.1h0.8M58.7 220.1h0.8M67.6 231.4h0.8M66.6 237.7h0.8M61.9 223.1h0.8M65.6 240.5h0.8M62.2 223.2h0.8M65.9 235.7h0.8M62.0 225.9h0.8M59.2 231.7h0.8M64.0 232.5h0.8M64.0 219.9h0.8M61.9 241.0h0.8M56.8 232.8h0.8M68.6 226.2h0.8M63.1 232.8h0.8M57.4 228.5h0.8M57.3 225.3h0.8M63.3 231.6h0.8M59.0 243.3h0.8M61.7 223.3h0.8M66.4 246.5h0.8M65.1 224.7h0.8M62.2 227.0h0.8M61.1 232.0h0.8M64.0 235.4h0.8M61.4 213.9h0.8M61.2 233.5h0.8M66.4 232.6h0.8M64.7 238.2h0.8M62.5 237.5h0.8M66.1 237.1h0.8M62.8 218.4h0.8M66.4 227.7h0.8M66.2 232.3h0.8M63.2 243.4h0.8M63.2 231.7h0.8M56.0 223.8h0.8M64.9 244.3h0.8M59.0 226.5h0.8M58.4 228.9h0.8M59.7 217.9h0.8M65.2 232.7h0.8M65.4 240.2h0.8M65.5 236.8h0.8M58.9 238.7h0.8M63.3 232.9h0.8M59.7 234.4h0.8M62.6 223.8h0.8M63.7 226.7h0.8M59.1 226.4h0.8M62.7 223.4h0.8M64.5 229.3h0.8M61.6 232.7h0.8M67.4 229.6h0.8M61.0 218.3h0.8M64.0 229.3h0.8M67.4 228.7h0.8M65.5 223.9h0.8M67.3 239.0h0.8M61.0 230.8h0.8M64.4 223.5h0.8M64.2 231.0h0.8M71.0 224.7h0.8M57.4 224.8h0.8M62.2 228.7h0.8M68.6 229.4h0.8M62.5 224.9h0.8M69.9 218.4h0.8M61.1 240.7h0.8M67.4 225.8h0.8M61.5 231.8h0.8M65.8 232.1h0.8M66.7 225.9h0.8M65.3 229.8h0.8M67.0 228.8h0.8M57.8 232.6h0.8M60.8 233.6h0.8M65.4 233.2h0.8M58.2 220.1h0.8M56.3 240.6h0.8M58.7 234.0h0.8M58.4 238.0h0.8M62.8 220.8h0.8M63.8 234.1h0.8M65.4 232.8h0.8M58.5 230.1h0.8M57.8 214.0h0.8M60.0 225.9h0.8M61.5 231.8h0.8M60.7 226.0h0.8M59.1 242.0h0.8M60.7 228.4h0.8M57.3 221.0h0.8M63.7 229.4h0.8M63.1 237.0h0.8M64.0 237.6h0.8M64.0 240.4h0.8M67.6 236.0h0.8M61.4 226.4h0.8M63.0 224.8h0.8M67.0 237.5h0.8M67.8 242.3h0.8M65.4 236.9h0.8M55.3 227.3h0.8M62.7 241.8h0.8M65.9 231.3h0.8M60.3 230.1h0.8M70.0 222.6h0.8M61.8 214.4h0.8M67.1 220.6h0.8M62.5 229.1h0.8M60.4 241.2h0.8M59.3 232.1h0.8M65.4 243.3h0.8M65.1 216.0h0.8M62.5 214.3h0.8M61.4 223.3h0.8M55.2 225.0h0.8M61.3 233.9h0.8M59.9 222.9h0.8M61.8 243.1h0.8M67.8 224.4h0.8M69.4 231.5h0.8M66.0 226.4h0.8M67.8 231.4h0.8M62.8 230.8h0.8M58.1 225.0h0.8M57.5 231.0h0.8M56.2 231.0h0.8M69.8 224.5h0.8M58.3 227.2h0.8M65.1 228.2h0.8M65.5 225.4h0.8M61.5 231.5h0.8M55.8 229.9h0.8M57.6 229.3h0.8M60.2 220.4h0.8M56.1 247.4h0.8M64.1 237.7h0.8M59.8 231.4h0.8M67.1 220.4h0.8M66.7 227.9h0.8M64.9 240.3h0.8M65.5 222.0h0.8M61.5 232.6h0.8M59.4 231.1h0.8M61.1 245.5h0.8M69.9 238.9h0.8M60.7 225.1h0.8M65.3 232.2h0.8M57.9 237.9h0.8M62.5 233.1h0.8M69.9 228.3h0.8M60.4 229.9h0.8M66.2 233.1h0.8M67.6 228.7h0.8M60.8 232.8h0.8M59.9 243.1h0.8M59.6 240.3h0.8M60.9 226.4h0.8M66.2 227.8h0.8M63.2 230.2h0.8M69.1 222.5h0.8M56.1 222.9h0.8M63.3 213.7h0.8M63.5 222.9h0.8M62.4 228.3h0.8M59.7 218.5h0.8M58.8 232.6h0.8M64.6 238.4h0.8M63.2 232.0h0.8M62.5 233.8h0.8M65.0 228.5h0.8M66.9 235.5h0.8M70.3 239.0h0.8M63.9 226.5h0.8M57.3 236.1h0.8M60.8 228.4h0.8M70.0 221.3h0.8M56.2 229.4h0.8M65.3 242.2h0.8M64.6 227.1h0.8M60.7 244.0h0.8M60.5 219.2h0.8M66.7 218.3h0.8M61.9 238.2h0.8M60.5 227.8h0.8M56.7 230.4h0.8M70.1 240.9h0.8M60.0 230.2h0.8M67.6 234.6h0.8M65.9 227.5h0.8M64.1 234.9h0.8M69.1 234.0h0.8M57.2 224.4h0.8M57.2 239.4h0.8M57.8 239.9h0.8M61.6 232.4h0.8M64.5 230.6h0.8M58.8 234.0h0.8M63.4 228.4h0.8M62.0 233.6h0.8M61.1 227.3h0.8M61.2 224.3h0.8M61.5 218.7h0.8M64.9 226.0h0.8M58.5 234.2h0.8M61.5 221.3h0.8M61.0 224.8h0.8M59.7 232.1h0.8M61.5 243.2h0.8M56.4 220.2h0.8M60.6 234.4h0.8M59.0 233.3h0.8M68.6 219.7h0.8M63.1 226.3h0.8M58.8 232.6h0.8M69.0 221.3h0.8M61.7 222.5h0.8M68.7 224.7h0.8M57.5 221.3h0.8M63.5 225.9h0.8M67.4 237.9h0.8M62.2 222.6h0.8M67.2 239.6h0.8M66.5 223.4h0.8M66.7 225.1h0.8M56.0 227.7h0.8M65.0 233.3h0.8M55.6 230.1h0.8M61.9 232.8h0.8M60.1 242.2h0.8M65.9 241.7h0.8M69.2 244.3h0.8M67.6 231.1h0.8M62.2 221.2h0.8M67.0 223.4h0.8M62.5 230.9h0.8M70.2 223.2h0.8M58.0 237.7h0.8M60.5 223.4h0.8M59.5 226.5h0.8M59.7 228.4h0.8M63.7 234.7h0.8M60.0 234.1h0.8M63.6 231.1h0.8M63.2 223.9h0.8M61.5 237.6h0.8M67.5 238.5h0.8M61.9 231.5h0.8M59.2 231.3h0.8M62.5 236.2h0.8M59.7 217.3h0.8M66.9 221.9h0.8M70.0 230.8h0.8M58.0 225.5h0.8M65.4 239.0h0.8M58.6 225.8h0.8M63.5 239.6h0.8M57.4 215.7h0.8M59.9 229.6h0.8M66.6 239.7h0.8M62.1 233.9h0.8M62.8 248.1h0.8M63.2 238.1h0.8M61.3 226.9h0.8M64.4 238.7h0.8M64.1 238.0h0.8M65.2 222.2h0.8M64.3 223.6h0.8M66.7 220.9h0.8M58.4 237.7h0.8M60.8 214.5h0.8M65.2 224.6h0.8M66.4 236.6h0.8M57.0 232.3h0.8M64.3 240.2h0.8M61.5 231.2h0.8M65.5 232.6h0.8M58.6 241.0h0.8M59.4 234.5h0.8M69.0 221.2h0.8M62.5 237.9h0.8M63.4 229.4h0.8M61.3 227.5h0.8M61.4 231.3h0.8M64.2 229.2h0.8M62.5 230.2h0.8M59.6 233.7h0.8M58.2 233.4h0.8M61.9 231.3h0.8M65.1 233.0h0.8M60.7 223.2h0.8M59.6 246.7h0.8M68.2 221.1h0.8M62.4 233.4h0.8M61.2 226.9h0.8M59.1 236.6h0.8M63.5 240.4h0.8M58.7 228.9h0.8M58.3 222.0h0.8M61.5 247.1h0.8M62.5 246.8h0.8M64.0 238.8h0.8M58.8 224.1h0.8M56.7 238.0h0.8M63.7 233.9h0.8M57.2 223.8h0.8M58.1 238.0h0.8M65.7 229.8h0.8M68.5 237.8h0.8M57.8 237.8h0.8M60.6 228.2h0.8M68.6 228.2h0.8M63.9 230.8h0.8M79.2 231.0h0.8M74.7 228.5h0.8M72.8 236.6h0.8M69.3 234.9h0.8M81.3 219.5h0.8M69.0 236.4h0.8M80.9 219.2h0.8M74.8 221.7h0.8M75.6 231.4h0.8M70.4 229.6h0.8M71.5 228.6h0.8M75.3 224.6h0.8M74.0 217.8h0.8M72.2 224.8h0.8M73.5 223.1h0.8M79.7 225.1h0.8M76.4 231.0h0.8M74.8 218.2h0.8M75.9 230.6h0.8M67.8 225.9h0.8M75.8 223.4h0.8M79.2 225.0h0.8M69.5 225.3h0.8M77.1 238.0h0.8M73.3 234.2h0.8M78.0 221.3h0.8M70.6 230.9h0.8M73.5 235.6h0.8M80.1 230.2h0.8M76.4 227.0h0.8M80.7 223.1h0.8M65.0 230.5h0.8M81.9 227.3h0.8M78.4 231.4h0.8M82.3 227.1h0.8M72.8 229.3h0.8M76.1 224.6h0.8M73.9 227.4h0.8M79.6 235.0h0.8M71.6 226.3h0.8M74.0 223.0h0.8M76.7 229.2h0.8M77.4 223.4h0.8M73.1 219.8h0.8M69.6 227.6h0.8M83.8 235.5h0.8M72.9 227.6h0.8M67.2 225.4h0.8M74.7 224.9h0.8M75.8 232.1h0.8M75.8 221.0h0.8M71.7 227.5h0.8M77.2 218.7h0.8M69.3 237.5h0.8M75.2 230.2h0.8M64.3 216.2h0.8M81.5 233.0h0.8M76.6 229.8h0.8M74.4 228.2h0.8M72.6 230.6h0.8M71.3 227.0h0.8M79.8 227.9h0.8M73.2 236.8h0.8M73.0 224.8h0.8M77.1 230.5h0.8M71.7 223.9h0.8M68.9 223.1h0.8M73.0 229.2h0.8M74.2 226.4h0.8M78.8 218.8h0.8M75.3 224.9h0.8M70.7 234.6h0.8M76.2 238.4h0.8M73.5 227.5h0.8M67.5 239.4h0.8M71.5 230.6h0.8M68.2 233.0h0.8M65.8 221.6h0.8M68.6 221.0h0.8M70.9 228.3h0.8M77.1 222.5h0.8M68.0 233.0h0.8M74.1 230.3h0.8M72.2 226.3h0.8M68.6 228.0h0.8M80.0 214.3h0.8M78.9 238.5h0.8M71.7 226.4h0.8M70.3 228.4h0.8M66.7 229.9h0.8M75.3 222.9h0.8M73.2 236.8h0.8M72.7 232.6h0.8M69.9 231.7h0.8M73.6 231.9h0.8M74.6 221.0h0.8M69.1 216.4h0.8M71.1 224.7h0.8M81.3 223.1h0.8M77.5 230.2h0.8M76.8 220.3h0.8M73.8 226.6h0.8M71.8 231.9h0.8M81.4 230.9h0.8M75.1 219.9h0.8M72.8 221.4h0.8M82.3 227.4h0.8M75.8 229.6h0.8M82.2 220.5h0.8M73.8 223.8h0.8M73.7 219.4h0.8M77.4 222.0h0.8M82.2 226.7h0.8M73.2 225.2h0.8M73.0 232.7h0.8M80.6 230.8h0.8M80.1 232.1h0.8M81.9 223.6h0.8M69.4 234.7h0.8M76.7 230.6h0.8M77.4 228.9h0.8M75.4 217.6h0.8M74.1 225.1h0.8M70.8 239.3h0.8M77.0 223.6h0.8M71.9 224.4h0.8M67.7 230.3h0.8M77.2 235.3h0.8M81.7 218.4h0.8M73.3 232.2h0.8M80.2 225.3h0.8M73.8 220.7h0.8M76.8 229.5h0.8M73.2 222.9h0.8M71.5 218.4h0.8M74.6 227.1h0.8M68.6 232.3h0.8M76.1 230.8h0.8M76.2 232.8h0.8M71.3 230.0h0.8M70.0 223.5h0.8M82.8 230.1h0.8M71.4 223.8h0.8M68.5 221.5h0.8M69.2 236.3h0.8M72.7 228.1h0.8M69.6 222.3h0.8M72.4 230.1h0.8M70.5 222.2h0.8M69.4 223.6h0.8M71.6 223.6h0.8M75.5 227.0h0.8M76.3 218.8h0.8M79.4 224.0h0.8M79.1 232.7h0.8M72.6 224.8h0.8M78.0 225.0h0.8M64.6 226.1h0.8M76.7 222.3h0.8M69.2 225.5h0.8M73.4 234.9h0.8M76.3 227.3h0.8M75.5 236.0h0.8M77.0 220.9h0.8M78.4 215.0h0.8M81.3 226.6h0.8M68.4 230.2h0.8M79.4 226.2h0.8M71.3 222.6h0.8M69.7 235.0h0.8M73.9 229.5h0.8M73.2 220.3h0.8M73.3 223.3h0.8M72.1 223.5h0.8M68.7 237.0h0.8M75.8 227.7h0.8M75.7 238.2h0.8M78.2 225.3h0.8M75.4 227.5h0.8M79.7 237.3h0.8M73.3 233.2h0.8M79.7 224.1h0.8M79.5 233.4h0.8M65.8 228.8h0.8M74.3 225.3h0.8M68.9 228.9h0.8M76.6 238.2h0.8M73.8 225.8h0.8M69.3 223.9h0.8M73.7 234.5h0.8M81.6 233.4h0.8M69.2 218.2h0.8M80.5 225.1h0.8M78.5 221.9h0.8M67.9 226.6h0.8M76.8 238.1h0.8M72.6 234.4h0.8M82.5 220.9h0.8M68.8 222.9h0.8M80.1 230.1h0.8M69.8 233.0h0.8M75.1 227.7h0.8M79.5 234.3h0.8M75.3 219.6h0.8M66.1 238.7h0.8M73.1 235.6h0.8M71.0 230.4h0.8M73.7 228.2h0.8M77.3 221.2h0.8M68.4 228.8h0.8M71.8 224.1h0.8M70.4 236.6h0.8M72.9 228.6h0.8M80.4 238.6h0.8M71.8 219.0h0.8M79.1 217.0h0.8M74.1 217.4h0.8M75.9 237.1h0.8M70.3 227.9h0.8M76.0 223.3h0.8M67.0 226.7h0.8M68.9 224.9h0.8M73.2 226.9h0.8M65.0 229.6h0.8M69.6 226.7h0.8M79.7 236.9h0.8M73.0 228.5h0.8M72.0 232.6h0.8M64.5 222.9h0.8M74.6 218.0h0.8M65.9 226.9h0.8M75.8 221.9h0.8M68.7 230.2h0.8M72.1 219.5h0.8M68.3 222.1h0.8M73.4 229.6h0.8M68.9 224.7h0.8M72.1 228.2h0.8M81.8 219.1h0.8M76.8 218.1h0.8M70.6 214.7h0.8M76.2 219.4h0.8M83.3 232.8h0.8M77.3 229.0h0.8M74.0 230.2h0.8M79.6 232.0h0.8M81.0 233.2h0.8M73.9 227.5h0.8M81.7 240.0h0.8M67.1 230.2h0.8M68.6 226.3h0.8M69.7 225.5h0.8M73.8 234.1h0.8M70.6 228.3h0.8M74.6 219.8h0.8M71.6 232.9h0.8M73.4 218.5h0.8M78.6 235.8h0.8M77.0 220.1h0.8M75.1 231.2h0.8M73.7 220.5h0.8M72.2 226.7h0.8M79.4 230.0h0.8M76.8 228.3h0.8M75.7 227.6h0.8M65.1 234.7h0.8M77.1 217.6h0.8M71.9 224.8h0.8M72.8 234.2h0.8M75.2 225.2h0.8M76.9 220.4h0.8M68.6 234.1h0.8M78.0 231.3h0.8M77.7 227.8h0.8M71.9 233.0h0.8M80.6 217.4h0.8M71.8 238.0h0.8M72.3 236.6h0.8M71.4 226.7h0.8M73.2 227.9h0.8M70.5 220.5h0.8M69.6 224.2h0.8M78.9 231.1h0.8M77.9 236.1h0.8M71.1 220.7h0.8M76.9 216.2h0.8M80.5 220.6h0.8M72.5 230.2h0.8M69.0 220.0h0.8M71.7 225.0h0.8M79.6 235.3h0.8M78.3 219.0h0.8M71.6 220.4h0.8M74.7 225.8h0.8M71.3 219.0h0.8M75.5 219.4h0.8M79.1 233.2h0.8M73.7 230.6h0.8M75.8 232.6h0.8M74.3 233.0h0.8M70.1 224.9h0.8M66.2 223.1h0.8M65.1 225.8h0.8M67.1 226.0h0.8M75.1 231.8h0.8M67.1 231.1h0.8M65.7 229.2h0.8M75.5 225.2h0.8M74.2 227.1h0.8M70.3 225.8h0.8M73.6 230.4h0.8M80.8 231.0h0.8M73.3 224.3h0.8M66.7 224.7h0.8M72.4 229.0h0.8M75.6 217.8h0.8M70.4 232.5h0.8M66.9 229.1h0.8M78.4 221.1h0.8M70.6 225.3h0.8M71.4 238.1h0.8M71.4 217.2h0.8M66.8 222.3h0.8M66.1 226.6h0.8M73.4 222.9h0.8M76.1 223.0h0.8M67.7 230.3h0.8M80.2 228.9h0.8M76.6 222.5h0.8M76.1 214.4h0.8M78.7 233.4h0.8M75.0 231.6h0.8M74.7 233.9h0.8M77.5 233.4h0.8M76.2 222.2h0.8M67.6 237.6h0.8M73.3 222.6h0.8M75.4 226.6h0.8M66.2 218.8h0.8M66.5 231.8h0.8M73.9 216.7h0.8M67.5 223.0h0.8M77.1 225.4h0.8M73.3 224.8h0.8M68.2 214.3h0.8M79.0 227.6h0.8M69.8 225.6h0.8M66.6 226.5h0.8M73.1 227.2h0.8M69.2 224.7h0.8M71.4 228.4h0.8M78.1 214.5h0.8M76.5 226.1h0.8M74.2 227.6h0.8M73.6 224.5h0.8M71.1 228.6h0.8M80.1 228.9h0.8M71.3 218.0h0.8M74.7 235.9h0.8M73.0 234.7h0.8M74.8 225.0h0.8M72.9 222.7h0.8M73.5 221.5h0.8M80.2 231.0h0.8M67.8 225.7h0.8M72.3 233.9h0.8M78.7 226.3h0.8M64.5 227.2h0.8M73.6 222.6h0.8M72.2 224.5h0.8M77.4 217.8h0.8M75.0 217.7h0.8M70.4 231.8h0.8M79.0 239.2h0.8M77.4 229.9h0.8M73.6 236.0h0.8M73.1 230.9h0.8M76.8 229.0h0.8M76.1 226.8h0.8M81.4 222.2h0.8M65.3 234.1h0.8M75.4 223.5h0.8M77.8 226.2h0.8M72.1 223.9h0.8M73.1 222.1h0.8M78.7 236.6h0.8M72.7 226.8h0.8M75.9 221.3h0.8M81.1 229.1h0.8M70.9 220.8h0.8M71.1 231.1h0.8M72.1 218.2h0.8M76.0 223.1h0.8M74.6 222.5h0.8M81.4 235.0h0.8M71.1 235.5h0.8M83.5 221.2h0.8M73.4 228.4h0.8M82.4 228.7h0.8M72.2 230.2h0.8M75.8 220.3h0.8M78.9 222.0h0.8M80.6 227.3h0.8M73.7 230.9h0.8M71.7 234.5h0.8M69.1 235.9h0.8M72.0 230.0h0.8M67.6 238.0h0.8M67.5 234.0h0.8M77.4 225.2h0.8M75.3 230.4h0.8M71.7 231.5h0.8M72.5 227.8h0.8M68.7 223.7h0.8M76.7 224.7h0.8M75.9 227.3h0.8M75.0 228.1h0.8M82.1 220.2h0.8M75.0 228.4h0.8M75.0 229.4h0.8M79.9 226.8h0.8M69.1 223.9h0.8M80.1 235.8h0.8M73.8 226.2h0.8M80.0 223.4h0.8M69.4 237.8h0.8M74.8 226.4h0.8M73.2 231.7h0.8M69.2 218.8h0.8M66.4 225.2h0.8M72.0 232.2h0.8M69.4 230.1h0.8M74.3 235.2h0.8M80.0 222.1h0.8M73.6 232.4h0.8M73.7 233.0h0.8M78.4 226.6h0.8M73.5 226.0h0.8M68.7 228.9h0.8M78.8 233.8h0.8M75.3 236.2h0.8M72.5 232.5h0.8M68.0 230.1h0.8M75.1 230.9h0.8M76.9 231.4h0.8M71.8 227.5h0.8M66.9 234.8h0.8M79.7 226.3h0.8M77.5 227.3h0.8M73.0 220.2h0.8M74.4 228.9h0.8M75.5 230.6h0.8M75.4 228.6h0.8M69.4 234.7h0.8M70.8 217.6h0.8M73.6 220.7h0.8M78.2 229.7h0.8M77.6 236.3h0.8M70.0 228.5h0.8M76.7 224.3h0.8M74.7 226.2h0.8M76.8 219.9h0.8M78.6 230.4h0.8M80.8 231.4h0.8M73.1 239.3h0.8M76.1 221.3h0.8M67.6 227.4h0.8M77.7 220.5h0.8M70.9 226.2h0.8M75.0 233.9h0.8M74.7 226.8h0.8M77.2 232.0h0.8M79.5 222.4h0.8M76.4 222.5h0.8M72.3 234.4h0.8M72.1 233.7h0.8M78.4 223.5h0.8M73.7 232.1h0.8M67.8 232.6h0.8M67.0 222.1h0.8M74.9 221.8h0.8M73.1 228.8h0.8M71.8 221.8h0.8M76.8 225.5h0.8M73.7 223.1h0.8M74.9 230.7h0.8M79.5 237.4h0.8M76.4 231.3h0.8M71.1 213.9h0.8M69.8 224.9h0.8M73.4 229.7h0.8M77.1 231.6h0.8M71.1 221.4h0.8M73.6 232.7h0.8M67.4 232.1h0.8M69.0 236.4h0.8M78.4 234.7h0.8M72.5 233.8h0.8M79.4 230.3h0.8M70.8 223.4h0.8M67.9 225.6h0.8M74.0 235.5h0.8M67.5 236.4h0.8M82.5 220.8h0.8M73.0 235.5h0.8M75.3 227.4h0.8M67.8 232.6h0.8M78.3 226.5h0.8M73.3 231.1h0.8M72.6 215.4h0.8M76.7 220.5h0.8M78.9 233.9h0.8M75.1 225.2h0.8M78.6 222.5h0.8M76.3 222.7h0.8M76.4 231.0h0.8M74.0 228.2h0.8M73.4 229.2h0.8M76.4 226.1h0.8M69.9 230.7h0.8M70.1 230.8h0.8M71.2 229.3h0.8M80.2 227.6h0.8M71.3 220.1h0.8M73.5 235.6h0.8M75.5 221.9h0.8M79.1 219.4h0.8M72.5 223.6h0.8M76.6 226.8h0.8M74.3 228.1h0.8M72.7 233.7h0.8M72.1 232.1h0.8M76.2 232.6h0.8M76.6 224.6h0.8M73.7 227.8h0.8M68.9 228.1h0.8M76.0 227.8h0.8M72.5 227.2h0.8M81.5 222.6h0.8M69.4 223.6h0.8M74.9 221.0h0.8M68.5 222.7h0.8M68.8 220.2h0.8M74.5 227.0h0.8M76.6 227.2h0.8M75.3 230.2h0.8M81.1 223.0h0.8M75.0 229.0h0.8M67.9 222.0h0.8M73.2 231.2h0.8M70.1 231.6h0.8M72.1 227.7h0.8M71.0 232.0h0.8M65.4 225.6h0.8M70.7 223.4h0.8M76.0 226.4h0.8M78.3 237.6h0.8M76.8 235.3h0.8M81.2 221.2h0.8M70.3 225.8h0.8M75.2 226.5h0.8M72.7 231.9h0.8M79.2 232.2h0.8M73.9 222.0h0.8M72.8 226.8h0.8M68.6 234.1h0.8M72.1 226.9h0.8M71.9 231.5h0.8M79.8 217.0h0.8M78.2 226.1h0.8M68.0 229.5h0.8M78.3 228.2h0.8M73.1 221.7h0.8M70.3 229.9h0.8M71.9 230.4h0.8M67.8 236.3h0.8M71.0 234.4h0.8M73.3 222.9h0.8M71.7 237.8h0.8M75.4 231.5h0.8M69.6 222.4h0.8M66.9 233.3h0.8M74.8 223.8h0.8M69.4 235.0h0.8M73.1 221.7h0.8M68.4 225.4h0.8M72.7 218.3h0.8M72.6 219.3h0.8M74.3 220.8h0.8M74.3 228.7h0.8M78.5 229.1h0.8M72.0 231.0h0.8M73.5 217.8h0.8M71.6 230.6h0.8M71.4 231.9h0.8M78.7 223.3h0.8M70.7 231.4h0.8M78.1 231.6h0.8M70.8 228.7h0.8M68.6 225.4h0.8M76.6 235.9h0.8M74.0 236.3h0.8M71.5 228.4h0.8M67.1 225.8h0.8M73.9 221.7h0.8M75.2 223.7h0.8M81.1 224.6h0.8M74.4 222.0h0.8M79.9 230.7h0.8M75.5 235.1h0.8M74.2 228.8h0.8M80.0 221.3h0.8M75.3 228.6h0.8M73.3 214.2h0.8M79.2 228.7h0.8M70.4 224.4h0.8M74.6 239.2h0.8M70.3 225.0h0.8M66.6 235.8h0.8M83.0 221.5h0.8M70.9 225.8h0.8M67.8 223.0h0.8M73.3 233.4h0.8M70.8 223.2h0.8M68.2 229.9h0.8M67.9 232.3h0.8M75.3 235.0h0.8M71.3 225.3h0.8M73.9 224.2h0.8M68.7 222.1h0.8M75.1 229.7h0.8M78.5 230.3h0.8M68.8 226.8h0.8M79.1 233.1h0.8M70.9 219.1h0.8M77.4 219.7h0.8M74.8 233.5h0.8M69.3 231.9h0.8M72.2 220.5h0.8M81.1 214.5h0.8M74.7 230.9h0.8M77.0 227.5h0.8M75.4 228.9h0.8M74.7 225.3h0.8M71.1 227.6h0.8M70.8 223.4h0.8M71.1 231.7h0.8M77.3 221.1h0.8M74.7 230.9h0.8M74.6 229.8h0.8M81.5 225.0h0.8M74.7 234.9h0.8M76.8 224.1h0.8M77.5 231.9h0.8M77.6 223.1h0.8M74.2 225.0h0.8M78.6 222.6h0.8M75.6 230.3h0.8M66.8 232.0h0.8M73.1 227.0h0.8M77.4 226.3h0.8M75.0 223.0h0.8M72.7 229.1h0.8M71.1 226.3h0.8M75.0 228.6h0.8M81.0 224.1h0.8M74.1 228.7h0.8M81.1 227.4h0.8M75.2 222.2h0.8M74.5 225.6h0.8M78.5 231.5h0.8M69.1 230.8h0.8M73.3 215.2h0.8M71.7 219.3h0.8M72.1 219.1h0.8M80.6 226.6h0.8M78.8 219.1h0.8M67.8 238.2h0.8M81.6 227.7h0.8M76.6 228.7h0.8M82.6 236.9h0.8M72.8 232.9h0.8M70.7 227.0h0.8M77.2 218.9h0.8M76.5 226.1h0.8M69.3 227.5h0.8M67.4 236.5h0.8M76.1 224.3h0.8M73.7 228.6h0.8M71.0 229.7h0.8M78.0 226.7h0.8M73.2 223.0h0.8M72.0 231.2h0.8M75.2 230.5h0.8M75.8 234.5h0.8M78.6 235.7h0.8M78.7 227.9h0.8M67.7 227.9h0.8M71.4 232.1h0.8M71.5 229.6h0.8M70.3 236.0h0.8M74.2 222.7h0.8M68.5 231.8h0.8M75.5 232.0h0.8M69.1 222.4h0.8M70.6 232.9h0.8M64.6 234.1h0.8M74.8 218.5h0.8M74.3 223.3h0.8M77.1 223.4h0.8M67.4 220.3h0.8M67.8 221.6h0.8M71.3 228.7h0.8M71.1 223.1h0.8M72.0 234.0h0.8M76.9 226.6h0.8M71.1 221.7h0.8M70.3 221.8h0.8M71.9 228.8h0.8M69.2 234.2h0.8M73.2 231.5h0.8M79.3 231.4h0.8M77.7 232.1h0.8M74.5 225.2h0.8M81.0 222.3h0.8M78.2 222.4h0.8M70.1 237.7h0.8M80.4 227.2h0.8M71.5 220.0h0.8M81.5 230.1h0.8M74.5 223.3h0.8M66.6 228.4h0.8M75.9 226.2h0.8M76.1 227.3h0.8M72.8 231.6h0.8M68.1 227.8h0.8M70.5 225.0h0.8M75.4 233.1h0.8M81.6 226.9h0.8M73.3 230.5h0.8M72.4 226.3h0.8M83.0 226.0h0.8M73.7 221.4h0.8M72.6 218.1h0.8M75.6 227.7h0.8M76.0 230.5h0.8M76.9 233.3h0.8M72.0 226.9h0.8M67.0 221.7h0.8M64.2 217.9h0.8M79.0 222.9h0.8M75.9 224.2h0.8M72.5 227.9h0.8M77.0 224.0h0.8M75.1 221.5h0.8M76.6 221.9h0.8M78.1 221.1h0.8M73.0 226.8h0.8M71.1 225.4h0.8M71.1 234.3h0.8M74.5 233.0h0.8M76.3 216.6h0.8M71.4 233.9h0.8M69.1 217.0h0.8M75.5 216.8h0.8M67.3 226.2h0.8M80.8 229.7h0.8M68.8 215.2h0.8M69.0 223.2h0.8M69.0 227.6h0.8M79.3 229.1h0.8M76.9 220.1h0.8M82.7 229.8h0.8M75.5 225.3h0.8M79.9 235.5h0.8M72.1 224.6h0.8M76.1 223.2h0.8M71.9 220.2h0.8M67.1 221.5h0.8M71.6 234.2h0.8M79.7 218.0h0.8M68.5 220.6h0.8M72.5 227.8h0.8M76.9 236.1h0.8M72.8 229.7h0.8M70.4 235.8h0.8M74.5 232.8h0.8M77.2 216.8h0.8M79.0 224.8h0.8M74.5 222.3h0.8M80.2 233.6h0.8M71.3 225.3h0.8M81.8 222.2h0.8M77.6 214.7h0.8M71.1 238.1h0.8M77.5 230.2h0.8M78.7 228.7h0.8M71.7 229.4h0.8M74.0 232.9h0.8M79.6 229.9h0.8M72.0 230.6h0.8M73.0 236.0h0.8M76.9 225.4h0.8M77.0 221.5h0.8M74.3 219.2h0.8M69.7 219.0h0.8M71.1 226.4h0.8M72.2 227.1h0.8M78.9 216.4h0.8M73.5 221.9h0.8M65.7 218.9h0.8M80.9 230.5h0.8M82.2 230.2h0.8M72.9 228.5h0.8M83.2 230.0h0.8M72.7 224.0h0.8M71.0 220.3h0.8M70.1 228.7h0.8M74.0 231.5h0.8M82.0 228.9h0.8M76.9 217.8h0.8M70.9 228.3h0.8M73.2 237.7h0.8M73.7 223.0h0.8M72.1 226.3h0.8M72.7 231.6h0.8M66.1 229.5h0.8M71.0 237.9h0.8M65.3 233.1h0.8M77.4 216.2h0.8M74.9 225.0h0.8M74.3 222.1h0.8M82.7 228.2h0.8M83.6 228.0h0.8M73.4 231.8h0.8M74.7 222.0h0.8M78.8 223.1h0.8M76.2 234.4h0.8M78.8 234.7h0.8M76.1 221.6h0.8M79.4 226.6h0.8M75.3 220.4h0.8M76.5 220.7h0.8M74.7 227.6h0.8M71.1 225.1h0.8M71.4 223.7h0.8M73.1 224.3h0.8M72.2 224.4h0.8M77.6 219.8h0.8M82.4 233.4h0.8M82.6 224.0h0.8M72.6 221.8h0.8M75.3 229.5h0.8M72.5 220.3h0.8M78.8 229.7h0.8M78.8 227.8h0.8M72.0 221.5h0.8M75.2 228.8h0.8M67.4 232.9h0.8M74.7 228.0h0.8M71.0 218.5h0.8M77.6 225.9h0.8M73.0 233.2h0.8M73.9 216.1h0.8M74.3 227.0h0.8M75.5 221.4h0.8M73.8 226.1h0.8M69.5 234.8h0.8M69.0 229.5h0.8M76.6 218.6h0.8M70.0 231.8h0.8M72.9 231.5h0.8M72.0 239.0h0.8M79.0 220.3h0.8M71.1 224.8h0.8M73.3 225.9h0.8M64.5 224.1h0.8M72.5 229.9h0.8M78.6 224.7h0.8M70.1 223.6h0.8M73.8 230.0h0.8M80.6 224.9h0.8M73.7 236.1h0.8M75.9 230.1h0.8M81.1 235.5h0.8M78.8 228.0h0.8M77.0 225.7h0.8M73.0 217.4h0.8M79.1 231.8h0.8M69.0 229.8h0.8M68.6 217.3h0.8M79.7 225.7h0.8M71.7 224.7h0.8M75.4 237.1h0.8M76.0 224.8h0.8M75.1 226.0h0.8M74.6 226.3h0.8M81.5 232.3h0.8M74.2 230.1h0.8M77.7 221.2h0.8M84.4 232.7h0.8M85.5 225.3h0.8M82.5 223.1h0.8M86.3 225.2h0.8M80.7 223.5h0.8M82.5 226.3h0.8M79.4 225.6h0.8M85.2 229.5h0.8M92.8 223.9h0.8M85.6 226.5h0.8M82.9 224.7h0.8M77.3 220.6h0.8M86.8 220.1h0.8M83.9 232.7h0.8M80.1 230.0h0.8M94.4 223.9h0.8M91.0 218.8h0.8M80.5 231.4h0.8M91.8 220.6h0.8M83.7 230.8h0.8M85.2 230.5h0.8M84.5 230.3h0.8M79.5 232.0h0.8M89.5 220.7h0.8M80.3 218.8h0.8M84.8 223.0h0.8M85.5 219.0h0.8M86.9 226.2h0.8M87.4 217.7h0.8M86.3 231.6h0.8M86.6 223.4h0.8M86.6 222.6h0.8M85.2 221.7h0.8M90.0 225.8h0.8M83.3 230.5h0.8M81.7 225.1h0.8M82.8 222.3h0.8M84.6 226.0h0.8M87.8 222.3h0.8M94.6 226.5h0.8M91.3 224.1h0.8M85.3 226.4h0.8M79.6 222.3h0.8M79.7 221.8h0.8M85.6 228.3h0.8M80.2 232.4h0.8M85.0 215.4h0.8M84.3 219.6h0.8M82.2 220.6h0.8M89.6 234.1h0.8M85.1 226.8h0.8M78.7 225.3h0.8M85.9 231.0h0.8M80.7 224.7h0.8M88.7 229.4h0.8M80.0 225.0h0.8M87.0 230.3h0.8M82.6 222.1h0.8M79.9 219.3h0.8M85.3 223.5h0.8M90.8 222.9h0.8M75.1 219.2h0.8M73.0 222.6h0.8M88.0 223.1h0.8M89.8 214.0h0.8M81.8 223.2h0.8M82.2 228.9h0.8M82.1 217.4h0.8M85.1 224.0h0.8M80.1 223.0h0.8M73.7 218.2h0.8M74.6 226.5h0.8M92.4 228.0h0.8M85.7 231.4h0.8M94.8 223.1h0.8M80.9 227.7h0.8M85.4 217.5h0.8M84.8 228.3h0.8M85.2 219.0h0.8M91.6 225.4h0.8M91.1 224.4h0.8M82.2 222.2h0.8M90.4 226.2h0.8M92.9 218.2h0.8M82.3 228.0h0.8M80.6 219.1h0.8M83.4 223.5h0.8M84.6 220.2h0.8M81.4 224.3h0.8M81.1 228.6h0.8M90.9 225.7h0.8M82.4 227.8h0.8M87.3 216.4h0.8M86.6 225.5h0.8M86.8 229.9h0.8M86.1 230.6h0.8M81.9 230.1h0.8M83.0 226.7h0.8M78.1 223.9h0.8M90.3 225.4h0.8M83.7 220.2h0.8M83.5 228.6h0.8M84.2 233.8h0.8M80.6 227.3h0.8M79.8 227.5h0.8M82.7 216.5h0.8M84.3 230.4h0.8M93.4 221.7h0.8M86.3 224.3h0.8M93.9 225.9h0.8M87.5 217.3h0.8M82.0 217.7h0.8M84.5 232.1h0.8M82.2 221.8h0.8M80.0 222.9h0.8M78.3 229.5h0.8M87.6 226.3h0.8M82.3 218.5h0.8M76.0 223.7h0.8M85.5 225.0h0.8M92.3 233.2h0.8M89.1 226.2h0.8M92.6 224.7h0.8M83.4 220.7h0.8M82.3 229.8h0.8M78.1 232.6h0.8M85.2 216.6h0.8M93.6 217.9h0.8M79.1 221.0h0.8M80.9 217.6h0.8M84.2 221.5h0.8M87.7 231.9h0.8M86.5 221.5h0.8M80.2 224.4h0.8M95.6 222.6h0.8M86.0 220.3h0.8M81.5 221.5h0.8M79.7 219.4h0.8M82.0 227.5h0.8M87.3 223.2h0.8M82.5 221.5h0.8M87.6 226.3h0.8M85.2 225.9h0.8M87.6 222.1h0.8M86.3 215.1h0.8M85.0 226.3h0.8M78.5 222.7h0.8M89.5 221.9h0.8M82.4 228.1h0.8M74.4 220.3h0.8M87.2 222.0h0.8M84.8 231.3h0.8M77.8 223.2h0.8M79.5 227.2h0.8M81.3 222.4h0.8M76.7 225.9h0.8M89.8 224.6h0.8M79.4 228.7h0.8M91.2 227.1h0.8M77.2 220.8h0.8M81.5 226.3h0.8M75.8 217.4h0.8M89.2 226.5h0.8M78.0 215.2h0.8M85.9 226.1h0.8M81.6 224.1h0.8M86.3 219.5h0.8M83.3 232.0h0.8M85.1 224.4h0.8M80.4 214.3h0.8M83.9 228.8h0.8M83.4 223.9h0.8M92.4 218.4h0.8M74.8 226.3h0.8M89.5 230.2h0.8M79.0 225.1h0.8M87.7 227.3h0.8M83.2 219.0h0.8M86.2 220.0h0.8M77.8 215.7h0.8M95.9 225.3h0.8M78.3 219.3h0.8M85.3 224.9h0.8M79.6 215.9h0.8M81.9 226.8h0.8M84.9 227.3h0.8M85.5 223.1h0.8M95.0 231.2h0.8M84.7 220.3h0.8M81.7 221.1h0.8M86.7 224.7h0.8M88.8 220.5h0.8M91.8 232.5h0.8M80.6 217.1h0.8M91.6 219.4h0.8M89.0 233.5h0.8M82.0 229.5h0.8M85.6 230.8h0.8M87.3 218.9h0.8M85.1 226.5h0.8M86.3 226.7h0.8M78.8 215.5h0.8M84.0 218.5h0.8M86.1 224.3h0.8M78.8 226.9h0.8M88.9 229.7h0.8M80.1 231.6h0.8M78.0 219.1h0.8M78.5 226.2h0.8M82.5 226.9h0.8M74.3 231.3h0.8M89.4 229.8h0.8M85.8 226.8h0.8M85.8 231.7h0.8M87.2 222.8h0.8M81.0 224.1h0.8M79.2 234.8h0.8M83.6 222.9h0.8M77.0 227.2h0.8M88.9 221.3h0.8M79.7 223.3h0.8M76.6 221.2h0.8M92.0 219.2h0.8M82.4 227.7h0.8M79.4 220.7h0.8M80.5 225.6h0.8M83.0 222.1h0.8M80.2 229.3h0.8M77.6 226.2h0.8M76.2 223.1h0.8M88.8 224.0h0.8M81.7 225.2h0.8M89.3 228.0h0.8M80.7 224.1h0.8M80.7 226.6h0.8M81.1 227.2h0.8M87.4 227.2h0.8M82.4 226.6h0.8M92.0 226.6h0.8M94.8 222.8h0.8M92.1 224.9h0.8M88.2 222.6h0.8M74.3 222.2h0.8M80.0 225.1h0.8M80.2 224.4h0.8M84.3 219.0h0.8M84.5 223.0h0.8M81.3 218.6h0.8M96.0 220.3h0.8M84.4 233.6h0.8M81.8 222.5h0.8M90.1 223.1h0.8M84.2 224.9h0.8M78.1 218.3h0.8M89.5 229.8h0.8M80.3 222.6h0.8M81.4 225.2h0.8M79.9 228.2h0.8M77.2 216.4h0.8M87.6 216.9h0.8M78.2 226.3h0.8M84.9 232.2h0.8M85.5 220.8h0.8M78.6 222.1h0.8M89.0 217.2h0.8M86.8 222.8h0.8M80.3 229.6h0.8M79.7 221.6h0.8M90.8 225.1h0.8M81.2 224.5h0.8M82.6 220.8h0.8M90.3 222.7h0.8M75.7 224.6h0.8M86.8 225.8h0.8M78.9 228.8h0.8M83.8 228.0h0.8M82.7 226.5h0.8M84.6 232.6h0.8M88.5 225.2h0.8M82.3 221.0h0.8M83.2 219.6h0.8M77.8 224.1h0.8M86.3 234.9h0.8M88.5 228.5h0.8M78.6 222.7h0.8M84.2 221.8h0.8M83.4 221.6h0.8M81.1 225.1h0.8M84.3 226.9h0.8M74.7 235.0h0.8M87.6 220.5h0.8M84.4 229.0h0.8M80.3 229.0h0.8M87.4 233.9h0.8M88.4 221.3h0.8M80.3 222.6h0.8M80.8 221.1h0.8M89.0 227.5h0.8M81.5 223.1h0.8M84.8 226.5h0.8M94.1 218.5h0.8M95.4 218.4h0.8M87.5 226.8h0.8M80.0 221.2h0.8M85.8 228.4h0.8M91.4 223.5h0.8M83.3 221.0h0.8M82.5 214.9h0.8M92.6 222.4h0.8M85.8 219.0h0.8M86.9 226.8h0.8M90.4 216.6h0.8M85.6 221.1h0.8M74.0 230.2h0.8M85.9 228.0h0.8M83.2 230.2h0.8M82.7 215.1h0.8M87.7 229.7h0.8M81.4 223.8h0.8M80.7 224.0h0.8M84.5 224.1h0.8M85.2 229.5h0.8M89.0 220.4h0.8M82.7 229.6h0.8M83.5 218.8h0.8M87.8 218.6h0.8M76.8 227.3h0.8M82.8 226.0h0.8M77.5 224.8h0.8M85.3 217.5h0.8M79.9 214.2h0.8M83.7 219.3h0.8M79.8 224.3h0.8M88.4 230.1h0.8M92.7 223.2h0.8M93.3 228.5h0.8M81.6 229.3h0.8M88.0 232.2h0.8M77.5 216.1h0.8M84.7 228.3h0.8M95.5 227.3h0.8M78.5 232.8h0.8M80.7 221.8h0.8M76.4 225.1h0.8M79.6 232.1h0.8M86.2 231.2h0.8M80.7 219.4h0.8M80.8 233.1h0.8M80.9 229.8h0.8M87.1 219.1h0.8M84.5 227.6h0.8M83.8 225.0h0.8M85.1 216.6h0.8M92.0 223.6h0.8M91.1 222.3h0.8M89.0 225.6h0.8M78.6 219.7h0.8M86.0 228.0h0.8M83.5 222.9h0.8M73.1 221.9h0.8M88.6 220.1h0.8M76.5 223.3h0.8M87.5 218.4h0.8M81.2 225.0h0.8M80.7 225.2h0.8M89.1 231.5h0.8M82.9 230.1h0.8M84.3 229.5h0.8M80.2 219.5h0.8M82.7 222.6h0.8M80.2 220.1h0.8M82.9 221.3h0.8M84.1 223.5h0.8M84.2 225.9h0.8M80.6 232.2h0.8M87.9 231.2h0.8M84.5 225.7h0.8M85.0 228.0h0.8M86.1 226.8h0.8M78.6 226.9h0.8M82.6 227.2h0.8M74.7 219.6h0.8M77.6 225.3h0.8M72.7 228.6h0.8M86.9 226.4h0.8M87.5 225.6h0.8M78.2 231.9h0.8M80.3 225.3h0.8M78.2 225.8h0.8M84.1 217.3h0.8M82.0 217.3h0.8M88.6 221.3h0.8M90.4 232.7h0.8M82.8 214.1h0.8M90.6 226.8h0.8M83.7 219.9h0.8M88.9 229.0h0.8M91.3 225.1h0.8M87.4 224.9h0.8M86.9 216.9h0.8M83.9 213.6h0.8M80.7 227.1h0.8M85.0 233.0h0.8M91.3 229.3h0.8M83.0 229.1h0.8M93.1 228.5h0.8M85.8 220.2h0.8M84.4 223.4h0.8M82.0 219.3h0.8M81.7 226.0h0.8M86.6 224.7h0.8M85.7 224.2h0.8M87.1 218.0h0.8M88.6 218.4h0.8M83.8 221.0h0.8M81.4 223.9h0.8M84.9 221.7h0.8M88.2 224.1h0.8M84.1 227.5h0.8M94.7 225.9h0.8M85.5 223.6h0.8M82.1 233.0h0.8M84.5 221.2h0.8M85.5 222.3h0.8M82.5 217.7h0.8M85.3 222.3h0.8M82.4 225.3h0.8M87.0 231.2h0.8M90.5 220.3h0.8M82.5 227.9h0.8M84.3 225.7h0.8M90.8 226.2h0.8M85.7 224.0h0.8M81.4 227.6h0.8M81.2 221.8h0.8M83.1 224.9h0.8M76.5 220.9h0.8M85.5 226.1h0.8M85.3 229.4h0.8M90.0 231.5h0.8M83.8 231.9h0.8M87.1 222.5h0.8M82.9 230.3h0.8M76.9 225.7h0.8M87.7 225.3h0.8M82.7 222.7h0.8M84.9 224.1h0.8M81.9 221.7h0.8M79.6 217.9h0.8M81.1 227.7h0.8M78.0 224.1h0.8M76.4 231.7h0.8M87.5 221.2h0.8M90.1 230.5h0.8M89.4 220.5h0.8M79.4 229.2h0.8M85.7 221.2h0.8M74.2 232.0h0.8M84.7 217.9h0.8M86.1 221.1h0.8M75.9 225.8h0.8M86.5 230.1h0.8M83.0 222.4h0.8M80.3 230.0h0.8M83.0 219.4h0.8M78.5 227.7h0.8M82.6 218.8h0.8M74.4 223.7h0.8M91.9 228.2h0.8M82.9 233.0h0.8M87.0 215.1h0.8M87.3 230.6h0.8M82.0 219.6h0.8M84.5 225.7h0.8M82.3 222.3h0.8M83.7 223.1h0.8M91.5 221.0h0.8M84.1 219.6h0.8M86.7 221.4h0.8M73.7 219.6h0.8M81.7 217.8h0.8M80.2 220.6h0.8M85.1 219.3h0.8M81.3 219.7h0.8M80.1 228.2h0.8M82.5 221.8h0.8M83.8 221.7h0.8M77.7 224.3h0.8M88.1 233.6h0.8M82.3 214.9h0.8M86.7 225.3h0.8M75.7 229.3h0.8M81.6 218.6h0.8M95.5 230.2h0.8M83.4 220.6h0.8M89.1 231.2h0.8M89.5 217.7h0.8M84.2 215.7h0.8M85.0 227.6h0.8M85.0 227.1h0.8M87.9 225.8h0.8M83.6 227.1h0.8M81.2 215.2h0.8M78.3 224.8h0.8M83.7 221.6h0.8M81.0 217.1h0.8M84.9 225.9h0.8M89.5 224.8h0.8M85.5 228.3h0.8M76.0 226.7h0.8M89.5 214.6h0.8M86.2 221.9h0.8M78.1 221.9h0.8M80.3 226.3h0.8M86.9 216.8h0.8M78.6 222.9h0.8M77.8 231.3h0.8M81.9 232.1h0.8M82.1 222.4h0.8M86.3 223.3h0.8M84.8 235.3h0.8M90.4 228.7h0.8M88.9 226.4h0.8M83.3 232.8h0.8M92.5 222.9h0.8M91.2 226.8h0.8M79.9 223.7h0.8M82.5 231.1h0.8M77.8 225.8h0.8M81.8 226.5h0.8M85.7 224.3h0.8M78.2 229.9h0.8M82.3 233.9h0.8M88.9 224.5h0.8M75.6 227.5h0.8M80.2 229.6h0.8M93.6 233.6h0.8M88.6 231.9h0.8M80.4 229.3h0.8M85.6 216.1h0.8M87.7 217.4h0.8M85.1 225.7h0.8M91.2 233.4h0.8M87.2 221.3h0.8M85.3 224.8h0.8M90.4 221.4h0.8M90.4 217.8h0.8M89.2 223.0h0.8M79.3 221.5h0.8M76.3 234.5h0.8M89.4 234.4h0.8M83.6 220.0h0.8M87.8 216.7h0.8M79.8 226.4h0.8M84.6 214.3h0.8M87.8 227.9h0.8M78.1 225.7h0.8M94.0 219.7h0.8M83.9 226.4h0.8M82.4 222.7h0.8M74.8 219.9h0.8M85.8 219.0h0.8M84.3 230.1h0.8M95.5 229.2h0.8M78.9 219.2h0.8M78.5 227.2h0.8M83.8 229.3h0.8M76.6 221.5h0.8M85.7 227.1h0.8M89.9 225.7h0.8M82.5 229.2h0.8M88.7 230.3h0.8M88.5 227.5h0.8M81.2 221.3h0.8M76.4 222.2h0.8M77.7 227.9h0.8M91.4 228.1h0.8M83.9 222.2h0.8M78.2 218.2h0.8M94.6 215.0h0.8M85.1 231.5h0.8M84.0 230.4h0.8M94.6 231.0h0.8M87.6 227.6h0.8M84.4 220.9h0.8M85.4 227.9h0.8M73.9 225.1h0.8M83.4 224.4h0.8M81.9 221.9h0.8M85.3 228.8h0.8M80.4 229.8h0.8M84.8 223.3h0.8M89.6 228.4h0.8M77.8 226.2h0.8M87.2 225.7h0.8M81.8 220.6h0.8M89.1 228.4h0.8M95.3 230.0h0.8M82.4 215.8h0.8M87.5 225.8h0.8M94.0 215.2h0.8M83.9 221.4h0.8M86.9 225.0h0.8M87.5 228.2h0.8M85.4 229.8h0.8M91.7 221.2h0.8M95.0 231.0h0.8M84.1 225.5h0.8M84.2 225.5h0.8M80.9 227.7h0.8M79.3 223.3h0.8M79.5 222.4h0.8M80.6 219.8h0.8M84.6 219.1h0.8M84.4 228.4h0.8M91.2 227.6h0.8M82.7 222.9h0.8M83.5 223.7h0.8M91.8 214.1h0.8M76.6 223.0h0.8M73.1 230.5h0.8M86.5 224.5h0.8M89.5 226.6h0.8M86.3 216.2h0.8M78.5 224.1h0.8M86.7 229.5h0.8M83.4 223.5h0.8M84.7 230.0h0.8M86.4 216.3h0.8M78.0 224.5h0.8M86.9 223.8h0.8M90.2 224.0h0.8M82.8 229.3h0.8M88.8 227.3h0.8M82.3 225.4h0.8M90.3 215.4h0.8M84.5 227.5h0.8M90.9 222.0h0.8M78.4 215.4h0.8M89.6 224.2h0.8M80.7 222.7h0.8M86.0 227.4h0.8M83.2 219.9h0.8M87.0 221.1h0.8M89.0 218.1h0.8M94.9 230.2h0.8M73.7 230.7h0.8M90.2 223.8h0.8M92.0 217.5h0.8M90.0 225.4h0.8M86.9 232.3h0.8M77.9 225.4h0.8M87.4 227.4h0.8M73.5 226.2h0.8M77.8 216.7h0.8M83.5 219.0h0.8M80.7 218.3h0.8M77.1 227.8h0.8M84.4 225.2h0.8M83.8 215.0h0.8M73.7 218.2h0.8M87.1 228.2h0.8M83.0 220.4h0.8M84.0 226.8h0.8M82.0 223.2h0.8M79.7 227.1h0.8M83.2 223.2h0.8M86.9 226.1h0.8M90.7 227.9h0.8M80.9 218.2h0.8M94.3 226.0h0.8M84.4 218.8h0.8M79.7 221.7h0.8M74.0 229.8h0.8M80.8 223.1h0.8M90.5 222.3h0.8M93.6 231.5h0.8M81.6 231.1h0.8M89.8 227.0h0.8M88.6 227.3h0.8M81.1 217.5h0.8M94.6 216.2h0.8M81.2 225.8h0.8M76.0 222.1h0.8M83.3 218.8h0.8M84.2 224.8h0.8M82.0 227.7h0.8M83.0 218.0h0.8M90.3 219.6h0.8M82.6 228.6h0.8M81.5 229.4h0.8M86.0 226.2h0.8M75.1 220.9h0.8M89.9 230.5h0.8M91.5 222.1h0.8M85.7 223.3h0.8M81.4 220.7h0.8M79.9 230.0h0.8M79.8 219.4h0.8M88.1 232.2h0.8M80.7 223.6h0.8M86.5 226.2h0.8M85.9 229.6h0.8M82.2 228.4h0.8M83.5 223.7h0.8M88.0 231.6h0.8M80.3 214.9h0.8M82.1 229.5h0.8M82.2 231.4h0.8M88.4 230.8h0.8M82.8 221.0h0.8M79.4 227.9h0.8M82.8 231.8h0.8M77.0 219.4h0.8M84.3 221.9h0.8M90.1 231.3h0.8M79.3 215.4h0.8M96.2 215.5h0.8M86.1 228.6h0.8M77.2 221.4h0.8M73.8 235.3h0.8M83.2 216.4h0.8M91.0 215.6h0.8M79.9 224.2h0.8M83.9 222.1h0.8M90.5 235.0h0.8M89.3 221.8h0.8M82.6 221.8h0.8M85.9 219.7h0.8M85.0 222.4h0.8M80.4 216.2h0.8M75.3 226.8h0.8M91.5 229.4h0.8M85.9 233.3h0.8M81.1 224.4h0.8M84.8 220.2h0.8M80.9 221.8h0.8M90.8 223.5h0.8M85.6 229.1h0.8M75.4 226.5h0.8M90.0 228.8h0.8M92.2 224.2h0.8M89.6 222.3h0.8M78.1 231.7h0.8M87.4 223.8h0.8M95.9 220.5h0.8M86.3 218.4h0.8M80.4 234.1h0.8M73.0 221.9h0.8M86.7 221.0h0.8M91.7 220.7h0.8M76.9 219.1h0.8M82.9 226.9h0.8M87.8 225.5h0.8M82.4 231.1h0.8M82.8 219.2h0.8M85.3 232.6h0.8M91.6 223.9h0.8M80.8 217.7h0.8M91.4 218.5h0.8M75.9 224.3h0.8M81.4 224.4h0.8M89.4 222.6h0.8M87.4 223.5h0.8M74.2 231.3h0.8M85.8 228.1h0.8M91.3 232.4h0.8M79.8 222.9h0.8M90.7 226.5h0.8M86.5 224.5h0.8M84.7 220.3h0.8M86.8 221.1h0.8M90.9 220.4h0.8M87.2 220.9h0.8M86.7 222.5h0.8M87.7 224.1h0.8M85.5 224.3h0.8M88.7 221.8h0.8M82.3 231.1h0.8M92.1 217.6h0.8M79.1 220.4h0.8M79.9 219.1h0.8M78.6 226.3h0.8M76.5 224.7h0.8M84.5 226.1h0.8M80.3 217.8h0.8M91.7 220.0h0.8M87.0 221.8h0.8M89.2 225.1h0.8M83.9 233.1h0.8M82.7 231.8h0.8M84.1 222.6h0.8M79.7 219.4h0.8M86.9 232.9h0.8M82.1 223.0h0.8M91.4 225.6h0.8M92.5 216.9h0.8M89.0 221.6h0.8M84.9 220.9h0.8M88.4 221.1h0.8" stroke="#ff1a1a" stroke-width="0.8" stroke-opacity="0.48" fill="none"/><path d="M170.9 229.1h0.8M170.9 241.6h0.8M159.2 236.8h0.8M168.8 239.1h0.8M173.4 235.3h0.8M173.0 241.9h0.8M161.1 233.9h0.8M163.7 237.4h0.8M168.0 213.8h0.8M199.2 239.7h0.8M166.8 219.6h0.8M161.5 225.6h0.8M180.9 242.3h0.8M165.8 232.7h0.8M149.2 228.4h0.8M157.5 246.4h0.8M128.3 219.8h0.8M148.2 246.3h0.8M156.3 236.8h0.8M170.7 241.9h0.8M167.0 241.2h0.8M161.3 234.0h0.8M170.4 227.3h0.8M179.0 229.5h0.8M196.1 262.4h0.8M154.2 219.0h0.8M163.3 235.4h0.8M151.8 251.8h0.8M177.4 261.1h0.8M160.7 223.2h0.8M169.6 241.0h0.8M164.8 257.4h0.8M170.9 234.2h0.8M163.3 243.0h0.8M166.7 209.7h0.8M144.6 240.2h0.8M146.6 262.6h0.8M158.4 240.3h0.8M163.1 228.6h0.8M151.5 245.9h0.8M146.5 232.6h0.8M165.6 244.3h0.8M143.1 249.1h0.8M177.9 252.4h0.8M168.6 234.0h0.8M167.6 235.0h0.8M137.7 261.7h0.8M158.6 244.5h0.8M157.0 252.1h0.8M170.9 243.9h0.8M156.5 232.8h0.8M168.7 237.5h0.8M139.9 236.3h0.8M185.0 243.7h0.8M164.7 232.7h0.8M152.9 264.1h0.8M160.3 230.5h0.8M146.9 228.1h0.8M170.3 225.3h0.8M147.8 230.1h0.8M180.1 256.2h0.8M153.8 240.3h0.8M156.1 230.7h0.8M158.0 262.9h0.8M170.6 240.6h0.8M172.4 245.6h0.8M165.9 230.5h0.8M143.7 215.6h0.8M152.5 240.1h0.8M172.5 229.8h0.8M161.8 237.9h0.8M162.1 260.2h0.8M180.3 221.6h0.8M180.0 241.1h0.8M160.3 237.5h0.8M169.9 245.3h0.8M167.1 230.9h0.8M146.0 236.7h0.8M146.1 256.3h0.8M161.0 234.6h0.8" stroke="#000" stroke-width="0.8" stroke-opacity="0.22" fill="none"/><path d="M150.3 245.8h0.8M157.5 250.3h0.8M144.0 246.5h0.8M160.9 245.2h0.8M156.5 249.0h0.8M149.6 247.8h0.8M151.9 248.8h0.8M140.6 243.3h0.8M154.9 250.1h0.8M153.9 250.7h0.8M156.4 241.5h0.8M142.9 253.4h0.8M156.5 247.2h0.8M156.2 249.1h0.8M153.6 248.0h0.8M148.4 242.1h0.8M145.2 251.2h0.8M147.3 246.6h0.8M148.6 238.4h0.8M147.7 246.4h0.8M155.6 239.2h0.8M151.5 245.1h0.8M149.7 238.2h0.8M151.4 240.9h0.8M150.0 249.1h0.8M141.7 243.6h0.8M145.0 241.8h0.8M159.1 240.6h0.8M158.8 239.7h0.8M158.3 252.5h0.8M151.4 242.6h0.8M147.9 245.0h0.8M152.2 248.4h0.8M152.9 250.2h0.8M147.2 237.7h0.8M146.7 245.2h0.8M156.1 246.3h0.8M150.2 244.0h0.8M144.1 244.2h0.8M145.3 241.9h0.8M153.2 235.3h0.8M141.7 245.4h0.8M145.2 232.3h0.8M142.6 246.7h0.8M149.0 239.8h0.8M150.1 246.8h0.8M145.6 244.3h0.8M155.6 255.7h0.8M148.5 248.9h0.8M155.4 244.7h0.8M153.5 246.6h0.8M158.2 239.8h0.8M154.7 246.2h0.8M157.1 248.1h0.8M152.2 244.7h0.8M157.0 239.9h0.8M147.7 242.9h0.8M147.7 240.2h0.8M154.4 244.1h0.8M154.4 249.2h0.8M154.6 248.1h0.8M145.4 241.2h0.8M156.7 238.8h0.8M152.1 242.8h0.8M148.5 251.7h0.8M151.7 239.5h0.8M156.8 247.9h0.8M146.4 240.9h0.8M152.9 244.2h0.8M142.8 244.2h0.8M142.4 237.4h0.8M156.4 248.4h0.8M150.1 245.6h0.8M155.1 246.1h0.8M148.9 239.6h0.8M157.5 246.6h0.8M144.7 235.1h0.8M150.1 251.1h0.8M153.8 240.6h0.8M146.3 249.2h0.8M147.5 242.6h0.8M155.3 247.2h0.8M149.7 248.1h0.8M154.7 248.0h0.8M143.1 244.7h0.8M146.3 243.3h0.8M141.6 238.0h0.8M158.5 240.0h0.8M153.8 239.0h0.8M144.4 237.1h0.8M148.5 234.0h0.8M154.0 245.9h0.8M158.7 245.4h0.8M145.9 245.1h0.8M144.9 237.5h0.8M147.4 245.9h0.8M152.0 244.3h0.8M149.2 247.6h0.8M159.8 245.4h0.8M146.3 248.5h0.8M147.7 244.4h0.8M163.8 246.1h0.8M141.7 241.6h0.8M150.6 249.1h0.8M150.1 248.7h0.8M157.6 243.9h0.8M157.3 247.7h0.8M149.7 250.7h0.8M150.9 249.8h0.8M150.9 253.1h0.8M150.3 243.1h0.8M154.4 251.9h0.8M139.4 241.8h0.8M141.4 252.7h0.8M149.3 247.9h0.8M148.4 240.6h0.8M144.4 245.6h0.8M150.1 251.3h0.8M136.2 243.0h0.8M157.3 243.0h0.8M145.9 240.2h0.8M145.3 246.0h0.8M151.3 241.6h0.8M150.2 249.5h0.8M155.9 242.8h0.8M145.4 236.2h0.8M156.3 244.4h0.8M150.4 246.3h0.8M149.1 237.3h0.8M160.1 252.5h0.8M158.1 241.3h0.8M150.6 241.0h0.8M145.1 241.6h0.8M150.5 248.5h0.8M146.5 246.4h0.8M145.1 255.6h0.8M149.5 241.8h0.8M152.1 247.8h0.8M150.0 246.4h0.8M144.4 246.5h0.8M144.9 236.8h0.8M151.0 254.8h0.8M145.9 245.4h0.8M157.0 245.9h0.8M147.1 248.3h0.8M153.1 249.4h0.8M155.2 250.9h0.8M154.4 238.3h0.8M146.8 251.4h0.8M147.6 240.4h0.8M159.6 241.1h0.8M155.1 241.8h0.8M155.1 245.6h0.8M153.0 240.5h0.8M148.1 249.4h0.8M155.5 240.3h0.8M154.8 246.2h0.8M150.5 244.9h0.8M160.4 241.9h0.8M163.4 244.4h0.8" stroke="#333" stroke-width="0.8" stroke-opacity="0.35" fill="none"/><path d="M141.8 246.2h0.8M142.5 240.7h0.8M141.8 246.5h0.8M141.0 250.0h0.8M143.2 252.2h0.8M142.1 251.4h0.8M140.9 239.0h0.8M141.9 246.9h0.8M142.1 241.9h0.8M142.3 248.9h0.8M142.1 250.4h0.8M141.3 248.6h0.8M143.4 249.6h0.8M142.2 248.5h0.8M139.1 244.6h0.8M141.8 252.3h0.8M141.1 241.4h0.8M141.0 244.7h0.8M141.6 245.3h0.8M143.0 239.4h0.8M140.7 248.8h0.8M142.7 246.5h0.8M142.9 251.2h0.8M141.4 247.8h0.8M142.3 249.5h0.8M141.9 242.4h0.8M142.0 251.3h0.8M140.3 241.8h0.8M141.4 241.0h0.8M141.8 251.5h0.8M141.2 251.6h0.8M143.6 246.3h0.8M143.0 245.7h0.8M144.0 251.1h0.8M143.8 246.5h0.8M140.5 248.1h0.8M142.8 251.3h0.8M141.4 251.4h0.8M141.3 240.7h0.8M140.2 242.5h0.8M143.3 247.9h0.8M142.7 248.8h0.8M141.5 242.4h0.8M141.1 243.4h0.8M142.1 247.6h0.8M142.3 249.9h0.8M143.2 245.4h0.8M145.2 245.4h0.8M139.6 247.8h0.8M144.2 241.8h0.8M142.1 242.4h0.8M140.1 244.9h0.8M142.3 248.3h0.8M141.8 247.1h0.8M142.6 246.3h0.8M142.7 248.1h0.8M140.4 240.0h0.8M142.2 251.9h0.8M141.6 248.6h0.8M143.6 250.0h0.8M142.1 251.2h0.8M140.4 244.0h0.8M140.4 246.3h0.8M142.2 251.8h0.8M142.1 246.2h0.8M143.3 245.3h0.8M140.4 244.9h0.8M143.5 244.5h0.8M141.9 238.4h0.8M142.9 248.5h0.8M143.9 247.0h0.8M142.7 239.6h0.8M141.2 242.8h0.8M139.5 242.1h0.8M142.1 247.7h0.8M142.8 251.9h0.8M141.2 245.3h0.8M142.3 251.1h0.8M142.8 249.7h0.8M142.2 245.3h0.8M140.7 240.3h0.8M143.2 241.1h0.8M143.2 241.0h0.8M141.4 248.6h0.8M141.3 239.8h0.8M142.6 251.1h0.8M141.0 248.9h0.8M140.6 242.3h0.8M140.9 249.7h0.8M143.2 239.1h0.8M141.3 249.6h0.8M141.7 243.9h0.8M140.2 241.8h0.8M140.8 251.0h0.8M140.6 238.5h0.8M141.9 244.6h0.8M142.9 245.6h0.8M142.1 249.1h0.8M141.4 250.2h0.8M140.8 250.4h0.8M141.2 248.6h0.8M142.9 249.3h0.8M142.5 244.6h0.8M142.0 247.4h0.8M142.3 249.3h0.8M142.6 250.5h0.8M142.5 250.4h0.8M143.3 245.3h0.8M142.0 248.8h0.8M141.4 252.4h0.8M139.5 246.5h0.8M142.8 242.3h0.8M141.5 238.7h0.8M142.2 249.5h0.8M140.5 239.8h0.8M143.1 250.8h0.8M142.1 251.6h0.8M140.7 248.5h0.8M143.3 248.0h0.8M140.4 241.4h0.8M142.9 239.1h0.8M145.2 241.2h0.8M141.3 242.0h0.8M141.4 247.2h0.8M141.7 240.4h0.8M141.1 244.9h0.8M142.6 251.3h0.8M141.5 250.4h0.8M142.6 242.7h0.8M141.0 241.9h0.8M140.4 246.9h0.8M141.2 242.2h0.8M142.0 242.4h0.8M142.6 242.2h0.8M140.4 247.1h0.8M142.8 250.5h0.8M142.2 246.5h0.8M143.1 249.7h0.8M141.3 241.4h0.8M142.8 250.7h0.8M142.1 251.2h0.8M139.1 240.7h0.8M141.5 251.8h0.8M141.3 247.8h0.8M142.2 251.9h0.8M142.5 244.2h0.8M141.6 250.9h0.8M141.7 242.6h0.8M142.7 248.4h0.8M140.0 243.5h0.8M142.3 251.1h0.8M141.9 245.0h0.8M141.1 249.7h0.8M142.4 250.7h0.8M141.9 248.6h0.8M141.9 245.0h0.8M143.4 246.4h0.8M142.4 251.9h0.8M141.4 247.1h0.8M142.9 251.0h0.8M142.8 251.4h0.8M142.7 249.1h0.8M142.1 246.0h0.8M141.4 240.2h0.8M144.5 247.5h0.8M142.7 250.5h0.8M140.9 247.7h0.8M141.0 246.6h0.8M143.3 244.0h0.8M142.8 245.6h0.8M140.8 246.8h0.8M141.0 241.2h0.8M142.4 249.6h0.8M141.9 244.6h0.8M142.4 251.4h0.8M142.3 250.0h0.8M140.8 245.6h0.8M141.6 239.2h0.8M144.0 247.6h0.8M140.5 241.2h0.8M141.2 248.3h0.8M142.2 244.0h0.8M139.8 248.5h0.8M141.2 249.2h0.8M142.6 250.9h0.8M143.4 242.7h0.8M141.6 252.3h0.8M142.4 251.1h0.8M142.3 249.5h0.8M144.8 239.8h0.8M141.7 249.0h0.8M141.3 243.5h0.8M143.1 249.7h0.8M142.3 246.7h0.8M141.6 248.0h0.8M142.3 250.8h0.8M141.3 251.8h0.8M141.9 243.8h0.8M142.7 251.5h0.8M141.1 246.8h0.8M143.4 242.5h0.8M143.0 250.7h0.8M142.4 241.2h0.8M142.4 252.0h0.8M139.5 238.7h0.8M141.2 246.0h0.8M140.6 247.9h0.8M140.2 239.8h0.8M142.6 246.3h0.8M140.0 245.0h0.8M141.7 248.9h0.8M141.9 250.7h0.8M142.0 251.3h0.8M140.2 241.4h0.8M142.0 248.9h0.8M144.4 244.5h0.8M140.7 238.7h0.8M141.8 245.0h0.8M141.4 244.3h0.8M142.7 247.3h0.8M141.1 238.0h0.8M143.7 238.3h0.8M143.0 244.2h0.8M141.5 239.0h0.8M142.0 252.3h0.8M139.8 243.4h0.8M142.0 248.2h0.8M143.8 252.3h0.8M141.9 250.1h0.8M144.6 245.9h0.8M141.6 247.4h0.8M141.0 244.6h0.8M140.3 239.3h0.8M142.4 250.6h0.8M142.5 247.0h0.8M142.3 249.1h0.8M139.6 244.2h0.8M141.9 250.9h0.8M142.4 250.0h0.8M144.5 249.2h0.8M141.4 240.3h0.8M141.1 245.6h0.8M143.6 250.6h0.8M142.5 249.7h0.8M143.0 249.5h0.8M140.7 238.8h0.8M141.3 244.7h0.8M141.0 251.4h0.8M142.5 248.6h0.8M142.6 249.6h0.8M142.5 246.8h0.8M143.6 247.4h0.8M143.5 246.2h0.8M141.7 251.7h0.8M143.0 250.7h0.8M141.2 249.0h0.8M141.5 238.9h0.8M141.4 242.1h0.8M141.5 247.5h0.8M141.7 244.0h0.8M143.4 246.5h0.8M143.4 239.8h0.8M142.1 246.8h0.8M140.8 242.3h0.8M142.7 252.2h0.8M142.9 242.8h0.8M142.3 245.5h0.8M143.1 245.3h0.8M142.2 240.4h0.8M143.8 246.5h0.8M143.5 249.1h0.8M141.5 251.7h0.8M142.7 249.3h0.8M142.1 250.3h0.8M143.4 246.7h0.8M143.2 240.3h0.8M142.2 241.8h0.8M142.2 240.0h0.8M141.5 241.2h0.8M142.7 251.8h0.8M142.3 248.4h0.8M143.4 242.3h0.8M141.7 251.4h0.8M142.6 250.1h0.8M142.1 238.3h0.8M142.5 242.4h0.8M141.4 244.8h0.8M141.8 241.1h0.8M142.3 246.7h0.8M140.8 238.9h0.8M139.4 240.5h0.8M141.7 250.9h0.8M141.9 252.2h0.8M142.7 243.3h0.8M140.5 248.1h0.8M142.4 245.4h0.8M141.7 251.9h0.8M140.3 245.7h0.8M142.8 243.2h0.8M142.4 250.2h0.8M140.1 247.2h0.8M144.3 239.6h0.8M142.2 250.4h0.8M141.7 247.6h0.8M142.8 243.5h0.8M142.8 245.0h0.8M142.9 242.7h0.8M142.1 251.4h0.8M141.7 251.8h0.8M142.2 250.0h0.8M141.7 242.8h0.8M140.9 238.4h0.8M141.0 245.6h0.8M143.5 247.2h0.8M142.8 238.5h0.8M142.5 246.4h0.8M142.0 245.4h0.8M142.4 243.1h0.8M142.2 249.5h0.8M139.9 243.9h0.8M142.1 251.6h0.8M143.0 250.4h0.8M139.4 239.2h0.8M141.6 242.7h0.8M143.0 245.2h0.8M140.9 243.0h0.8M142.6 243.2h0.8M141.0 251.3h0.8M141.2 243.3h0.8M141.2 247.1h0.8M142.6 245.5h0.8M144.6 238.9h0.8M141.8 248.9h0.8M142.2 251.9h0.8M142.1 250.4h0.8M142.2 245.9h0.8M142.4 250.8h0.8M143.7 243.1h0.8M142.0 240.3h0.8M142.6 245.6h0.8M143.5 251.6h0.8M142.6 243.1h0.8M142.6 250.6h0.8M141.8 250.6h0.8M142.7 250.3h0.8M142.1 250.5h0.8M143.6 247.0h0.8M142.6 249.3h0.8M145.0 244.0h0.8M140.6 245.4h0.8M142.3 251.6h0.8M141.4 242.7h0.8M143.6 246.8h0.8M141.3 242.7h0.8M140.8 247.7h0.8M145.1 240.4h0.8M143.7 242.7h0.8M141.7 247.9h0.8M144.0 238.3h0.8M141.6 244.6h0.8M142.3 249.1h0.8M141.7 242.6h0.8M142.4 249.8h0.8M139.7 238.6h0.8M143.3 240.8h0.8M142.4 251.0h0.8M139.2 246.3h0.8M140.7 243.0h0.8M139.9 244.8h0.8M142.1 250.5h0.8M142.6 241.6h0.8M141.9 241.8h0.8M143.1 251.4h0.8M142.0 251.0h0.8M141.7 244.0h0.8M142.8 250.8h0.8M141.5 251.4h0.8M141.7 243.3h0.8M140.7 242.8h0.8M142.1 251.5h0.8M140.0 239.7h0.8M141.3 246.3h0.8M141.1 242.3h0.8M141.7 250.8h0.8M142.3 251.8h0.8M143.0 250.7h0.8M139.7 240.3h0.8M141.3 249.1h0.8M142.5 248.4h0.8M145.0 238.8h0.8M142.9 251.7h0.8M142.6 246.9h0.8M142.5 246.3h0.8M142.0 244.4h0.8M142.0 241.2h0.8M141.8 243.8h0.8M142.2 240.6h0.8M143.3 239.8h0.8M142.0 251.1h0.8M142.2 248.5h0.8M144.2 245.8h0.8M142.5 246.1h0.8M142.2 252.1h0.8M143.6 247.0h0.8M143.1 241.5h0.8M142.6 252.4h0.8M141.1 245.0h0.8M141.1 249.8h0.8M143.1 244.1h0.8M142.6 252.4h0.8M140.4 241.6h0.8M142.3 246.3h0.8M141.3 250.0h0.8M139.6 249.4h0.8M143.5 242.8h0.8M139.9 247.5h0.8M142.7 251.9h0.8M142.9 245.3h0.8M141.2 247.1h0.8M141.7 247.6h0.8M142.0 252.4h0.8M143.0 251.6h0.8M140.8 247.0h0.8M142.4 252.2h0.8M139.5 241.7h0.8M141.8 244.9h0.8M141.5 241.9h0.8M141.8 245.6h0.8M142.6 249.8h0.8M141.0 250.7h0.8M142.0 240.8h0.8M141.0 249.1h0.8M143.3 245.9h0.8M142.2 245.2h0.8M141.8 241.6h0.8M143.3 240.6h0.8M139.9 245.6h0.8M142.0 250.2h0.8M142.2 250.3h0.8M141.7 248.1h0.8M143.1 245.9h0.8M143.4 244.1h0.8M141.4 240.8h0.8M141.2 250.9h0.8M141.9 249.0h0.8M142.0 241.6h0.8M141.9 250.9h0.8M140.3 251.9h0.8M144.0 242.7h0.8M143.9 245.8h0.8" stroke="#000" stroke-width="0.8" stroke-opacity="0.55" fill="none"/><path d="M145.3 223.8h0.8M140.7 223.9h0.8M145.6 213.8h0.8M147.7 231.8h0.8M146.8 220.7h0.8M147.1 231.0h0.8M145.7 221.7h0.8M146.1 225.0h0.8M145.8 228.2h0.8M151.3 225.6h0.8M142.5 223.9h0.8M146.5 225.2h0.8M138.4 223.4h0.8M143.2 232.3h0.8M153.4 234.3h0.8M146.5 223.3h0.8M143.5 222.4h0.8M144.1 237.4h0.8M145.0 231.8h0.8M149.1 230.2h0.8M145.4 226.2h0.8M146.8 227.0h0.8M146.3 237.6h0.8M146.2 219.2h0.8M151.4 226.0h0.8M147.5 235.4h0.8M138.5 226.4h0.8M149.2 230.5h0.8M147.6 215.7h0.8M142.2 220.7h0.8M142.1 227.8h0.8M142.4 218.5h0.8M151.1 215.5h0.8M144.2 226.7h0.8M146.1 221.6h0.8M147.3 232.4h0.8M143.4 230.8h0.8M152.1 222.4h0.8M142.8 228.2h0.8M141.3 230.8h0.8M146.0 228.2h0.8M146.6 230.3h0.8M143.4 220.3h0.8M141.3 228.8h0.8M152.5 223.4h0.8M144.3 226.7h0.8M151.1 217.7h0.8M142.7 219.2h0.8M140.4 229.2h0.8M147.4 222.2h0.8M145.6 232.0h0.8M144.4 224.4h0.8M138.7 222.0h0.8M144.9 216.9h0.8M146.0 213.5h0.8M146.9 233.8h0.8M141.6 223.2h0.8M148.3 223.7h0.8M143.0 229.5h0.8M146.0 221.0h0.8M151.7 218.0h0.8M150.3 224.0h0.8M153.2 225.2h0.8M149.5 223.9h0.8M147.8 223.9h0.8M148.2 225.3h0.8M149.6 221.1h0.8M145.7 230.9h0.8M144.9 220.9h0.8M150.9 225.4h0.8M146.1 223.1h0.8M143.8 231.1h0.8M149.6 214.5h0.8M150.7 227.0h0.8M148.4 228.1h0.8M144.6 220.1h0.8M146.7 228.6h0.8M145.6 224.9h0.8M150.0 230.3h0.8M145.3 234.2h0.8M146.2 215.9h0.8M151.1 231.4h0.8M145.9 231.8h0.8M141.9 224.8h0.8M147.0 230.2h0.8M141.2 222.6h0.8M148.5 223.9h0.8M145.3 229.6h0.8M147.7 218.2h0.8M144.8 233.6h0.8M151.0 220.9h0.8M150.1 224.7h0.8M139.5 216.4h0.8M144.8 224.5h0.8M154.3 226.4h0.8M143.7 227.5h0.8M143.9 220.7h0.8M146.8 222.7h0.8M142.1 229.9h0.8M145.2 231.5h0.8M151.2 225.7h0.8M146.3 227.5h0.8M144.7 216.5h0.8M141.5 227.2h0.8M151.9 228.1h0.8M141.7 224.4h0.8M139.5 231.2h0.8M144.9 229.4h0.8M147.2 219.5h0.8M147.8 233.5h0.8M145.8 225.3h0.8M141.3 227.9h0.8M137.9 229.0h0.8M143.7 218.3h0.8M144.1 232.2h0.8M150.5 232.6h0.8M141.9 223.7h0.8M150.0 227.7h0.8M145.4 220.7h0.8M142.3 233.5h0.8M145.9 232.6h0.8M143.2 219.1h0.8M146.0 229.2h0.8M144.4 231.2h0.8M144.8 221.6h0.8M145.6 232.7h0.8M150.4 225.9h0.8M138.4 217.3h0.8M142.4 221.3h0.8M143.5 223.6h0.8M141.1 223.5h0.8M145.6 223.4h0.8M147.5 230.9h0.8M143.7 225.3h0.8M141.3 235.8h0.8M147.1 232.9h0.8M146.0 231.0h0.8M144.9 231.1h0.8M143.4 226.8h0.8M143.7 221.2h0.8M140.0 223.5h0.8M146.0 233.1h0.8M149.4 231.5h0.8M141.2 229.1h0.8M144.7 213.1h0.8M145.9 232.4h0.8M147.6 225.4h0.8M148.3 225.2h0.8M143.4 220.9h0.8M137.7 227.9h0.8M141.0 234.8h0.8M144.0 223.3h0.8M138.4 229.7h0.8M144.3 224.6h0.8M150.9 221.3h0.8M144.1 221.6h0.8M142.1 224.1h0.8M144.0 233.7h0.8M148.1 234.0h0.8M152.2 219.5h0.8M151.4 226.3h0.8M138.8 227.0h0.8M145.1 221.5h0.8M144.4 230.7h0.8M142.2 222.2h0.8M145.9 223.1h0.8M151.5 221.8h0.8M140.8 219.3h0.8M140.6 222.9h0.8M137.7 218.1h0.8M149.8 220.5h0.8M150.7 226.5h0.8M142.0 226.1h0.8M145.4 226.2h0.8M141.6 225.0h0.8M150.5 237.3h0.8M148.9 230.4h0.8M145.5 230.0h0.8M149.7 229.5h0.8M150.1 228.5h0.8M146.0 223.5h0.8M147.4 224.7h0.8M145.2 226.7h0.8M143.8 227.5h0.8M142.8 217.5h0.8M144.9 230.4h0.8M140.2 226.2h0.8M144.0 223.4h0.8M138.4 228.4h0.8M146.2 230.2h0.8M154.3 213.2h0.8M138.4 225.9h0.8M144.1 214.8h0.8M148.0 220.4h0.8M146.8 225.9h0.8M143.2 221.7h0.8M143.5 225.9h0.8M145.1 226.5h0.8M148.4 228.3h0.8M140.1 218.1h0.8M150.4 232.6h0.8M140.8 221.2h0.8M152.6 232.5h0.8M145.6 226.4h0.8M145.7 224.9h0.8M138.7 217.4h0.8M144.3 226.0h0.8M144.3 226.1h0.8M143.4 230.2h0.8M148.7 227.2h0.8M145.6 225.1h0.8M145.6 227.1h0.8M147.5 223.3h0.8M149.9 228.8h0.8M139.7 225.1h0.8M139.3 226.1h0.8M139.5 217.4h0.8M147.7 229.2h0.8M153.4 234.5h0.8M145.8 236.0h0.8M145.2 221.6h0.8M141.1 227.6h0.8M153.3 226.1h0.8M144.7 221.9h0.8M151.6 229.3h0.8M142.0 223.9h0.8M147.8 218.9h0.8M142.6 234.0h0.8M150.2 229.0h0.8M146.4 226.2h0.8M143.1 214.3h0.8M149.5 226.3h0.8M143.1 232.2h0.8M146.1 217.7h0.8M147.3 217.8h0.8M141.5 214.7h0.8M144.7 224.9h0.8M146.2 216.2h0.8M151.0 223.3h0.8M143.5 233.5h0.8M149.7 227.7h0.8M145.6 223.1h0.8M147.9 225.6h0.8M142.5 228.2h0.8M149.5 230.5h0.8M143.1 220.5h0.8M145.7 231.3h0.8M146.3 234.8h0.8M148.9 224.0h0.8M147.3 228.8h0.8M145.2 227.2h0.8M146.0 218.2h0.8M150.3 224.1h0.8M147.2 218.3h0.8M144.9 224.4h0.8M150.5 221.3h0.8M150.5 226.9h0.8M149.4 230.5h0.8M147.5 230.1h0.8M142.4 235.3h0.8M143.7 228.9h0.8M145.0 226.4h0.8M140.1 225.0h0.8M151.2 220.5h0.8M141.0 236.2h0.8M143.7 225.7h0.8M145.8 217.2h0.8M142.1 214.8h0.8M146.7 225.1h0.8M151.5 233.8h0.8M148.7 229.4h0.8M145.9 228.0h0.8M144.4 234.1h0.8M147.6 229.0h0.8M147.8 232.6h0.8M146.7 221.0h0.8M145.4 225.3h0.8M142.3 225.2h0.8M144.4 227.1h0.8M146.4 230.8h0.8M151.3 217.0h0.8M146.7 225.2h0.8M147.0 217.7h0.8M144.5 228.0h0.8M143.5 222.0h0.8M150.3 229.3h0.8M145.6 222.7h0.8M149.8 231.0h0.8M148.9 223.6h0.8M143.2 225.4h0.8M145.6 221.3h0.8M143.9 227.6h0.8M151.0 221.4h0.8M146.4 235.0h0.8M142.1 214.0h0.8M141.8 220.9h0.8M142.9 228.1h0.8M142.8 226.1h0.8M149.3 221.3h0.8M146.7 223.2h0.8M142.4 231.0h0.8M141.2 227.4h0.8M147.6 221.3h0.8M139.6 232.2h0.8M144.8 225.4h0.8M144.3 229.7h0.8M143.0 229.3h0.8M145.4 223.5h0.8M146.4 214.0h0.8M141.6 237.9h0.8M145.6 232.1h0.8M145.5 224.4h0.8M145.6 231.5h0.8M151.2 220.6h0.8M140.5 236.7h0.8M143.7 223.2h0.8M146.9 226.8h0.8M146.9 224.7h0.8M145.6 224.6h0.8M149.2 221.7h0.8M146.4 219.6h0.8M142.0 222.4h0.8M146.5 221.6h0.8M141.6 216.5h0.8M148.7 229.6h0.8M143.4 230.8h0.8M143.7 232.8h0.8M142.3 227.0h0.8M143.8 219.8h0.8M145.8 227.3h0.8M142.4 216.3h0.8M145.9 224.0h0.8M147.7 229.5h0.8M145.0 232.8h0.8M145.1 229.1h0.8M145.2 225.3h0.8M141.0 222.3h0.8M153.1 221.0h0.8M148.2 231.0h0.8M144.5 227.4h0.8M146.0 228.9h0.8M150.2 224.2h0.8M144.8 223.8h0.8M147.5 228.8h0.8M138.6 225.0h0.8M151.3 220.3h0.8M140.1 231.2h0.8M146.8 227.9h0.8M143.1 219.7h0.8M140.3 216.4h0.8M143.4 225.6h0.8M146.5 231.6h0.8M148.2 225.4h0.8M149.6 215.6h0.8M150.0 230.9h0.8M145.3 219.2h0.8M151.2 222.9h0.8M146.2 227.7h0.8M147.7 226.0h0.8M150.7 233.6h0.8M150.3 225.1h0.8M151.6 227.8h0.8M140.7 231.0h0.8M148.6 221.6h0.8M141.3 223.5h0.8M151.7 236.4h0.8M147.3 224.3h0.8M141.6 225.8h0.8M142.6 229.5h0.8M150.2 231.1h0.8M144.6 229.1h0.8M141.6 220.1h0.8M147.6 235.1h0.8M145.4 228.8h0.8M147.2 231.9h0.8M150.5 220.9h0.8M146.0 228.7h0.8M149.1 225.0h0.8M151.1 231.5h0.8M153.8 217.6h0.8M145.3 226.7h0.8M145.7 225.4h0.8M145.5 234.3h0.8M150.3 227.1h0.8M145.3 221.7h0.8M151.8 221.5h0.8M149.7 224.4h0.8M144.7 221.2h0.8M146.2 226.3h0.8M143.2 216.4h0.8M144.6 219.2h0.8M148.0 222.4h0.8M146.2 222.1h0.8M150.0 217.8h0.8M145.2 219.3h0.8M147.9 224.4h0.8M144.5 216.0h0.8M145.3 218.2h0.8M140.8 230.2h0.8M150.3 228.7h0.8M139.7 225.9h0.8M147.3 224.0h0.8M148.9 221.7h0.8M143.6 228.6h0.8M145.0 226.0h0.8M142.5 226.2h0.8M148.4 226.9h0.8M143.7 220.7h0.8M143.3 226.7h0.8M147.6 221.1h0.8M150.6 219.8h0.8M142.5 226.1h0.8M145.9 227.2h0.8M149.2 223.2h0.8M150.0 224.7h0.8M144.1 219.4h0.8M148.3 217.3h0.8M143.7 227.5h0.8M148.3 228.4h0.8M138.9 220.5h0.8M148.2 228.4h0.8M152.3 217.4h0.8M145.3 224.0h0.8M145.1 222.9h0.8M145.9 219.2h0.8M146.8 229.9h0.8M142.9 219.9h0.8M145.1 213.1h0.8M147.6 225.9h0.8M149.8 218.6h0.8M140.2 231.1h0.8M144.1 217.8h0.8M154.2 225.6h0.8M143.3 221.6h0.8M146.4 230.8h0.8M148.8 220.7h0.8M141.5 221.3h0.8M153.1 220.8h0.8M147.4 224.6h0.8M139.9 227.0h0.8M145.2 213.7h0.8M143.5 234.0h0.8M141.7 227.1h0.8M146.2 223.4h0.8M142.7 237.9h0.8M143.3 233.8h0.8M150.6 225.6h0.8M152.1 216.2h0.8M143.8 229.0h0.8M147.5 220.5h0.8M144.0 224.7h0.8M148.1 226.5h0.8M139.5 219.8h0.8M145.5 222.7h0.8M146.4 223.9h0.8M144.6 217.6h0.8M147.1 229.4h0.8M152.6 223.3h0.8M148.0 222.4h0.8M147.5 223.8h0.8M144.3 231.7h0.8M143.7 215.4h0.8M150.0 218.6h0.8M149.8 222.5h0.8M150.7 224.3h0.8M139.6 234.7h0.8M145.5 221.8h0.8M141.8 231.6h0.8M146.6 214.8h0.8M151.7 229.5h0.8M144.3 222.3h0.8M151.7 224.1h0.8M139.5 224.8h0.8M149.3 221.6h0.8M149.0 228.1h0.8M147.4 232.7h0.8M148.3 218.1h0.8M146.1 214.9h0.8M146.3 229.8h0.8M141.3 235.1h0.8M141.0 223.3h0.8M144.9 224.1h0.8M145.7 223.6h0.8M150.7 229.5h0.8M144.3 226.4h0.8M146.9 231.3h0.8M148.0 223.4h0.8M146.3 232.0h0.8M139.7 222.1h0.8M141.8 228.0h0.8M147.7 219.9h0.8M144.8 235.9h0.8M150.5 223.1h0.8M145.0 229.9h0.8M152.6 230.1h0.8M148.2 220.8h0.8M145.8 223.1h0.8M145.7 230.6h0.8M145.8 234.5h0.8M147.4 213.0h0.8M142.7 220.7h0.8M153.6 233.3h0.8M152.0 218.0h0.8M142.9 224.5h0.8M148.7 217.4h0.8M143.5 233.7h0.8M143.7 226.1h0.8M143.6 232.9h0.8M145.4 223.1h0.8M149.3 224.8h0.8M141.6 218.9h0.8M141.8 228.4h0.8M149.1 228.5h0.8M146.1 233.8h0.8M152.3 231.6h0.8M140.6 219.4h0.8M146.8 226.6h0.8M147.3 229.0h0.8M148.4 220.9h0.8M150.6 228.2h0.8M138.6 228.3h0.8M151.9 219.8h0.8M145.4 236.4h0.8M148.2 221.2h0.8M148.8 233.7h0.8M147.1 224.8h0.8M141.5 221.6h0.8M148.2 216.2h0.8M142.5 223.4h0.8M146.1 231.2h0.8M144.0 220.2h0.8M151.4 226.8h0.8M150.2 214.0h0.8M151.6 228.8h0.8M142.4 228.1h0.8M142.1 226.6h0.8M143.8 223.9h0.8M144.2 224.9h0.8M152.8 227.8h0.8M145.0 222.4h0.8M144.5 232.3h0.8M144.6 225.2h0.8M146.2 223.9h0.8M149.4 235.2h0.8M150.0 221.2h0.8M147.3 221.9h0.8M146.4 223.1h0.8M152.2 220.0h0.8M151.0 212.9h0.8M139.7 228.5h0.8M146.2 222.1h0.8M143.6 222.3h0.8M147.2 215.6h0.8M149.7 231.9h0.8M143.1 231.1h0.8M147.0 221.3h0.8M146.1 227.5h0.8M148.3 228.5h0.8M145.2 223.9h0.8M145.9 220.4h0.8M145.9 225.4h0.8M143.4 237.0h0.8M148.3 216.3h0.8M140.1 226.5h0.8M149.1 220.1h0.8M144.6 224.3h0.8M147.1 222.1h0.8M145.4 229.0h0.8M140.9 218.2h0.8M148.8 231.6h0.8M140.3 219.3h0.8M148.8 227.9h0.8M148.8 230.1h0.8M152.2 231.0h0.8M149.5 231.6h0.8M143.1 223.3h0.8M145.7 229.7h0.8M147.4 222.3h0.8M148.7 221.5h0.8M146.8 229.2h0.8M143.0 218.7h0.8M143.7 215.0h0.8M146.4 228.4h0.8M140.7 214.4h0.8M148.2 224.0h0.8M146.1 220.6h0.8M145.7 236.9h0.8M146.6 226.3h0.8M141.4 215.2h0.8M153.9 223.5h0.8M150.4 231.4h0.8M152.4 225.1h0.8M147.0 217.8h0.8M149.7 213.4h0.8M149.6 231.9h0.8M144.1 229.1h0.8M151.8 216.6h0.8M143.2 222.7h0.8M143.0 235.5h0.8M148.5 223.3h0.8M144.8 216.5h0.8M144.2 229.7h0.8M142.1 224.7h0.8M146.5 218.6h0.8M150.7 220.5h0.8M139.3 221.0h0.8M144.4 236.4h0.8M150.6 218.5h0.8M145.9 223.4h0.8M148.5 226.0h0.8M143.7 229.9h0.8M148.4 234.5h0.8M151.0 224.3h0.8M146.8 217.6h0.8M145.0 215.0h0.8M145.9 218.9h0.8M150.6 226.4h0.8M138.9 225.2h0.8M141.7 223.2h0.8M152.2 214.8h0.8M150.9 232.9h0.8M144.0 235.9h0.8M147.3 217.9h0.8M147.1 229.7h0.8M141.0 236.1h0.8M144.6 227.3h0.8M152.2 218.5h0.8M149.0 227.3h0.8M140.2 225.3h0.8M143.6 218.0h0.8M144.9 228.3h0.8M145.7 229.0h0.8M149.5 221.7h0.8M146.3 234.0h0.8M142.8 217.4h0.8M151.3 226.9h0.8M147.4 230.6h0.8M143.9 231.3h0.8M145.1 227.8h0.8M139.9 217.7h0.8M145.7 218.3h0.8M142.1 226.2h0.8M145.5 229.8h0.8M148.4 229.0h0.8M153.6 222.2h0.8M145.9 232.8h0.8M142.5 221.3h0.8M143.9 213.8h0.8M152.8 230.2h0.8M141.2 228.6h0.8M148.5 218.7h0.8M151.8 225.1h0.8M141.1 232.7h0.8M146.4 224.3h0.8M149.9 232.3h0.8M143.9 223.1h0.8M146.7 229.4h0.8M144.1 236.1h0.8M143.5 224.3h0.8M147.3 221.2h0.8M144.5 231.3h0.8M146.5 219.9h0.8M143.9 222.7h0.8M142.9 227.4h0.8M143.6 232.4h0.8M154.0 216.9h0.8M146.2 224.7h0.8M141.8 215.0h0.8M145.9 215.9h0.8M140.6 220.8h0.8M142.9 231.1h0.8M141.4 226.2h0.8M140.0 235.4h0.8M144.1 229.1h0.8M149.4 224.3h0.8M144.2 214.4h0.8M149.7 223.2h0.8M143.3 232.6h0.8M143.7 227.0h0.8M145.9 224.8h0.8M144.3 230.7h0.8M143.8 226.2h0.8M142.1 224.0h0.8M143.0 233.1h0.8M144.5 215.9h0.8M143.6 233.7h0.8M142.7 228.1h0.8M144.8 228.2h0.8M146.6 225.2h0.8M141.3 222.1h0.8M144.2 235.7h0.8M144.9 230.4h0.8M146.9 217.6h0.8M140.9 227.6h0.8M144.1 227.5h0.8M145.7 218.6h0.8M148.8 222.6h0.8M149.7 231.2h0.8M146.3 223.1h0.8M139.8 221.8h0.8M138.9 217.7h0.8M147.6 230.8h0.8M149.6 227.2h0.8M143.7 221.5h0.8M147.7 234.8h0.8M150.2 229.7h0.8M142.2 227.1h0.8M144.9 224.7h0.8M144.6 224.9h0.8M143.8 217.3h0.8M145.3 237.8h0.8M145.9 215.4h0.8M148.4 232.2h0.8M140.1 225.3h0.8M144.4 216.8h0.8M146.6 236.1h0.8M141.3 229.8h0.8M149.0 218.4h0.8M144.9 229.9h0.8M145.8 229.3h0.8M147.3 220.8h0.8M139.8 218.2h0.8M146.5 224.4h0.8M148.5 228.2h0.8M142.6 215.7h0.8M145.0 225.2h0.8M143.4 225.9h0.8M148.1 230.0h0.8M146.4 225.8h0.8M143.9 230.3h0.8M148.6 220.9h0.8M151.7 227.1h0.8M140.9 216.0h0.8M143.3 224.4h0.8M147.8 224.7h0.8M138.7 226.6h0.8M138.6 227.4h0.8M149.6 220.5h0.8M149.4 228.6h0.8M141.8 224.1h0.8M148.6 226.6h0.8M147.3 232.6h0.8M146.8 226.8h0.8M150.1 218.9h0.8M139.3 222.7h0.8M147.5 226.5h0.8M144.5 221.7h0.8M145.8 229.1h0.8M140.9 221.4h0.8M150.5 231.0h0.8M147.3 221.5h0.8M143.2 228.6h0.8M140.2 234.4h0.8M144.5 226.7h0.8M146.3 224.1h0.8M142.5 222.7h0.8M149.8 219.2h0.8M150.3 233.2h0.8M147.0 222.5h0.8M144.5 221.1h0.8M149.8 234.3h0.8M146.5 218.5h0.8M140.1 224.6h0.8M144.7 229.5h0.8M145.0 217.4h0.8M150.0 230.3h0.8M143.3 225.3h0.8M146.1 228.2h0.8M150.6 224.2h0.8M142.6 232.3h0.8M148.9 228.7h0.8M140.7 231.7h0.8M146.5 232.5h0.8M144.9 230.4h0.8M149.5 225.9h0.8M151.1 224.7h0.8M145.4 231.0h0.8M143.5 225.9h0.8M142.1 226.0h0.8M150.4 215.8h0.8M148.6 228.1h0.8M145.7 235.6h0.8M144.4 237.3h0.8M138.1 224.9h0.8M141.6 219.4h0.8M141.5 225.9h0.8M146.6 231.1h0.8M142.6 222.5h0.8M150.9 225.0h0.8M142.9 226.1h0.8M142.6 223.0h0.8M140.9 219.0h0.8M142.7 223.7h0.8M146.3 224.3h0.8M145.5 225.8h0.8M144.2 217.3h0.8M141.9 227.3h0.8M149.0 219.1h0.8M148.0 226.7h0.8M146.5 224.4h0.8M145.2 229.7h0.8M149.9 231.5h0.8M144.4 215.3h0.8M146.7 222.8h0.8M145.5 228.8h0.8M145.3 221.2h0.8M145.9 227.4h0.8M138.8 228.8h0.8M147.3 228.7h0.8M147.6 224.1h0.8M146.6 234.1h0.8M148.1 223.3h0.8M148.9 222.5h0.8M140.6 234.8h0.8M145.9 229.7h0.8M145.4 234.2h0.8M144.8 215.4h0.8M143.1 235.2h0.8M141.5 224.4h0.8M145.3 215.8h0.8M145.2 231.0h0.8M137.8 224.9h0.8M145.4 219.3h0.8M146.7 224.9h0.8M138.7 215.8h0.8M148.6 220.9h0.8M150.0 215.1h0.8M147.2 225.9h0.8M149.1 218.9h0.8M147.5 237.8h0.8M147.9 235.5h0.8M145.1 223.2h0.8M148.5 228.0h0.8M143.6 224.9h0.8M147.9 220.1h0.8M143.0 220.3h0.8M143.0 223.1h0.8M146.1 229.6h0.8M140.4 225.8h0.8M142.0 217.4h0.8M148.2 226.4h0.8M141.7 226.0h0.8M141.7 225.9h0.8M141.2 228.9h0.8M146.0 226.6h0.8M153.8 223.5h0.8M151.2 228.7h0.8M149.3 222.0h0.8M147.4 219.5h0.8M139.0 228.2h0.8M149.0 225.2h0.8M149.6 226.1h0.8M144.9 227.0h0.8M150.5 217.3h0.8M146.8 223.5h0.8M151.5 225.8h0.8M141.9 223.3h0.8M139.9 219.8h0.8M140.6 222.2h0.8M143.3 227.6h0.8M148.5 222.3h0.8M148.8 237.3h0.8M145.0 232.5h0.8M152.0 224.3h0.8M148.1 231.3h0.8M139.6 225.7h0.8M146.4 219.6h0.8M154.3 230.8h0.8M144.5 221.2h0.8M152.4 223.7h0.8M148.8 236.0h0.8M144.6 223.9h0.8M145.8 222.1h0.8M148.0 220.8h0.8M147.5 218.0h0.8M151.0 223.8h0.8M142.5 228.6h0.8M147.5 225.8h0.8M143.7 232.3h0.8M145.2 230.4h0.8M150.6 219.7h0.8M150.2 229.2h0.8M143.2 217.9h0.8M145.3 231.2h0.8M142.0 224.0h0.8M150.0 227.2h0.8M152.1 228.0h0.8M146.9 233.7h0.8M138.2 232.0h0.8M146.7 217.6h0.8M142.8 225.2h0.8M140.7 237.5h0.8M144.5 229.3h0.8M144.0 220.1h0.8M148.9 224.6h0.8M149.3 221.1h0.8M147.9 223.2h0.8M150.9 216.1h0.8M143.0 217.4h0.8M148.8 229.8h0.8M149.3 231.9h0.8M149.5 225.7h0.8M143.0 227.8h0.8M143.1 235.2h0.8M144.9 219.3h0.8M145.1 219.3h0.8M148.4 223.3h0.8M144.4 232.4h0.8M141.9 235.2h0.8M150.2 225.2h0.8M146.2 237.2h0.8M142.4 235.3h0.8M144.4 222.0h0.8M141.7 227.5h0.8M140.2 230.2h0.8M144.6 232.8h0.8M149.1 227.3h0.8M142.5 228.1h0.8M144.5 230.7h0.8M141.8 237.9h0.8M147.2 218.9h0.8M145.8 232.9h0.8M138.6 230.5h0.8M146.1 228.1h0.8M143.9 228.2h0.8M142.4 234.5h0.8M140.4 222.6h0.8M150.5 229.0h0.8M142.7 225.5h0.8M140.6 221.2h0.8M148.4 235.3h0.8M141.6 224.3h0.8M151.4 229.9h0.8M148.2 220.5h0.8M146.1 225.7h0.8M145.9 224.1h0.8M149.9 227.3h0.8M145.6 229.2h0.8M149.7 232.5h0.8M147.3 228.6h0.8M142.5 228.5h0.8M149.3 227.7h0.8M142.7 227.1h0.8M144.2 223.7h0.8M145.1 227.2h0.8M147.5 225.1h0.8M145.5 219.2h0.8M150.2 222.7h0.8M154.0 223.5h0.8M144.5 219.9h0.8M145.0 231.9h0.8M146.0 228.6h0.8M152.6 225.3h0.8M147.7 224.3h0.8M143.7 235.5h0.8M148.9 219.1h0.8M147.8 226.0h0.8M147.6 226.7h0.8M146.5 218.5h0.8M146.2 220.2h0.8M139.7 226.9h0.8M144.0 220.2h0.8M149.1 224.8h0.8M144.1 234.9h0.8M138.4 226.8h0.8M148.7 225.1h0.8M144.9 233.1h0.8M151.3 228.4h0.8M143.6 225.8h0.8M145.5 220.2h0.8M149.6 223.4h0.8M145.1 225.2h0.8M143.7 227.7h0.8M145.7 226.0h0.8M146.7 228.2h0.8M145.5 222.9h0.8M150.9 217.7h0.8M145.9 236.7h0.8M139.3 222.0h0.8M146.3 229.2h0.8M146.4 226.4h0.8M140.6 221.8h0.8M143.1 220.4h0.8M144.3 221.4h0.8M139.9 222.8h0.8M151.7 221.1h0.8M142.1 229.6h0.8M143.9 231.0h0.8M141.4 233.1h0.8M138.8 222.8h0.8M150.4 226.9h0.8M141.3 221.3h0.8M146.7 228.0h0.8M141.6 225.8h0.8M144.2 223.1h0.8M146.8 224.4h0.8M148.7 228.7h0.8M148.7 228.1h0.8M148.5 222.4h0.8M145.5 221.2h0.8M144.9 221.0h0.8M142.6 220.4h0.8M142.0 223.0h0.8M139.5 228.0h0.8M141.8 232.5h0.8M138.2 214.1h0.8M145.0 228.8h0.8M146.9 220.0h0.8M150.0 232.8h0.8M148.5 229.5h0.8M142.4 231.7h0.8M149.0 228.6h0.8M142.8 223.9h0.8M145.1 231.4h0.8M148.8 233.0h0.8M148.6 213.6h0.8M154.0 225.4h0.8M144.4 230.5h0.8M146.9 219.0h0.8M145.8 216.8h0.8M148.4 230.2h0.8M151.9 220.0h0.8M141.1 235.5h0.8M144.9 237.8h0.8M140.1 214.7h0.8M146.7 231.5h0.8M149.0 228.4h0.8M147.0 222.0h0.8M146.5 224.1h0.8M144.8 229.0h0.8M142.1 220.0h0.8M142.2 231.4h0.8M152.1 223.3h0.8M142.0 235.0h0.8M150.0 228.2h0.8M143.6 220.5h0.8M141.3 237.7h0.8M147.8 220.8h0.8M147.0 218.0h0.8M141.3 220.9h0.8M146.6 216.3h0.8M149.2 226.1h0.8M141.4 222.3h0.8M146.7 222.2h0.8M151.7 217.7h0.8M146.8 224.8h0.8M148.8 223.6h0.8M146.9 233.0h0.8M140.6 216.3h0.8M150.3 227.4h0.8M141.5 223.3h0.8M144.9 226.9h0.8M144.1 224.8h0.8M147.5 227.9h0.8M150.4 229.5h0.8M152.8 220.5h0.8M143.5 231.5h0.8M145.1 225.3h0.8M154.2 229.4h0.8M151.2 219.0h0.8M145.6 224.9h0.8M149.4 227.8h0.8M151.1 218.5h0.8M145.0 217.5h0.8M152.4 222.1h0.8M144.2 233.5h0.8M148.6 232.8h0.8M140.3 224.8h0.8M148.4 225.3h0.8M150.4 227.1h0.8M143.3 230.0h0.8M140.2 213.3h0.8M147.0 225.3h0.8M142.7 224.1h0.8M146.6 234.0h0.8M140.1 221.3h0.8M142.5 215.9h0.8M144.9 218.6h0.8M145.8 231.8h0.8M140.6 229.1h0.8M150.0 230.6h0.8M148.0 217.4h0.8M148.0 224.4h0.8M142.5 216.8h0.8M146.1 222.4h0.8M143.5 218.9h0.8M143.8 221.5h0.8M148.1 224.7h0.8M142.0 235.4h0.8M143.5 223.4h0.8M145.5 227.9h0.8M145.8 216.8h0.8M148.0 224.5h0.8M141.1 227.5h0.8M145.6 216.7h0.8M146.9 222.6h0.8M149.2 224.0h0.8M140.2 220.6h0.8M145.1 221.6h0.8M150.6 221.4h0.8M139.8 223.9h0.8M144.6 219.7h0.8M144.9 232.4h0.8M146.1 228.8h0.8M141.7 221.3h0.8M148.3 238.0h0.8M145.2 220.6h0.8M149.7 219.4h0.8M151.2 228.2h0.8M142.6 218.9h0.8M141.9 227.7h0.8M143.1 214.1h0.8M149.4 229.5h0.8M146.1 223.7h0.8M142.8 229.5h0.8M143.0 218.3h0.8M143.9 228.0h0.8M145.4 224.1h0.8M143.6 226.4h0.8M145.4 224.9h0.8M147.0 227.6h0.8M146.0 226.5h0.8M139.9 223.3h0.8M150.2 217.9h0.8M141.3 219.7h0.8M141.3 225.8h0.8M148.2 221.4h0.8M143.4 226.9h0.8M146.4 224.8h0.8M140.4 234.1h0.8M147.5 230.7h0.8M144.0 218.9h0.8M143.8 237.6h0.8M147.4 230.9h0.8M139.2 220.6h0.8M149.3 220.6h0.8M146.3 235.1h0.8M143.7 223.2h0.8M149.5 226.5h0.8M146.4 229.9h0.8M143.0 229.3h0.8M143.4 219.5h0.8M145.2 220.5h0.8M150.6 222.4h0.8M148.9 226.8h0.8M146.8 224.5h0.8M143.4 224.1h0.8M148.5 215.6h0.8M148.7 224.2h0.8M140.0 227.3h0.8M147.9 215.2h0.8M146.9 228.9h0.8M143.6 225.5h0.8M141.9 216.4h0.8M143.7 233.2h0.8M138.4 221.0h0.8M146.3 220.8h0.8M146.6 216.1h0.8M141.0 221.5h0.8M145.8 216.3h0.8M145.1 217.2h0.8M147.2 224.7h0.8M143.2 232.9h0.8M143.6 231.9h0.8M143.4 215.0h0.8M151.2 224.8h0.8M143.5 217.7h0.8M149.8 220.9h0.8M148.5 225.3h0.8M148.3 228.7h0.8M148.5 223.4h0.8M143.7 215.0h0.8M147.3 224.5h0.8M145.6 228.0h0.8M145.3 219.8h0.8M148.0 234.9h0.8M143.8 220.2h0.8M146.8 234.8h0.8M146.2 225.1h0.8M138.8 220.4h0.8M143.5 224.3h0.8M149.3 230.9h0.8M153.9 224.8h0.8M144.9 219.5h0.8M149.9 215.0h0.8M153.1 224.0h0.8M147.4 215.3h0.8M151.3 237.8h0.8M148.1 228.2h0.8M143.1 220.4h0.8M147.8 222.3h0.8M145.8 237.4h0.8M148.9 216.1h0.8M144.5 221.9h0.8M142.9 231.6h0.8M144.6 215.7h0.8M145.3 235.3h0.8M145.4 217.0h0.8M150.3 228.4h0.8M146.5 231.9h0.8M144.1 225.4h0.8M147.5 229.7h0.8M143.9 221.4h0.8M139.9 221.9h0.8M138.4 221.6h0.8M151.1 220.9h0.8M146.9 225.2h0.8M140.0 218.8h0.8M149.8 224.6h0.8M145.3 213.8h0.8M138.7 232.2h0.8M149.0 223.0h0.8M143.3 236.1h0.8M140.4 224.8h0.8M146.8 221.1h0.8M141.1 234.7h0.8M141.0 223.9h0.8M139.9 220.9h0.8M140.6 231.5h0.8M149.6 220.5h0.8M144.5 237.6h0.8M151.8 228.7h0.8M141.5 234.5h0.8M147.0 234.8h0.8M145.0 230.3h0.8M143.3 219.5h0.8M142.0 220.0h0.8M148.6 232.9h0.8M150.3 229.1h0.8M149.2 222.6h0.8M153.0 227.7h0.8M150.3 224.5h0.8M147.4 219.9h0.8M144.0 226.7h0.8M151.4 222.4h0.8M149.2 223.9h0.8M146.7 222.5h0.8M144.1 225.9h0.8M144.1 227.1h0.8M146.6 233.6h0.8M151.5 233.0h0.8M149.4 220.3h0.8M154.3 232.3h0.8M139.3 223.0h0.8M144.0 224.3h0.8M153.5 221.2h0.8M141.5 227.8h0.8M150.1 229.5h0.8M138.2 221.1h0.8M145.8 222.6h0.8M144.9 222.2h0.8M149.9 226.2h0.8M144.6 223.0h0.8M148.3 219.9h0.8M145.9 216.4h0.8M149.7 228.1h0.8M148.2 223.8h0.8M146.1 220.9h0.8M144.8 223.2h0.8M143.3 228.0h0.8M145.8 228.6h0.8M147.0 224.3h0.8M149.6 229.8h0.8M144.6 226.5h0.8M150.1 219.4h0.8M145.8 226.7h0.8M147.1 224.7h0.8M151.3 235.4h0.8M146.8 224.4h0.8M145.2 232.8h0.8M154.0 229.8h0.8M150.6 226.2h0.8M152.7 230.9h0.8M146.3 233.1h0.8M148.2 229.0h0.8M146.8 227.4h0.8M147.9 227.6h0.8M151.3 219.3h0.8M141.0 219.1h0.8M152.2 229.6h0.8M140.1 233.0h0.8M146.2 221.4h0.8M145.8 216.5h0.8M147.5 226.3h0.8M148.7 233.9h0.8M144.8 225.0h0.8M141.2 223.9h0.8M149.6 230.6h0.8M144.9 224.0h0.8M141.7 230.3h0.8M145.5 226.7h0.8M147.0 221.9h0.8M143.8 224.1h0.8M146.9 228.2h0.8M146.9 225.4h0.8M144.4 220.1h0.8M146.6 225.3h0.8M144.5 233.1h0.8M147.3 221.4h0.8M144.7 225.0h0.8M144.7 229.8h0.8M146.3 213.7h0.8M144.3 223.8h0.8M144.5 222.3h0.8M146.4 226.1h0.8M146.0 221.7h0.8M147.6 217.0h0.8M141.6 221.9h0.8M148.1 231.4h0.8M148.8 223.6h0.8M150.5 215.4h0.8M141.6 223.3h0.8M144.0 233.3h0.8M142.6 221.5h0.8M148.5 231.2h0.8M142.9 222.6h0.8M146.7 226.7h0.8M146.3 219.1h0.8M144.1 220.1h0.8M139.2 225.6h0.8M144.9 223.7h0.8M150.8 221.4h0.8M145.7 226.2h0.8M149.1 224.7h0.8M142.5 215.2h0.8M145.8 220.0h0.8M149.7 227.0h0.8M145.2 223.4h0.8M148.6 218.2h0.8M140.7 219.5h0.8M145.9 220.8h0.8M140.7 218.9h0.8M142.9 218.1h0.8M145.7 234.5h0.8M151.0 226.0h0.8M146.4 223.4h0.8M143.3 233.0h0.8M141.0 226.4h0.8M143.4 230.2h0.8M148.3 232.7h0.8M150.8 224.4h0.8M149.7 227.7h0.8M147.0 233.1h0.8M151.3 223.9h0.8M152.7 219.8h0.8M150.5 232.0h0.8M143.3 221.1h0.8M142.9 226.9h0.8M145.6 228.6h0.8M138.0 228.7h0.8M152.2 227.2h0.8M149.0 229.6h0.8M142.0 223.6h0.8M143.1 222.8h0.8M146.7 225.7h0.8M147.6 219.6h0.8M149.5 224.9h0.8M144.9 228.2h0.8M146.5 225.6h0.8M151.6 220.9h0.8M151.9 226.3h0.8M146.9 232.5h0.8M145.7 220.6h0.8M144.8 214.2h0.8M146.5 229.2h0.8M149.5 235.9h0.8M142.9 220.0h0.8M143.9 217.7h0.8M152.1 225.6h0.8M141.2 230.6h0.8M142.0 231.7h0.8M143.0 233.4h0.8M139.6 218.2h0.8M149.3 223.5h0.8M140.4 230.2h0.8M140.6 221.2h0.8M140.6 231.9h0.8M149.3 230.6h0.8M142.3 226.8h0.8M138.0 229.5h0.8M143.7 220.8h0.8M142.3 213.5h0.8M149.3 217.5h0.8M148.4 220.8h0.8M144.2 227.8h0.8M146.2 229.2h0.8M150.0 225.3h0.8M144.7 220.8h0.8M151.2 230.3h0.8M143.8 227.7h0.8M146.1 223.7h0.8M143.7 224.1h0.8M148.6 227.0h0.8M144.6 220.0h0.8M150.8 223.0h0.8M142.1 220.1h0.8M144.1 228.5h0.8M152.8 224.0h0.8M148.0 219.0h0.8M142.3 224.8h0.8M148.2 229.5h0.8M148.0 229.0h0.8M145.1 229.1h0.8M153.0 216.6h0.8M150.8 218.6h0.8M150.5 227.1h0.8M147.5 225.0h0.8M140.3 224.7h0.8M145.5 233.0h0.8M143.7 219.8h0.8M147.5 231.9h0.8M146.6 224.0h0.8M139.2 214.4h0.8M145.2 217.4h0.8M151.5 222.5h0.8M143.6 235.1h0.8M140.5 223.8h0.8M149.9 228.1h0.8M137.8 222.3h0.8M142.9 222.0h0.8M148.8 217.2h0.8M151.8 226.2h0.8M144.5 222.5h0.8M147.0 232.6h0.8M146.4 214.6h0.8M148.3 215.2h0.8M147.3 218.6h0.8M149.7 229.6h0.8M145.0 229.9h0.8M144.7 221.6h0.8M146.1 221.7h0.8M142.1 220.2h0.8M140.6 228.1h0.8M144.5 221.2h0.8M142.0 232.4h0.8M142.3 213.0h0.8M143.5 219.0h0.8M152.4 228.7h0.8M154.0 227.3h0.8M145.7 228.6h0.8M148.6 228.5h0.8M147.1 236.3h0.8M139.9 231.3h0.8M140.9 221.2h0.8M146.2 227.3h0.8M145.2 216.0h0.8M150.5 225.7h0.8M151.7 228.6h0.8M145.5 228.8h0.8M148.9 228.0h0.8M144.4 225.8h0.8M144.2 221.5h0.8M150.4 220.0h0.8M144.2 226.0h0.8M140.8 225.5h0.8M146.4 229.4h0.8M147.9 228.6h0.8M147.9 216.3h0.8M147.8 224.7h0.8M138.2 222.5h0.8M141.9 233.1h0.8M137.9 228.6h0.8M146.6 226.0h0.8M140.0 225.7h0.8M143.8 225.7h0.8M148.2 223.4h0.8M142.9 221.4h0.8M144.9 220.3h0.8M143.9 228.9h0.8M144.7 230.6h0.8M143.6 221.1h0.8M151.3 220.1h0.8M149.7 229.2h0.8M145.4 216.0h0.8M145.6 233.8h0.8M140.3 219.0h0.8M147.9 221.2h0.8M145.6 227.5h0.8M147.6 237.2h0.8M149.5 228.6h0.8M145.0 222.8h0.8M150.2 230.7h0.8M146.8 221.2h0.8M149.3 228.4h0.8M147.5 220.0h0.8M148.4 229.9h0.8M152.8 230.0h0.8M141.5 220.1h0.8M149.9 228.0h0.8M144.4 225.2h0.8M143.5 218.5h0.8M146.8 227.7h0.8M153.3 221.9h0.8M145.4 225.0h0.8M147.8 230.9h0.8M139.2 230.6h0.8M148.6 225.4h0.8M149.0 213.2h0.8M147.8 226.9h0.8M148.3 227.3h0.8M148.7 229.5h0.8M149.0 221.6h0.8M149.8 225.4h0.8M142.7 232.4h0.8M149.3 219.8h0.8M149.5 230.9h0.8M148.6 223.4h0.8M149.5 230.7h0.8M149.6 229.2h0.8M152.9 226.2h0.8M147.8 220.4h0.8M143.0 223.1h0.8M142.0 226.5h0.8M143.4 237.8h0.8M148.2 230.8h0.8M143.7 218.4h0.8M146.4 221.5h0.8M144.9 228.1h0.8M146.2 232.2h0.8M142.5 224.4h0.8M147.6 219.4h0.8M149.0 237.3h0.8M147.2 230.5h0.8M140.1 215.2h0.8M148.3 232.5h0.8M145.2 223.6h0.8M146.0 231.3h0.8M151.0 233.3h0.8M146.8 236.7h0.8M145.4 222.3h0.8M149.1 221.2h0.8M144.2 229.9h0.8M148.7 227.4h0.8M150.7 225.3h0.8M143.5 233.7h0.8M146.3 224.0h0.8M145.5 223.7h0.8M146.4 217.3h0.8M142.6 220.6h0.8M146.5 226.0h0.8M142.7 215.4h0.8M145.5 225.5h0.8M147.3 220.7h0.8M149.8 223.7h0.8M148.9 228.4h0.8M145.1 218.8h0.8M147.0 219.2h0.8M144.8 223.5h0.8M148.7 225.1h0.8M151.7 234.3h0.8M152.1 224.8h0.8M145.3 231.0h0.8M154.4 229.5h0.8M148.8 226.8h0.8M144.7 226.3h0.8M144.4 220.5h0.8M140.8 230.1h0.8M139.2 229.2h0.8M146.2 227.4h0.8M144.9 223.3h0.8M151.4 221.5h0.8M147.9 227.2h0.8M145.1 226.6h0.8M139.9 232.2h0.8M144.7 227.8h0.8M154.0 225.5h0.8M146.5 220.0h0.8M142.3 236.2h0.8M151.0 230.2h0.8M150.6 226.7h0.8M143.8 234.2h0.8M148.6 231.0h0.8M147.1 227.2h0.8M145.8 218.4h0.8M146.7 219.9h0.8M145.5 218.5h0.8M148.9 236.0h0.8M140.9 216.9h0.8M147.9 226.0h0.8M150.9 221.6h0.8M144.0 230.9h0.8M140.3 233.4h0.8M142.0 226.0h0.8M144.3 227.9h0.8M147.9 231.3h0.8M152.8 225.0h0.8M145.7 220.2h0.8M150.8 216.6h0.8M143.5 220.1h0.8M142.2 232.1h0.8M147.2 223.8h0.8M151.5 217.4h0.8M147.2 230.4h0.8M149.8 219.5h0.8M150.7 235.5h0.8M147.6 215.9h0.8M151.9 229.7h0.8M144.8 227.1h0.8M146.9 225.4h0.8M142.5 213.8h0.8M143.8 223.5h0.8M144.1 237.6h0.8M146.6 234.9h0.8M145.4 222.8h0.8M146.1 222.0h0.8M143.9 223.5h0.8M148.0 230.4h0.8M144.5 235.5h0.8M147.6 234.2h0.8M146.8 224.8h0.8M144.3 223.2h0.8M148.7 228.0h0.8M144.4 227.8h0.8M138.6 229.2h0.8M143.2 226.4h0.8M151.4 214.6h0.8M148.8 228.9h0.8M147.8 228.2h0.8M148.7 221.3h0.8M145.9 229.4h0.8M149.0 222.9h0.8M145.8 236.7h0.8M144.4 227.9h0.8M143.5 226.4h0.8M145.4 224.7h0.8M144.6 223.8h0.8M149.7 219.1h0.8M153.2 229.7h0.8M147.8 224.1h0.8M141.3 220.2h0.8M149.9 229.0h0.8M145.4 226.6h0.8M148.5 217.5h0.8M149.5 222.8h0.8M145.8 235.5h0.8M146.6 222.0h0.8M143.8 228.9h0.8M151.3 217.0h0.8M154.0 231.2h0.8M152.1 230.4h0.8M143.7 229.6h0.8M142.9 228.7h0.8M142.9 219.3h0.8M149.8 219.4h0.8M142.1 222.7h0.8M138.5 229.8h0.8M153.2 216.3h0.8M143.5 223.6h0.8M148.8 224.2h0.8M143.3 224.4h0.8M141.7 227.0h0.8M149.5 219.7h0.8M146.9 224.3h0.8M142.8 225.1h0.8M147.4 234.4h0.8M140.6 218.9h0.8M144.6 217.9h0.8M148.0 236.5h0.8M144.2 220.2h0.8M150.7 218.6h0.8M148.4 215.0h0.8M150.1 220.6h0.8M145.6 222.7h0.8M146.2 229.8h0.8M150.5 223.3h0.8M150.7 226.1h0.8M147.5 225.0h0.8M139.7 219.7h0.8M149.3 218.9h0.8M146.7 227.1h0.8M142.7 224.6h0.8M146.3 223.8h0.8M144.7 231.0h0.8M147.1 231.1h0.8M148.7 221.5h0.8M143.7 221.6h0.8M149.7 223.2h0.8M147.3 231.0h0.8M144.6 219.9h0.8M152.1 217.9h0.8M150.2 225.4h0.8M145.1 228.9h0.8M148.4 228.5h0.8M146.0 228.2h0.8M138.7 215.7h0.8M151.8 217.2h0.8M147.9 219.2h0.8M152.3 222.3h0.8M143.1 220.7h0.8M153.6 228.6h0.8M140.1 235.5h0.8M141.4 218.8h0.8M152.1 228.0h0.8M138.3 224.8h0.8M148.4 230.1h0.8M146.5 224.2h0.8M144.2 234.3h0.8M147.1 222.7h0.8M145.8 222.0h0.8M147.4 227.1h0.8M139.0 222.3h0.8M148.2 226.6h0.8M150.4 219.4h0.8M143.8 223.6h0.8M147.4 215.9h0.8M145.1 234.0h0.8M149.6 219.8h0.8M140.2 228.7h0.8M147.0 228.3h0.8M142.8 220.4h0.8M151.4 225.0h0.8M143.5 224.3h0.8M140.7 213.2h0.8M138.2 218.9h0.8M149.5 226.0h0.8M140.4 222.8h0.8M145.9 232.0h0.8M144.8 223.5h0.8M144.7 226.7h0.8M147.2 224.3h0.8M145.3 228.0h0.8M144.4 219.8h0.8M149.0 224.6h0.8M145.5 230.9h0.8M148.2 228.0h0.8M150.1 220.7h0.8M142.9 216.5h0.8M145.1 220.3h0.8M143.6 217.6h0.8M148.7 235.4h0.8M148.3 228.7h0.8M143.4 236.6h0.8M145.5 223.2h0.8M147.3 226.6h0.8M150.1 225.7h0.8M144.0 231.8h0.8M147.1 222.5h0.8M144.3 217.1h0.8M139.0 220.7h0.8M148.2 232.6h0.8M149.8 221.8h0.8M144.1 226.5h0.8M145.4 222.2h0.8M141.2 224.4h0.8M150.1 225.6h0.8M141.9 220.5h0.8M149.4 237.5h0.8M152.0 235.1h0.8M143.3 220.9h0.8M141.8 236.8h0.8M143.6 224.6h0.8M146.7 231.4h0.8M149.1 214.8h0.8M149.5 224.1h0.8M150.2 229.8h0.8M142.9 229.2h0.8M149.6 238.0h0.8M144.1 223.6h0.8M147.0 226.3h0.8M145.8 223.5h0.8M142.3 220.6h0.8M142.8 218.5h0.8M148.8 219.8h0.8M152.3 224.3h0.8M145.3 221.6h0.8M149.4 237.4h0.8M153.1 228.3h0.8M140.9 223.9h0.8M147.7 216.1h0.8M143.0 220.6h0.8M141.3 222.8h0.8M145.3 226.7h0.8M147.6 229.6h0.8M148.0 228.0h0.8M147.0 217.1h0.8M146.4 215.1h0.8M148.9 225.5h0.8M142.9 230.4h0.8M152.1 235.4h0.8M141.4 225.9h0.8M141.4 226.8h0.8M151.7 223.1h0.8M146.7 226.6h0.8M148.8 219.0h0.8M144.1 221.5h0.8M144.2 220.2h0.8M154.4 229.9h0.8M148.1 230.7h0.8M142.0 226.0h0.8M144.5 235.5h0.8M148.4 221.0h0.8M147.4 219.5h0.8M151.5 228.5h0.8M149.2 222.7h0.8M139.5 231.9h0.8M149.4 225.0h0.8M144.1 223.1h0.8M152.3 225.4h0.8M150.6 228.0h0.8M143.5 220.9h0.8M148.2 220.2h0.8M145.0 225.2h0.8M146.7 220.4h0.8M147.2 222.4h0.8M149.7 215.6h0.8M147.1 226.3h0.8M142.4 218.3h0.8M147.7 232.6h0.8M140.9 219.8h0.8M150.1 222.1h0.8M143.6 220.8h0.8M144.2 228.4h0.8M150.9 226.9h0.8M143.3 231.4h0.8M141.3 216.5h0.8M145.5 218.3h0.8M142.1 223.1h0.8M146.9 219.7h0.8M152.1 226.3h0.8M146.5 234.0h0.8M146.5 227.6h0.8M148.4 230.6h0.8M138.4 227.8h0.8M146.5 223.4h0.8M151.2 231.2h0.8M153.4 223.8h0.8M146.7 218.0h0.8M143.6 215.8h0.8M147.7 217.0h0.8M142.6 220.9h0.8M149.0 218.7h0.8M147.5 219.2h0.8M147.8 230.3h0.8M139.5 229.0h0.8M146.6 222.4h0.8M146.0 237.5h0.8M141.7 229.2h0.8M142.7 220.6h0.8M148.9 216.2h0.8M144.2 226.1h0.8M144.0 220.8h0.8M146.4 226.0h0.8M146.5 230.3h0.8M143.7 227.6h0.8M142.3 226.6h0.8M142.5 226.6h0.8M152.6 219.9h0.8M145.6 220.6h0.8M147.3 221.4h0.8M153.4 221.4h0.8M138.8 231.8h0.8M145.1 226.0h0.8M143.2 223.3h0.8M141.4 221.2h0.8M145.7 223.4h0.8M141.2 223.3h0.8M153.2 220.5h0.8M147.5 223.7h0.8M141.9 237.1h0.8M144.5 223.2h0.8M147.5 226.0h0.8M148.8 221.9h0.8M150.2 221.6h0.8M146.2 224.2h0.8M150.6 226.9h0.8M139.9 226.3h0.8M145.2 223.9h0.8M147.5 220.1h0.8M144.9 225.2h0.8M147.4 226.9h0.8M151.7 223.3h0.8M145.3 222.0h0.8M144.0 219.4h0.8M139.8 227.2h0.8M152.2 233.8h0.8M143.6 224.4h0.8M151.3 223.1h0.8M147.8 229.2h0.8M148.9 219.5h0.8M144.7 223.3h0.8M139.9 230.1h0.8M146.5 230.3h0.8M143.0 227.3h0.8M144.2 226.1h0.8M153.5 218.3h0.8M147.9 219.2h0.8M149.3 231.4h0.8M149.3 223.9h0.8M145.4 237.3h0.8M143.0 217.8h0.8M149.0 223.1h0.8M144.0 234.9h0.8M141.9 213.8h0.8M144.1 233.3h0.8M147.3 225.6h0.8M151.0 219.0h0.8M143.5 222.0h0.8M147.3 218.4h0.8M153.2 235.3h0.8M148.6 228.0h0.8M151.5 222.5h0.8M144.4 228.1h0.8M147.6 220.2h0.8M148.6 215.8h0.8M150.8 224.9h0.8M139.4 222.2h0.8M145.0 232.4h0.8M150.0 227.1h0.8M145.2 214.4h0.8M146.9 227.9h0.8M150.9 226.5h0.8M143.8 229.2h0.8M144.0 223.6h0.8M143.3 221.8h0.8M142.2 224.6h0.8M150.3 227.8h0.8M148.6 227.0h0.8M141.4 222.7h0.8M143.8 223.1h0.8M149.7 235.0h0.8M147.3 222.3h0.8M141.0 226.0h0.8M144.9 238.0h0.8M148.9 221.5h0.8M142.8 228.7h0.8M139.9 228.4h0.8M150.5 228.8h0.8M146.8 223.9h0.8M144.2 229.5h0.8M148.0 224.0h0.8M146.2 219.8h0.8M141.5 224.1h0.8M145.8 216.5h0.8M145.5 232.2h0.8M149.3 222.4h0.8M152.4 222.6h0.8M143.1 229.2h0.8M147.2 230.8h0.8M145.1 222.3h0.8M144.6 226.5h0.8M148.0 226.8h0.8M147.7 225.4h0.8M148.2 217.1h0.8M139.7 224.8h0.8M146.0 234.1h0.8M149.9 226.6h0.8M143.8 230.7h0.8M147.9 229.4h0.8M146.9 228.2h0.8M149.0 221.1h0.8M144.0 221.1h0.8M142.3 229.6h0.8M147.7 225.9h0.8M145.7 226.6h0.8M140.8 216.3h0.8M151.8 228.0h0.8M143.4 222.4h0.8M143.7 222.5h0.8M145.4 225.8h0.8M143.3 219.9h0.8M148.5 233.8h0.8M146.5 223.0h0.8M143.9 218.2h0.8M140.1 228.2h0.8M151.7 226.6h0.8M142.6 220.7h0.8M144.7 232.7h0.8M147.5 229.2h0.8M146.2 228.7h0.8M147.7 222.7h0.8M147.2 223.7h0.8M146.9 217.9h0.8M148.4 225.3h0.8M145.6 223.7h0.8M148.7 237.5h0.8M151.9 228.1h0.8M145.3 226.5h0.8M154.0 222.2h0.8M148.9 226.8h0.8M151.1 223.2h0.8M144.9 221.7h0.8M144.8 230.1h0.8M144.8 229.6h0.8M143.1 233.0h0.8M145.1 225.3h0.8M150.7 220.3h0.8M146.6 227.3h0.8M147.5 224.8h0.8M146.5 218.5h0.8M143.9 227.1h0.8M142.2 218.6h0.8M150.3 222.3h0.8M147.6 223.2h0.8M149.2 216.2h0.8M146.3 229.4h0.8M148.9 234.3h0.8M146.8 226.3h0.8M147.8 227.2h0.8M149.4 224.6h0.8M145.4 222.3h0.8M139.8 226.5h0.8M150.5 219.0h0.8M154.1 224.9h0.8M146.6 234.1h0.8M147.8 235.2h0.8M149.8 220.2h0.8M143.5 217.5h0.8M149.2 215.9h0.8M151.0 226.9h0.8M140.7 222.9h0.8M151.9 227.9h0.8M154.1 233.2h0.8M145.2 233.1h0.8M144.9 226.7h0.8M142.6 227.2h0.8M142.0 226.1h0.8M146.7 224.4h0.8M138.8 219.7h0.8M148.6 224.0h0.8M141.8 219.0h0.8M148.9 229.8h0.8M141.1 227.8h0.8M139.6 223.6h0.8M142.6 233.4h0.8M150.2 226.3h0.8M151.5 227.8h0.8M143.3 227.0h0.8M145.1 218.9h0.8M153.8 233.8h0.8M142.9 224.5h0.8M145.0 220.6h0.8M147.1 226.6h0.8M145.8 234.2h0.8M142.3 215.3h0.8M154.3 224.7h0.8M152.5 229.5h0.8M146.3 227.2h0.8M145.8 223.2h0.8M149.0 221.9h0.8M145.7 228.1h0.8M153.1 219.1h0.8M144.1 229.6h0.8M144.2 227.5h0.8M142.1 228.3h0.8M149.0 228.6h0.8M144.2 216.7h0.8M152.5 227.5h0.8M147.9 228.0h0.8M151.7 229.1h0.8M149.7 224.2h0.8M145.3 216.4h0.8M144.3 230.6h0.8M148.1 223.7h0.8M144.4 227.3h0.8M149.4 227.8h0.8M137.8 225.3h0.8M150.2 223.7h0.8M154.2 233.8h0.8M149.7 222.1h0.8M143.8 221.1h0.8M150.9 219.9h0.8M144.5 223.1h0.8M145.3 237.1h0.8M139.4 228.2h0.8M152.3 236.3h0.8M142.8 228.4h0.8M151.3 225.3h0.8M149.7 228.2h0.8M140.5 228.1h0.8M141.9 220.2h0.8M149.9 237.7h0.8M142.0 217.9h0.8M146.5 219.2h0.8M153.9 228.8h0.8M145.4 231.5h0.8M138.3 228.5h0.8M145.2 232.3h0.8M140.0 229.8h0.8M143.7 219.1h0.8M143.0 220.4h0.8M149.9 222.3h0.8M142.2 222.6h0.8M141.5 227.6h0.8M150.3 235.2h0.8M143.4 232.6h0.8M145.5 222.3h0.8M144.0 215.1h0.8M143.2 227.5h0.8M144.1 228.5h0.8M141.6 215.7h0.8M151.4 225.0h0.8M152.1 222.8h0.8M146.6 228.2h0.8M138.9 224.3h0.8M149.9 230.2h0.8M148.6 226.5h0.8M148.0 230.7h0.8M147.2 224.8h0.8M143.3 225.6h0.8M150.6 226.6h0.8M147.8 231.0h0.8M148.8 227.0h0.8M144.2 227.3h0.8M144.2 216.5h0.8M144.6 235.6h0.8M145.0 226.0h0.8M149.1 228.3h0.8M153.1 219.7h0.8M152.4 229.5h0.8M144.4 227.3h0.8M146.3 222.2h0.8M152.3 229.2h0.8M144.2 221.1h0.8M142.0 230.4h0.8M148.7 218.1h0.8M145.4 214.7h0.8M144.0 224.6h0.8M146.1 225.3h0.8M143.5 224.5h0.8M145.6 231.5h0.8M146.0 223.0h0.8M144.1 215.3h0.8M144.8 226.5h0.8M149.4 220.4h0.8M138.8 222.2h0.8M142.1 226.1h0.8M142.0 224.2h0.8M143.5 223.6h0.8M144.9 236.1h0.8M143.9 224.3h0.8M147.1 227.7h0.8M152.1 229.5h0.8M151.3 217.5h0.8M151.3 233.5h0.8M146.3 217.4h0.8M143.0 222.4h0.8M152.8 222.8h0.8M153.1 220.1h0.8M154.0 219.2h0.8M149.5 220.5h0.8M144.8 216.4h0.8M145.5 228.4h0.8M142.2 219.9h0.8M141.7 222.0h0.8M141.9 220.4h0.8M150.1 226.7h0.8M144.5 228.4h0.8M142.6 216.1h0.8M148.1 213.9h0.8M145.5 222.5h0.8M145.6 225.9h0.8M152.5 225.8h0.8M143.2 219.3h0.8M144.2 215.0h0.8M140.6 221.4h0.8M150.9 231.2h0.8M149.5 227.2h0.8M141.2 222.7h0.8M150.6 235.0h0.8M144.5 225.4h0.8M149.0 232.6h0.8M144.9 222.4h0.8M139.8 229.8h0.8M145.0 225.8h0.8M147.4 234.8h0.8M152.3 230.0h0.8M145.2 232.7h0.8M143.9 231.2h0.8M147.4 219.7h0.8M146.3 218.7h0.8M144.5 225.4h0.8M143.2 223.7h0.8M145.1 234.4h0.8M140.1 221.2h0.8M144.9 224.5h0.8M145.6 219.7h0.8M148.6 228.4h0.8M145.3 224.3h0.8M148.8 227.8h0.8M149.6 235.3h0.8M147.1 228.3h0.8M148.2 224.7h0.8M143.4 224.5h0.8M140.2 236.3h0.8M147.2 217.0h0.8M149.1 227.0h0.8M149.4 229.7h0.8M145.7 223.9h0.8M147.7 217.1h0.8M144.7 230.0h0.8M147.5 219.7h0.8M145.4 229.1h0.8M153.9 226.5h0.8M147.4 222.4h0.8M141.9 227.3h0.8M146.7 225.0h0.8M151.6 228.6h0.8M150.7 221.1h0.8M142.8 226.3h0.8M149.0 237.4h0.8M141.2 238.6h0.8M143.6 245.1h0.8M142.3 241.1h0.8M142.8 244.4h0.8M142.9 245.3h0.8M146.9 235.0h0.8M142.8 243.9h0.8M143.4 241.5h0.8M140.4 233.3h0.8M141.2 233.0h0.8M143.9 245.2h0.8M141.0 239.0h0.8M141.3 246.2h0.8M142.0 246.1h0.8M144.9 236.3h0.8M142.6 246.0h0.8M141.2 238.8h0.8M142.8 245.2h0.8M140.4 238.8h0.8M139.2 236.5h0.8M142.3 243.5h0.8M144.6 239.3h0.8M143.4 239.7h0.8M143.2 233.7h0.8M141.5 242.3h0.8M146.2 236.6h0.8M141.5 245.4h0.8M142.1 234.6h0.8M139.3 236.6h0.8M140.3 241.6h0.8M141.8 246.4h0.8M143.7 239.4h0.8M144.6 236.2h0.8M143.4 242.0h0.8M142.7 244.7h0.8M141.3 241.2h0.8M139.6 241.4h0.8M143.0 239.8h0.8M143.6 244.3h0.8M142.9 235.5h0.8M145.5 241.6h0.8M139.6 236.2h0.8M148.2 235.0h0.8M142.9 238.8h0.8M143.9 236.4h0.8M141.8 245.2h0.8M143.1 246.4h0.8M140.7 232.8h0.8M140.6 235.6h0.8M140.9 233.6h0.8M145.3 233.7h0.8M139.7 237.0h0.8M146.0 233.5h0.8M150.0 237.7h0.8M142.1 245.1h0.8M142.7 233.3h0.8M143.0 233.7h0.8M145.7 235.5h0.8M141.5 240.7h0.8M141.3 242.6h0.8M142.4 237.8h0.8M142.4 237.5h0.8M142.3 238.7h0.8M140.7 244.2h0.8M142.4 246.5h0.8M142.4 245.6h0.8M143.9 238.2h0.8M140.8 242.9h0.8M140.7 239.5h0.8M146.3 235.0h0.8M145.2 236.7h0.8M141.9 244.9h0.8M144.9 236.3h0.8M138.1 236.6h0.8M143.6 240.4h0.8M141.9 242.3h0.8M140.4 233.0h0.8M146.4 239.6h0.8M139.0 241.8h0.8M140.8 241.7h0.8M142.3 236.7h0.8M144.6 238.6h0.8M140.2 243.0h0.8M143.2 236.8h0.8M142.9 233.8h0.8M144.9 234.7h0.8M140.7 245.3h0.8M141.1 240.3h0.8M141.6 245.9h0.8M144.1 235.0h0.8M144.4 238.9h0.8M141.9 245.4h0.8M142.0 238.9h0.8M144.7 237.9h0.8M142.3 246.9h0.8M143.9 239.2h0.8M142.2 244.4h0.8M141.0 243.2h0.8M144.7 237.6h0.8M144.4 235.7h0.8M142.1 246.5h0.8M142.9 237.0h0.8M144.4 240.9h0.8M139.7 240.7h0.8M139.9 238.4h0.8M148.3 236.3h0.8M143.6 245.8h0.8M143.1 244.2h0.8M144.6 244.9h0.8M145.1 239.7h0.8M141.2 242.9h0.8M147.4 234.3h0.8M144.7 235.6h0.8M142.6 232.9h0.8M141.1 238.8h0.8M144.6 242.8h0.8M143.5 243.3h0.8M139.6 237.0h0.8M147.3 233.9h0.8M140.8 246.1h0.8M142.5 244.0h0.8M139.4 239.4h0.8M143.1 237.6h0.8M144.4 239.0h0.8M143.4 234.8h0.8M136.7 233.7h0.8M144.5 237.9h0.8M143.1 234.1h0.8M137.5 233.0h0.8M140.8 233.8h0.8M145.0 238.4h0.8M148.3 233.6h0.8M141.6 245.1h0.8M141.9 245.0h0.8M142.0 241.3h0.8M140.5 236.5h0.8M143.7 238.3h0.8M140.8 244.2h0.8M141.9 233.7h0.8M141.7 239.7h0.8M141.1 240.4h0.8M140.7 233.9h0.8M143.1 233.5h0.8M142.2 239.4h0.8M144.0 238.2h0.8M142.5 236.2h0.8M144.7 241.8h0.8M142.1 237.1h0.8M145.0 235.6h0.8M142.3 238.8h0.8M143.5 242.6h0.8M147.4 236.2h0.8M146.6 238.9h0.8M140.4 243.5h0.8M143.1 243.0h0.8M140.6 243.8h0.8M143.3 233.4h0.8M141.1 232.8h0.8M139.5 233.1h0.8M142.5 243.9h0.8M142.0 243.7h0.8M143.2 233.8h0.8M142.5 242.5h0.8M142.9 238.4h0.8M144.6 237.2h0.8M145.3 240.6h0.8M142.9 233.9h0.8M143.3 245.9h0.8M146.7 235.0h0.8M144.8 234.1h0.8M142.8 240.2h0.8M141.0 239.9h0.8M145.9 239.5h0.8M141.3 246.1h0.8M140.9 233.2h0.8M143.4 235.1h0.8M141.4 244.6h0.8M142.0 246.9h0.8M145.6 238.5h0.8M141.5 240.4h0.8M146.3 236.6h0.8M143.6 233.1h0.8M141.8 242.1h0.8M140.5 236.6h0.8M143.5 239.5h0.8M144.6 246.5h0.8M141.1 240.3h0.8M143.7 233.1h0.8M142.4 241.4h0.8M142.1 241.5h0.8M142.9 243.5h0.8M144.3 239.2h0.8M145.9 244.2h0.8M142.5 246.8h0.8M143.3 241.6h0.8M143.1 237.6h0.8M141.7 241.6h0.8M140.8 240.1h0.8M141.8 240.4h0.8M139.4 239.6h0.8M143.0 235.9h0.8M139.9 243.2h0.8M145.9 234.8h0.8M145.8 234.3h0.8M143.4 234.0h0.8M141.1 244.6h0.8M141.0 243.9h0.8M144.5 235.0h0.8M141.0 237.4h0.8M141.3 233.6h0.8M144.9 235.6h0.8M144.2 237.6h0.8M143.1 237.9h0.8M141.0 244.0h0.8M138.8 237.9h0.8M139.9 233.1h0.8M143.3 241.3h0.8M142.3 240.8h0.8M149.3 233.6h0.8M143.0 245.4h0.8M140.9 241.6h0.8M145.5 240.1h0.8M142.2 245.2h0.8M142.8 244.3h0.8M143.6 233.7h0.8M142.0 244.8h0.8M143.1 237.7h0.8M142.0 246.3h0.8M140.3 246.1h0.8M141.6 232.9h0.8M140.7 241.9h0.8M142.7 245.0h0.8M145.4 236.4h0.8M139.5 238.5h0.8M140.7 237.1h0.8M145.8 237.0h0.8M143.2 241.4h0.8M141.9 234.0h0.8M145.0 240.7h0.8M144.1 245.4h0.8M139.6 238.3h0.8M141.5 241.8h0.8M143.1 243.2h0.8M141.0 235.4h0.8M141.0 243.3h0.8M140.8 238.3h0.8M141.4 233.0h0.8M143.1 235.5h0.8M142.7 235.3h0.8M139.3 236.9h0.8M142.5 239.6h0.8M142.1 245.1h0.8M142.7 243.2h0.8M143.3 234.9h0.8M143.4 237.1h0.8M140.8 232.7h0.8M144.4 237.5h0.8M143.7 239.6h0.8M146.0 242.3h0.8M143.4 236.4h0.8M144.3 237.4h0.8M145.1 239.8h0.8M150.1 234.2h0.8M144.1 233.6h0.8M145.6 234.5h0.8M144.5 241.1h0.8M141.7 235.1h0.8M143.4 247.0h0.8M142.4 239.7h0.8M142.2 241.8h0.8M141.6 243.2h0.8M140.6 243.8h0.8M144.9 234.3h0.8M144.4 238.4h0.8M142.9 242.9h0.8M143.1 242.5h0.8M145.1 237.0h0.8M145.2 234.2h0.8M144.2 238.1h0.8M148.6 236.9h0.8M141.0 237.3h0.8M142.7 243.9h0.8M143.0 233.2h0.8M143.0 233.5h0.8M141.6 241.1h0.8M141.8 242.7h0.8M142.3 245.4h0.8M142.8 234.3h0.8M139.5 235.1h0.8M143.2 233.0h0.8M143.5 244.0h0.8M140.1 239.5h0.8M142.1 234.2h0.8M140.6 246.0h0.8M143.3 240.5h0.8M137.8 235.7h0.8M146.5 242.7h0.8M141.4 246.6h0.8M139.9 238.9h0.8M144.1 236.7h0.8M141.6 240.7h0.8M144.7 236.2h0.8M144.1 239.2h0.8M144.8 243.3h0.8M143.4 239.2h0.8M141.9 235.6h0.8M142.6 241.7h0.8M141.8 244.5h0.8M141.8 241.7h0.8M146.4 235.9h0.8M142.2 241.2h0.8M141.2 243.6h0.8M141.9 239.6h0.8M143.3 236.4h0.8M143.2 242.2h0.8M142.9 246.3h0.8M143.2 240.5h0.8M140.8 241.6h0.8M142.5 244.0h0.8M143.4 245.4h0.8M141.4 245.2h0.8M142.7 242.1h0.8M144.0 238.9h0.8M142.4 239.5h0.8M143.1 238.1h0.8M142.1 238.7h0.8M140.7 240.2h0.8M142.9 246.9h0.8M142.5 240.8h0.8M139.5 234.0h0.8M139.1 237.8h0.8M142.4 244.8h0.8M144.9 233.7h0.8M145.6 236.3h0.8M145.2 241.1h0.8M144.3 238.6h0.8M143.9 246.7h0.8M143.9 239.3h0.8M142.1 233.6h0.8M139.5 235.0h0.8M143.2 233.4h0.8M140.8 237.4h0.8M142.5 241.2h0.8M144.3 237.6h0.8M138.8 235.9h0.8M142.4 234.6h0.8M141.5 237.4h0.8M143.2 236.9h0.8M141.9 233.3h0.8M148.1 236.8h0.8M141.8 239.8h0.8M140.8 240.9h0.8M144.0 239.8h0.8M140.6 237.7h0.8M143.3 238.6h0.8M142.8 242.4h0.8M141.6 236.1h0.8M142.1 241.6h0.8M145.1 233.4h0.8M142.6 237.7h0.8M140.6 245.9h0.8M145.5 234.5h0.8M143.6 237.3h0.8M144.0 235.7h0.8M140.4 234.9h0.8M143.4 237.6h0.8M139.8 234.9h0.8M145.3 233.8h0.8M142.1 234.8h0.8M143.1 237.7h0.8M141.2 244.0h0.8M143.7 234.6h0.8M143.1 238.2h0.8M145.4 234.2h0.8M142.0 242.9h0.8M138.2 237.0h0.8M142.1 236.9h0.8M141.4 246.7h0.8M143.2 235.0h0.8M140.8 234.8h0.8M147.7 236.6h0.8M141.8 234.9h0.8M140.3 244.7h0.8M146.2 235.6h0.8M145.5 239.7h0.8M142.6 246.5h0.8M139.2 233.5h0.8M141.4 238.7h0.8M142.1 236.9h0.8M139.8 237.6h0.8M143.3 237.8h0.8M141.7 241.3h0.8M147.9 233.5h0.8M139.7 242.6h0.8M141.5 234.3h0.8M147.0 238.5h0.8M139.8 244.4h0.8M141.1 241.6h0.8M145.1 234.4h0.8M142.3 241.7h0.8M142.4 242.4h0.8M142.2 235.9h0.8M141.6 238.7h0.8M143.6 236.7h0.8M140.8 243.7h0.8M142.2 247.0h0.8M139.3 234.4h0.8M143.1 243.9h0.8M142.3 246.3h0.8M143.9 235.1h0.8M149.4 237.1h0.8M145.0 243.6h0.8M143.4 237.4h0.8M145.6 233.5h0.8M143.7 239.7h0.8M137.3 234.1h0.8M142.6 242.4h0.8M141.6 242.5h0.8M141.1 241.0h0.8M142.5 239.5h0.8M141.5 235.1h0.8M147.4 235.0h0.8M143.0 244.6h0.8M142.9 236.3h0.8M141.0 233.2h0.8M141.7 234.6h0.8M142.3 237.5h0.8M142.3 245.8h0.8M144.9 233.7h0.8M144.3 245.8h0.8M141.7 236.8h0.8M140.9 237.0h0.8M139.2 233.0h0.8M142.9 237.7h0.8M141.8 234.6h0.8M142.8 245.6h0.8M143.2 239.8h0.8M144.8 242.2h0.8M144.7 239.7h0.8M142.1 245.0h0.8M139.6 235.2h0.8M143.7 243.5h0.8M142.9 234.3h0.8M142.8 237.0h0.8M142.1 236.1h0.8M141.3 241.2h0.8M141.4 245.1h0.8M141.8 244.3h0.8M143.1 239.2h0.8M141.2 238.7h0.8M142.3 245.0h0.8M142.4 235.1h0.8M142.3 240.6h0.8M147.0 234.3h0.8M141.0 243.2h0.8M141.8 246.3h0.8M143.4 245.2h0.8M141.8 246.9h0.8M141.6 233.8h0.8M141.2 242.7h0.8M143.4 242.3h0.8M140.3 232.7h0.8M142.0 241.0h0.8M144.0 241.9h0.8M143.5 235.2h0.8M142.6 240.5h0.8M139.5 242.6h0.8M142.6 241.0h0.8M143.0 244.7h0.8M142.7 237.3h0.8M143.1 241.1h0.8M139.4 236.4h0.8M145.7 233.3h0.8M143.4 244.7h0.8M141.7 244.5h0.8M144.8 240.8h0.8M146.4 234.4h0.8M141.3 235.6h0.8M143.7 241.0h0.8M146.7 238.0h0.8M141.7 243.9h0.8M142.8 238.5h0.8M141.9 240.8h0.8M146.4 239.8h0.8M143.6 245.1h0.8M144.7 239.5h0.8M143.4 240.9h0.8M143.0 243.9h0.8M140.7 234.1h0.8M142.5 235.6h0.8M148.5 234.9h0.8M144.5 237.5h0.8M142.3 246.4h0.8M141.4 236.6h0.8M144.6 234.0h0.8M144.3 236.9h0.8M145.4 235.2h0.8M146.2 235.8h0.8M149.9 233.8h0.8M142.2 243.9h0.8M144.4 240.0h0.8M145.1 238.1h0.8M141.8 233.0h0.8M146.2 235.7h0.8M144.4 233.8h0.8M142.7 246.1h0.8M139.5 236.0h0.8M140.7 235.2h0.8M142.9 239.6h0.8M142.0 233.1h0.8M149.0 233.7h0.8M143.1 245.7h0.8M147.9 236.1h0.8M140.7 237.2h0.8M142.2 237.6h0.8M141.7 240.8h0.8M140.5 236.4h0.8M142.9 243.8h0.8M144.2 243.4h0.8M143.8 243.6h0.8M139.6 237.4h0.8M140.0 240.4h0.8M138.9 234.3h0.8M145.2 237.6h0.8M142.1 243.9h0.8M141.2 246.1h0.8M141.2 234.6h0.8M142.2 242.7h0.8M143.5 239.0h0.8M146.4 234.7h0.8M143.1 244.1h0.8M147.9 236.0h0.8M141.2 240.8h0.8M140.3 233.6h0.8M142.4 246.8h0.8M144.2 236.0h0.8M146.4 238.0h0.8M143.1 239.1h0.8M142.6 234.5h0.8M142.4 246.7h0.8M140.1 237.5h0.8M143.1 240.3h0.8M140.6 234.8h0.8M142.4 239.1h0.8M143.9 243.8h0.8M144.9 233.5h0.8M140.5 243.0h0.8M147.5 237.2h0.8M143.7 237.3h0.8M141.9 233.0h0.8M144.2 243.1h0.8M142.2 236.8h0.8M145.7 233.3h0.8M142.2 235.4h0.8M145.9 235.7h0.8M138.3 239.6h0.8M142.6 242.4h0.8M144.4 233.5h0.8M142.2 244.8h0.8M142.7 246.1h0.8M140.7 240.1h0.8M140.8 234.1h0.8M144.2 234.4h0.8M145.3 237.8h0.8M143.1 237.2h0.8M143.8 238.1h0.8M145.3 242.2h0.8M143.3 238.2h0.8M144.6 233.4h0.8M146.3 244.1h0.8M144.4 242.1h0.8M141.3 235.7h0.8M141.5 236.5h0.8M141.9 234.6h0.8M144.4 233.5h0.8M146.6 234.5h0.8M144.3 238.0h0.8M142.0 245.0h0.8M137.5 232.5h0.8M141.6 245.9h0.8M141.6 239.0h0.8M143.7 239.0h0.8M144.1 239.4h0.8M143.0 234.3h0.8M141.6 242.5h0.8M142.1 235.3h0.8M141.0 242.9h0.8M144.0 235.7h0.8M140.0 238.1h0.8M138.7 238.8h0.8M143.8 240.3h0.8M144.7 238.4h0.8M141.8 234.2h0.8M140.4 241.4h0.8M142.4 241.1h0.8M148.2 235.7h0.8M145.0 234.3h0.8M138.9 243.5h0.8M142.1 235.3h0.8M141.9 245.6h0.8M162.7 218.7h0.8M169.0 232.1h0.8M161.4 223.7h0.8M162.1 221.0h0.8M175.8 220.6h0.8M169.0 233.8h0.8M169.2 230.5h0.8M154.7 215.5h0.8M162.3 227.2h0.8M157.5 225.3h0.8M164.3 218.7h0.8M165.2 223.7h0.8M168.9 223.2h0.8M161.2 226.6h0.8M173.3 228.9h0.8M172.1 222.1h0.8M148.0 221.7h0.8M166.1 227.2h0.8M165.1 234.0h0.8M171.6 223.9h0.8M161.4 222.7h0.8M172.9 231.9h0.8M162.5 230.2h0.8M162.1 227.3h0.8M155.9 217.6h0.8M161.2 227.7h0.8M166.9 218.1h0.8M155.3 222.7h0.8M170.9 217.5h0.8M164.0 227.2h0.8M158.4 225.4h0.8M161.8 224.2h0.8M162.0 223.1h0.8M166.1 222.5h0.8M154.7 227.5h0.8M168.0 227.0h0.8M161.1 223.2h0.8M160.7 228.9h0.8M153.8 222.0h0.8M160.0 231.5h0.8M159.3 230.8h0.8M169.1 229.7h0.8M162.8 218.9h0.8M167.7 220.5h0.8M162.8 223.5h0.8M157.1 231.0h0.8M175.3 233.4h0.8M156.4 225.7h0.8M160.9 228.4h0.8M173.6 224.5h0.8M153.5 232.4h0.8M169.9 226.2h0.8M161.6 227.8h0.8M164.9 219.6h0.8M163.3 226.4h0.8M156.5 222.1h0.8M162.6 221.7h0.8M161.4 223.9h0.8M162.2 221.5h0.8M152.0 220.8h0.8M161.0 221.6h0.8M162.1 222.3h0.8M156.7 219.4h0.8M155.1 221.0h0.8M162.2 229.7h0.8M162.2 225.0h0.8M153.3 227.5h0.8M169.7 218.1h0.8M169.8 226.9h0.8M157.7 228.8h0.8M156.3 219.5h0.8M158.4 223.3h0.8M162.7 225.3h0.8M165.2 223.3h0.8M171.6 222.6h0.8M171.3 225.3h0.8M159.8 217.2h0.8M155.4 227.1h0.8M154.7 219.9h0.8M159.9 229.8h0.8M165.3 225.5h0.8M165.1 220.9h0.8M163.7 219.1h0.8M160.7 221.9h0.8M155.7 227.9h0.8M164.0 221.6h0.8M157.7 223.3h0.8M165.3 219.3h0.8M158.1 219.9h0.8M169.3 218.6h0.8M154.0 224.9h0.8M150.4 234.1h0.8M158.6 232.2h0.8M163.1 228.0h0.8M162.1 224.5h0.8M165.4 225.4h0.8M153.3 229.7h0.8M154.9 216.3h0.8M156.0 225.1h0.8M154.9 223.3h0.8M165.5 226.2h0.8M156.0 226.0h0.8M155.7 221.3h0.8M165.8 224.3h0.8M161.1 230.1h0.8M169.8 226.6h0.8M162.0 226.0h0.8M155.6 220.8h0.8M171.3 222.6h0.8M150.8 224.8h0.8M152.4 225.4h0.8M159.0 229.0h0.8M157.8 234.4h0.8M165.1 219.8h0.8M149.4 225.0h0.8M167.0 222.3h0.8M163.2 225.1h0.8M171.8 221.2h0.8M156.0 217.8h0.8M162.3 221.5h0.8M153.8 223.3h0.8M160.2 224.7h0.8M161.9 221.3h0.8M162.5 225.1h0.8M160.5 228.8h0.8M166.7 232.7h0.8M173.0 222.3h0.8M156.6 219.2h0.8M149.4 226.9h0.8M154.1 218.5h0.8M156.8 227.5h0.8M162.0 232.9h0.8M169.6 225.9h0.8M168.8 224.7h0.8M159.4 230.3h0.8M154.2 222.6h0.8M158.1 227.6h0.8M154.3 224.0h0.8M164.8 226.2h0.8M155.5 217.5h0.8M161.5 220.8h0.8M161.6 228.2h0.8M160.7 220.6h0.8M162.7 223.9h0.8M155.0 222.5h0.8M154.9 232.6h0.8M164.8 223.5h0.8M159.0 224.6h0.8M165.9 223.8h0.8M164.2 219.7h0.8M164.5 221.5h0.8M158.5 230.2h0.8M161.8 223.7h0.8M153.1 225.1h0.8M167.5 223.5h0.8M160.3 224.1h0.8M158.5 227.0h0.8M165.0 223.7h0.8M163.9 231.4h0.8M172.2 230.9h0.8M161.4 222.3h0.8M165.5 224.6h0.8M157.8 223.6h0.8M148.4 226.2h0.8M157.6 227.1h0.8M161.8 223.8h0.8M163.3 229.5h0.8M162.7 226.9h0.8M161.6 226.2h0.8M168.4 232.8h0.8M162.4 222.9h0.8M156.5 225.2h0.8M162.6 221.4h0.8M150.3 234.6h0.8M160.6 227.8h0.8M158.1 228.6h0.8M161.5 233.2h0.8M163.3 224.1h0.8M156.5 225.7h0.8M167.6 224.5h0.8M162.2 229.3h0.8M158.0 223.6h0.8M153.8 229.6h0.8M164.7 229.5h0.8M164.2 229.3h0.8M156.0 220.8h0.8M161.7 221.3h0.8M157.5 224.3h0.8M173.8 226.9h0.8M166.5 219.0h0.8M167.7 221.6h0.8M158.9 217.5h0.8M167.1 232.7h0.8M159.2 225.9h0.8M169.4 216.7h0.8M162.2 226.1h0.8M166.4 223.0h0.8M158.2 219.3h0.8M153.8 221.7h0.8M168.9 226.5h0.8M173.3 227.3h0.8M156.3 227.7h0.8M158.6 224.8h0.8M171.5 229.6h0.8M164.5 229.9h0.8M166.7 233.3h0.8M153.1 222.8h0.8M164.3 217.7h0.8M165.8 220.0h0.8M160.7 221.3h0.8M152.6 224.9h0.8M164.8 230.0h0.8M162.8 228.5h0.8M163.2 217.6h0.8M153.4 226.5h0.8M167.5 230.7h0.8M165.3 225.5h0.8M174.0 223.9h0.8M164.8 233.0h0.8M150.0 226.8h0.8M168.6 231.2h0.8M155.5 219.9h0.8M168.5 226.7h0.8M165.2 220.9h0.8M171.4 223.6h0.8M166.1 226.6h0.8M168.4 225.9h0.8M173.7 229.1h0.8M157.0 227.7h0.8M168.0 230.0h0.8M158.6 216.6h0.8M161.6 223.6h0.8M148.0 225.7h0.8M169.2 226.1h0.8M162.8 227.7h0.8M165.7 219.9h0.8M157.0 224.6h0.8M174.7 221.4h0.8M159.3 225.0h0.8M159.1 228.6h0.8M155.1 229.9h0.8M172.5 233.1h0.8M161.2 231.5h0.8M163.3 216.0h0.8M168.6 220.5h0.8M155.9 217.9h0.8M168.4 223.5h0.8M162.7 220.6h0.8M163.0 215.5h0.8M156.8 217.8h0.8M155.4 226.2h0.8M158.7 235.0h0.8M161.8 223.6h0.8M155.0 224.6h0.8M165.9 219.7h0.8M170.1 218.5h0.8M164.1 222.9h0.8M157.3 223.5h0.8M155.0 227.1h0.8M164.7 226.1h0.8M166.3 229.0h0.8M170.1 226.4h0.8M166.8 221.4h0.8M164.8 230.1h0.8M165.1 228.6h0.8M148.8 227.2h0.8M159.6 230.1h0.8M165.6 227.7h0.8M156.1 220.9h0.8M155.7 227.5h0.8M154.6 231.5h0.8M158.4 233.9h0.8M168.8 227.4h0.8M167.5 230.8h0.8M168.9 230.6h0.8M163.7 225.4h0.8M162.9 227.4h0.8M163.8 231.7h0.8M172.4 224.9h0.8M163.0 225.7h0.8M163.2 223.0h0.8M162.1 221.9h0.8M156.4 223.9h0.8M148.9 230.2h0.8M170.3 230.7h0.8M161.2 217.9h0.8M173.8 227.0h0.8M159.0 227.4h0.8M162.6 225.7h0.8M158.3 221.8h0.8M170.7 224.2h0.8M166.0 219.7h0.8M170.4 221.0h0.8M166.0 231.7h0.8M165.9 233.1h0.8M171.1 234.2h0.8M153.4 223.8h0.8M164.2 221.4h0.8M167.4 222.8h0.8M151.3 225.9h0.8M162.6 223.0h0.8M172.8 222.1h0.8M159.8 224.3h0.8M167.7 235.5h0.8M165.5 227.3h0.8M151.1 229.1h0.8M147.4 225.8h0.8M151.5 216.1h0.8M168.3 224.6h0.8M164.4 227.3h0.8M167.1 223.9h0.8M166.6 230.6h0.8M158.6 226.2h0.8M150.6 224.2h0.8M162.3 226.8h0.8M159.6 225.9h0.8M164.3 230.7h0.8M170.6 223.1h0.8M157.6 224.4h0.8M160.3 229.0h0.8M159.5 224.5h0.8M156.8 229.3h0.8M163.6 232.4h0.8M164.8 228.6h0.8M160.4 230.1h0.8M164.9 225.3h0.8M153.2 224.4h0.8M162.4 230.4h0.8M157.9 220.8h0.8M171.3 225.4h0.8M163.4 228.2h0.8M158.5 229.7h0.8M162.5 219.0h0.8M150.8 227.5h0.8M168.2 226.8h0.8M159.0 221.8h0.8M167.1 223.6h0.8M168.5 217.2h0.8M160.3 221.8h0.8M163.7 229.4h0.8M165.1 225.8h0.8M149.6 234.3h0.8M164.8 224.8h0.8M172.6 218.4h0.8M169.0 227.3h0.8M158.5 221.2h0.8M166.2 218.8h0.8M158.8 222.1h0.8M160.2 230.7h0.8M174.0 227.1h0.8M164.3 228.2h0.8M168.2 231.1h0.8M173.7 225.3h0.8M162.8 225.6h0.8M160.5 219.1h0.8M162.5 221.1h0.8M161.9 227.0h0.8M166.8 219.0h0.8M156.8 224.3h0.8M150.4 222.6h0.8M154.9 222.5h0.8M163.6 228.6h0.8M155.3 228.8h0.8M154.2 222.8h0.8M156.1 230.3h0.8M159.3 223.9h0.8M157.4 219.4h0.8M165.1 229.8h0.8M166.0 229.6h0.8M167.0 225.9h0.8M165.8 227.5h0.8M155.7 227.3h0.8M156.6 224.7h0.8M157.8 220.1h0.8M170.7 230.2h0.8M168.4 222.7h0.8M149.9 225.3h0.8M165.6 227.3h0.8M157.1 230.6h0.8M159.3 224.0h0.8M164.8 225.1h0.8M165.9 226.2h0.8M153.1 225.6h0.8M167.2 225.5h0.8M147.9 224.7h0.8M159.0 229.8h0.8M166.9 232.4h0.8M153.7 226.4h0.8M165.2 227.4h0.8M162.6 231.0h0.8M165.3 234.6h0.8M167.9 227.8h0.8M157.3 223.9h0.8M163.3 222.1h0.8M155.4 226.5h0.8M168.6 220.4h0.8M161.9 227.6h0.8M163.4 220.8h0.8M174.5 228.3h0.8M163.1 229.2h0.8M165.1 217.1h0.8M157.7 217.6h0.8M164.1 225.4h0.8M171.7 228.9h0.8M168.5 228.1h0.8M170.3 230.1h0.8M159.4 225.0h0.8M149.0 220.0h0.8M170.0 234.0h0.8M153.6 228.3h0.8M164.0 219.8h0.8M169.2 221.5h0.8M176.4 222.6h0.8M166.6 217.1h0.8M151.2 224.3h0.8M174.0 224.0h0.8M169.7 226.2h0.8M164.8 224.3h0.8M161.7 221.9h0.8M161.9 225.3h0.8M171.2 234.0h0.8M158.1 229.9h0.8M168.6 224.5h0.8M158.6 220.7h0.8M156.9 226.6h0.8M168.7 225.2h0.8M161.4 227.9h0.8M152.2 221.4h0.8M162.5 224.2h0.8M176.3 224.3h0.8M159.9 225.5h0.8M160.1 223.8h0.8M154.5 228.3h0.8M150.8 226.0h0.8M165.0 220.7h0.8M169.1 222.9h0.8M159.5 225.2h0.8M174.2 222.8h0.8M162.7 234.1h0.8M148.2 226.6h0.8M157.0 231.7h0.8M166.7 229.1h0.8M164.2 225.9h0.8M164.9 234.3h0.8M171.8 222.9h0.8M164.3 228.3h0.8M158.0 223.9h0.8M150.9 223.0h0.8M172.1 222.3h0.8M154.8 231.6h0.8M167.3 218.8h0.8M155.7 226.0h0.8M157.8 220.9h0.8M168.4 217.8h0.8M166.2 224.6h0.8M175.1 224.2h0.8M157.5 228.1h0.8M161.2 227.2h0.8M165.2 219.7h0.8M161.5 227.6h0.8M170.4 227.1h0.8M157.0 224.7h0.8M164.2 221.5h0.8M156.2 231.3h0.8M152.2 227.0h0.8M160.6 223.3h0.8M158.2 219.1h0.8M148.8 224.0h0.8M152.7 233.6h0.8M160.8 230.4h0.8M165.5 227.3h0.8M165.9 225.3h0.8M174.0 230.4h0.8M160.5 220.6h0.8M151.9 229.3h0.8M162.7 234.0h0.8M159.3 226.0h0.8M161.1 229.2h0.8M165.9 228.6h0.8M160.8 232.5h0.8M168.7 229.2h0.8M164.1 231.9h0.8M165.9 216.1h0.8M161.5 218.6h0.8M162.1 227.4h0.8M164.1 223.0h0.8M150.1 225.1h0.8M167.8 230.4h0.8M158.6 224.1h0.8M169.7 226.0h0.8M164.2 217.3h0.8M150.8 229.5h0.8M168.0 228.9h0.8M161.1 225.1h0.8M159.5 226.5h0.8M169.4 224.4h0.8M174.5 224.4h0.8M162.7 218.9h0.8M169.5 231.2h0.8M175.4 226.1h0.8M167.1 223.2h0.8M172.8 224.8h0.8M162.3 223.9h0.8M163.4 229.1h0.8M149.7 228.2h0.8M162.4 227.4h0.8M163.8 223.1h0.8M163.7 228.2h0.8M166.0 222.2h0.8M161.0 224.4h0.8M164.4 232.9h0.8M175.5 230.7h0.8M160.4 226.1h0.8M163.4 229.3h0.8M170.6 228.3h0.8M148.0 223.3h0.8M166.7 226.5h0.8M161.0 224.0h0.8M157.5 216.1h0.8M162.7 221.5h0.8M158.3 222.3h0.8M163.0 224.5h0.8M167.2 223.8h0.8M165.0 227.2h0.8M166.6 222.6h0.8M166.2 228.8h0.8M160.1 221.4h0.8M154.6 229.4h0.8M164.6 229.7h0.8M163.0 222.8h0.8M174.6 227.2h0.8M157.3 227.9h0.8M157.3 233.6h0.8M164.0 229.4h0.8M172.1 222.8h0.8M161.8 228.8h0.8M176.2 227.4h0.8M160.9 221.2h0.8M155.4 229.7h0.8M168.0 229.4h0.8M168.2 225.0h0.8M158.5 219.1h0.8M164.6 222.0h0.8M157.0 227.3h0.8M157.3 230.0h0.8M147.1 228.2h0.8M167.4 227.4h0.8M153.7 222.5h0.8M162.0 222.2h0.8M176.9 224.1h0.8M159.2 223.3h0.8M168.8 228.2h0.8M167.0 235.2h0.8M160.0 226.3h0.8M158.5 222.2h0.8M172.8 223.3h0.8M163.1 219.7h0.8M159.7 224.4h0.8M161.7 225.3h0.8M168.9 223.4h0.8M169.3 232.7h0.8M153.2 230.6h0.8M174.7 227.2h0.8M164.8 224.9h0.8M162.5 224.4h0.8M154.6 234.0h0.8M163.9 234.2h0.8M152.4 231.0h0.8M159.1 218.3h0.8M160.7 219.3h0.8M158.8 230.4h0.8M159.1 229.0h0.8M158.9 231.0h0.8M153.8 217.7h0.8M157.9 229.3h0.8M163.2 225.3h0.8M156.8 222.2h0.8M157.5 227.6h0.8M161.3 225.1h0.8M166.7 229.2h0.8M160.1 222.4h0.8M153.9 220.1h0.8M174.0 233.5h0.8M161.5 226.8h0.8M151.1 228.7h0.8M163.7 232.6h0.8M155.7 218.9h0.8M153.5 228.2h0.8M164.4 223.9h0.8M160.1 232.1h0.8M160.8 232.2h0.8M156.1 226.7h0.8M159.7 226.0h0.8M154.7 228.3h0.8M159.9 221.3h0.8M168.1 231.1h0.8M165.9 221.7h0.8M159.5 226.7h0.8M156.1 218.4h0.8M163.3 225.8h0.8M153.9 225.3h0.8M169.3 232.7h0.8M175.9 222.4h0.8M171.0 223.4h0.8M162.1 219.7h0.8M151.0 225.5h0.8M164.9 224.3h0.8M157.4 220.0h0.8M168.3 221.3h0.8M157.2 228.8h0.8M159.1 228.2h0.8M158.0 229.7h0.8M152.1 232.5h0.8M164.1 219.0h0.8M167.3 234.2h0.8M166.4 231.0h0.8M168.1 226.7h0.8M159.1 224.9h0.8M154.6 229.2h0.8M161.4 226.8h0.8M161.1 228.5h0.8M165.6 230.0h0.8M153.3 230.4h0.8M168.1 225.3h0.8M167.9 227.9h0.8M165.8 217.3h0.8M152.9 228.3h0.8M163.6 219.7h0.8M158.9 222.7h0.8M163.5 233.1h0.8M160.6 230.2h0.8M152.7 223.2h0.8M159.3 227.9h0.8M152.4 216.3h0.8M175.8 229.8h0.8M158.7 227.0h0.8M172.9 229.1h0.8M149.8 230.3h0.8M164.0 224.6h0.8M170.5 231.8h0.8M151.4 229.1h0.8M173.1 222.1h0.8M174.9 226.3h0.8M175.3 222.9h0.8M170.3 222.6h0.8M164.1 224.5h0.8M162.4 224.3h0.8M168.0 222.1h0.8M159.9 228.4h0.8M158.0 224.8h0.8M169.7 223.5h0.8M151.3 221.2h0.8M164.4 229.3h0.8M162.4 220.5h0.8M160.0 227.1h0.8M163.3 223.4h0.8M162.9 222.6h0.8M158.4 226.3h0.8M169.8 220.6h0.8M162.8 233.3h0.8M171.2 228.6h0.8M151.5 227.7h0.8M170.3 222.1h0.8M170.2 224.2h0.8M154.5 227.7h0.8M157.2 230.5h0.8M162.9 223.1h0.8M173.3 220.5h0.8M150.6 219.1h0.8M162.0 223.1h0.8M163.3 226.3h0.8M163.7 221.8h0.8M172.6 225.6h0.8M166.8 229.6h0.8M166.5 234.0h0.8M155.2 230.9h0.8M156.6 226.1h0.8M160.0 226.2h0.8M164.0 232.6h0.8M165.4 228.6h0.8M166.4 229.6h0.8M149.5 230.8h0.8M169.8 224.2h0.8M172.5 221.9h0.8M162.0 226.5h0.8M172.2 233.8h0.8M164.1 229.7h0.8M155.7 223.5h0.8M157.8 222.9h0.8M163.4 227.3h0.8M172.5 229.8h0.8M165.0 230.2h0.8M171.1 223.1h0.8M173.5 226.5h0.8M149.7 220.0h0.8M149.8 231.7h0.8M162.0 233.7h0.8M155.9 226.3h0.8M156.0 220.6h0.8M162.4 221.9h0.8M174.9 221.7h0.8M171.7 229.9h0.8M157.2 219.9h0.8M159.7 223.8h0.8M165.3 221.4h0.8M153.9 227.9h0.8M155.2 225.8h0.8M150.4 225.0h0.8M160.9 221.6h0.8M170.0 228.9h0.8M160.5 222.5h0.8M158.6 226.0h0.8M164.2 219.2h0.8M157.7 228.6h0.8M158.7 223.7h0.8M162.9 230.2h0.8M157.8 228.1h0.8M158.1 224.7h0.8M160.2 231.1h0.8M166.4 227.4h0.8M156.2 227.2h0.8M155.0 224.7h0.8M161.0 228.8h0.8M163.4 222.7h0.8M169.8 228.2h0.8M168.9 223.3h0.8M152.8 230.4h0.8M156.6 224.0h0.8M171.2 218.2h0.8M163.8 229.2h0.8M165.2 232.6h0.8M159.3 226.0h0.8M170.1 224.6h0.8M164.1 226.2h0.8M161.1 225.6h0.8M162.5 224.0h0.8M157.4 228.0h0.8M160.7 226.1h0.8M162.8 230.1h0.8M160.4 227.2h0.8M166.7 234.5h0.8M168.2 228.3h0.8M156.3 227.6h0.8M157.1 225.2h0.8M160.1 226.5h0.8M159.0 227.3h0.8M166.3 224.3h0.8M154.0 221.9h0.8M160.3 229.0h0.8M155.0 225.9h0.8M170.3 228.6h0.8M167.8 228.3h0.8M158.1 224.7h0.8M158.6 218.9h0.8M147.3 223.3h0.8M161.3 221.1h0.8M165.4 221.4h0.8M163.5 227.0h0.8M150.4 227.4h0.8M156.6 218.3h0.8M171.8 229.4h0.8M161.1 216.8h0.8M153.1 225.9h0.8M153.4 233.4h0.8M147.3 222.0h0.8M164.1 229.0h0.8M159.1 228.0h0.8M160.6 228.1h0.8M164.4 224.8h0.8M158.6 223.8h0.8M161.2 225.6h0.8M153.6 220.1h0.8M162.1 230.5h0.8M156.3 229.3h0.8M163.0 218.2h0.8M174.9 221.9h0.8M158.0 225.4h0.8M166.0 223.3h0.8M159.0 229.1h0.8M158.2 219.5h0.8M158.8 225.6h0.8M157.4 220.7h0.8M163.0 220.4h0.8M170.0 231.6h0.8M168.1 227.6h0.8M164.6 225.5h0.8M149.0 220.7h0.8M172.2 225.9h0.8M164.0 233.5h0.8M152.1 220.2h0.8M153.2 225.6h0.8M158.4 227.8h0.8M161.4 223.0h0.8M151.3 228.5h0.8M162.5 226.9h0.8M167.6 229.9h0.8M170.2 229.8h0.8M175.2 223.4h0.8M160.1 222.9h0.8M170.7 222.3h0.8M168.8 230.5h0.8M160.6 227.4h0.8M157.8 226.8h0.8M161.9 226.7h0.8M161.2 225.6h0.8M164.3 222.5h0.8M158.1 226.8h0.8M158.8 220.9h0.8M162.4 230.0h0.8M162.8 226.6h0.8M162.9 221.5h0.8M171.4 219.7h0.8M150.4 230.5h0.8M157.8 223.2h0.8M151.5 227.9h0.8M162.6 218.0h0.8M167.5 231.0h0.8M151.7 228.3h0.8M159.5 230.2h0.8M163.4 227.3h0.8M168.1 223.6h0.8M169.1 222.8h0.8M156.0 234.4h0.8M169.7 224.8h0.8M171.2 216.0h0.8M157.7 217.9h0.8M165.4 223.0h0.8M160.6 227.5h0.8M151.7 233.2h0.8M168.7 222.7h0.8M165.8 230.5h0.8M156.4 229.6h0.8M169.3 223.1h0.8M169.3 223.3h0.8M153.3 228.3h0.8M170.6 224.1h0.8M175.7 233.1h0.8M162.1 221.5h0.8M155.1 227.2h0.8M148.8 230.3h0.8M156.6 218.2h0.8M151.6 229.6h0.8M166.0 221.8h0.8M163.4 225.3h0.8M153.7 226.8h0.8M153.9 220.8h0.8M167.9 223.3h0.8M160.3 229.5h0.8M167.4 222.0h0.8M168.6 223.3h0.8M166.9 226.4h0.8M153.1 227.3h0.8M168.5 223.5h0.8M166.9 227.0h0.8M147.8 221.7h0.8M165.9 226.4h0.8M166.4 221.9h0.8M173.8 225.0h0.8M165.4 227.2h0.8M157.7 229.4h0.8M170.7 227.1h0.8M158.8 220.9h0.8M159.7 223.0h0.8M156.1 224.6h0.8M167.0 221.3h0.8M169.8 232.8h0.8M160.0 228.1h0.8M162.6 229.8h0.8M165.4 228.0h0.8M174.3 231.0h0.8M167.0 216.6h0.8M156.7 226.6h0.8M163.0 221.6h0.8M167.4 221.4h0.8M163.1 225.8h0.8M163.1 233.8h0.8M159.2 224.9h0.8M161.6 224.9h0.8M168.3 226.6h0.8M154.5 225.1h0.8M152.0 222.9h0.8M151.3 221.7h0.8M163.1 230.1h0.8M163.3 227.1h0.8M173.2 230.1h0.8M156.9 225.3h0.8M162.8 223.1h0.8M165.8 218.1h0.8M156.9 220.7h0.8M171.6 227.4h0.8M150.2 223.1h0.8M154.6 232.3h0.8M153.4 230.8h0.8M170.1 228.7h0.8M158.2 234.4h0.8M153.1 224.5h0.8M168.5 223.2h0.8M164.0 226.3h0.8M167.0 221.2h0.8M159.1 228.8h0.8M152.4 227.9h0.8M158.3 224.7h0.8M162.2 225.2h0.8M149.3 229.4h0.8M160.6 232.7h0.8M159.6 235.3h0.8M173.9 220.4h0.8M160.4 220.7h0.8M166.8 224.5h0.8M153.8 224.7h0.8M157.6 227.7h0.8M159.0 224.3h0.8M164.6 228.1h0.8M154.8 217.4h0.8M167.4 222.1h0.8M152.7 226.1h0.8M159.8 228.4h0.8M152.1 220.9h0.8M168.4 217.0h0.8M170.4 228.7h0.8M165.2 227.0h0.8M166.7 223.9h0.8M154.8 221.8h0.8M165.1 229.0h0.8M158.2 220.8h0.8M168.2 222.1h0.8M157.0 232.6h0.8M168.5 231.0h0.8M168.1 222.8h0.8M158.8 224.3h0.8M169.2 223.5h0.8M158.0 226.4h0.8M165.5 229.4h0.8M151.5 224.6h0.8M163.0 232.5h0.8M172.4 220.2h0.8M158.7 219.7h0.8M160.0 224.2h0.8M163.8 226.5h0.8M160.9 227.2h0.8M164.2 228.9h0.8M157.7 234.9h0.8M159.6 228.1h0.8M160.4 217.6h0.8M163.3 228.9h0.8M168.3 224.1h0.8M162.7 226.8h0.8M153.4 227.1h0.8M164.2 225.6h0.8M156.6 226.1h0.8M157.8 228.2h0.8M159.1 218.4h0.8M170.3 219.2h0.8M171.1 220.9h0.8M155.5 222.7h0.8M161.8 229.2h0.8M162.8 221.6h0.8M168.7 216.8h0.8M160.7 228.1h0.8M164.9 219.7h0.8M161.3 226.7h0.8M156.6 230.3h0.8M168.3 221.2h0.8M156.8 231.4h0.8M158.8 223.2h0.8M165.4 215.7h0.8M166.5 226.9h0.8M167.0 234.2h0.8M169.2 225.5h0.8M156.4 219.2h0.8M173.9 222.4h0.8M160.1 229.6h0.8M163.5 230.1h0.8M153.3 230.5h0.8M164.2 221.4h0.8M172.8 224.7h0.8M169.5 231.1h0.8M158.2 219.5h0.8M168.9 224.4h0.8M153.3 219.3h0.8M163.3 228.8h0.8M152.2 227.0h0.8M158.2 229.0h0.8M157.7 224.2h0.8M164.6 226.2h0.8M166.7 229.6h0.8M171.2 231.4h0.8M155.5 224.9h0.8M176.7 224.4h0.8M153.2 223.8h0.8M167.7 221.7h0.8M163.5 226.4h0.8M158.1 220.2h0.8M159.4 231.5h0.8M155.7 218.0h0.8M175.7 223.6h0.8M163.1 224.5h0.8M153.9 220.3h0.8M151.5 229.3h0.8M168.4 217.0h0.8M155.5 221.9h0.8M158.9 224.7h0.8M170.0 229.4h0.8M172.5 220.7h0.8M162.9 230.6h0.8M163.0 222.5h0.8M170.5 221.4h0.8M162.1 226.1h0.8M167.3 223.0h0.8M158.8 226.2h0.8M166.5 222.4h0.8M158.6 226.1h0.8M160.9 225.9h0.8M162.7 227.2h0.8M166.2 221.8h0.8M170.1 226.1h0.8M165.1 219.8h0.8M161.5 233.3h0.8M159.3 232.1h0.8M171.4 226.2h0.8M155.6 228.8h0.8M169.3 231.9h0.8M162.3 227.2h0.8M154.9 222.7h0.8M169.2 223.6h0.8M158.2 230.4h0.8M150.9 229.6h0.8M162.5 225.0h0.8M174.1 224.6h0.8M164.1 230.8h0.8M173.2 225.6h0.8M161.6 217.3h0.8M166.8 233.2h0.8M165.6 222.0h0.8M158.2 220.0h0.8M169.8 230.7h0.8M168.5 224.2h0.8M162.4 225.3h0.8M160.1 217.2h0.8M159.6 225.7h0.8M159.7 223.5h0.8M156.7 218.0h0.8M171.7 220.2h0.8M162.3 227.5h0.8M155.5 224.4h0.8M165.4 224.1h0.8M159.6 226.7h0.8M156.7 226.1h0.8M169.6 231.0h0.8M160.4 226.2h0.8M166.7 219.9h0.8M176.3 221.6h0.8M168.1 232.1h0.8M158.4 228.0h0.8M162.4 225.3h0.8M171.0 230.7h0.8M159.4 223.7h0.8M165.8 223.7h0.8M167.0 227.0h0.8M159.5 224.5h0.8M164.4 231.1h0.8M152.4 222.6h0.8M159.6 228.8h0.8M164.8 233.0h0.8M160.1 224.4h0.8M163.2 225.5h0.8M168.3 227.0h0.8M157.6 218.9h0.8M163.7 225.7h0.8M157.5 226.0h0.8M160.0 218.9h0.8M162.0 227.7h0.8M153.2 227.3h0.8M154.6 228.7h0.8M162.4 221.1h0.8M161.0 229.2h0.8M171.1 223.8h0.8M167.2 221.7h0.8M159.9 226.2h0.8M160.0 224.1h0.8M164.7 233.6h0.8M152.2 218.5h0.8M157.3 228.1h0.8M169.3 226.2h0.8M161.2 221.1h0.8M168.5 227.1h0.8M163.5 224.4h0.8M168.0 219.7h0.8M161.6 226.1h0.8M160.9 225.2h0.8M154.9 225.6h0.8M160.8 225.9h0.8M167.2 230.4h0.8M159.0 218.1h0.8M159.7 225.9h0.8M164.6 226.6h0.8M160.9 220.8h0.8M158.5 229.1h0.8M164.6 219.5h0.8M168.8 234.0h0.8" stroke="#ff1a1a" stroke-width="0.8" stroke-opacity="0.5" fill="none"/><path d="M70.9 194.0L70.9 271.2" stroke="#3c3c3c" stroke-width="1"/><path d="M39.7 238.0L117.6 238.0" stroke="#3c3c3c" stroke-width="1"/><path d="M154.9 193.8L154.9 270.8" stroke="#3c3c3c" stroke-width="1"/><path d="M123.3 238.0L201.5 238.0" stroke="#3c3c3c" stroke-width="1"/><path d="M34.8 222.5V274.8H88" fill="none" stroke="#222" stroke-width="1"/><path d="M34.8 218.5l-2.7 5.2h5.4z M92 274.8l-5.2 -2.7v5.4z" fill="#111"/><text x="29.5" y="246.0" font-size="9.2" fill="#2e2e2e" text-anchor="middle" stroke="#2e2e2e" stroke-width="0.22" textLength="18.7" lengthAdjust="spacingAndGlyphs" transform="rotate(-90 29.5 246.0)">CD73</text><text x="54.0" y="287.4" font-size="9.8" fill="#2e2e2e" stroke="#2e2e2e" stroke-width="0.16" textLength="19.6" lengthAdjust="spacingAndGlyphs">CD39</text><text x="90.0" y="287.2" font-size="9.9" fill="#2e2e2e" stroke="#2e2e2e" stroke-width="0.16" textLength="21.7" lengthAdjust="spacingAndGlyphs">CD4+</text><text x="122.8" y="286.6" font-size="9.9" fill="#c8304e" stroke="#c8304e" stroke-width="0.16" textLength="78" lengthAdjust="spacingAndGlyphs">CD49b+Lag3+IL10+</text><text x="219.7" y="178.6" font-size="12.8" fill="#0d0d0d" font-weight="bold" textLength="6.2" lengthAdjust="spacingAndGlyphs">E</text><text x="264.9" y="177.0" font-size="10.2" fill="#2e2e2e" stroke="#2e2e2e" stroke-width="0.16" textLength="41.7" lengthAdjust="spacingAndGlyphs">mTORC1</text><text x="356.0" y="177.0" font-size="10.2" fill="#2e2e2e" stroke="#2e2e2e" stroke-width="0.16" textLength="41.8" lengthAdjust="spacingAndGlyphs">mTORC2</text><path d="M260.7 183.2L260.7 282.3" stroke="#262626" stroke-width="1.15"/><path d="M257.1 282.3L260.7 282.3" stroke="#262626" stroke-width="1"/><text x="254.5" y="285.4" font-size="9.0" fill="#2e2e2e" text-anchor="end" stroke="#2e2e2e" stroke-width="0.16" textLength="4.75" lengthAdjust="spacingAndGlyphs">0</text><path d="M257.1 258.3L260.7 258.3" stroke="#262626" stroke-width="1"/><text x="254.5" y="261.4" font-size="9.0" fill="#2e2e2e" text-anchor="end" stroke="#2e2e2e" stroke-width="0.16" textLength="9.5" lengthAdjust="spacingAndGlyphs">20</text><path d="M257.1 234.3L260.7 234.3" stroke="#262626" stroke-width="1"/><text x="254.5" y="237.4" font-size="9.0" fill="#2e2e2e" text-anchor="end" stroke="#2e2e2e" stroke-width="0.16" textLength="9.5" lengthAdjust="spacingAndGlyphs">40</text><path d="M257.1 210.3L260.7 210.3" stroke="#262626" stroke-width="1"/><text x="254.5" y="213.4" font-size="9.0" fill="#2e2e2e" text-anchor="end" stroke="#2e2e2e" stroke-width="0.16" textLength="9.5" lengthAdjust="spacingAndGlyphs">60</text><path d="M257.1 186.3L260.7 186.3" stroke="#262626" stroke-width="1"/><text x="254.5" y="189.4" font-size="9.0" fill="#2e2e2e" text-anchor="end" stroke="#2e2e2e" stroke-width="0.16" textLength="9.5" lengthAdjust="spacingAndGlyphs">80</text><path d="M260.7 282.3L310.3 282.3" stroke="#262626" stroke-width="1.15"/><text x="238.2" y="230.5" font-size="10" fill="#2e2e2e" text-anchor="middle" stroke="#2e2e2e" stroke-width="0.22" textLength="61.5" lengthAdjust="spacingAndGlyphs" transform="rotate(-90 238.2 230.5)">% of p-S6/CD39SP</text><rect x="268.5" y="252.9" width="13.3" height="29.4" fill="#ef8e86"/><rect x="289.5" y="274.5" width="14.0" height="7.8" fill="#8a9bc9"/><path d="M274.9 260.7V246.9M272.3 246.9h5.2" stroke="#d2203c" stroke-width="1.0" fill="none"/><path d="M272.7 211.0a2.2 2.2 0 1 0 4.4 0a2.2 2.2 0 1 0 -4.4 0M272.7 231.1a2.2 2.2 0 1 0 4.4 0a2.2 2.2 0 1 0 -4.4 0" fill="none" stroke="#d2203c" stroke-width="1.2"/><path d="M272.7 244.9a2.2 2.2 0 1 0 4.4 0a2.2 2.2 0 1 0 -4.4 0M267.2 246.9a2.2 2.2 0 1 0 4.4 0a2.2 2.2 0 1 0 -4.4 0M272.7 250.7a2.2 2.2 0 1 0 4.4 0a2.2 2.2 0 1 0 -4.4 0M272.7 255.3a2.2 2.2 0 1 0 4.4 0a2.2 2.2 0 1 0 -4.4 0M277.7 261.2a2.2 2.2 0 1 0 4.4 0a2.2 2.2 0 1 0 -4.4 0M268.2 266.1a2.2 2.2 0 1 0 4.4 0a2.2 2.2 0 1 0 -4.4 0M272.7 266.1a2.2 2.2 0 1 0 4.4 0a2.2 2.2 0 1 0 -4.4 0M277.7 266.6a2.2 2.2 0 1 0 4.4 0a2.2 2.2 0 1 0 -4.4 0M268.2 270.1a2.2 2.2 0 1 0 4.4 0a2.2 2.2 0 1 0 -4.4 0" fill="none" stroke="#d2203c" stroke-width="1.2"/><path d="M296.3 276.3V270.9M293.7 270.9h5.2" stroke="#1e5a9c" stroke-width="1.0" fill="none"/><path d="M294.5 259.1h4.2v4.2h-4.2zM292.7 260.0h4.2v4.2h-4.2zM294.2 265.0h4.2v4.2h-4.2z" fill="none" stroke="#1e5a9c" stroke-width="1.15"/><path d="M290.7 269.9h4.2v4.2h-4.2zM295.2 269.9h4.2v4.2h-4.2zM299.2 269.9h4.2v4.2h-4.2zM288.7 274.9h4.2v4.2h-4.2zM292.7 274.9h4.2v4.2h-4.2zM296.7 274.9h4.2v4.2h-4.2zM300.2 274.9h4.2v4.2h-4.2zM289.2 277.4h4.2v4.2h-4.2zM293.2 277.4h4.2v4.2h-4.2zM297.2 277.4h4.2v4.2h-4.2zM300.7 277.4h4.2v4.2h-4.2z" fill="none" stroke="#1e5a9c" stroke-width="1.15"/><path d="M274.8 206.3V202.3H296.5V257.0" fill="none" stroke="#262626" stroke-width="1.0"/><path d="M280.50 197.4a1.25 1.25 0 1 0 2.5 0a1.25 1.25 0 1 0 -2.5 0M284.40 197.4a1.25 1.25 0 1 0 2.5 0a1.25 1.25 0 1 0 -2.5 0M288.30 197.4a1.25 1.25 0 1 0 2.5 0a1.25 1.25 0 1 0 -2.5 0" fill="#1a1a1a"/><path d="M351.8 183.2L351.8 282.3" stroke="#262626" stroke-width="1.15"/><path d="M348.2 282.3L351.8 282.3" stroke="#262626" stroke-width="1"/><text x="345.6" y="285.4" font-size="9.0" fill="#2e2e2e" text-anchor="end" stroke="#2e2e2e" stroke-width="0.16" textLength="4.75" lengthAdjust="spacingAndGlyphs">0</text><path d="M348.2 258.3L351.8 258.3" stroke="#262626" stroke-width="1"/><text x="345.6" y="261.4" font-size="9.0" fill="#2e2e2e" text-anchor="end" stroke="#2e2e2e" stroke-width="0.16" textLength="9.5" lengthAdjust="spacingAndGlyphs">20</text><path d="M348.2 234.3L351.8 234.3" stroke="#262626" stroke-width="1"/><text x="345.6" y="237.4" font-size="9.0" fill="#2e2e2e" text-anchor="end" stroke="#2e2e2e" stroke-width="0.16" textLength="9.5" lengthAdjust="spacingAndGlyphs">40</text><path d="M348.2 210.3L351.8 210.3" stroke="#262626" stroke-width="1"/><text x="345.6" y="213.4" font-size="9.0" fill="#2e2e2e" text-anchor="end" stroke="#2e2e2e" stroke-width="0.16" textLength="9.5" lengthAdjust="spacingAndGlyphs">60</text><path d="M348.2 186.3L351.8 186.3" stroke="#262626" stroke-width="1"/><text x="345.6" y="189.4" font-size="9.0" fill="#2e2e2e" text-anchor="end" stroke="#2e2e2e" stroke-width="0.16" textLength="9.5" lengthAdjust="spacingAndGlyphs">80</text><path d="M351.8 282.3L401.9 282.3" stroke="#262626" stroke-width="1.15"/><text x="329.5" y="230.9" font-size="10" fill="#2e2e2e" text-anchor="middle" stroke="#2e2e2e" stroke-width="0.22" textLength="62.3" lengthAdjust="spacingAndGlyphs" transform="rotate(-90 329.5 230.9)">% of p-Akt/CD39SP</text><rect x="359.7" y="260.7" width="13.4" height="21.6" fill="#ef8e86"/><rect x="380.5" y="273.9" width="14.5" height="8.4" fill="#8a9bc9"/><path d="M366.3 266.7V254.7M363.7 254.7h5.2" stroke="#d2203c" stroke-width="1.0" fill="none"/><path d="M364.1 216.3a2.2 2.2 0 1 0 4.4 0a2.2 2.2 0 1 0 -4.4 0M366.1 233.7a2.2 2.2 0 1 0 4.4 0a2.2 2.2 0 1 0 -4.4 0M363.1 236.7a2.2 2.2 0 1 0 4.4 0a2.2 2.2 0 1 0 -4.4 0M365.1 240.3a2.2 2.2 0 1 0 4.4 0a2.2 2.2 0 1 0 -4.4 0M363.1 247.5a2.2 2.2 0 1 0 4.4 0a2.2 2.2 0 1 0 -4.4 0" fill="none" stroke="#d2203c" stroke-width="1.2"/><path d="M365.6 258.3a2.2 2.2 0 1 0 4.4 0a2.2 2.2 0 1 0 -4.4 0M363.2 264.3a2.2 2.2 0 1 0 4.4 0a2.2 2.2 0 1 0 -4.4 0M361.8 267.9a2.2 2.2 0 1 0 4.4 0a2.2 2.2 0 1 0 -4.4 0M361.3 270.3a2.2 2.2 0 1 0 4.4 0a2.2 2.2 0 1 0 -4.4 0M364.9 272.7a2.2 2.2 0 1 0 4.4 0a2.2 2.2 0 1 0 -4.4 0M368.4 275.1a2.2 2.2 0 1 0 4.4 0a2.2 2.2 0 1 0 -4.4 0M362.1 276.3a2.2 2.2 0 1 0 4.4 0a2.2 2.2 0 1 0 -4.4 0M361.1 276.9a2.2 2.2 0 1 0 4.4 0a2.2 2.2 0 1 0 -4.4 0M368.7 277.5a2.2 2.2 0 1 0 4.4 0a2.2 2.2 0 1 0 -4.4 0M360.5 278.1a2.2 2.2 0 1 0 4.4 0a2.2 2.2 0 1 0 -4.4 0" fill="none" stroke="#d2203c" stroke-width="1.2"/><path d="M387.6 277.5V270.5M385.0 270.5h5.2" stroke="#1e5a9c" stroke-width="1.0" fill="none"/><path d="M385.5 246.6h4.2v4.2h-4.2z" fill="none" stroke="#1e5a9c" stroke-width="1.15"/><path d="M383.5 258.6h4.2v4.2h-4.2zM386.5 259.2h4.2v4.2h-4.2zM388.5 259.8h4.2v4.2h-4.2z" fill="none" stroke="#1e5a9c" stroke-width="1.15"/><path d="M382.6 270.6h4.2v4.2h-4.2zM381.8 271.8h4.2v4.2h-4.2zM386.2 273.0h4.2v4.2h-4.2zM390.7 274.2h4.2v4.2h-4.2zM384.5 274.8h4.2v4.2h-4.2zM382.9 275.4h4.2v4.2h-4.2zM382.1 276.6h4.2v4.2h-4.2zM381.7 277.2h4.2v4.2h-4.2zM382.5 277.8h4.2v4.2h-4.2zM386.7 277.8h4.2v4.2h-4.2zM385.9 278.4h4.2v4.2h-4.2z" fill="none" stroke="#1e5a9c" stroke-width="1.15"/><path d="M366.3 210.6V206.9H387.6V245.0" fill="none" stroke="#262626" stroke-width="1.0"/><path d="M373.75 202.0a1.25 1.25 0 1 0 2.5 0a1.25 1.25 0 1 0 -2.5 0M377.65 202.0a1.25 1.25 0 1 0 2.5 0a1.25 1.25 0 1 0 -2.5 0" fill="#1a1a1a"/><text x="419.0" y="178.2" font-size="12.8" fill="#0d0d0d" font-weight="bold" textLength="6.0" lengthAdjust="spacingAndGlyphs">F</text><text x="472.1" y="176.5" font-size="10.2" fill="#2e2e2e" stroke="#2e2e2e" stroke-width="0.16" textLength="26.7" lengthAdjust="spacingAndGlyphs">HIF1α</text><path d="M459.8 183.1L459.8 282.3" stroke="#262626" stroke-width="1.15"/><path d="M456.2 282.3L459.8 282.3" stroke="#262626" stroke-width="1"/><text x="453.6" y="285.4" font-size="9.0" fill="#2e2e2e" text-anchor="end" stroke="#2e2e2e" stroke-width="0.16" textLength="4.75" lengthAdjust="spacingAndGlyphs">0</text><path d="M456.2 258.3L459.8 258.3" stroke="#262626" stroke-width="1"/><text x="453.6" y="261.4" font-size="9.0" fill="#2e2e2e" text-anchor="end" stroke="#2e2e2e" stroke-width="0.16" textLength="9.5" lengthAdjust="spacingAndGlyphs">20</text><path d="M456.2 234.3L459.8 234.3" stroke="#262626" stroke-width="1"/><text x="453.6" y="237.4" font-size="9.0" fill="#2e2e2e" text-anchor="end" stroke="#2e2e2e" stroke-width="0.16" textLength="9.5" lengthAdjust="spacingAndGlyphs">40</text><path d="M456.2 210.3L459.8 210.3" stroke="#262626" stroke-width="1"/><text x="453.6" y="213.4" font-size="9.0" fill="#2e2e2e" text-anchor="end" stroke="#2e2e2e" stroke-width="0.16" textLength="9.5" lengthAdjust="spacingAndGlyphs">60</text><path d="M456.2 186.3L459.8 186.3" stroke="#262626" stroke-width="1"/><text x="453.6" y="189.4" font-size="9.0" fill="#2e2e2e" text-anchor="end" stroke="#2e2e2e" stroke-width="0.16" textLength="9.5" lengthAdjust="spacingAndGlyphs">80</text><path d="M459.8 282.3L510.7 282.3" stroke="#262626" stroke-width="1.15"/><text x="437.8" y="232.2" font-size="10" fill="#2e2e2e" text-anchor="middle" stroke="#2e2e2e" stroke-width="0.22" textLength="46.2" lengthAdjust="spacingAndGlyphs" transform="rotate(-90 437.8 232.2)">% of CD39SP</text><rect x="467.5" y="257.7" width="13.4" height="24.6" fill="#ef8e86"/><rect x="488.5" y="279.9" width="14.5" height="2.4" fill="#8a9bc9"/><path d="M474.1 265.5V249.3M471.5 249.3h5.2" stroke="#d2203c" stroke-width="1.0" fill="none"/><path d="M468.9 218.7a2.2 2.2 0 1 0 4.4 0a2.2 2.2 0 1 0 -4.4 0M472.9 222.3a2.2 2.2 0 1 0 4.4 0a2.2 2.2 0 1 0 -4.4 0M474.9 224.7a2.2 2.2 0 1 0 4.4 0a2.2 2.2 0 1 0 -4.4 0M472.9 229.5a2.2 2.2 0 1 0 4.4 0a2.2 2.2 0 1 0 -4.4 0" fill="none" stroke="#d2203c" stroke-width="1.2"/><path d="M471.9 258.3a2.2 2.2 0 1 0 4.4 0a2.2 2.2 0 1 0 -4.4 0M466.9 263.7a2.2 2.2 0 1 0 4.4 0a2.2 2.2 0 1 0 -4.4 0M471.9 264.3a2.2 2.2 0 1 0 4.4 0a2.2 2.2 0 1 0 -4.4 0M476.9 266.1a2.2 2.2 0 1 0 4.4 0a2.2 2.2 0 1 0 -4.4 0M466.9 269.7a2.2 2.2 0 1 0 4.4 0a2.2 2.2 0 1 0 -4.4 0M471.9 270.3a2.2 2.2 0 1 0 4.4 0a2.2 2.2 0 1 0 -4.4 0M476.9 270.9a2.2 2.2 0 1 0 4.4 0a2.2 2.2 0 1 0 -4.4 0M471.9 276.3a2.2 2.2 0 1 0 4.4 0a2.2 2.2 0 1 0 -4.4 0M466.9 278.7a2.2 2.2 0 1 0 4.4 0a2.2 2.2 0 1 0 -4.4 0M472.4 279.9a2.2 2.2 0 1 0 4.4 0a2.2 2.2 0 1 0 -4.4 0" fill="none" stroke="#d2203c" stroke-width="1.2"/><path d="M493.8 272.8h4.2v4.2h-4.2z" fill="none" stroke="#1e5a9c" stroke-width="1.15"/><path d="M490.8 276.6h4.2v4.2h-4.2zM495.8 276.8h4.2v4.2h-4.2zM499.3 277.2h4.2v4.2h-4.2zM488.3 277.8h4.2v4.2h-4.2zM492.8 278.4h4.2v4.2h-4.2zM496.8 278.8h4.2v4.2h-4.2zM500.3 279.0h4.2v4.2h-4.2zM487.8 279.0h4.2v4.2h-4.2zM491.8 279.2h4.2v4.2h-4.2zM494.8 279.6h4.2v4.2h-4.2zM498.8 279.6h4.2v4.2h-4.2zM489.8 279.8h4.2v4.2h-4.2zM497.8 278.8h4.2v4.2h-4.2zM491.3 279.5h4.2v4.2h-4.2zM496.3 279.7h4.2v4.2h-4.2zM493.8 279.1h4.2v4.2h-4.2z" fill="none" stroke="#1e5a9c" stroke-width="1.15"/><path d="M474.1 215.3V208.4H495.9V271.0" fill="none" stroke="#262626" stroke-width="1.0"/><path d="M477.90 204.2a1.25 1.25 0 1 0 2.5 0a1.25 1.25 0 1 0 -2.5 0M481.80 204.2a1.25 1.25 0 1 0 2.5 0a1.25 1.25 0 1 0 -2.5 0M485.70 204.2a1.25 1.25 0 1 0 2.5 0a1.25 1.25 0 1 0 -2.5 0M489.60 204.2a1.25 1.25 0 1 0 2.5 0a1.25 1.25 0 1 0 -2.5 0" fill="#1a1a1a"/><text x="7.0" y="317.4" font-size="12.8" fill="#0d0d0d" font-weight="bold" textLength="8.3" lengthAdjust="spacingAndGlyphs">G</text><path d="M50.8 338.8L50.8 445.5" stroke="#262626" stroke-width="1.15"/><path d="M47.2 445.5L50.8 445.5" stroke="#262626" stroke-width="1"/><text x="44.6" y="448.6" font-size="9.0" fill="#2e2e2e" text-anchor="end" stroke="#2e2e2e" stroke-width="0.16" textLength="4.75" lengthAdjust="spacingAndGlyphs">0</text><path d="M47.2 419.6L50.8 419.6" stroke="#262626" stroke-width="1"/><text x="44.6" y="422.7" font-size="9.0" fill="#2e2e2e" text-anchor="end" stroke="#2e2e2e" stroke-width="0.16" textLength="9.5" lengthAdjust="spacingAndGlyphs">20</text><path d="M47.2 393.7L50.8 393.7" stroke="#262626" stroke-width="1"/><text x="44.6" y="396.8" font-size="9.0" fill="#2e2e2e" text-anchor="end" stroke="#2e2e2e" stroke-width="0.16" textLength="9.5" lengthAdjust="spacingAndGlyphs">40</text><path d="M47.2 367.8L50.8 367.8" stroke="#262626" stroke-width="1"/><text x="44.6" y="370.9" font-size="9.0" fill="#2e2e2e" text-anchor="end" stroke="#2e2e2e" stroke-width="0.16" textLength="9.5" lengthAdjust="spacingAndGlyphs">60</text><path d="M47.2 341.9L50.8 341.9" stroke="#262626" stroke-width="1"/><text x="44.6" y="345.0" font-size="9.0" fill="#2e2e2e" text-anchor="end" stroke="#2e2e2e" stroke-width="0.16" textLength="9.5" lengthAdjust="spacingAndGlyphs">80</text><path d="M50.8 445.5L131.3 445.5" stroke="#262626" stroke-width="1.15"/><text x="29.0" y="392.5" font-size="10" fill="#2e2e2e" text-anchor="middle" stroke="#2e2e2e" stroke-width="0.22" textLength="45.6" lengthAdjust="spacingAndGlyphs" transform="rotate(-90 29.0 392.5)">% of CD39SP</text><rect x="57.3" y="395.0" width="9.8" height="50.5" fill="#ef8e86"/><rect x="73.6" y="420.2" width="9.7" height="25.3" fill="#8a9bc9"/><rect x="100.0" y="409.2" width="9.8" height="36.3" fill="#ef8e86"/><rect x="116.5" y="435.1" width="9.8" height="10.4" fill="#8a9bc9"/><path d="M62.2 406.6V383.3M59.6 383.3h5.2M59.6 406.6h5.2" stroke="#d2203c" stroke-width="1.0" fill="none"/><path d="M78.4 428.7V411.8M75.8 411.8h5.2M75.8 428.7h5.2" stroke="#1e5a9c" stroke-width="1.0" fill="none"/><path d="M104.9 430.0V375.6M102.3 375.6h5.2M102.3 430.0h5.2" stroke="#d2203c" stroke-width="1.0" fill="none"/><path d="M121.4 441.6V428.7M118.8 428.7h5.2M118.8 441.6h5.2" stroke="#1e5a9c" stroke-width="1.0" fill="none"/><path d="M60.0 362.9a2.2 2.2 0 1 0 4.4 0a2.2 2.2 0 1 0 -4.4 0M56.8 369.1a2.2 2.2 0 1 0 4.4 0a2.2 2.2 0 1 0 -4.4 0M60.3 370.4a2.2 2.2 0 1 0 4.4 0a2.2 2.2 0 1 0 -4.4 0M63.5 370.4a2.2 2.2 0 1 0 4.4 0a2.2 2.2 0 1 0 -4.4 0M59.0 376.2a2.2 2.2 0 1 0 4.4 0a2.2 2.2 0 1 0 -4.4 0M60.5 380.8a2.2 2.2 0 1 0 4.4 0a2.2 2.2 0 1 0 -4.4 0M59.5 385.9a2.2 2.2 0 1 0 4.4 0a2.2 2.2 0 1 0 -4.4 0M59.0 390.2a2.2 2.2 0 1 0 4.4 0a2.2 2.2 0 1 0 -4.4 0M61.0 393.7a2.2 2.2 0 1 0 4.4 0a2.2 2.2 0 1 0 -4.4 0M60.0 397.6a2.2 2.2 0 1 0 4.4 0a2.2 2.2 0 1 0 -4.4 0M59.0 400.2a2.2 2.2 0 1 0 4.4 0a2.2 2.2 0 1 0 -4.4 0M61.0 404.1a2.2 2.2 0 1 0 4.4 0a2.2 2.2 0 1 0 -4.4 0M58.5 407.9a2.2 2.2 0 1 0 4.4 0a2.2 2.2 0 1 0 -4.4 0M60.5 411.8a2.2 2.2 0 1 0 4.4 0a2.2 2.2 0 1 0 -4.4 0M60.0 415.7a2.2 2.2 0 1 0 4.4 0a2.2 2.2 0 1 0 -4.4 0M59.5 419.6a2.2 2.2 0 1 0 4.4 0a2.2 2.2 0 1 0 -4.4 0M60.0 433.8a2.2 2.2 0 1 0 4.4 0a2.2 2.2 0 1 0 -4.4 0" fill="none" stroke="#d2203c" stroke-width="1.2"/><path d="M76.3 394.2h4.2v4.2h-4.2zM76.3 400.9h4.2v4.2h-4.2zM76.3 407.7h4.2v4.2h-4.2zM75.3 411.0h4.2v4.2h-4.2zM77.3 414.5h4.2v4.2h-4.2zM74.8 418.8h4.2v4.2h-4.2zM77.8 422.7h4.2v4.2h-4.2zM74.3 425.3h4.2v4.2h-4.2zM78.3 427.2h4.2v4.2h-4.2zM75.3 429.2h4.2v4.2h-4.2zM77.3 431.1h4.2v4.2h-4.2zM74.3 433.0h4.2v4.2h-4.2zM78.3 435.0h4.2v4.2h-4.2zM74.8 436.9h4.2v4.2h-4.2zM77.8 438.2h4.2v4.2h-4.2zM73.8 439.5h4.2v4.2h-4.2zM77.8 440.8h4.2v4.2h-4.2zM76.3 441.7h4.2v4.2h-4.2z" fill="none" stroke="#1e5a9c" stroke-width="1.15"/><path d="M103.2 351.0a2.2 2.2 0 1 0 4.4 0a2.2 2.2 0 1 0 -4.4 0M100.2 354.9a2.2 2.2 0 1 0 4.4 0a2.2 2.2 0 1 0 -4.4 0M102.7 370.4a2.2 2.2 0 1 0 4.4 0a2.2 2.2 0 1 0 -4.4 0M102.7 390.5a2.2 2.2 0 1 0 4.4 0a2.2 2.2 0 1 0 -4.4 0M101.7 396.3a2.2 2.2 0 1 0 4.4 0a2.2 2.2 0 1 0 -4.4 0M102.7 408.7a2.2 2.2 0 1 0 4.4 0a2.2 2.2 0 1 0 -4.4 0M102.7 419.0a2.2 2.2 0 1 0 4.4 0a2.2 2.2 0 1 0 -4.4 0M102.7 425.7a2.2 2.2 0 1 0 4.4 0a2.2 2.2 0 1 0 -4.4 0M102.7 430.2a2.2 2.2 0 1 0 4.4 0a2.2 2.2 0 1 0 -4.4 0M103.2 439.3a2.2 2.2 0 1 0 4.4 0a2.2 2.2 0 1 0 -4.4 0M98.7 440.3a2.2 2.2 0 1 0 4.4 0a2.2 2.2 0 1 0 -4.4 0M106.7 441.0a2.2 2.2 0 1 0 4.4 0a2.2 2.2 0 1 0 -4.4 0M102.7 442.3a2.2 2.2 0 1 0 4.4 0a2.2 2.2 0 1 0 -4.4 0" fill="none" stroke="#d2203c" stroke-width="1.2"/><path d="M119.3 393.7h4.2v4.2h-4.2zM119.3 400.9h4.2v4.2h-4.2zM119.3 407.7h4.2v4.2h-4.2zM119.3 423.6h4.2v4.2h-4.2zM119.3 425.9h4.2v4.2h-4.2zM119.3 428.1h4.2v4.2h-4.2zM118.3 432.7h4.2v4.2h-4.2zM121.3 435.0h4.2v4.2h-4.2zM117.3 437.2h4.2v4.2h-4.2zM122.3 438.5h4.2v4.2h-4.2zM116.3 439.5h4.2v4.2h-4.2zM120.3 440.6h4.2v4.2h-4.2zM115.3 441.7h4.2v4.2h-4.2zM123.3 442.1h4.2v4.2h-4.2zM119.3 442.4h4.2v4.2h-4.2z" fill="none" stroke="#1e5a9c" stroke-width="1.15"/><path d="M62.3 360.6V341.3H78.4V392.6" fill="none" stroke="#262626" stroke-width="1.0"/><path d="M67.15 337.5a1.25 1.25 0 1 0 2.5 0a1.25 1.25 0 1 0 -2.5 0M71.05 337.5a1.25 1.25 0 1 0 2.5 0a1.25 1.25 0 1 0 -2.5 0" fill="#1a1a1a"/><path d="M104.9 347.3V341.3H121.4V392.6" fill="none" stroke="#262626" stroke-width="1.0"/><path d="M111.90 337.5a1.25 1.25 0 1 0 2.5 0a1.25 1.25 0 1 0 -2.5 0" fill="#1a1a1a"/><path d="M69.8 445.5L69.8 448.8" stroke="#262626" stroke-width="1"/><path d="M113.1 445.5L113.1 448.8" stroke="#262626" stroke-width="1"/><text x="57.3" y="459.8" font-size="9.6" fill="#2e2e2e" stroke="#2e2e2e" stroke-width="0.2" textLength="24.6" lengthAdjust="spacingAndGlyphs">c-MAF</text><text x="103.5" y="459.8" font-size="9.6" fill="#2e2e2e" stroke="#2e2e2e" stroke-width="0.2" textLength="20.2" lengthAdjust="spacingAndGlyphs">T-bet</text><text x="149.0" y="317.2" font-size="12.8" fill="#0d0d0d" font-weight="bold" textLength="7.8" lengthAdjust="spacingAndGlyphs">H</text><path d="M197.1 338.8L197.1 445.6" stroke="#262626" stroke-width="1.15"/><path d="M193.5 445.6L197.1 445.6" stroke="#262626" stroke-width="1"/><text x="190.9" y="448.7" font-size="9.0" fill="#2e2e2e" text-anchor="end" stroke="#2e2e2e" stroke-width="0.16" textLength="4.75" lengthAdjust="spacingAndGlyphs">0</text><path d="M193.5 424.8L197.1 424.8" stroke="#262626" stroke-width="1"/><text x="190.9" y="427.9" font-size="9.0" fill="#2e2e2e" text-anchor="end" stroke="#2e2e2e" stroke-width="0.16" textLength="9.5" lengthAdjust="spacingAndGlyphs">20</text><path d="M193.5 404.1L197.1 404.1" stroke="#262626" stroke-width="1"/><text x="190.9" y="407.2" font-size="9.0" fill="#2e2e2e" text-anchor="end" stroke="#2e2e2e" stroke-width="0.16" textLength="9.5" lengthAdjust="spacingAndGlyphs">40</text><path d="M193.5 383.3L197.1 383.3" stroke="#262626" stroke-width="1"/><text x="190.9" y="386.4" font-size="9.0" fill="#2e2e2e" text-anchor="end" stroke="#2e2e2e" stroke-width="0.16" textLength="9.5" lengthAdjust="spacingAndGlyphs">60</text><path d="M193.5 362.6L197.1 362.6" stroke="#262626" stroke-width="1"/><text x="190.9" y="365.7" font-size="9.0" fill="#2e2e2e" text-anchor="end" stroke="#2e2e2e" stroke-width="0.16" textLength="9.5" lengthAdjust="spacingAndGlyphs">80</text><path d="M193.5 341.8L197.1 341.8" stroke="#262626" stroke-width="1"/><text x="190.9" y="344.9" font-size="9.0" fill="#2e2e2e" text-anchor="end" stroke="#2e2e2e" stroke-width="0.16" textLength="14.25" lengthAdjust="spacingAndGlyphs">100</text><path d="M197.1 445.6L278.7 445.6" stroke="#262626" stroke-width="1.15"/><text x="171.0" y="392.2" font-size="10" fill="#2e2e2e" text-anchor="middle" stroke="#2e2e2e" stroke-width="0.22" textLength="46.2" lengthAdjust="spacingAndGlyphs" transform="rotate(-90 171.0 392.2)">% of CD39SP</text><rect x="204.1" y="424.8" width="9.5" height="20.8" fill="#ef8e86"/><rect x="221.2" y="443.0" width="10.0" height="2.6" fill="#8a9bc9"/><rect x="244.4" y="411.3" width="10.4" height="34.3" fill="#ef8e86"/><rect x="262.0" y="440.4" width="10.0" height="5.2" fill="#8a9bc9"/><path d="M208.9 429.0V420.7M206.3 420.7h5.2" stroke="#d2203c" stroke-width="1.0" fill="none"/><path d="M249.5 421.7V401.0M246.9 401.0h5.2" stroke="#d2203c" stroke-width="1.0" fill="none"/><path d="M205.7 405.1a2.2 2.2 0 1 0 4.4 0a2.2 2.2 0 1 0 -4.4 0M208.2 408.2a2.2 2.2 0 1 0 4.4 0a2.2 2.2 0 1 0 -4.4 0M203.7 413.4a2.2 2.2 0 1 0 4.4 0a2.2 2.2 0 1 0 -4.4 0M207.2 415.5a2.2 2.2 0 1 0 4.4 0a2.2 2.2 0 1 0 -4.4 0M209.7 416.5a2.2 2.2 0 1 0 4.4 0a2.2 2.2 0 1 0 -4.4 0M204.7 417.6a2.2 2.2 0 1 0 4.4 0a2.2 2.2 0 1 0 -4.4 0M208.7 419.1a2.2 2.2 0 1 0 4.4 0a2.2 2.2 0 1 0 -4.4 0M203.2 420.7a2.2 2.2 0 1 0 4.4 0a2.2 2.2 0 1 0 -4.4 0M207.7 421.7a2.2 2.2 0 1 0 4.4 0a2.2 2.2 0 1 0 -4.4 0M210.2 422.8a2.2 2.2 0 1 0 4.4 0a2.2 2.2 0 1 0 -4.4 0M205.7 424.3a2.2 2.2 0 1 0 4.4 0a2.2 2.2 0 1 0 -4.4 0M208.7 425.4a2.2 2.2 0 1 0 4.4 0a2.2 2.2 0 1 0 -4.4 0M203.7 426.4a2.2 2.2 0 1 0 4.4 0a2.2 2.2 0 1 0 -4.4 0M207.2 428.0a2.2 2.2 0 1 0 4.4 0a2.2 2.2 0 1 0 -4.4 0M204.7 429.0a2.2 2.2 0 1 0 4.4 0a2.2 2.2 0 1 0 -4.4 0M209.7 430.0a2.2 2.2 0 1 0 4.4 0a2.2 2.2 0 1 0 -4.4 0M203.2 432.1a2.2 2.2 0 1 0 4.4 0a2.2 2.2 0 1 0 -4.4 0" fill="none" stroke="#d2203c" stroke-width="1.2"/><path d="M206.7 442.5a2.2 2.2 0 1 0 4.4 0a2.2 2.2 0 1 0 -4.4 0" fill="none" stroke="#d2203c" stroke-width="1.2"/><path d="M224.2 424.8h4.2v4.2h-4.2z" fill="none" stroke="#1e5a9c" stroke-width="1.15"/><path d="M219.5 438.3h4.2v4.2h-4.2zM228.1 439.3h4.2v4.2h-4.2zM225.9 440.4h4.2v4.2h-4.2zM228.2 440.9h4.2v4.2h-4.2zM226.3 441.4h4.2v4.2h-4.2zM226.0 441.9h4.2v4.2h-4.2zM225.2 442.5h4.2v4.2h-4.2zM225.0 442.5h4.2v4.2h-4.2zM220.1 442.7h4.2v4.2h-4.2zM227.7 443.0h4.2v4.2h-4.2zM222.7 442.3h4.2v4.2h-4.2zM225.1 441.2h4.2v4.2h-4.2z" fill="none" stroke="#1e5a9c" stroke-width="1.15"/><path d="M247.3 360.5a2.2 2.2 0 1 0 4.4 0a2.2 2.2 0 1 0 -4.4 0M248.3 370.9a2.2 2.2 0 1 0 4.4 0a2.2 2.2 0 1 0 -4.4 0M246.3 381.2a2.2 2.2 0 1 0 4.4 0a2.2 2.2 0 1 0 -4.4 0M248.3 385.4a2.2 2.2 0 1 0 4.4 0a2.2 2.2 0 1 0 -4.4 0M247.3 391.6a2.2 2.2 0 1 0 4.4 0a2.2 2.2 0 1 0 -4.4 0M246.3 393.7a2.2 2.2 0 1 0 4.4 0a2.2 2.2 0 1 0 -4.4 0M247.3 402.0a2.2 2.2 0 1 0 4.4 0a2.2 2.2 0 1 0 -4.4 0" fill="none" stroke="#d2203c" stroke-width="1.2"/><path d="M244.3 421.7a2.2 2.2 0 1 0 4.4 0a2.2 2.2 0 1 0 -4.4 0M250.3 424.8a2.2 2.2 0 1 0 4.4 0a2.2 2.2 0 1 0 -4.4 0M251.3 430.0a2.2 2.2 0 1 0 4.4 0a2.2 2.2 0 1 0 -4.4 0M246.3 435.2a2.2 2.2 0 1 0 4.4 0a2.2 2.2 0 1 0 -4.4 0M242.3 442.5a2.2 2.2 0 1 0 4.4 0a2.2 2.2 0 1 0 -4.4 0M246.3 443.5a2.2 2.2 0 1 0 4.4 0a2.2 2.2 0 1 0 -4.4 0M250.3 443.5a2.2 2.2 0 1 0 4.4 0a2.2 2.2 0 1 0 -4.4 0M252.3 443.0a2.2 2.2 0 1 0 4.4 0a2.2 2.2 0 1 0 -4.4 0" fill="none" stroke="#d2203c" stroke-width="1.2"/><path d="M264.9 419.1h4.2v4.2h-4.2z" fill="none" stroke="#1e5a9c" stroke-width="1.15"/><path d="M261.3 427.9h4.2v4.2h-4.2zM265.7 431.0h4.2v4.2h-4.2zM266.9 433.1h4.2v4.2h-4.2zM269.4 435.2h4.2v4.2h-4.2zM268.2 437.3h4.2v4.2h-4.2zM269.0 438.3h4.2v4.2h-4.2zM264.4 439.3h4.2v4.2h-4.2zM260.8 440.4h4.2v4.2h-4.2zM262.5 441.4h4.2v4.2h-4.2zM262.2 442.5h4.2v4.2h-4.2zM260.9 441.9h4.2v4.2h-4.2zM262.7 440.9h4.2v4.2h-4.2z" fill="none" stroke="#1e5a9c" stroke-width="1.15"/><path d="M208.9 402.8V349.6H226.3V423.5" fill="none" stroke="#262626" stroke-width="1.0"/><path d="M210.50 346.0a1.25 1.25 0 1 0 2.5 0a1.25 1.25 0 1 0 -2.5 0M214.40 346.0a1.25 1.25 0 1 0 2.5 0a1.25 1.25 0 1 0 -2.5 0M218.30 346.0a1.25 1.25 0 1 0 2.5 0a1.25 1.25 0 1 0 -2.5 0M222.20 346.0a1.25 1.25 0 1 0 2.5 0a1.25 1.25 0 1 0 -2.5 0" fill="#1a1a1a"/><path d="M249.5 357.0V349.6H267.0V415.1" fill="none" stroke="#262626" stroke-width="1.0"/><path d="M255.05 346.0a1.25 1.25 0 1 0 2.5 0a1.25 1.25 0 1 0 -2.5 0M258.95 346.0a1.25 1.25 0 1 0 2.5 0a1.25 1.25 0 1 0 -2.5 0" fill="#1a1a1a"/><path d="M216.6 445.6L216.6 448.9" stroke="#262626" stroke-width="1"/><path d="M259.3 445.6L259.3 448.9" stroke="#262626" stroke-width="1"/><text x="209.2" y="460.2" font-size="9.6" fill="#2e2e2e" stroke="#2e2e2e" stroke-width="0.2" textLength="17.3" lengthAdjust="spacingAndGlyphs">IFNγ</text><text x="252.5" y="460.2" font-size="9.6" fill="#2e2e2e" stroke="#2e2e2e" stroke-width="0.2" textLength="14.4" lengthAdjust="spacingAndGlyphs">IL17</text><text x="296.2" y="316.9" font-size="12.8" fill="#0d0d0d" font-weight="bold">I</text><path d="M333.4 308.0L333.4 353.5" stroke="#262626" stroke-width="1.15"/><path d="M333.4 360.2L333.4 445.7" stroke="#262626" stroke-width="1.15"/><path d="M330.8 353.5L335.7 353.5" stroke="#262626" stroke-width="1.1"/><path d="M330.8 360.2L335.7 360.2" stroke="#262626" stroke-width="1.1"/><path d="M330.0 310.7L333.4 310.7" stroke="#262626" stroke-width="1"/><text x="326.9" y="313.3" font-size="8.4" fill="#2e2e2e" text-anchor="end" stroke="#2e2e2e" stroke-width="0.16" textLength="9.2" lengthAdjust="spacingAndGlyphs">70</text><path d="M330.0 321.4L333.4 321.4" stroke="#262626" stroke-width="1"/><text x="326.9" y="324.0" font-size="8.4" fill="#2e2e2e" text-anchor="end" stroke="#2e2e2e" stroke-width="0.16" textLength="9.2" lengthAdjust="spacingAndGlyphs">60</text><path d="M330.0 332.1L333.4 332.1" stroke="#262626" stroke-width="1"/><text x="326.9" y="334.7" font-size="8.4" fill="#2e2e2e" text-anchor="end" stroke="#2e2e2e" stroke-width="0.16" textLength="9.2" lengthAdjust="spacingAndGlyphs">50</text><path d="M330.0 342.8L333.4 342.8" stroke="#262626" stroke-width="1"/><text x="326.9" y="345.4" font-size="8.4" fill="#2e2e2e" text-anchor="end" stroke="#2e2e2e" stroke-width="0.16" textLength="9.2" lengthAdjust="spacingAndGlyphs">40</text><text x="326.9" y="356.1" font-size="8.4" fill="#2e2e2e" text-anchor="end" stroke="#2e2e2e" stroke-width="0.16" textLength="9.2" lengthAdjust="spacingAndGlyphs">30</text><text x="326.9" y="448.3" font-size="8.4" fill="#2e2e2e" text-anchor="end" stroke="#2e2e2e" stroke-width="0.16" textLength="4.6" lengthAdjust="spacingAndGlyphs">0</text><path d="M330.0 437.1L333.4 437.1" stroke="#262626" stroke-width="1"/><text x="326.9" y="439.8" font-size="8.4" fill="#2e2e2e" text-anchor="end" stroke="#2e2e2e" stroke-width="0.16" textLength="4.6" lengthAdjust="spacingAndGlyphs">2</text><path d="M330.0 428.6L333.4 428.6" stroke="#262626" stroke-width="1"/><text x="326.9" y="431.2" font-size="8.4" fill="#2e2e2e" text-anchor="end" stroke="#2e2e2e" stroke-width="0.16" textLength="4.6" lengthAdjust="spacingAndGlyphs">4</text><path d="M330.0 420.1L333.4 420.1" stroke="#262626" stroke-width="1"/><text x="326.9" y="422.7" font-size="8.4" fill="#2e2e2e" text-anchor="end" stroke="#2e2e2e" stroke-width="0.16" textLength="4.6" lengthAdjust="spacingAndGlyphs">6</text><path d="M330.0 411.5L333.4 411.5" stroke="#262626" stroke-width="1"/><text x="326.9" y="414.1" font-size="8.4" fill="#2e2e2e" text-anchor="end" stroke="#2e2e2e" stroke-width="0.16" textLength="4.6" lengthAdjust="spacingAndGlyphs">8</text><path d="M330.0 402.9L333.4 402.9" stroke="#262626" stroke-width="1"/><text x="326.9" y="405.6" font-size="8.4" fill="#2e2e2e" text-anchor="end" stroke="#2e2e2e" stroke-width="0.16" textLength="9.2" lengthAdjust="spacingAndGlyphs">10</text><path d="M330.0 394.4L333.4 394.4" stroke="#262626" stroke-width="1"/><text x="326.9" y="397.0" font-size="8.4" fill="#2e2e2e" text-anchor="end" stroke="#2e2e2e" stroke-width="0.16" textLength="9.2" lengthAdjust="spacingAndGlyphs">12</text><path d="M330.0 385.8L333.4 385.8" stroke="#262626" stroke-width="1"/><text x="326.9" y="388.4" font-size="8.4" fill="#2e2e2e" text-anchor="end" stroke="#2e2e2e" stroke-width="0.16" textLength="9.2" lengthAdjust="spacingAndGlyphs">14</text><path d="M330.0 377.3L333.4 377.3" stroke="#262626" stroke-width="1"/><text x="326.9" y="379.9" font-size="8.4" fill="#2e2e2e" text-anchor="end" stroke="#2e2e2e" stroke-width="0.16" textLength="9.2" lengthAdjust="spacingAndGlyphs">16</text><path d="M330.0 368.8L333.4 368.8" stroke="#262626" stroke-width="1"/><text x="326.9" y="371.4" font-size="8.4" fill="#2e2e2e" text-anchor="end" stroke="#2e2e2e" stroke-width="0.16" textLength="9.2" lengthAdjust="spacingAndGlyphs">18</text><text x="326.9" y="362.8" font-size="8.4" fill="#2e2e2e" text-anchor="end" stroke="#2e2e2e" stroke-width="0.16" textLength="9.2" lengthAdjust="spacingAndGlyphs">20</text><path d="M333.4 445.7L502.7 445.7" stroke="#262626" stroke-width="1.15"/><text x="311.2" y="374.2" font-size="10" fill="#2e2e2e" text-anchor="middle" stroke="#2e2e2e" stroke-width="0.22" textLength="104" lengthAdjust="spacingAndGlyphs" transform="rotate(-90 311.2 374.2)">% CellTrace-FarRed low B cells</text><path d="M341.6 445.7L341.6 448.5" stroke="#262626" stroke-width="1"/><path d="M354.0 445.7L354.0 448.5" stroke="#262626" stroke-width="1"/><path d="M366.5 445.7L366.5 448.5" stroke="#262626" stroke-width="1"/><path d="M379.0 445.7L379.0 448.5" stroke="#262626" stroke-width="1"/><path d="M399.6 445.7L399.6 448.5" stroke="#262626" stroke-width="1"/><path d="M412.3 445.7L412.3 448.5" stroke="#262626" stroke-width="1"/><path d="M424.5 445.7L424.5 448.5" stroke="#262626" stroke-width="1"/><path d="M437.4 445.7L437.4 448.5" stroke="#262626" stroke-width="1"/><path d="M457.7 445.7L457.7 448.5" stroke="#262626" stroke-width="1"/><path d="M470.2 445.7L470.2 448.5" stroke="#262626" stroke-width="1"/><path d="M482.6 445.7L482.6 448.5" stroke="#262626" stroke-width="1"/><path d="M495.0 445.7L495.0 448.5" stroke="#262626" stroke-width="1"/><rect x="338.0" y="438.0" width="7.2" height="7.7" fill="#dcdcdc"/><rect x="350.4" y="437.1" width="7.2" height="8.6" fill="#ef8e86"/><rect x="362.9" y="438.0" width="7.2" height="7.7" fill="#8a9bc9"/><rect x="375.4" y="428.6" width="7.2" height="17.1" fill="#8aa99a"/><rect x="396.0" y="433.7" width="7.2" height="12.0" fill="#dcdcdc"/><rect x="408.7" y="432.0" width="7.2" height="13.7" fill="#ef8e86"/><rect x="420.9" y="435.0" width="7.2" height="10.7" fill="#8a9bc9"/><rect x="433.8" y="415.8" width="7.2" height="29.9" fill="#8aa99a"/><rect x="454.1" y="433.7" width="7.2" height="12.0" fill="#dcdcdc"/><rect x="466.6" y="412.4" width="7.2" height="33.3" fill="#ef8e86"/><rect x="479.0" y="435.4" width="7.2" height="10.3" fill="#8a9bc9"/><rect x="491.4" y="360.2" width="7.2" height="85.5" fill="#8aa99a"/><rect x="491.4" y="336.4" width="7.2" height="17.1" fill="#8aa99a"/><path d="M341.6 440.6V433.7" stroke="#c4c4c4" stroke-width="1"/><path d="M341.6 438.3l2.3 2.3l-2.3 2.3l-2.3 -2.3zM341.6 431.4l2.3 2.3l-2.3 2.3l-2.3 -2.3z" fill="none" stroke="#c4c4c4" stroke-width="1"/><path d="M399.6 441.4V425.2" stroke="#c4c4c4" stroke-width="1"/><path d="M399.6 439.1l2.3 2.3l-2.3 2.3l-2.3 -2.3zM399.6 422.9l2.3 2.3l-2.3 2.3l-2.3 -2.3z" fill="none" stroke="#c4c4c4" stroke-width="1"/><path d="M457.7 441.4V425.6" stroke="#c4c4c4" stroke-width="1"/><path d="M457.7 439.1l2.3 2.3l-2.3 2.3l-2.3 -2.3zM457.7 423.3l2.3 2.3l-2.3 2.3l-2.3 -2.3z" fill="none" stroke="#c4c4c4" stroke-width="1"/><path d="M351.7 432.9a2.2 2.2 0 1 0 4.4 0a2.2 2.2 0 1 0 -4.4 0M353.6 435.0a2.2 2.2 0 1 0 4.4 0a2.2 2.2 0 1 0 -4.4 0M352.1 436.3a2.2 2.2 0 1 0 4.4 0a2.2 2.2 0 1 0 -4.4 0M351.4 437.1a2.2 2.2 0 1 0 4.4 0a2.2 2.2 0 1 0 -4.4 0M352.2 438.0a2.2 2.2 0 1 0 4.4 0a2.2 2.2 0 1 0 -4.4 0M352.2 439.3a2.2 2.2 0 1 0 4.4 0a2.2 2.2 0 1 0 -4.4 0M351.7 440.6a2.2 2.2 0 1 0 4.4 0a2.2 2.2 0 1 0 -4.4 0M353.5 441.4a2.2 2.2 0 1 0 4.4 0a2.2 2.2 0 1 0 -4.4 0" fill="none" stroke="#d2203c" stroke-width="1.2"/><path d="M365.1 432.9h4.2v4.2h-4.2zM364.0 434.2h4.2v4.2h-4.2zM363.7 435.0h4.2v4.2h-4.2zM365.9 437.2h4.2v4.2h-4.2zM365.7 438.5h4.2v4.2h-4.2zM362.9 439.3h4.2v4.2h-4.2z" fill="none" stroke="#1e5a9c" stroke-width="1.15"/><path d="M411.2 424.3a2.2 2.2 0 1 0 4.4 0a2.2 2.2 0 1 0 -4.4 0M412.3 425.6a2.2 2.2 0 1 0 4.4 0a2.2 2.2 0 1 0 -4.4 0M412.3 427.7a2.2 2.2 0 1 0 4.4 0a2.2 2.2 0 1 0 -4.4 0M409.0 429.5a2.2 2.2 0 1 0 4.4 0a2.2 2.2 0 1 0 -4.4 0M407.8 430.7a2.2 2.2 0 1 0 4.4 0a2.2 2.2 0 1 0 -4.4 0M412.3 432.9a2.2 2.2 0 1 0 4.4 0a2.2 2.2 0 1 0 -4.4 0M412.4 435.0a2.2 2.2 0 1 0 4.4 0a2.2 2.2 0 1 0 -4.4 0M408.7 437.1a2.2 2.2 0 1 0 4.4 0a2.2 2.2 0 1 0 -4.4 0M412.2 439.3a2.2 2.2 0 1 0 4.4 0a2.2 2.2 0 1 0 -4.4 0M408.4 441.4a2.2 2.2 0 1 0 4.4 0a2.2 2.2 0 1 0 -4.4 0M408.0 442.3a2.2 2.2 0 1 0 4.4 0a2.2 2.2 0 1 0 -4.4 0" fill="none" stroke="#d2203c" stroke-width="1.2"/><path d="M422.9 426.5h4.2v4.2h-4.2zM422.2 428.6h4.2v4.2h-4.2zM422.8 431.6h4.2v4.2h-4.2zM424.5 432.9h4.2v4.2h-4.2zM420.7 435.0h4.2v4.2h-4.2zM422.9 437.2h4.2v4.2h-4.2zM424.4 439.3h4.2v4.2h-4.2zM420.4 439.3h4.2v4.2h-4.2z" fill="none" stroke="#1e5a9c" stroke-width="1.15"/><path d="M468.0 389.3a2.2 2.2 0 1 0 4.4 0a2.2 2.2 0 1 0 -4.4 0M467.7 400.0a2.2 2.2 0 1 0 4.4 0a2.2 2.2 0 1 0 -4.4 0M468.2 404.7a2.2 2.2 0 1 0 4.4 0a2.2 2.2 0 1 0 -4.4 0" fill="none" stroke="#d2203c" stroke-width="1.2"/><path d="M470.7 409.4a2.2 2.2 0 1 0 4.4 0a2.2 2.2 0 1 0 -4.4 0M467.1 413.6a2.2 2.2 0 1 0 4.4 0a2.2 2.2 0 1 0 -4.4 0M466.1 415.8a2.2 2.2 0 1 0 4.4 0a2.2 2.2 0 1 0 -4.4 0M466.9 416.6a2.2 2.2 0 1 0 4.4 0a2.2 2.2 0 1 0 -4.4 0M468.6 417.9a2.2 2.2 0 1 0 4.4 0a2.2 2.2 0 1 0 -4.4 0M470.6 420.1a2.2 2.2 0 1 0 4.4 0a2.2 2.2 0 1 0 -4.4 0M470.5 420.9a2.2 2.2 0 1 0 4.4 0a2.2 2.2 0 1 0 -4.4 0M465.2 422.2a2.2 2.2 0 1 0 4.4 0a2.2 2.2 0 1 0 -4.4 0" fill="none" stroke="#d2203c" stroke-width="1.2"/><path d="M480.3 423.9h4.2v4.2h-4.2z" fill="none" stroke="#1e5a9c" stroke-width="1.15"/><path d="M482.9 430.8h4.2v4.2h-4.2zM480.2 431.6h4.2v4.2h-4.2zM480.6 432.9h4.2v4.2h-4.2zM480.5 434.2h4.2v4.2h-4.2zM481.1 435.0h4.2v4.2h-4.2z" fill="none" stroke="#1e5a9c" stroke-width="1.15"/><path d="M379 440.6V415.8" stroke="#2e7a5a" stroke-width="1"/><path d="M379.0 438.3l2.3 2.3l-2.3 2.3l-2.3 -2.3zM379.0 413.5l2.3 2.3l-2.3 2.3l-2.3 -2.3z" fill="#4f8a70" stroke="#2e7a5a" stroke-width="1.2"/><path d="M437.4 433.7V397.0" stroke="#2e7a5a" stroke-width="1"/><path d="M437.4 431.4l2.3 2.3l-2.3 2.3l-2.3 -2.3zM437.4 394.7l2.3 2.3l-2.3 2.3l-2.3 -2.3z" fill="#4f8a70" stroke="#2e7a5a" stroke-width="1.2"/><path d="M495 348.1V323.5" stroke="#2e7a5a" stroke-width="1"/><path d="M495.0 345.8l2.3 2.3l-2.3 2.3l-2.3 -2.3zM495.0 321.2l2.3 2.3l-2.3 2.3l-2.3 -2.3z" fill="#4f8a70" stroke="#2e7a5a" stroke-width="1.2"/><path d="M470.2 382.6V314.2H482.6V421.3" fill="none" stroke="#262626" stroke-width="1.0"/><path d="M469.30 309.5a1.25 1.25 0 1 0 2.5 0a1.25 1.25 0 1 0 -2.5 0M473.20 309.5a1.25 1.25 0 1 0 2.5 0a1.25 1.25 0 1 0 -2.5 0M477.10 309.5a1.25 1.25 0 1 0 2.5 0a1.25 1.25 0 1 0 -2.5 0M481.00 309.5a1.25 1.25 0 1 0 2.5 0a1.25 1.25 0 1 0 -2.5 0" fill="#1a1a1a"/><path d="M346.3 309.8l2.4 2.4l-2.4 2.4l-2.4 -2.4z" fill="none" stroke="#c4c4c4" stroke-width="1"/><circle cx="346.3" cy="324.3" r="2.2" fill="none" stroke="#d2203c" stroke-width="1"/><rect x="344.2" y="333.8" width="4.2" height="4.2" fill="none" stroke="#1e5a9c" stroke-width="1"/><path d="M346.3 345.6l2.4 2.4l-2.4 2.4l-2.4 -2.4z" fill="none" stroke="#2e7a5a" stroke-width="1"/><text x="352.7" y="314.7" font-size="8.0" fill="#444" stroke="#444" stroke-width="0.16" textLength="22.5" lengthAdjust="spacingAndGlyphs">B cells</text><text x="352.7" y="326.8" font-size="8.0" fill="#444" stroke="#444" stroke-width="0.16" textLength="14.1" lengthAdjust="spacingAndGlyphs">ICPi</text><text x="352.7" y="338.4" font-size="8.0" fill="#444" stroke="#444" stroke-width="0.16" textLength="14.1" lengthAdjust="spacingAndGlyphs">PBS</text><text x="352.7" y="350.7" font-size="8.0" fill="#444" stroke="#444" stroke-width="0.16" textLength="34.6" lengthAdjust="spacingAndGlyphs">OTII mice</text><text x="311.2" y="460.0" font-size="8.9" fill="#333" stroke="#333" stroke-width="0.16" textLength="24.4" lengthAdjust="spacingAndGlyphs">B cells</text><text x="341.6" y="460.0" font-size="8.5" fill="#444" text-anchor="middle" stroke="#444" stroke-width="0.16">+</text><text x="354.0" y="460.0" font-size="8.5" fill="#444" text-anchor="middle" stroke="#444" stroke-width="0.16">+</text><text x="366.5" y="460.0" font-size="8.5" fill="#444" text-anchor="middle" stroke="#444" stroke-width="0.16">+</text><text x="379.0" y="460.0" font-size="8.5" fill="#444" text-anchor="middle" stroke="#444" stroke-width="0.16">+</text><text x="399.6" y="460.0" font-size="8.5" fill="#444" text-anchor="middle" stroke="#444" stroke-width="0.16">+</text><text x="412.3" y="460.0" font-size="8.5" fill="#444" text-anchor="middle" stroke="#444" stroke-width="0.16">+</text><text x="424.5" y="460.0" font-size="8.5" fill="#444" text-anchor="middle" stroke="#444" stroke-width="0.16">+</text><text x="437.4" y="460.0" font-size="8.5" fill="#444" text-anchor="middle" stroke="#444" stroke-width="0.16">+</text><text x="457.7" y="460.0" font-size="8.5" fill="#444" text-anchor="middle" stroke="#444" stroke-width="0.16">+</text><text x="470.2" y="460.0" font-size="8.5" fill="#444" text-anchor="middle" stroke="#444" stroke-width="0.16">+</text><text x="482.6" y="460.0" font-size="8.5" fill="#444" text-anchor="middle" stroke="#444" stroke-width="0.16">+</text><text x="495.0" y="460.0" font-size="8.5" fill="#444" text-anchor="middle" stroke="#444" stroke-width="0.16">+</text><text x="311.2" y="472.7" font-size="8.9" fill="#333" stroke="#333" stroke-width="0.16" textLength="24.4" lengthAdjust="spacingAndGlyphs">T cells</text><text x="341.6" y="472.7" font-size="8.5" fill="#444" text-anchor="middle" stroke="#444" stroke-width="0.16">–</text><text x="354.0" y="472.7" font-size="8.5" fill="#444" text-anchor="middle" stroke="#444" stroke-width="0.16">+</text><text x="366.5" y="472.7" font-size="8.5" fill="#444" text-anchor="middle" stroke="#444" stroke-width="0.16">+</text><text x="379.0" y="472.7" font-size="8.5" fill="#444" text-anchor="middle" stroke="#444" stroke-width="0.16">+</text><text x="399.6" y="472.7" font-size="8.5" fill="#444" text-anchor="middle" stroke="#444" stroke-width="0.16">–</text><text x="412.3" y="472.7" font-size="8.5" fill="#444" text-anchor="middle" stroke="#444" stroke-width="0.16">+</text><text x="424.5" y="472.7" font-size="8.5" fill="#444" text-anchor="middle" stroke="#444" stroke-width="0.16">+</text><text x="437.4" y="472.7" font-size="8.5" fill="#444" text-anchor="middle" stroke="#444" stroke-width="0.16">+</text><text x="457.7" y="472.7" font-size="8.5" fill="#444" text-anchor="middle" stroke="#444" stroke-width="0.16">–</text><text x="470.2" y="472.7" font-size="8.5" fill="#444" text-anchor="middle" stroke="#444" stroke-width="0.16">+</text><text x="482.6" y="472.7" font-size="8.5" fill="#444" text-anchor="middle" stroke="#444" stroke-width="0.16">+</text><text x="495.0" y="472.7" font-size="8.5" fill="#444" text-anchor="middle" stroke="#444" stroke-width="0.16">+</text><text x="311.2" y="485.0" font-size="8.9" fill="#333" stroke="#333" stroke-width="0.16" textLength="15.3" lengthAdjust="spacingAndGlyphs">HEL</text><text x="341.6" y="485.0" font-size="8.5" fill="#444" text-anchor="middle" stroke="#444" stroke-width="0.16">–</text><text x="354.0" y="485.0" font-size="8.5" fill="#444" text-anchor="middle" stroke="#444" stroke-width="0.16">–</text><text x="366.5" y="485.0" font-size="8.5" fill="#444" text-anchor="middle" stroke="#444" stroke-width="0.16">–</text><text x="379.0" y="485.0" font-size="8.5" fill="#444" text-anchor="middle" stroke="#444" stroke-width="0.16">–</text><text x="399.6" y="485.0" font-size="8.5" fill="#444" text-anchor="middle" stroke="#444" stroke-width="0.16">+</text><text x="412.3" y="485.0" font-size="8.5" fill="#444" text-anchor="middle" stroke="#444" stroke-width="0.16">+</text><text x="424.5" y="485.0" font-size="8.5" fill="#444" text-anchor="middle" stroke="#444" stroke-width="0.16">+</text><text x="437.4" y="485.0" font-size="8.5" fill="#444" text-anchor="middle" stroke="#444" stroke-width="0.16">+</text><text x="457.7" y="485.0" font-size="8.5" fill="#444" text-anchor="middle" stroke="#444" stroke-width="0.16">+</text><text x="470.2" y="485.0" font-size="8.5" fill="#444" text-anchor="middle" stroke="#444" stroke-width="0.16">+</text><text x="482.6" y="485.0" font-size="8.5" fill="#444" text-anchor="middle" stroke="#444" stroke-width="0.16">+</text><text x="495.0" y="485.0" font-size="8.5" fill="#444" text-anchor="middle" stroke="#444" stroke-width="0.16">+</text><text x="311.2" y="497.7" font-size="8.9" fill="#333" stroke="#333" stroke-width="0.16" textLength="17.6" lengthAdjust="spacingAndGlyphs">OVA</text><text x="341.6" y="497.7" font-size="8.5" fill="#444" text-anchor="middle" stroke="#444" stroke-width="0.16">–</text><text x="354.0" y="497.7" font-size="8.5" fill="#444" text-anchor="middle" stroke="#444" stroke-width="0.16">–</text><text x="366.5" y="497.7" font-size="8.5" fill="#444" text-anchor="middle" stroke="#444" stroke-width="0.16">–</text><text x="379.0" y="497.7" font-size="8.5" fill="#444" text-anchor="middle" stroke="#444" stroke-width="0.16">–</text><text x="399.6" y="497.7" font-size="8.5" fill="#444" text-anchor="middle" stroke="#444" stroke-width="0.16">–</text><text x="412.3" y="497.7" font-size="8.5" fill="#444" text-anchor="middle" stroke="#444" stroke-width="0.16">–</text><text x="424.5" y="497.7" font-size="8.5" fill="#444" text-anchor="middle" stroke="#444" stroke-width="0.16">–</text><text x="437.4" y="497.7" font-size="8.5" fill="#444" text-anchor="middle" stroke="#444" stroke-width="0.16">–</text><text x="457.7" y="497.7" font-size="8.5" fill="#444" text-anchor="middle" stroke="#444" stroke-width="0.16">+</text><text x="470.2" y="497.7" font-size="8.5" fill="#444" text-anchor="middle" stroke="#444" stroke-width="0.16">+</text><text x="482.6" y="497.7" font-size="8.5" fill="#444" text-anchor="middle" stroke="#444" stroke-width="0.16">+</text><text x="495.0" y="497.7" font-size="8.5" fill="#444" text-anchor="middle" stroke="#444" stroke-width="0.16">+</text></svg></div></body></html>
